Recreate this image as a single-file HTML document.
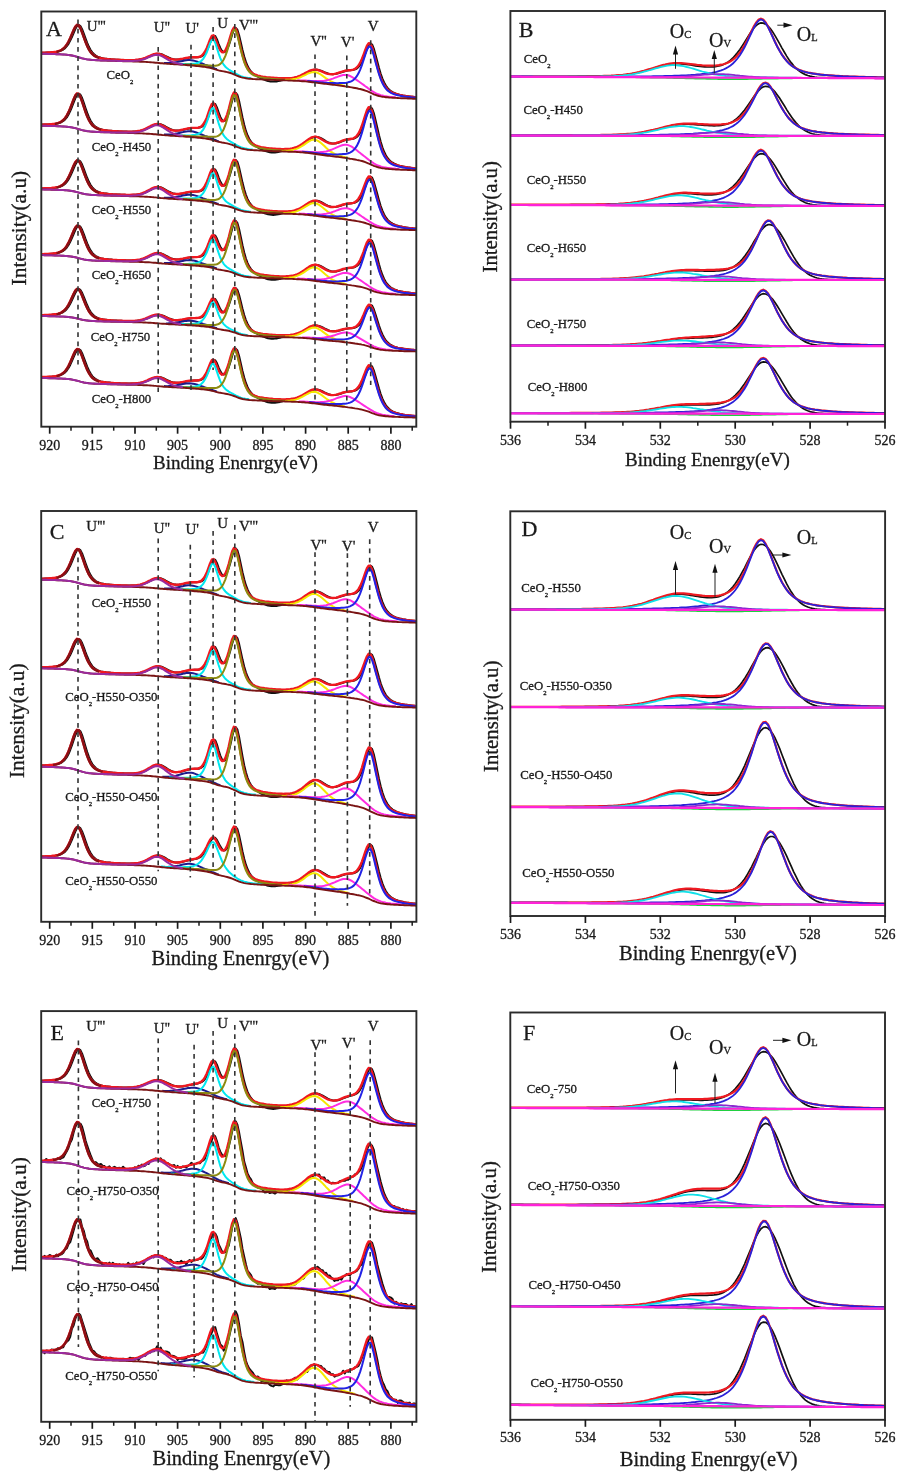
<!DOCTYPE html>
<html><head><meta charset="utf-8"><style>
html,body{margin:0;padding:0;background:#fff;width:900px;height:1483px;overflow:hidden}
svg{display:block;filter:blur(0.4px)}
text{font-family:"Liberation Serif", serif;fill:#1a1a1a;stroke:#1a1a1a;stroke-width:0.3px}
</style></head><body>
<svg width="900" height="1483" viewBox="0 0 900 1483">
<rect width="900" height="1483" fill="#fff"/>
<defs><clipPath id="clipA"><rect x="41.3" y="11.5" width="375.0" height="415.2"/></clipPath><clipPath id="clipB"><rect x="510.4" y="11.0" width="374.6" height="410.7"/></clipPath><clipPath id="clipC"><rect x="41.2" y="511.0" width="375.2" height="410.8"/></clipPath><clipPath id="clipD"><rect x="510.3" y="511.3" width="374.8" height="404.7"/></clipPath><clipPath id="clipE"><rect x="41.2" y="1011.1" width="375.2" height="410.7"/></clipPath><clipPath id="clipF"><rect x="510.3" y="1012.5" width="374.7" height="407.3"/></clipPath></defs>
<g clip-path="url(#clipA)">
<path d="M41.2,52.7 42.9,52.7 44.6,52.7 46.3,52.6 48,52.6 49.7,52.5 51.4,52.4 53.1,52.3 54.8,52.1 56.5,51.9 58.2,51.6 59.9,51.1 61.6,50.4 63.3,49.5 65.1,48.1 66.8,46.2 68.5,43.8 70.2,40.6 71.9,37 73.6,33 75.3,29.1 77,26.1 78.7,24.9 80.4,26 82.1,29.2 83.8,33.6 85.5,38.3 87.2,42.8 88.9,46.8 90.6,50 92.3,52.4 94.1,54.3 95.8,55.6 97.5,56.6 99.2,57.3 100.9,57.8 102.6,58.2 104.3,58.5 106,58.7 107.7,59 109.4,59.1 111.1,59.3 112.8,59.4 114.5,59.5 116.2,59.7 117.9,59.8 119.6,59.8 121.4,59.9 123.1,60 124.8,60 126.5,60.1 128.2,60.1 129.9,60.1 131.6,60.1 133.3,60.1 135,60.1 136.7,59.9 138.4,59.8 140.1,59.5 141.8,59.2 143.5,58.8 145.2,58.2 146.9,57.6 148.6,56.9 150.4,56.1 152.1,55.4 153.8,54.7 155.5,54.1 157.2,53.8 158.9,53.7 160.6,54 162.3,54.5 164,55.3 165.7,56.1 167.4,56.9 169.1,57.7 170.8,58.4 172.5,59 174.2,59.3 175.9,59.5 177.6,59.6 179.4,59.5 181.1,59.3 182.8,59 184.5,58.6 186.2,58.2 187.9,57.9 189.6,57.6 191.3,57.4 193,57.3 194.7,57.2 196.4,57.2 198.1,57.2 199.8,57 201.5,56.4 203.2,55.4 204.9,53.6 206.7,50.9 208.4,47.2 210.1,42.9 211.8,38.5 213.5,35.8 215.2,36 216.9,39.2 218.6,43.8 220.3,48 222,50.9 223.7,52.2 225.4,51.6 227.1,49.3 228.8,45.4 230.5,40.1 232.2,34.5 233.9,29.7 235.7,27.8 237.4,29.7 239.1,35.3 240.8,42.5 242.5,50 244.2,56.5 245.9,61.9 247.6,66.1 249.3,69.2 251,71.5 252.7,73.2 254.4,74.6 256.1,75.7 257.8,76.7 259.5,77.6 261.2,78.5 262.9,79.2 264.7,79.9 266.4,80.5 268.1,81 269.8,81.4 271.5,81.6 273.2,81.6 274.9,81.5 276.6,81.4 278.3,81.1 280,80.8 281.7,80.4 283.4,80 285.1,79.7 286.8,79.3 288.5,79 290.2,78.7 292,78.4 293.7,78.1 295.4,77.7 297.1,77.2 298.8,76.7 300.5,76.1 302.2,75.3 303.9,74.5 305.6,73.6 307.3,72.7 309,71.8 310.7,71 312.4,70.3 314.1,69.8 315.8,69.6 317.5,69.7 319.2,70.1 321,70.6 322.7,71.3 324.4,72.1 326.1,72.8 327.8,73.4 329.5,73.9 331.2,74.1 332.9,74.2 334.6,74.1 336.3,73.8 338,73.4 339.7,72.9 341.4,72.3 343.1,71.7 344.8,71.2 346.5,70.8 348.2,70.5 350,70.3 351.7,70.1 353.4,69.9 355.1,69.4 356.8,68.5 358.5,67 360.2,64.8 361.9,61.8 363.6,57.9 365.3,53.4 367,48.8 368.7,45 370.4,43.3 372.1,44.5 373.8,48.6 375.5,54.7 377.3,61.5 379,68 380.7,73.8 382.4,78.6 384.1,82.5 385.8,85.6 387.5,87.9 389.2,89.7 390.9,91 392.6,92.1 394.3,92.9 396,93.6 397.7,94.1 399.4,94.6 401.1,95 402.8,95.4 404.5,95.7 406.3,96 408,96.2 409.7,96.4 411.4,96.7 413.1,96.8 414.8,97 416.5,97.2" fill="none" stroke="#111" stroke-width="2.0" stroke-linejoin="round"/>
<path d="M41.2,52.7 42.9,52.7 44.6,52.7 46.3,52.6 48,52.5 49.7,52.4 51.4,52.3 53.1,52.2 54.8,51.9 56.5,51.7 58.2,51.2 59.9,50.7 61.6,49.8 63.3,48.6 65.1,46.8 66.8,44.5 68.5,41.5 70.2,38 71.9,34 73.6,29.9 75.3,26.6 77,24.8 78.7,25.3 80.4,28.1 82.1,32.4 83.8,37.2 85.5,41.8 87.2,45.9 88.9,49.3 90.6,51.9 92.3,53.9 94.1,55.4 95.8,56.4 97.5,57.2 99.2,57.7 100.9,58.1 102.6,58.4 104.3,58.7 106,58.9 107.7,59.1 109.4,59.3 111.1,59.4 112.8,59.5 114.5,59.6 116.2,59.7 117.9,59.8 119.6,59.9 121.4,60 123.1,60 124.8,60.1 126.5,60.1 128.2,60.1 129.9,60.1 131.6,60.1 133.3,60.1 135,60 136.7,59.8 138.4,59.6 140.1,59.3 141.8,58.9 143.5,58.4 145.2,57.8 146.9,57.1 148.6,56.3 150.4,55.6 152.1,54.8 153.8,54.2 155.5,53.8 157.2,53.7 158.9,53.9 160.6,54.4 162.3,55.1 164,55.9 165.7,56.7 167.4,57.6 169.1,58.3 170.8,58.9 172.5,59.3 174.2,59.5 175.9,59.6 177.6,59.5 179.4,59.3 181.1,59 182.8,58.7 184.5,58.3 186.2,58 187.9,57.7 189.6,57.4 191.3,57.3 193,57.2 194.7,57.2 196.4,57.2 198.1,57.1 199.8,56.6 201.5,55.8 203.2,54.2 204.9,51.8 206.7,48.3 208.4,44 210.1,39.4 211.8,35.9 213.5,35.3 215.2,38.1 216.9,42.6 218.6,47.2 220.3,50.5 222,52.2 223.7,52.1 225.4,50.2 227.1,46.6 228.8,41.6 230.5,35.8 232.2,30.5 233.9,27.5 235.7,28.5 237.4,33.4 239.1,40.6 240.8,48.2 242.5,55 244.2,60.7 245.9,65 247.6,68.3 249.3,70.6 251,72.3 252.7,73.5 254.4,74.4 256.1,75 257.8,75.6 259.5,76 261.2,76.4 262.9,76.7 264.7,76.9 266.4,77.2 268.1,77.4 269.8,77.5 271.5,77.7 273.2,77.8 274.9,77.9 276.6,78 278.3,78.1 280,78.2 281.7,78.3 283.4,78.3 285.1,78.3 286.8,78.3 288.5,78.2 290.2,78.1 292,77.9 293.7,77.6 295.4,77.2 297.1,76.8 298.8,76.2 300.5,75.5 302.2,74.7 303.9,73.9 305.6,72.9 307.3,72 309,71.2 310.7,70.4 312.4,69.9 314.1,69.6 315.8,69.6 317.5,69.9 319.2,70.5 321,71.2 322.7,71.9 324.4,72.6 326.1,73.3 327.8,73.8 329.5,74.1 331.2,74.2 332.9,74.2 334.6,73.9 336.3,73.5 338,73 339.7,72.4 341.4,71.8 343.1,71.3 344.8,70.8 346.5,70.5 348.2,70.3 350,70.2 351.7,70 353.4,69.6 355.1,68.8 356.8,67.5 358.5,65.5 360.2,62.7 361.9,59 363.6,54.6 365.3,49.9 367,45.6 368.7,43.2 370.4,43.6 372.1,47.2 373.8,53 375.5,59.8 377.3,66.5 379,72.5 380.7,77.6 382.4,81.7 384.1,84.9 385.8,87.4 387.5,89.3 389.2,90.8 390.9,91.9 392.6,92.8 394.3,93.5 396,94 397.7,94.5 399.4,94.9 401.1,95.3 402.8,95.6 404.5,95.9 406.3,96.2 408,96.4 409.7,96.6 411.4,96.8 413.1,97 414.8,97.1 416.5,97.3" fill="none" stroke="#f01820" stroke-width="2.4" stroke-linejoin="round"/>
<path d="M164,63 165.7,63 167.4,63 169.1,62.9 170.8,62.8 172.5,62.7 174.2,62.5 175.9,62.2 177.6,61.9 179.4,61.6 181.1,61.2 182.8,60.9 184.5,60.6 186.2,60.3 187.9,60.1 189.6,60.1 191.3,60.2 193,60.5 194.7,60.9 196.4,61.4 198.1,62 199.8,62.6 201.5,63.3 203.2,63.9 204.9,64.6 206.7,65.2 208.4,65.9 210.1,66.5 211.8,67.3 213.5,68 215.2,68.7 216.9,69.3" fill="none" stroke="#1c1c8c" stroke-width="2.0"/>
<path d="M175.9,63.8 177.6,63.8 179.4,63.8 181.1,63.9 182.8,63.9 184.5,63.9 186.2,63.9 187.9,63.9 189.6,63.9 191.3,63.8 193,63.7 194.7,63.5 196.4,63.2 198.1,62.7 199.8,61.9 201.5,60.7 203.2,58.8 204.9,56.1 206.7,52.5 208.4,48 210.1,43.4 211.8,40 213.5,39.6 215.2,42.8 216.9,47.9 218.6,53.4 220.3,58.1 222,61.9 223.7,64.7 225.4,66.7 227.1,68.3 228.8,69.5 230.5,70.6 232.2,71.6 233.9,72.6 235.7,73.6 237.4,74.5 239.1,75.3 240.8,76.1 242.5,76.6 244.2,77.1 245.9,77.5 247.6,77.8 249.3,78 251,78.3" fill="none" stroke="#00e8f0" stroke-width="2.0"/>
<path d="M184.5,64.3 186.2,64.4 187.9,64.5 189.6,64.6 191.3,64.7 193,64.8 194.7,64.9 196.4,64.9 198.1,65 199.8,65.1 201.5,65.1 203.2,65.2 204.9,65.3 206.7,65.3 208.4,65.4 210.1,65.5 211.8,65.7 213.5,65.8 215.2,65.8 216.9,65.6 218.6,65 220.3,63.9 222,62.2 223.7,59.5 225.4,55.9 227.1,51.1 228.8,45.2 230.5,38.9 232.2,33.1 233.9,29.8 235.7,30.6 237.4,35.3 239.1,42.4 240.8,49.8 242.5,56.5 244.2,62.1 245.9,66.4 247.6,69.5 249.3,71.8 251,73.4 252.7,74.6 254.4,75.5 256.1,76.1 257.8,76.6 259.5,77 261.2,77.4 262.9,77.7 264.7,78 266.4,78.2 268.1,78.4 269.8,78.6 271.5,78.8 273.2,78.9 274.9,79.1 276.6,79.2 278.3,79.3 280,79.4 281.7,79.6 283.4,79.7 285.1,79.8" fill="none" stroke="#8c8a10" stroke-width="2.0"/>
<path d="M285.1,79.8 286.8,79.8 288.5,79.7 290.2,79.6 292,79.4 293.7,79.1 295.4,78.8 297.1,78.4 298.8,77.8 300.5,77.2 302.2,76.4 303.9,75.6 305.6,74.8 307.3,73.9 309,73.2 310.7,72.6 312.4,72.2 314.1,72.1 315.8,72.3 317.5,72.8 319.2,73.7 321,74.7 322.7,75.9 324.4,77.1 326.1,78.3 327.8,79.4 329.5,80.5 331.2,81.4 332.9,82.2 334.6,82.9 336.3,83.6 338,84.1 339.7,84.6 341.4,85 343.1,85.4 344.8,85.7" fill="none" stroke="#f5e800" stroke-width="2.0"/>
<path d="M297.1,80.3 298.8,80.3 300.5,80.4 302.2,80.5 303.9,80.5 305.6,80.6 307.3,80.7 309,80.8 310.7,80.9 312.4,81 314.1,81.1 315.8,81.1 317.5,81.1 319.2,81.1 321,81 322.7,80.9 324.4,80.7 326.1,80.4 327.8,80.1 329.5,79.6 331.2,79.1 332.9,78.6 334.6,77.9 336.3,77.3 338,76.6 339.7,76 341.4,75.5 343.1,75.1 344.8,74.9 346.5,75 348.2,75.3 350,76 351.7,76.8 353.4,77.8 355.1,78.9 356.8,80.1 358.5,81.3 360.2,82.5 361.9,83.7 363.6,84.9 365.3,86.2 367,87.4 368.7,88.7 370.4,89.9 372.1,91.1 373.8,92.1 375.5,93.1 377.3,93.9 379,94.5 380.7,95.1 382.4,95.5 384.1,95.9 385.8,96.2 387.5,96.5 389.2,96.7 390.9,96.9 392.6,97.1 394.3,97.2 396,97.4" fill="none" stroke="#ff2ce0" stroke-width="2.0"/>
<path d="M307.3,81 309,81.2 310.7,81.3 312.4,81.5 314.1,81.7 315.8,81.8 317.5,82 319.2,82.2 321,82.4 322.7,82.5 324.4,82.7 326.1,82.8 327.8,82.9 329.5,83 331.2,83 332.9,83.1 334.6,83.1 336.3,83.2 338,83.2 339.7,83.1 341.4,83.1 343.1,83 344.8,82.9 346.5,82.7 348.2,82.3 350,81.8 351.7,81.1 353.4,80 355.1,78.4 356.8,76.2 358.5,73.3 360.2,69.6 361.9,65.1 363.6,60 365.3,54.6 367,49.7 368.7,46.8 370.4,46.7 372.1,49.9 373.8,55.4 375.5,61.9 377.3,68.4 379,74.2 380.7,79.1 382.4,83.1 384.1,86.2 385.8,88.6 387.5,90.4 389.2,91.7 390.9,92.8 392.6,93.6 394.3,94.3 396,94.8 397.7,95.2 399.4,95.6 401.1,95.9 402.8,96.2 404.5,96.5 406.3,96.7 408,96.9 409.7,97.1 411.4,97.3 413.1,97.4 414.8,97.6 416.5,97.7" fill="none" stroke="#2222e6" stroke-width="2.0"/>
<path d="M41.2,53.7 42.9,53.7 44.6,53.8 46.3,53.8 48,53.9 49.7,53.9 51.4,54 53.1,54.1 54.8,54.1 56.5,54.2 58.2,54.2 59.9,54.3 61.6,54.4 63.3,54.5 65.1,54.6 66.8,54.8 68.5,55 70.2,55.2 71.9,55.5 73.6,55.9 75.3,56.3 77,56.8 78.7,57.3 80.4,57.8 82.1,58.3 83.8,58.7 85.5,59.1 87.2,59.4 88.9,59.6 90.6,59.8 92.3,60 94.1,60.1 95.8,60.2 97.5,60.3 99.2,60.4 100.9,60.5 102.6,60.5 104.3,60.6 106,60.6 107.7,60.7 109.4,60.8 111.1,60.8 112.8,60.9 114.5,60.9 116.2,61 117.9,61 119.6,61.1 121.4,61.1 123.1,61.2 124.8,61.2 126.5,61.3 128.2,61.3 129.9,61.4 131.6,61.4 133.3,61.5 135,61.5 136.7,61.6 138.4,61.6 140.1,61.7 141.8,61.7 143.5,61.8 145.2,61.9 146.9,62 148.6,62.1 150.4,62.2 152.1,62.4 153.8,62.5 155.5,62.7 157.2,62.8 158.9,63 160.6,63.2 162.3,63.3 164,63.5 165.7,63.6 167.4,63.8 169.1,63.9 170.8,64 172.5,64.1 174.2,64.2 175.9,64.3 177.6,64.4 179.4,64.6 181.1,64.7 182.8,64.8 184.5,64.9 186.2,65 187.9,65.2 189.6,65.3 191.3,65.5 193,65.6 194.7,65.8 196.4,66 198.1,66.1 199.8,66.3 201.5,66.5 203.2,66.7 204.9,66.9 206.7,67.2 208.4,67.5 210.1,67.9 211.8,68.3 213.5,68.9 215.2,69.4 216.9,69.9 218.6,70.4 220.3,70.8 222,71.1 223.7,71.4 225.4,71.7 227.1,72.1 228.8,72.5 230.5,73 232.2,73.6 233.9,74.3 235.7,75.1 237.4,75.8 239.1,76.5 240.8,77.1 242.5,77.6 244.2,77.9 245.9,78.2 247.6,78.5 249.3,78.7 251,78.8 252.7,79 254.4,79.1 256.1,79.2 257.8,79.3 259.5,79.4 261.2,79.4 262.9,79.5 264.7,79.6 266.4,79.7 268.1,79.7 269.8,79.8 271.5,79.9 273.2,79.9 274.9,80 276.6,80.1 278.3,80.1 280,80.2 281.7,80.2 283.4,80.3 285.1,80.4 286.8,80.4 288.5,80.5 290.2,80.5 292,80.6 293.7,80.7 295.4,80.8 297.1,80.9 298.8,80.9 300.5,81.1 302.2,81.2 303.9,81.3 305.6,81.4 307.3,81.6 309,81.8 310.7,82 312.4,82.2 314.1,82.4 315.8,82.6 317.5,82.9 319.2,83.1 321,83.3 322.7,83.5 324.4,83.7 326.1,83.9 327.8,84.1 329.5,84.3 331.2,84.5 332.9,84.7 334.6,84.9 336.3,85.1 338,85.3 339.7,85.5 341.4,85.8 343.1,86 344.8,86.3 346.5,86.5 348.2,86.8 350,87.1 351.7,87.4 353.4,87.7 355.1,88 356.8,88.3 358.5,88.7 360.2,89 361.9,89.5 363.6,90 365.3,90.6 367,91.2 368.7,91.9 370.4,92.7 372.1,93.5 373.8,94.3 375.5,94.9 377.3,95.5 379,96 380.7,96.4 382.4,96.7 384.1,96.9 385.8,97.2 387.5,97.3 389.2,97.5 390.9,97.6 392.6,97.7 394.3,97.8 396,97.9 397.7,98 399.4,98.1 401.1,98.2 402.8,98.3 404.5,98.3 406.3,98.4 408,98.5 409.7,98.5 411.4,98.6 413.1,98.7 414.8,98.7 416.5,98.8" fill="none" stroke="#7a1414" stroke-width="1.9"/>
<path d="M41.2,53.7 42.9,53.7 44.6,53.8 46.3,53.8 48,53.9 49.7,53.9 51.4,54 53.1,54 54.8,54.1 56.5,54.2 58.2,54.2 59.9,54.3 61.6,54.4 63.3,54.5 65.1,54.6 66.8,54.8 68.5,54.9 70.2,55.2 71.9,55.5 73.6,55.8 75.3,56.3 77,56.7 78.7,57.3 80.4,57.8 82.1,58.3 83.8,58.7 85.5,59.1 87.2,59.4 88.9,59.6 90.6,59.8 92.3,59.9 94.1,60 95.8,60.1 97.5,60.2 99.2,60.3 100.9,60.4 102.6,60.4 104.3,60.5 106,60.5 107.7,60.6 109.4,60.6 111.1,60.7 112.8,60.7 114.5,60.8 116.2,60.8 117.9,60.9 119.6,60.9 121.4,60.9 123.1,60.9 124.8,61 126.5,61 128.2,61 129.9,61 131.6,61 133.3,60.9 135,60.8 136.7,60.7 138.4,60.5 140.1,60.2 141.8,59.8 143.5,59.3 145.2,58.7 146.9,58 148.6,57.2 150.4,56.5 152.1,55.8 153.8,55.2 155.5,54.9 157.2,54.8 158.9,55.1 160.6,55.6 162.3,56.4 164,57.3 165.7,58.3 167.4,59.3 169.1,60.3 170.8,61.1 172.5,61.9 174.2,62.5 175.9,63 177.6,63.4 179.4,63.8 181.1,64.1 182.8,64.3" fill="none" stroke="#9a2a9e" stroke-width="2.0"/>
<path d="M56.5,51.8 58.2,51.4 59.9,50.8 61.6,50 63.3,48.7 65.1,47 66.8,44.7 68.5,41.7 70.2,38.2 71.9,34.2 73.6,30.2 75.3,26.8 77,25 78.7,25.6 80.4,28.3 82.1,32.6 83.8,37.4 85.5,42.1 87.2,46.2 88.9,49.6 90.6,52.2 92.3,54.2 94.1,55.7 95.8,56.7 97.5,57.5 99.2,58" fill="none" stroke="#8b0f14" stroke-width="2.3"/>
<path d="M41.2,124.6 42.9,124.6 44.6,124.6 46.3,124.5 48,124.4 49.7,124.3 51.4,124.2 53.1,124.1 54.8,123.9 56.5,123.6 58.2,123.3 59.9,122.8 61.6,122 63.3,121 65.1,119.4 66.8,117.4 68.5,114.6 70.2,111.1 71.9,107 73.6,102.6 75.3,98.3 77,94.9 78.7,93.5 80.4,94.6 82.1,98 83.8,102.8 85.5,108 87.2,112.9 88.9,117.2 90.6,120.7 92.3,123.4 94.1,125.4 95.8,126.9 97.5,127.9 99.2,128.7 100.9,129.2 102.6,129.7 104.3,130 106,130.2 107.7,130.5 109.4,130.7 111.1,130.8 112.8,131 114.5,131.1 116.2,131.2 117.9,131.3 119.6,131.4 121.4,131.5 123.1,131.5 124.8,131.6 126.5,131.6 128.2,131.7 129.9,131.7 131.6,131.7 133.3,131.6 135,131.5 136.7,131.4 138.4,131.2 140.1,130.9 141.8,130.5 143.5,130 145.2,129.4 146.9,128.7 148.6,127.8 150.4,126.9 152.1,126 153.8,125.2 155.5,124.5 157.2,124.1 158.9,124 160.6,124.3 162.3,124.9 164,125.7 165.7,126.7 167.4,127.6 169.1,128.5 170.8,129.3 172.5,129.9 174.2,130.3 175.9,130.6 177.6,130.6 179.4,130.5 181.1,130.3 182.8,129.9 184.5,129.5 186.2,129.1 187.9,128.7 189.6,128.4 191.3,128.1 193,128 194.7,127.9 196.4,127.9 198.1,127.8 199.8,127.5 201.5,126.9 203.2,125.7 204.9,123.7 206.7,120.7 208.4,116.6 210.1,111.8 211.8,106.9 213.5,103.8 215.2,103.9 216.9,107.4 218.6,112.3 220.3,116.9 222,120 223.7,121.2 225.4,120.5 227.1,117.7 228.8,113.1 230.5,107.1 232.2,100.5 233.9,95 235.7,92.7 237.4,94.8 239.1,100.9 240.8,109.1 242.5,117.4 244.2,124.8 245.9,130.9 247.6,135.5 249.3,139 251,141.6 252.7,143.6 254.4,145.1 256.1,146.3 257.8,147.3 259.5,148.3 261.2,149.2 262.9,150 264.7,150.7 266.4,151.3 268.1,151.8 269.8,152.2 271.5,152.4 273.2,152.4 274.9,152.4 276.6,152.2 278.3,151.9 280,151.6 281.7,151.2 283.4,150.8 285.1,150.5 286.8,150.1 288.5,149.7 290.2,149.4 292,149 293.7,148.6 295.4,148 297.1,147.4 298.8,146.7 300.5,145.8 302.2,144.8 303.9,143.7 305.6,142.4 307.3,141.2 309,139.9 310.7,138.7 312.4,137.8 314.1,137.1 315.8,136.8 317.5,136.9 319.2,137.4 321,138.2 322.7,139.2 324.4,140.2 326.1,141.3 327.8,142.1 329.5,142.8 331.2,143.3 332.9,143.6 334.6,143.5 336.3,143.3 338,142.9 339.7,142.3 341.4,141.6 343.1,140.9 344.8,140.3 346.5,139.8 348.2,139.4 350,139.2 351.7,139 353.4,138.7 355.1,138.1 356.8,137 358.5,135.2 360.2,132.6 361.9,129 363.6,124.5 365.3,119.2 367,113.8 368.7,109.4 370.4,107.2 372.1,108.5 373.8,113.1 375.5,120.1 377.3,127.8 379,135.2 380.7,141.8 382.4,147.3 384.1,151.8 385.8,155.3 387.5,158 389.2,160 390.9,161.5 392.6,162.7 394.3,163.7 396,164.4 397.7,165.1 399.4,165.6 401.1,166 402.8,166.4 404.5,166.8 406.3,167.1 408,167.4 409.7,167.6 411.4,167.9 413.1,168.1 414.8,168.3 416.5,168.4" fill="none" stroke="#111" stroke-width="2.0" stroke-linejoin="round"/>
<path d="M41.2,124.6 42.9,124.6 44.6,124.5 46.3,124.5 48,124.4 49.7,124.3 51.4,124.1 53.1,123.9 54.8,123.7 56.5,123.4 58.2,122.9 59.9,122.3 61.6,121.3 63.3,119.9 65.1,118 66.8,115.4 68.5,112.1 70.2,108.1 71.9,103.7 73.6,99.2 75.3,95.4 77,93.4 78.7,93.9 80.4,96.9 82.1,101.5 83.8,106.7 85.5,111.8 87.2,116.3 88.9,120 90.6,122.8 92.3,125 94.1,126.6 95.8,127.7 97.5,128.5 99.2,129.1 100.9,129.6 102.6,129.9 104.3,130.2 106,130.4 107.7,130.6 109.4,130.8 111.1,130.9 112.8,131.1 114.5,131.2 116.2,131.3 117.9,131.4 119.6,131.4 121.4,131.5 123.1,131.6 124.8,131.6 126.5,131.6 128.2,131.7 129.9,131.7 131.6,131.6 133.3,131.6 135,131.5 136.7,131.3 138.4,131 140.1,130.7 141.8,130.2 143.5,129.6 145.2,128.9 146.9,128 148.6,127.1 150.4,126.2 152.1,125.4 153.8,124.6 155.5,124.2 157.2,124 158.9,124.2 160.6,124.7 162.3,125.5 164,126.4 165.7,127.4 167.4,128.3 169.1,129.1 170.8,129.8 172.5,130.3 174.2,130.6 175.9,130.7 177.6,130.6 179.4,130.4 181.1,130 182.8,129.6 184.5,129.2 186.2,128.8 187.9,128.4 189.6,128.2 191.3,128 193,127.9 194.7,127.9 196.4,127.9 198.1,127.7 199.8,127.2 201.5,126.2 203.2,124.4 204.9,121.7 206.7,117.9 208.4,113 210.1,107.9 211.8,104 213.5,103.2 215.2,106.1 216.9,111.1 218.6,116 220.3,119.6 222,121.3 223.7,121.1 225.4,118.8 227.1,114.6 228.8,108.8 230.5,102.1 232.2,95.9 233.9,92.4 235.7,93.4 237.4,98.9 239.1,106.9 240.8,115.5 242.5,123.2 244.2,129.5 245.9,134.4 247.6,138.1 249.3,140.7 251,142.6 252.7,143.9 254.4,144.9 256.1,145.6 257.8,146.2 259.5,146.7 261.2,147.1 262.9,147.4 264.7,147.7 266.4,148 268.1,148.2 269.8,148.4 271.5,148.5 273.2,148.7 274.9,148.8 276.6,148.9 278.3,149 280,149 281.7,149.1 283.4,149.1 285.1,149 286.8,149 288.5,148.9 290.2,148.7 292,148.4 293.7,148 295.4,147.5 297.1,146.8 298.8,146 300.5,145.1 302.2,144 303.9,142.7 305.6,141.5 307.3,140.2 309,139 310.7,137.9 312.4,137.2 314.1,136.8 315.8,136.8 317.5,137.2 319.2,138 321,138.9 322.7,140 324.4,141 326.1,142 327.8,142.7 329.5,143.3 331.2,143.5 332.9,143.6 334.6,143.4 336.3,143 338,142.4 339.7,141.8 341.4,141.1 343.1,140.4 344.8,139.9 346.5,139.5 348.2,139.2 350,139 351.7,138.8 353.4,138.3 355.1,137.4 356.8,135.8 358.5,133.5 360.2,130.1 361.9,125.8 363.6,120.6 365.3,115.1 367,110.1 368.7,107.1 370.4,107.5 372.1,111.5 373.8,118.1 375.5,125.9 377.3,133.5 379,140.4 380.7,146.2 382.4,150.9 384.1,154.6 385.8,157.4 387.5,159.6 389.2,161.2 390.9,162.5 392.6,163.5 394.3,164.3 396,164.9 397.7,165.5 399.4,165.9 401.1,166.3 402.8,166.7 404.5,167 406.3,167.3 408,167.6 409.7,167.8 411.4,168 413.1,168.2 414.8,168.4 416.5,168.6" fill="none" stroke="#f01820" stroke-width="2.4" stroke-linejoin="round"/>
<path d="M164,134.6 165.7,134.6 167.4,134.6 169.1,134.5 170.8,134.4 172.5,134.2 174.2,133.9 175.9,133.6 177.6,133.3 179.4,132.9 181.1,132.5 182.8,132.1 184.5,131.7 186.2,131.4 187.9,131.2 189.6,131.2 191.3,131.3 193,131.5 194.7,132 196.4,132.5 198.1,133.1 199.8,133.8 201.5,134.5 203.2,135.2 204.9,135.9 206.7,136.5 208.4,137.2 210.1,137.9 211.8,138.6 213.5,139.3 215.2,140 216.9,140.7 218.6,141.2" fill="none" stroke="#1c1c8c" stroke-width="2.0"/>
<path d="M174.2,135.3 175.9,135.3 177.6,135.4 179.4,135.4 181.1,135.4 182.8,135.4 184.5,135.4 186.2,135.4 187.9,135.4 189.6,135.4 191.3,135.3 193,135.1 194.7,134.9 196.4,134.5 198.1,134 199.8,133.1 201.5,131.7 203.2,129.6 204.9,126.5 206.7,122.5 208.4,117.6 210.1,112.4 211.8,108.6 213.5,108.1 215.2,111.5 216.9,117.1 218.6,123.1 220.3,128.2 222,132.3 223.7,135.4 225.4,137.6 227.1,139.2 228.8,140.5 230.5,141.6 232.2,142.6 233.9,143.7 235.7,144.7 237.4,145.6 239.1,146.5 240.8,147.2 242.5,147.8 244.2,148.2 245.9,148.6 247.6,148.9 249.3,149.2 251,149.4 252.7,149.6" fill="none" stroke="#00e8f0" stroke-width="2.0"/>
<path d="M181.1,135.7 182.8,135.8 184.5,135.8 186.2,135.9 187.9,136 189.6,136.1 191.3,136.2 193,136.3 194.7,136.3 196.4,136.4 198.1,136.4 199.8,136.5 201.5,136.5 203.2,136.5 204.9,136.6 206.7,136.6 208.4,136.7 210.1,136.7 211.8,136.8 213.5,136.8 215.2,136.7 216.9,136.4 218.6,135.6 220.3,134.3 222,132.3 223.7,129.2 225.4,125 227.1,119.5 228.8,112.8 230.5,105.5 232.2,98.9 233.9,95 235.7,95.7 237.4,101 239.1,108.9 240.8,117.3 242.5,124.8 244.2,131.1 245.9,135.9 247.6,139.5 249.3,142.1 251,143.9 252.7,145.2 254.4,146.1 256.1,146.9 257.8,147.4 259.5,147.9 261.2,148.3 262.9,148.6 264.7,148.9 266.4,149.2 268.1,149.4 269.8,149.6 271.5,149.8 273.2,149.9 274.9,150.1 276.6,150.2 278.3,150.4 280,150.5 281.7,150.6 283.4,150.7 285.1,150.8 286.8,151 288.5,151.1" fill="none" stroke="#8c8a10" stroke-width="2.0"/>
<path d="M281.7,150.9 283.4,150.9 285.1,150.8 286.8,150.7 288.5,150.6 290.2,150.4 292,150.1 293.7,149.8 295.4,149.3 297.1,148.6 298.8,147.9 300.5,147 302.2,145.9 303.9,144.8 305.6,143.6 307.3,142.4 309,141.3 310.7,140.4 312.4,139.8 314.1,139.6 315.8,139.9 317.5,140.6 319.2,141.7 321,143 322.7,144.5 324.4,146.1 326.1,147.7 327.8,149.2 329.5,150.6 331.2,151.8 332.9,152.9 334.6,153.8 336.3,154.6 338,155.2 339.7,155.8 341.4,156.3 343.1,156.7 344.8,157.1 346.5,157.5 348.2,157.8" fill="none" stroke="#f5e800" stroke-width="2.0"/>
<path d="M293.7,151.3 295.4,151.3 297.1,151.4 298.8,151.4 300.5,151.5 302.2,151.6 303.9,151.6 305.6,151.7 307.3,151.8 309,151.9 310.7,152 312.4,152.1 314.1,152.2 315.8,152.2 317.5,152.3 319.2,152.2 321,152.1 322.7,152 324.4,151.7 326.1,151.4 327.8,151 329.5,150.4 331.2,149.8 332.9,149.1 334.6,148.4 336.3,147.6 338,146.8 339.7,146.1 341.4,145.5 343.1,145 344.8,144.7 346.5,144.8 348.2,145.1 350,145.8 351.7,146.7 353.4,147.8 355.1,149 356.8,150.3 358.5,151.7 360.2,153 361.9,154.4 363.6,155.7 365.3,157 367,158.4 368.7,159.7 370.4,161 372.1,162.2 373.8,163.3 375.5,164.3 377.3,165.1 379,165.8 380.7,166.4 382.4,166.9 384.1,167.3 385.8,167.6 387.5,167.9 389.2,168.1 390.9,168.3 392.6,168.5 394.3,168.6 396,168.8 397.7,168.9 399.4,169" fill="none" stroke="#ff2ce0" stroke-width="2.0"/>
<path d="M302.2,151.8 303.9,151.9 305.6,152 307.3,152.2 309,152.3 310.7,152.5 312.4,152.7 314.1,152.9 315.8,153.1 317.5,153.3 319.2,153.5 321,153.7 322.7,153.8 324.4,154 326.1,154.1 327.8,154.2 329.5,154.3 331.2,154.3 332.9,154.4 334.6,154.4 336.3,154.4 338,154.4 339.7,154.3 341.4,154.3 343.1,154.1 344.8,153.9 346.5,153.7 348.2,153.2 350,152.6 351.7,151.7 353.4,150.3 355.1,148.5 356.8,145.9 358.5,142.5 360.2,138.2 361.9,132.9 363.6,126.9 365.3,120.5 367,114.9 368.7,111.3 370.4,111.1 372.1,114.7 373.8,120.9 375.5,128.3 377.3,135.7 379,142.3 380.7,147.9 382.4,152.5 384.1,156 385.8,158.7 387.5,160.8 389.2,162.4 390.9,163.6 392.6,164.5 394.3,165.2 396,165.8 397.7,166.3 399.4,166.7 401.1,167.1 402.8,167.4 404.5,167.7 406.3,168 408,168.2 409.7,168.4 411.4,168.6 413.1,168.8 414.8,168.9 416.5,169.1" fill="none" stroke="#2222e6" stroke-width="2.0"/>
<path d="M41.2,125.7 42.9,125.7 44.6,125.8 46.3,125.8 48,125.9 49.7,125.9 51.4,126 53.1,126 54.8,126.1 56.5,126.2 58.2,126.2 59.9,126.3 61.6,126.4 63.3,126.5 65.1,126.6 66.8,126.7 68.5,126.9 70.2,127.2 71.9,127.4 73.6,127.8 75.3,128.2 77,128.7 78.7,129.2 80.4,129.6 82.1,130.1 83.8,130.5 85.5,130.9 87.2,131.2 88.9,131.4 90.6,131.6 92.3,131.7 94.1,131.8 95.8,131.9 97.5,132 99.2,132.1 100.9,132.2 102.6,132.2 104.3,132.3 106,132.3 107.7,132.4 109.4,132.4 111.1,132.5 112.8,132.6 114.5,132.6 116.2,132.7 117.9,132.7 119.6,132.7 121.4,132.8 123.1,132.8 124.8,132.9 126.5,132.9 128.2,133 129.9,133 131.6,133.1 133.3,133.1 135,133.2 136.7,133.2 138.4,133.3 140.1,133.4 141.8,133.4 143.5,133.5 145.2,133.6 146.9,133.7 148.6,133.8 150.4,133.9 152.1,134 153.8,134.2 155.5,134.3 157.2,134.5 158.9,134.7 160.6,134.8 162.3,135 164,135.1 165.7,135.3 167.4,135.4 169.1,135.6 170.8,135.7 172.5,135.8 174.2,135.9 175.9,136 177.6,136.1 179.4,136.2 181.1,136.3 182.8,136.4 184.5,136.5 186.2,136.7 187.9,136.8 189.6,136.9 191.3,137.1 193,137.2 194.7,137.4 196.4,137.5 198.1,137.7 199.8,137.9 201.5,138 203.2,138.2 204.9,138.4 206.7,138.7 208.4,139 210.1,139.4 211.8,139.8 213.5,140.3 215.2,140.8 216.9,141.3 218.6,141.8 220.3,142.1 222,142.5 223.7,142.8 225.4,143.1 227.1,143.4 228.8,143.8 230.5,144.3 232.2,144.9 233.9,145.6 235.7,146.3 237.4,147.1 239.1,147.7 240.8,148.3 242.5,148.8 244.2,149.1 245.9,149.4 247.6,149.7 249.3,149.9 251,150 252.7,150.1 254.4,150.2 256.1,150.3 257.8,150.4 259.5,150.5 261.2,150.6 262.9,150.7 264.7,150.8 266.4,150.8 268.1,150.9 269.8,151 271.5,151 273.2,151.1 274.9,151.2 276.6,151.2 278.3,151.3 280,151.3 281.7,151.4 283.4,151.5 285.1,151.5 286.8,151.6 288.5,151.7 290.2,151.7 292,151.8 293.7,151.9 295.4,151.9 297.1,152 298.8,152.1 300.5,152.2 302.2,152.4 303.9,152.5 305.6,152.7 307.3,152.9 309,153.1 310.7,153.3 312.4,153.5 314.1,153.7 315.8,154 317.5,154.3 319.2,154.5 321,154.8 322.7,155 324.4,155.2 326.1,155.5 327.8,155.7 329.5,155.9 331.2,156.1 332.9,156.3 334.6,156.5 336.3,156.7 338,156.9 339.7,157.1 341.4,157.3 343.1,157.6 344.8,157.8 346.5,158.1 348.2,158.4 350,158.7 351.7,158.9 353.4,159.2 355.1,159.5 356.8,159.9 358.5,160.2 360.2,160.6 361.9,161 363.6,161.5 365.3,162.1 367,162.8 368.7,163.5 370.4,164.3 372.1,165 373.8,165.8 375.5,166.4 377.3,167 379,167.5 380.7,167.9 382.4,168.2 384.1,168.4 385.8,168.7 387.5,168.8 389.2,169 390.9,169.1 392.6,169.2 394.3,169.4 396,169.5 397.7,169.5 399.4,169.6 401.1,169.7 402.8,169.8 404.5,169.9 406.3,169.9 408,170 409.7,170 411.4,170.1 413.1,170.2 414.8,170.2 416.5,170.3" fill="none" stroke="#7a1414" stroke-width="1.9"/>
<path d="M41.2,125.7 42.9,125.7 44.6,125.8 46.3,125.8 48,125.9 49.7,125.9 51.4,126 53.1,126 54.8,126.1 56.5,126.1 58.2,126.2 59.9,126.3 61.6,126.4 63.3,126.5 65.1,126.6 66.8,126.7 68.5,126.9 70.2,127.1 71.9,127.4 73.6,127.7 75.3,128.1 77,128.6 78.7,129.1 80.4,129.6 82.1,130.1 83.8,130.5 85.5,130.8 87.2,131.1 88.9,131.3 90.6,131.5 92.3,131.6 94.1,131.7 95.8,131.8 97.5,131.9 99.2,132 100.9,132.1 102.6,132.1 104.3,132.2 106,132.2 107.7,132.3 109.4,132.3 111.1,132.4 112.8,132.4 114.5,132.4 116.2,132.5 117.9,132.5 119.6,132.5 121.4,132.6 123.1,132.6 124.8,132.6 126.5,132.6 128.2,132.6 129.9,132.6 131.6,132.6 133.3,132.5 135,132.4 136.7,132.2 138.4,132 140.1,131.6 141.8,131.1 143.5,130.5 145.2,129.8 146.9,129 148.6,128.2 150.4,127.3 152.1,126.5 153.8,125.8 155.5,125.3 157.2,125.2 158.9,125.5 160.6,126.1 162.3,127 164,128.1 165.7,129.2 167.4,130.3 169.1,131.4 170.8,132.3 172.5,133.2 174.2,133.9 175.9,134.4 177.6,134.9 179.4,135.3 181.1,135.6 182.8,135.8" fill="none" stroke="#9a2a9e" stroke-width="2.0"/>
<path d="M54.8,123.9 56.5,123.6 58.2,123.1 59.9,122.5 61.6,121.5 63.3,120.1 65.1,118.2 66.8,115.6 68.5,112.4 70.2,108.4 71.9,103.9 73.6,99.4 75.3,95.7 77,93.7 78.7,94.2 80.4,97.1 82.1,101.8 83.8,107 85.5,112.1 87.2,116.6 88.9,120.3 90.6,123.2 92.3,125.4 94.1,126.9 95.8,128.1 97.5,128.9 99.2,129.5 100.9,130" fill="none" stroke="#8b0f14" stroke-width="2.3"/>
<path d="M41.2,188.4 42.9,188.4 44.6,188.4 46.3,188.3 48,188.3 49.7,188.2 51.4,188.1 53.1,187.9 54.8,187.8 56.5,187.5 58.2,187.2 59.9,186.7 61.6,186.1 63.3,185.1 65.1,183.8 66.8,181.9 68.5,179.4 70.2,176.3 71.9,172.6 73.6,168.6 75.3,164.7 77,161.7 78.7,160.4 80.4,161.4 82.1,164.5 83.8,168.8 85.5,173.5 87.2,178 88.9,181.8 90.6,185 92.3,187.4 94.1,189.3 95.8,190.6 97.5,191.5 99.2,192.2 100.9,192.7 102.6,193.1 104.3,193.4 106,193.6 107.7,193.8 109.4,194 111.1,194.1 112.8,194.3 114.5,194.4 116.2,194.5 117.9,194.6 119.6,194.6 121.4,194.7 123.1,194.8 124.8,194.8 126.5,194.9 128.2,194.9 129.9,194.9 131.6,194.9 133.3,194.8 135,194.7 136.7,194.6 138.4,194.4 140.1,194.1 141.8,193.7 143.5,193.2 145.2,192.5 146.9,191.8 148.6,190.9 150.4,190 152.1,189.1 153.8,188.2 155.5,187.5 157.2,187.1 158.9,187.1 160.6,187.3 162.3,187.9 164,188.8 165.7,189.8 167.4,190.8 169.1,191.7 170.8,192.5 172.5,193.2 174.2,193.6 175.9,193.9 177.6,194 179.4,194 181.1,193.8 182.8,193.5 184.5,193.1 186.2,192.7 187.9,192.4 189.6,192 191.3,191.8 193,191.7 194.7,191.6 196.4,191.6 198.1,191.6 199.8,191.3 201.5,190.7 203.2,189.6 204.9,187.8 206.7,185 208.4,181.2 210.1,176.7 211.8,172.2 213.5,169.3 215.2,169.5 216.9,172.7 218.6,177.3 220.3,181.6 222,184.5 223.7,185.7 225.4,185.1 227.1,182.6 228.8,178.4 230.5,173 232.2,167 233.9,162.1 235.7,159.9 237.4,161.9 239.1,167.5 240.8,175 242.5,182.6 244.2,189.3 245.9,194.8 247.6,199.1 249.3,202.3 251,204.7 252.7,206.5 254.4,207.8 256.1,209 257.8,210 259.5,210.9 261.2,211.7 262.9,212.5 264.7,213.2 266.4,213.8 268.1,214.3 269.8,214.6 271.5,214.8 273.2,214.9 274.9,214.8 276.6,214.6 278.3,214.3 280,214 281.7,213.6 283.4,213.2 285.1,212.9 286.8,212.5 288.5,212.2 290.2,211.8 292,211.5 293.7,211.1 295.4,210.6 297.1,210.1 298.8,209.4 300.5,208.6 302.2,207.7 303.9,206.7 305.6,205.6 307.3,204.5 309,203.4 310.7,202.4 312.4,201.5 314.1,201 315.8,200.7 317.5,200.8 319.2,201.3 321,202 322.7,202.9 324.4,203.9 326.1,204.8 327.8,205.6 329.5,206.3 331.2,206.7 332.9,207 334.6,207 336.3,206.8 338,206.5 339.7,206 341.4,205.5 343.1,204.9 344.8,204.4 346.5,204 348.2,203.7 350,203.5 351.7,203.3 353.4,203.1 355.1,202.6 356.8,201.7 358.5,200.2 360.2,198 361.9,195 363.6,191.1 365.3,186.7 367,182.1 368.7,178.3 370.4,176.6 372.1,177.6 373.8,181.6 375.5,187.5 377.3,194 379,200.4 380.7,206 382.4,210.6 384.1,214.4 385.8,217.4 387.5,219.7 389.2,221.4 390.9,222.7 392.6,223.7 394.3,224.5 396,225.2 397.7,225.7 399.4,226.2 401.1,226.5 402.8,226.9 404.5,227.2 406.3,227.5 408,227.7 409.7,227.9 411.4,228.1 413.1,228.3 414.8,228.4 416.5,228.6" fill="none" stroke="#111" stroke-width="2.0" stroke-linejoin="round"/>
<path d="M41.2,188.4 42.9,188.4 44.6,188.3 46.3,188.3 48,188.2 49.7,188.1 51.4,188 53.1,187.8 54.8,187.6 56.5,187.3 58.2,186.9 59.9,186.3 61.6,185.4 63.3,184.2 65.1,182.5 66.8,180.1 68.5,177.2 70.2,173.6 71.9,169.6 73.6,165.5 75.3,162.1 77,160.3 78.7,160.8 80.4,163.5 82.1,167.6 83.8,172.4 85.5,176.9 87.2,181 88.9,184.3 90.6,186.9 92.3,188.9 94.1,190.3 95.8,191.3 97.5,192.1 99.2,192.6 100.9,193 102.6,193.3 104.3,193.6 106,193.8 107.7,194 109.4,194.1 111.1,194.2 112.8,194.4 114.5,194.5 116.2,194.5 117.9,194.6 119.6,194.7 121.4,194.8 123.1,194.8 124.8,194.8 126.5,194.9 128.2,194.9 129.9,194.9 131.6,194.8 133.3,194.8 135,194.7 136.7,194.5 138.4,194.2 140.1,193.8 141.8,193.3 143.5,192.7 145.2,192 146.9,191.1 148.6,190.2 150.4,189.3 152.1,188.4 153.8,187.7 155.5,187.2 157.2,187 158.9,187.2 160.6,187.7 162.3,188.5 164,189.5 165.7,190.5 167.4,191.5 169.1,192.3 170.8,193 172.5,193.6 174.2,193.9 175.9,194 177.6,194 179.4,193.8 181.1,193.5 182.8,193.2 184.5,192.8 186.2,192.4 187.9,192.1 189.6,191.9 191.3,191.7 193,191.6 194.7,191.6 196.4,191.6 198.1,191.4 199.8,191 201.5,190 203.2,188.4 204.9,185.9 206.7,182.3 208.4,177.9 210.1,173.1 211.8,169.5 213.5,168.8 215.2,171.5 216.9,176.2 218.6,180.7 220.3,184.1 222,185.8 223.7,185.6 225.4,183.6 227.1,179.8 228.8,174.5 230.5,168.4 232.2,162.8 233.9,159.7 235.7,160.6 237.4,165.6 239.1,173 240.8,180.8 242.5,187.8 244.2,193.6 245.9,198.1 247.6,201.4 249.3,203.8 251,205.5 252.7,206.7 254.4,207.6 256.1,208.3 257.8,208.8 259.5,209.3 261.2,209.6 262.9,209.9 264.7,210.2 266.4,210.4 268.1,210.6 269.8,210.8 271.5,210.9 273.2,211.1 274.9,211.2 276.6,211.3 278.3,211.4 280,211.4 281.7,211.5 283.4,211.5 285.1,211.5 286.8,211.4 288.5,211.3 290.2,211.1 292,210.9 293.7,210.6 295.4,210.1 297.1,209.5 298.8,208.8 300.5,208 302.2,207 303.9,205.9 305.6,204.8 307.3,203.7 309,202.6 310.7,201.7 312.4,201 314.1,200.7 315.8,200.7 317.5,201.1 319.2,201.8 321,202.7 322.7,203.6 324.4,204.6 326.1,205.4 327.8,206.1 329.5,206.7 331.2,207 332.9,207 334.6,206.9 336.3,206.6 338,206.2 339.7,205.6 341.4,205.1 343.1,204.5 344.8,204.1 346.5,203.7 348.2,203.5 350,203.4 351.7,203.2 353.4,202.8 355.1,202 356.8,200.7 358.5,198.7 360.2,195.9 361.9,192.2 363.6,187.8 365.3,183.2 367,179 368.7,176.5 370.4,176.8 372.1,180.2 373.8,185.8 375.5,192.4 377.3,198.9 379,204.7 380.7,209.6 382.4,213.6 384.1,216.8 385.8,219.2 387.5,221 389.2,222.4 390.9,223.5 392.6,224.4 394.3,225 396,225.6 397.7,226.1 399.4,226.5 401.1,226.8 402.8,227.1 404.5,227.4 406.3,227.6 408,227.9 409.7,228.1 411.4,228.2 413.1,228.4 414.8,228.6 416.5,228.7" fill="none" stroke="#f01820" stroke-width="2.4" stroke-linejoin="round"/>
<path d="M164,197.7 165.7,197.8 167.4,197.7 169.1,197.7 170.8,197.6 172.5,197.4 174.2,197.2 175.9,196.9 177.6,196.6 179.4,196.2 181.1,195.9 182.8,195.5 184.5,195.2 186.2,194.9 187.9,194.7 189.6,194.6 191.3,194.7 193,195 194.7,195.4 196.4,195.9 198.1,196.5 199.8,197.1 201.5,197.7 203.2,198.4 204.9,199 206.7,199.7 208.4,200.3 210.1,200.9 211.8,201.6 213.5,202.3 215.2,202.9 216.9,203.5 218.6,204" fill="none" stroke="#1c1c8c" stroke-width="2.0"/>
<path d="M174.2,198.4 175.9,198.5 177.6,198.5 179.4,198.6 181.1,198.6 182.8,198.6 184.5,198.6 186.2,198.6 187.9,198.6 189.6,198.5 191.3,198.5 193,198.3 194.7,198.1 196.4,197.8 198.1,197.2 199.8,196.4 201.5,195.1 203.2,193.2 204.9,190.4 206.7,186.6 208.4,182.1 210.1,177.3 211.8,173.7 213.5,173.3 215.2,176.4 216.9,181.7 218.6,187.2 220.3,192 222,195.8 223.7,198.6 225.4,200.7 227.1,202.2 228.8,203.4 230.5,204.4 232.2,205.4 233.9,206.4 235.7,207.3 237.4,208.2 239.1,208.9 240.8,209.6 242.5,210.2 244.2,210.6 245.9,211 247.6,211.2 249.3,211.5 251,211.7" fill="none" stroke="#00e8f0" stroke-width="2.0"/>
<path d="M182.8,198.9 184.5,199 186.2,199.1 187.9,199.2 189.6,199.2 191.3,199.3 193,199.4 194.7,199.5 196.4,199.5 198.1,199.6 199.8,199.6 201.5,199.7 203.2,199.7 204.9,199.7 206.7,199.8 208.4,199.8 210.1,199.9 211.8,200 213.5,200 215.2,199.9 216.9,199.6 218.6,199 220.3,197.8 222,196 223.7,193.2 225.4,189.3 227.1,184.3 228.8,178.2 230.5,171.6 232.2,165.6 233.9,162.1 235.7,162.8 237.4,167.6 239.1,174.8 240.8,182.4 242.5,189.3 244.2,195 245.9,199.4 247.6,202.7 249.3,205 251,206.7 252.7,207.9 254.4,208.7 256.1,209.4 257.8,209.9 259.5,210.3 261.2,210.7 262.9,211 264.7,211.3 266.4,211.5 268.1,211.7 269.8,211.9 271.5,212.1 273.2,212.2 274.9,212.4 276.6,212.5 278.3,212.6 280,212.7 281.7,212.8 283.4,212.9 285.1,213 286.8,213.1" fill="none" stroke="#8c8a10" stroke-width="2.0"/>
<path d="M283.4,213.1 285.1,213 286.8,212.9 288.5,212.8 290.2,212.7 292,212.4 293.7,212.1 295.4,211.7 297.1,211.1 298.8,210.4 300.5,209.6 302.2,208.7 303.9,207.7 305.6,206.6 307.3,205.6 309,204.6 310.7,203.8 312.4,203.3 314.1,203.1 315.8,203.4 317.5,204 319.2,204.9 321,206.2 322.7,207.5 324.4,208.9 326.1,210.3 327.8,211.7 329.5,212.9 331.2,214 332.9,214.9 334.6,215.7 336.3,216.4 338,217 339.7,217.5 341.4,217.9 343.1,218.3 344.8,218.7 346.5,219" fill="none" stroke="#f5e800" stroke-width="2.0"/>
<path d="M298.8,213.6 300.5,213.7 302.2,213.7 303.9,213.8 305.6,213.9 307.3,214 309,214.1 310.7,214.2 312.4,214.3 314.1,214.4 315.8,214.4 317.5,214.4 319.2,214.4 321,214.4 322.7,214.2 324.4,214 326.1,213.8 327.8,213.4 329.5,213 331.2,212.5 332.9,211.9 334.6,211.3 336.3,210.6 338,210 339.7,209.3 341.4,208.8 343.1,208.4 344.8,208.2 346.5,208.3 348.2,208.6 350,209.1 351.7,209.9 353.4,210.8 355.1,211.9 356.8,213 358.5,214.2 360.2,215.3 361.9,216.5 363.6,217.6 365.3,218.8 367,219.9 368.7,221 370.4,222.1 372.1,223.2 373.8,224.2 375.5,225 377.3,225.7 379,226.3 380.7,226.8 382.4,227.2 384.1,227.6 385.8,227.8 387.5,228.1 389.2,228.3 390.9,228.4 392.6,228.6 394.3,228.7 396,228.9" fill="none" stroke="#ff2ce0" stroke-width="2.0"/>
<path d="M307.3,214.3 309,214.4 310.7,214.6 312.4,214.8 314.1,214.9 315.8,215.1 317.5,215.3 319.2,215.5 321,215.7 322.7,215.8 324.4,215.9 326.1,216.1 327.8,216.2 329.5,216.2 331.2,216.3 332.9,216.3 334.6,216.4 336.3,216.4 338,216.4 339.7,216.3 341.4,216.3 343.1,216.2 344.8,216 346.5,215.8 348.2,215.4 350,214.9 351.7,214.1 353.4,213 355.1,211.4 356.8,209.2 358.5,206.4 360.2,202.7 361.9,198.3 363.6,193.2 365.3,187.8 367,183 368.7,180 370.4,179.9 372.1,182.9 373.8,188.2 375.5,194.5 377.3,200.8 379,206.4 380.7,211.1 382.4,215 384.1,218 385.8,220.3 387.5,222.1 389.2,223.4 390.9,224.4 392.6,225.2 394.3,225.8 396,226.4 397.7,226.8 399.4,227.1 401.1,227.5 402.8,227.7 404.5,228 406.3,228.2 408,228.4 409.7,228.6 411.4,228.7 413.1,228.9 414.8,229 416.5,229.2" fill="none" stroke="#2222e6" stroke-width="2.0"/>
<path d="M41.2,189.4 42.9,189.4 44.6,189.5 46.3,189.5 48,189.6 49.7,189.6 51.4,189.7 53.1,189.7 54.8,189.8 56.5,189.8 58.2,189.9 59.9,190 61.6,190 63.3,190.1 65.1,190.2 66.8,190.4 68.5,190.5 70.2,190.7 71.9,191 73.6,191.3 75.3,191.7 77,192.1 78.7,192.6 80.4,193 82.1,193.5 83.8,193.9 85.5,194.2 87.2,194.4 88.9,194.6 90.6,194.8 92.3,194.9 94.1,195.1 95.8,195.1 97.5,195.2 99.2,195.3 100.9,195.4 102.6,195.4 104.3,195.5 106,195.5 107.7,195.6 109.4,195.6 111.1,195.7 112.8,195.7 114.5,195.8 116.2,195.8 117.9,195.9 119.6,195.9 121.4,196 123.1,196 124.8,196 126.5,196.1 128.2,196.1 129.9,196.2 131.6,196.2 133.3,196.3 135,196.3 136.7,196.4 138.4,196.4 140.1,196.5 141.8,196.5 143.5,196.6 145.2,196.7 146.9,196.8 148.6,196.9 150.4,197 152.1,197.1 153.8,197.3 155.5,197.4 157.2,197.6 158.9,197.8 160.6,198 162.3,198.1 164,198.3 165.7,198.4 167.4,198.6 169.1,198.7 170.8,198.8 172.5,198.9 174.2,199 175.9,199.1 177.6,199.2 179.4,199.3 181.1,199.4 182.8,199.5 184.5,199.6 186.2,199.7 187.9,199.9 189.6,200 191.3,200.1 193,200.3 194.7,200.4 196.4,200.6 198.1,200.7 199.8,200.9 201.5,201 203.2,201.2 204.9,201.4 206.7,201.6 208.4,201.9 210.1,202.3 211.8,202.7 213.5,203.2 215.2,203.7 216.9,204.1 218.6,204.6 220.3,204.9 222,205.2 223.7,205.5 225.4,205.8 227.1,206.1 228.8,206.5 230.5,207 232.2,207.5 233.9,208.2 235.7,208.8 237.4,209.5 239.1,210.1 240.8,210.7 242.5,211.1 244.2,211.5 245.9,211.7 247.6,211.9 249.3,212.1 251,212.3 252.7,212.4 254.4,212.5 256.1,212.6 257.8,212.7 259.5,212.7 261.2,212.8 262.9,212.9 264.7,212.9 266.4,213 268.1,213.1 269.8,213.1 271.5,213.2 273.2,213.3 274.9,213.3 276.6,213.4 278.3,213.4 280,213.5 281.7,213.5 283.4,213.6 285.1,213.7 286.8,213.7 288.5,213.8 290.2,213.8 292,213.9 293.7,214 295.4,214 297.1,214.1 298.8,214.2 300.5,214.3 302.2,214.4 303.9,214.5 305.6,214.7 307.3,214.9 309,215 310.7,215.2 312.4,215.4 314.1,215.7 315.8,215.9 317.5,216.1 319.2,216.4 321,216.6 322.7,216.8 324.4,217 326.1,217.2 327.8,217.4 329.5,217.6 331.2,217.7 332.9,217.9 334.6,218.1 336.3,218.3 338,218.5 339.7,218.7 341.4,218.9 343.1,219.1 344.8,219.3 346.5,219.5 348.2,219.8 350,220 351.7,220.3 353.4,220.5 355.1,220.8 356.8,221.1 358.5,221.4 360.2,221.7 361.9,222.1 363.6,222.5 365.3,223 367,223.6 368.7,224.2 370.4,224.9 372.1,225.6 373.8,226.2 375.5,226.8 377.3,227.3 379,227.7 380.7,228.1 382.4,228.3 384.1,228.6 385.8,228.8 387.5,228.9 389.2,229 390.9,229.2 392.6,229.3 394.3,229.4 396,229.4 397.7,229.5 399.4,229.6 401.1,229.7 402.8,229.7 404.5,229.8 406.3,229.9 408,229.9 409.7,230 411.4,230 413.1,230.1 414.8,230.1 416.5,230.2" fill="none" stroke="#7a1414" stroke-width="1.9"/>
<path d="M41.2,189.4 42.9,189.4 44.6,189.5 46.3,189.5 48,189.5 49.7,189.6 51.4,189.6 53.1,189.7 54.8,189.7 56.5,189.8 58.2,189.9 59.9,189.9 61.6,190 63.3,190.1 65.1,190.2 66.8,190.3 68.5,190.5 70.2,190.7 71.9,191 73.6,191.3 75.3,191.7 77,192.1 78.7,192.5 80.4,193 82.1,193.4 83.8,193.8 85.5,194.1 87.2,194.4 88.9,194.6 90.6,194.7 92.3,194.9 94.1,195 95.8,195.1 97.5,195.1 99.2,195.2 100.9,195.3 102.6,195.3 104.3,195.4 106,195.4 107.7,195.5 109.4,195.5 111.1,195.5 112.8,195.6 114.5,195.6 116.2,195.6 117.9,195.7 119.6,195.7 121.4,195.7 123.1,195.7 124.8,195.8 126.5,195.8 128.2,195.8 129.9,195.7 131.6,195.7 133.3,195.6 135,195.5 136.7,195.3 138.4,195 140.1,194.7 141.8,194.2 143.5,193.6 145.2,192.9 146.9,192 148.6,191.1 150.4,190.2 152.1,189.4 153.8,188.7 155.5,188.2 157.2,188.1 158.9,188.4 160.6,189 162.3,189.9 164,191 165.7,192.2 167.4,193.3 169.1,194.4 170.8,195.4 172.5,196.2 174.2,196.9 175.9,197.5 177.6,198 179.4,198.4 181.1,198.7 182.8,198.9" fill="none" stroke="#9a2a9e" stroke-width="2.0"/>
<path d="M56.5,187.5 58.2,187.1 59.9,186.5 61.6,185.6 63.3,184.4 65.1,182.7 66.8,180.3 68.5,177.4 70.2,173.8 71.9,169.8 73.6,165.7 75.3,162.4 77,160.5 78.7,161 80.4,163.7 82.1,167.9 83.8,172.6 85.5,177.2 87.2,181.3 88.9,184.6 90.6,187.2 92.3,189.2 94.1,190.6 95.8,191.7 97.5,192.4 99.2,193" fill="none" stroke="#8b0f14" stroke-width="2.3"/>
<path d="M41.2,254.1 42.9,254.1 44.6,254.1 46.3,254 48,253.9 49.7,253.9 51.4,253.7 53.1,253.6 54.8,253.4 56.5,253.2 58.2,252.9 59.9,252.4 61.6,251.7 63.3,250.8 65.1,249.4 66.8,247.5 68.5,245 70.2,241.8 71.9,238.1 73.6,234 75.3,230 77,227 78.7,225.7 80.4,226.7 82.1,229.8 83.8,234.1 85.5,238.9 87.2,243.3 88.9,247.2 90.6,250.4 92.3,252.9 94.1,254.7 95.8,256.1 97.5,257 99.2,257.7 100.9,258.2 102.6,258.6 104.3,258.9 106,259.1 107.7,259.3 109.4,259.5 111.1,259.6 112.8,259.8 114.5,259.9 116.2,260 117.9,260.1 119.6,260.1 121.4,260.2 123.1,260.3 124.8,260.3 126.5,260.4 128.2,260.4 129.9,260.4 131.6,260.4 133.3,260.3 135,260.3 136.7,260.1 138.4,259.9 140.1,259.7 141.8,259.3 143.5,258.8 145.2,258.2 146.9,257.5 148.6,256.7 150.4,255.8 152.1,254.9 153.8,254.1 155.5,253.5 157.2,253.1 158.9,253 160.6,253.3 162.3,253.9 164,254.7 165.7,255.6 167.4,256.5 169.1,257.4 170.8,258.1 172.5,258.7 174.2,259.1 175.9,259.4 177.6,259.5 179.4,259.4 181.1,259.2 182.8,258.9 184.5,258.6 186.2,258.2 187.9,257.8 189.6,257.5 191.3,257.3 193,257.2 194.7,257.1 196.4,257.1 198.1,257 199.8,256.8 201.5,256.2 203.2,255.1 204.9,253.3 206.7,250.7 208.4,247 210.1,242.7 211.8,238.4 213.5,235.5 215.2,235.6 216.9,238.6 218.6,242.8 220.3,246.7 222,249.3 223.7,250.1 225.4,249.1 227.1,246.1 228.8,241.4 230.5,235.3 232.2,228.7 233.9,223.2 235.7,220.8 237.4,222.9 239.1,228.9 240.8,237 242.5,245.2 244.2,252.5 245.9,258.5 247.6,263.1 249.3,266.6 251,269.1 252.7,271 254.4,272.5 256.1,273.7 257.8,274.8 259.5,275.7 261.2,276.6 262.9,277.4 264.7,278.1 266.4,278.7 268.1,279.2 269.8,279.5 271.5,279.7 273.2,279.8 274.9,279.7 276.6,279.5 278.3,279.3 280,278.9 281.7,278.6 283.4,278.2 285.1,277.8 286.8,277.4 288.5,277.1 290.2,276.7 292,276.4 293.7,275.9 295.4,275.5 297.1,274.9 298.8,274.2 300.5,273.3 302.2,272.4 303.9,271.3 305.6,270.1 307.3,268.9 309,267.7 310.7,266.6 312.4,265.7 314.1,265.1 315.8,264.8 317.5,264.9 319.2,265.4 321,266.2 322.7,267.1 324.4,268.2 326.1,269.2 327.8,270 329.5,270.8 331.2,271.3 332.9,271.5 334.6,271.6 336.3,271.4 338,271.1 339.7,270.6 341.4,270 343.1,269.4 344.8,268.9 346.5,268.5 348.2,268.1 350,267.9 351.7,267.7 353.4,267.5 355.1,267 356.8,266 358.5,264.5 360.2,262.2 361.9,259 363.6,255 365.3,250.4 367,245.6 368.7,241.7 370.4,239.8 372.1,240.9 373.8,245 375.5,251 377.3,257.8 379,264.3 380.7,270.1 382.4,275 384.1,278.9 385.8,282 387.5,284.3 389.2,286.1 390.9,287.5 392.6,288.5 394.3,289.4 396,290 397.7,290.6 399.4,291 401.1,291.4 402.8,291.8 404.5,292.1 406.3,292.4 408,292.6 409.7,292.8 411.4,293 413.1,293.2 414.8,293.4 416.5,293.5" fill="none" stroke="#111" stroke-width="2.0" stroke-linejoin="round"/>
<path d="M41.2,254.1 42.9,254.1 44.6,254 46.3,254 48,253.9 49.7,253.8 51.4,253.7 53.1,253.5 54.8,253.3 56.5,253 58.2,252.6 59.9,251.9 61.6,251.1 63.3,249.8 65.1,248.1 66.8,245.7 68.5,242.7 70.2,239.1 71.9,235 73.6,230.9 75.3,227.5 77,225.6 78.7,226 80.4,228.7 82.1,233 83.8,237.7 85.5,242.3 87.2,246.4 88.9,249.8 90.6,252.4 92.3,254.4 94.1,255.8 95.8,256.8 97.5,257.6 99.2,258.1 100.9,258.5 102.6,258.8 104.3,259.1 106,259.3 107.7,259.5 109.4,259.6 111.1,259.7 112.8,259.9 114.5,260 116.2,260 117.9,260.1 119.6,260.2 121.4,260.3 123.1,260.3 124.8,260.3 126.5,260.4 128.2,260.4 129.9,260.4 131.6,260.4 133.3,260.3 135,260.2 136.7,260 138.4,259.8 140.1,259.4 141.8,258.9 143.5,258.4 145.2,257.7 146.9,256.9 148.6,256 150.4,255.1 152.1,254.3 153.8,253.6 155.5,253.2 157.2,253 158.9,253.2 160.6,253.7 162.3,254.4 164,255.3 165.7,256.3 167.4,257.2 169.1,258 170.8,258.6 172.5,259.1 174.2,259.4 175.9,259.5 177.6,259.4 179.4,259.3 181.1,259 182.8,258.7 184.5,258.3 186.2,257.9 187.9,257.6 189.6,257.4 191.3,257.2 193,257.1 194.7,257.1 196.4,257.1 198.1,256.9 199.8,256.4 201.5,255.5 203.2,253.9 204.9,251.5 206.7,248.1 208.4,243.8 210.1,239.2 211.8,235.7 213.5,235 215.2,237.5 216.9,241.8 218.6,246 220.3,249 222,250.3 223.7,249.7 225.4,247.2 227.1,242.9 228.8,237 230.5,230.3 232.2,224.1 233.9,220.6 235.7,221.5 237.4,226.9 239.1,234.9 240.8,243.3 242.5,250.9 244.2,257.2 245.9,262 247.6,265.6 249.3,268.2 251,270.1 252.7,271.4 254.4,272.3 256.1,273.1 257.8,273.6 259.5,274.1 261.2,274.5 262.9,274.8 264.7,275.1 266.4,275.3 268.1,275.5 269.8,275.7 271.5,275.9 273.2,276 274.9,276.1 276.6,276.2 278.3,276.3 280,276.4 281.7,276.4 283.4,276.4 285.1,276.4 286.8,276.3 288.5,276.2 290.2,276 292,275.8 293.7,275.4 295.4,274.9 297.1,274.3 298.8,273.5 300.5,272.6 302.2,271.6 303.9,270.4 305.6,269.2 307.3,268 309,266.9 310.7,265.9 312.4,265.2 314.1,264.8 315.8,264.8 317.5,265.2 319.2,266 321,266.9 322.7,267.9 324.4,268.9 326.1,269.9 327.8,270.6 329.5,271.2 331.2,271.5 332.9,271.6 334.6,271.5 336.3,271.2 338,270.7 339.7,270.2 341.4,269.6 343.1,269 344.8,268.6 346.5,268.2 348.2,268 350,267.8 351.7,267.6 353.4,267.2 355.1,266.4 356.8,265 358.5,262.9 360.2,260 361.9,256.1 363.6,251.6 365.3,246.7 367,242.3 368.7,239.7 370.4,240 372.1,243.5 373.8,249.3 375.5,256.1 377.3,262.8 379,268.9 380.7,274 382.4,278.1 384.1,281.3 385.8,283.8 387.5,285.8 389.2,287.2 390.9,288.3 392.6,289.2 394.3,289.9 396,290.4 397.7,290.9 399.4,291.3 401.1,291.7 402.8,292 404.5,292.3 406.3,292.6 408,292.8 409.7,293 411.4,293.2 413.1,293.3 414.8,293.5 416.5,293.7" fill="none" stroke="#f01820" stroke-width="2.4" stroke-linejoin="round"/>
<path d="M164,263.1 165.7,263.1 167.4,263.1 169.1,263 170.8,262.9 172.5,262.8 174.2,262.6 175.9,262.3 177.6,262 179.4,261.7 181.1,261.3 182.8,260.9 184.5,260.6 186.2,260.3 187.9,260.2 189.6,260.1 191.3,260.2 193,260.4 194.7,260.8 196.4,261.3 198.1,261.9 199.8,262.5 201.5,263.1 203.2,263.7 204.9,264.3 206.7,264.9 208.4,265.5 210.1,266.1 211.8,266.7 213.5,267.3 215.2,267.9 216.9,268.5" fill="none" stroke="#1c1c8c" stroke-width="2.0"/>
<path d="M175.9,263.8 177.6,263.8 179.4,263.9 181.1,263.9 182.8,263.9 184.5,263.9 186.2,263.9 187.9,263.9 189.6,263.8 191.3,263.7 193,263.6 194.7,263.4 196.4,263.1 198.1,262.6 199.8,261.8 201.5,260.6 203.2,258.7 204.9,256 206.7,252.5 208.4,248.1 210.1,243.5 211.8,240.2 213.5,239.7 215.2,242.7 216.9,247.7 218.6,252.9 220.3,257.5 222,261.1 223.7,263.8 225.4,265.8 227.1,267.3 228.8,268.4 230.5,269.5 232.2,270.4 233.9,271.4 235.7,272.3 237.4,273.2 239.1,274 240.8,274.7 242.5,275.2 244.2,275.7 245.9,276 247.6,276.3 249.3,276.6 251,276.8" fill="none" stroke="#00e8f0" stroke-width="2.0"/>
<path d="M181.1,264.1 182.8,264.1 184.5,264.2 186.2,264.3 187.9,264.3 189.6,264.4 191.3,264.4 193,264.5 194.7,264.6 196.4,264.6 198.1,264.6 199.8,264.7 201.5,264.7 203.2,264.7 204.9,264.7 206.7,264.7 208.4,264.7 210.1,264.7 211.8,264.8 213.5,264.7 215.2,264.6 216.9,264.2 218.6,263.4 220.3,262.1 222,260 223.7,257 225.4,252.7 227.1,247.2 228.8,240.6 230.5,233.3 232.2,226.7 233.9,222.9 235.7,223.6 237.4,228.8 239.1,236.6 240.8,244.9 242.5,252.4 244.2,258.6 245.9,263.4 247.6,266.9 249.3,269.4 251,271.2 252.7,272.5 254.4,273.4 256.1,274.2 257.8,274.7 259.5,275.2 261.2,275.6 262.9,275.9 264.7,276.2 266.4,276.4 268.1,276.6 269.8,276.8 271.5,277 273.2,277.2 274.9,277.3 276.6,277.5 278.3,277.6 280,277.7 281.7,277.8 283.4,277.9 285.1,278 286.8,278.1 288.5,278.2" fill="none" stroke="#8c8a10" stroke-width="2.0"/>
<path d="M283.4,278.1 285.1,278 286.8,277.9 288.5,277.8 290.2,277.6 292,277.4 293.7,277 295.4,276.5 297.1,275.9 298.8,275.2 300.5,274.3 302.2,273.3 303.9,272.3 305.6,271.1 307.3,270 309,268.9 310.7,268.1 312.4,267.5 314.1,267.3 315.8,267.6 317.5,268.2 319.2,269.2 321,270.5 322.7,272 324.4,273.5 326.1,274.9 327.8,276.3 329.5,277.6 331.2,278.8 332.9,279.8 334.6,280.6 336.3,281.4 338,282 339.7,282.5 341.4,283 343.1,283.3 344.8,283.7 346.5,284" fill="none" stroke="#f5e800" stroke-width="2.0"/>
<path d="M297.1,278.6 298.8,278.6 300.5,278.7 302.2,278.8 303.9,278.8 305.6,278.9 307.3,279 309,279.1 310.7,279.2 312.4,279.3 314.1,279.4 315.8,279.4 317.5,279.5 319.2,279.4 321,279.4 322.7,279.2 324.4,279 326.1,278.7 327.8,278.3 329.5,277.9 331.2,277.4 332.9,276.8 334.6,276.1 336.3,275.4 338,274.7 339.7,274.1 341.4,273.5 343.1,273.1 344.8,272.9 346.5,272.9 348.2,273.2 350,273.8 351.7,274.6 353.4,275.6 355.1,276.6 356.8,277.8 358.5,279 360.2,280.1 361.9,281.3 363.6,282.5 365.3,283.7 367,284.8 368.7,286 370.4,287.1 372.1,288.2 373.8,289.1 375.5,290 377.3,290.7 379,291.3 380.7,291.8 382.4,292.2 384.1,292.5 385.8,292.8 387.5,293.1 389.2,293.3 390.9,293.4 392.6,293.6 394.3,293.7 396,293.9" fill="none" stroke="#ff2ce0" stroke-width="2.0"/>
<path d="M307.3,279.3 309,279.5 310.7,279.6 312.4,279.8 314.1,280 315.8,280.2 317.5,280.4 319.2,280.5 321,280.7 322.7,280.9 324.4,281 326.1,281.1 327.8,281.2 329.5,281.3 331.2,281.3 332.9,281.4 334.6,281.4 336.3,281.4 338,281.4 339.7,281.3 341.4,281.3 343.1,281.1 344.8,281 346.5,280.7 348.2,280.3 350,279.8 351.7,279 353.4,277.8 355.1,276.1 356.8,273.9 358.5,270.9 360.2,267.1 361.9,262.4 363.6,257.1 365.3,251.5 367,246.5 368.7,243.4 370.4,243.2 372.1,246.3 373.8,251.8 375.5,258.3 377.3,264.8 379,270.6 380.7,275.5 382.4,279.5 384.1,282.6 385.8,285 387.5,286.9 389.2,288.2 390.9,289.3 392.6,290.1 394.3,290.7 396,291.2 397.7,291.7 399.4,292.1 401.1,292.4 402.8,292.7 404.5,292.9 406.3,293.1 408,293.3 409.7,293.5 411.4,293.7 413.1,293.8 414.8,294 416.5,294.1" fill="none" stroke="#2222e6" stroke-width="2.0"/>
<path d="M41.2,255.1 42.9,255.1 44.6,255.2 46.3,255.2 48,255.3 49.7,255.3 51.4,255.4 53.1,255.4 54.8,255.5 56.5,255.5 58.2,255.6 59.9,255.6 61.6,255.7 63.3,255.8 65.1,255.9 66.8,256 68.5,256.2 70.2,256.4 71.9,256.7 73.6,257 75.3,257.3 77,257.7 78.7,258.2 80.4,258.6 82.1,259 83.8,259.4 85.5,259.7 87.2,260 88.9,260.2 90.6,260.3 92.3,260.5 94.1,260.6 95.8,260.7 97.5,260.7 99.2,260.8 100.9,260.9 102.6,260.9 104.3,261 106,261 107.7,261.1 109.4,261.1 111.1,261.2 112.8,261.2 114.5,261.3 116.2,261.3 117.9,261.4 119.6,261.4 121.4,261.4 123.1,261.5 124.8,261.5 126.5,261.6 128.2,261.6 129.9,261.7 131.6,261.7 133.3,261.8 135,261.8 136.7,261.8 138.4,261.9 140.1,262 141.8,262 143.5,262.1 145.2,262.2 146.9,262.2 148.6,262.3 150.4,262.4 152.1,262.6 153.8,262.7 155.5,262.8 157.2,263 158.9,263.2 160.6,263.3 162.3,263.5 164,263.6 165.7,263.7 167.4,263.9 169.1,264 170.8,264.1 172.5,264.2 174.2,264.3 175.9,264.4 177.6,264.5 179.4,264.6 181.1,264.7 182.8,264.8 184.5,264.9 186.2,265 187.9,265.1 189.6,265.2 191.3,265.3 193,265.5 194.7,265.6 196.4,265.7 198.1,265.9 199.8,266 201.5,266.2 203.2,266.3 204.9,266.5 206.7,266.8 208.4,267 210.1,267.4 211.8,267.7 213.5,268.2 215.2,268.6 216.9,269.1 218.6,269.5 220.3,269.8 222,270.1 223.7,270.4 225.4,270.7 227.1,271 228.8,271.4 230.5,271.9 232.2,272.4 233.9,273.1 235.7,273.8 237.4,274.5 239.1,275.1 240.8,275.7 242.5,276.1 244.2,276.5 245.9,276.8 247.6,277 249.3,277.2 251,277.3 252.7,277.4 254.4,277.5 256.1,277.6 257.8,277.7 259.5,277.8 261.2,277.9 262.9,277.9 264.7,278 266.4,278.1 268.1,278.1 269.8,278.2 271.5,278.3 273.2,278.3 274.9,278.4 276.6,278.4 278.3,278.5 280,278.5 281.7,278.6 283.4,278.6 285.1,278.7 286.8,278.8 288.5,278.8 290.2,278.9 292,278.9 293.7,279 295.4,279.1 297.1,279.2 298.8,279.3 300.5,279.4 302.2,279.5 303.9,279.6 305.6,279.8 307.3,279.9 309,280.1 310.7,280.3 312.4,280.5 314.1,280.7 315.8,281 317.5,281.2 319.2,281.4 321,281.7 322.7,281.9 324.4,282.1 326.1,282.3 327.8,282.5 329.5,282.7 331.2,282.8 332.9,283 334.6,283.2 336.3,283.4 338,283.6 339.7,283.7 341.4,284 343.1,284.2 344.8,284.4 346.5,284.6 348.2,284.9 350,285.1 351.7,285.4 353.4,285.6 355.1,285.9 356.8,286.2 358.5,286.5 360.2,286.8 361.9,287.2 363.6,287.6 365.3,288.1 367,288.7 368.7,289.3 370.4,290 372.1,290.6 373.8,291.3 375.5,291.8 377.3,292.3 379,292.7 380.7,293.1 382.4,293.4 384.1,293.6 385.8,293.8 387.5,293.9 389.2,294.1 390.9,294.2 392.6,294.3 394.3,294.4 396,294.5 397.7,294.5 399.4,294.6 401.1,294.7 402.8,294.7 404.5,294.8 406.3,294.9 408,294.9 409.7,295 411.4,295 413.1,295.1 414.8,295.1 416.5,295.2" fill="none" stroke="#7a1414" stroke-width="1.9"/>
<path d="M41.2,255.1 42.9,255.1 44.6,255.2 46.3,255.2 48,255.2 49.7,255.3 51.4,255.3 53.1,255.4 54.8,255.4 56.5,255.5 58.2,255.5 59.9,255.6 61.6,255.7 63.3,255.8 65.1,255.9 66.8,256 68.5,256.2 70.2,256.4 71.9,256.6 73.6,256.9 75.3,257.3 77,257.7 78.7,258.1 80.4,258.6 82.1,259 83.8,259.4 85.5,259.7 87.2,259.9 88.9,260.1 90.6,260.3 92.3,260.4 94.1,260.5 95.8,260.6 97.5,260.7 99.2,260.7 100.9,260.8 102.6,260.8 104.3,260.9 106,260.9 107.7,261 109.4,261 111.1,261 112.8,261.1 114.5,261.1 116.2,261.2 117.9,261.2 119.6,261.2 121.4,261.2 123.1,261.3 124.8,261.3 126.5,261.3 128.2,261.3 129.9,261.3 131.6,261.2 133.3,261.2 135,261 136.7,260.9 138.4,260.6 140.1,260.3 141.8,259.8 143.5,259.3 145.2,258.6 146.9,257.8 148.6,257 150.4,256.1 152.1,255.3 153.8,254.7 155.5,254.2 157.2,254.1 158.9,254.4 160.6,255 162.3,255.8 164,256.8 165.7,257.9 167.4,259 169.1,260 170.8,260.9 172.5,261.7 174.2,262.4 175.9,262.9 177.6,263.3 179.4,263.7 181.1,264 182.8,264.2" fill="none" stroke="#9a2a9e" stroke-width="2.0"/>
<path d="M56.5,253.2 58.2,252.7 59.9,252.1 61.6,251.3 63.3,250 65.1,248.3 66.8,245.9 68.5,242.9 70.2,239.3 71.9,235.2 73.6,231.1 75.3,227.7 77,225.8 78.7,226.3 80.4,229 82.1,233.2 83.8,238 85.5,242.6 87.2,246.7 88.9,250.1 90.6,252.7 92.3,254.7 94.1,256.1 95.8,257.2 97.5,257.9 99.2,258.5" fill="none" stroke="#8b0f14" stroke-width="2.3"/>
<path d="M41.2,315.1 42.9,315.1 44.6,315.1 46.3,315 48,314.9 49.7,314.9 51.4,314.8 53.1,314.6 54.8,314.5 56.5,314.3 58.2,314 59.9,313.5 61.6,312.9 63.3,312 65.1,310.7 66.8,309 68.5,306.7 70.2,303.8 71.9,300.3 73.6,296.6 75.3,293 77,290.2 78.7,289 80.4,289.9 82.1,292.8 83.8,296.8 85.5,301.1 87.2,305.3 88.9,308.9 90.6,311.8 92.3,314.1 94.1,315.7 95.8,317 97.5,317.9 99.2,318.5 100.9,318.9 102.6,319.3 104.3,319.6 106,319.8 107.7,320 109.4,320.1 111.1,320.3 112.8,320.4 114.5,320.5 116.2,320.6 117.9,320.7 119.6,320.7 121.4,320.8 123.1,320.9 124.8,320.9 126.5,320.9 128.2,321 129.9,321 131.6,321 133.3,320.9 135,320.9 136.7,320.8 138.4,320.6 140.1,320.4 141.8,320 143.5,319.6 145.2,319.1 146.9,318.5 148.6,317.8 150.4,317 152.1,316.3 153.8,315.6 155.5,315 157.2,314.7 158.9,314.6 160.6,314.9 162.3,315.4 164,316 165.7,316.8 167.4,317.6 169.1,318.4 170.8,319 172.5,319.6 174.2,319.9 175.9,320.1 177.6,320.2 179.4,320.1 181.1,319.9 182.8,319.7 184.5,319.4 186.2,319 187.9,318.7 189.6,318.4 191.3,318.2 193,318.1 194.7,318.1 196.4,318.1 198.1,318 199.8,317.8 201.5,317.3 203.2,316.3 204.9,314.7 206.7,312.3 208.4,309.1 210.1,305.2 211.8,301.4 213.5,298.9 215.2,299 216.9,301.7 218.6,305.5 220.3,309.1 222,311.5 223.7,312.4 225.4,311.6 227.1,309.2 228.8,305.3 230.5,300.2 232.2,294.7 233.9,290.1 235.7,288.1 237.4,289.9 239.1,295 240.8,301.8 242.5,308.8 244.2,315 245.9,320.1 247.6,324 249.3,326.9 251,329.1 252.7,330.8 254.4,332.1 256.1,333.1 257.8,334.1 259.5,334.9 261.2,335.7 262.9,336.5 264.7,337.1 266.4,337.7 268.1,338.2 269.8,338.5 271.5,338.7 273.2,338.7 274.9,338.6 276.6,338.4 278.3,338.1 280,337.8 281.7,337.4 283.4,337 285.1,336.7 286.8,336.3 288.5,336 290.2,335.6 292,335.3 293.7,334.9 295.4,334.5 297.1,334 298.8,333.4 300.5,332.7 302.2,331.9 303.9,331 305.6,330 307.3,329 309,327.9 310.7,327 312.4,326.3 314.1,325.7 315.8,325.5 317.5,325.6 319.2,326 321,326.7 322.7,327.5 324.4,328.4 326.1,329.2 327.8,330 329.5,330.6 331.2,331 332.9,331.3 334.6,331.3 336.3,331.2 338,330.9 339.7,330.5 341.4,330.1 343.1,329.6 344.8,329.1 346.5,328.8 348.2,328.5 350,328.3 351.7,328.2 353.4,328 355.1,327.5 356.8,326.8 358.5,325.5 360.2,323.5 361.9,320.9 363.6,317.5 365.3,313.6 367,309.7 368.7,306.4 370.4,304.8 372.1,305.7 373.8,309.2 375.5,314.3 377.3,320 379,325.5 380.7,330.4 382.4,334.5 384.1,337.8 385.8,340.3 387.5,342.3 389.2,343.8 390.9,345 392.6,345.9 394.3,346.6 396,347.1 397.7,347.6 399.4,348 401.1,348.3 402.8,348.6 404.5,348.9 406.3,349.1 408,349.3 409.7,349.5 411.4,349.7 413.1,349.8 414.8,350 416.5,350.1" fill="none" stroke="#111" stroke-width="2.0" stroke-linejoin="round"/>
<path d="M41.2,315.1 42.9,315.1 44.6,315 46.3,315 48,314.9 49.7,314.8 51.4,314.7 53.1,314.5 54.8,314.3 56.5,314.1 58.2,313.7 59.9,313.1 61.6,312.3 63.3,311.1 65.1,309.5 66.8,307.4 68.5,304.6 70.2,301.3 71.9,297.5 73.6,293.8 75.3,290.6 77,288.9 78.7,289.3 80.4,291.8 82.1,295.7 83.8,300.1 85.5,304.3 87.2,308.1 88.9,311.2 90.6,313.6 92.3,315.4 94.1,316.7 95.8,317.7 97.5,318.4 99.2,318.9 100.9,319.2 102.6,319.5 104.3,319.7 106,319.9 107.7,320.1 109.4,320.2 111.1,320.4 112.8,320.5 114.5,320.6 116.2,320.6 117.9,320.7 119.6,320.8 121.4,320.8 123.1,320.9 124.8,320.9 126.5,321 128.2,321 129.9,321 131.6,320.9 133.3,320.9 135,320.8 136.7,320.6 138.4,320.4 140.1,320.1 141.8,319.7 143.5,319.2 145.2,318.6 146.9,317.9 148.6,317.2 150.4,316.4 152.1,315.7 153.8,315.1 155.5,314.7 157.2,314.6 158.9,314.8 160.6,315.2 162.3,315.8 164,316.6 165.7,317.4 167.4,318.2 169.1,318.9 170.8,319.5 172.5,319.9 174.2,320.1 175.9,320.2 177.6,320.2 179.4,320 181.1,319.8 182.8,319.4 184.5,319.1 186.2,318.8 187.9,318.5 189.6,318.3 191.3,318.1 193,318.1 194.7,318.1 196.4,318 198.1,317.9 199.8,317.5 201.5,316.7 203.2,315.3 204.9,313.1 206.7,310.1 208.4,306.2 210.1,302.2 211.8,299 213.5,298.4 215.2,300.7 216.9,304.6 218.6,308.4 220.3,311.2 222,312.5 223.7,312.1 225.4,310.1 227.1,306.5 228.8,301.6 230.5,296 232.2,290.8 233.9,287.9 235.7,288.7 237.4,293.3 239.1,300 240.8,307.2 242.5,313.6 244.2,318.9 245.9,323 247.6,326.1 249.3,328.3 251,329.8 252.7,330.9 254.4,331.8 256.1,332.4 257.8,332.9 259.5,333.3 261.2,333.6 262.9,333.9 264.7,334.1 266.4,334.3 268.1,334.5 269.8,334.7 271.5,334.8 273.2,334.9 274.9,335 276.6,335.1 278.3,335.2 280,335.2 281.7,335.3 283.4,335.3 285.1,335.3 286.8,335.2 288.5,335.1 290.2,335 292,334.7 293.7,334.4 295.4,334 297.1,333.5 298.8,332.8 300.5,332.1 302.2,331.2 303.9,330.2 305.6,329.2 307.3,328.2 309,327.2 310.7,326.4 312.4,325.8 314.1,325.5 315.8,325.5 317.5,325.9 319.2,326.5 321,327.3 322.7,328.2 324.4,329 326.1,329.8 327.8,330.5 329.5,331 331.2,331.3 332.9,331.4 334.6,331.3 336.3,331 338,330.6 339.7,330.2 341.4,329.7 343.1,329.2 344.8,328.9 346.5,328.6 348.2,328.4 350,328.2 351.7,328.1 353.4,327.7 355.1,327 356.8,325.9 358.5,324.1 360.2,321.7 361.9,318.5 363.6,314.7 365.3,310.6 367,306.9 368.7,304.7 370.4,305 372.1,308 373.8,312.9 375.5,318.6 377.3,324.2 379,329.3 380.7,333.6 382.4,337.1 384.1,339.8 385.8,341.9 387.5,343.5 389.2,344.7 390.9,345.7 392.6,346.4 394.3,347 396,347.5 397.7,347.9 399.4,348.2 401.1,348.5 402.8,348.8 404.5,349 406.3,349.3 408,349.5 409.7,349.6 411.4,349.8 413.1,349.9 414.8,350.1 416.5,350.2" fill="none" stroke="#f01820" stroke-width="2.4" stroke-linejoin="round"/>
<path d="M165.7,323.4 167.4,323.4 169.1,323.3 170.8,323.2 172.5,323.1 174.2,322.9 175.9,322.6 177.6,322.4 179.4,322.1 181.1,321.8 182.8,321.4 184.5,321.1 186.2,320.9 187.9,320.7 189.6,320.7 191.3,320.8 193,321 194.7,321.3 196.4,321.8 198.1,322.3 199.8,322.8 201.5,323.3 203.2,323.9 204.9,324.4 206.7,325 208.4,325.5 210.1,326.1 211.8,326.6 213.5,327.2 215.2,327.8 216.9,328.3" fill="none" stroke="#1c1c8c" stroke-width="2.0"/>
<path d="M177.6,324 179.4,324 181.1,324.1 182.8,324.1 184.5,324.1 186.2,324.1 187.9,324.1 189.6,324 191.3,324 193,323.8 194.7,323.7 196.4,323.4 198.1,322.9 199.8,322.2 201.5,321.1 203.2,319.4 204.9,317 206.7,313.8 208.4,309.9 210.1,305.9 211.8,302.8 213.5,302.4 215.2,305.1 216.9,309.6 218.6,314.3 220.3,318.4 222,321.7 223.7,324.1 225.4,325.8 227.1,327.2 228.8,328.2 230.5,329.1 232.2,329.9 233.9,330.8 235.7,331.6 237.4,332.4 239.1,333.1 240.8,333.7 242.5,334.2 244.2,334.6 245.9,334.9 247.6,335.1" fill="none" stroke="#00e8f0" stroke-width="2.0"/>
<path d="M184.5,324.4 186.2,324.4 187.9,324.5 189.6,324.6 191.3,324.6 193,324.7 194.7,324.7 196.4,324.8 198.1,324.8 199.8,324.9 201.5,324.9 203.2,324.9 204.9,324.9 206.7,324.9 208.4,325 210.1,325 211.8,325 213.5,325 215.2,324.9 216.9,324.6 218.6,324 220.3,322.9 222,321.2 223.7,318.6 225.4,315.1 227.1,310.4 228.8,304.8 230.5,298.7 232.2,293.2 233.9,289.9 235.7,290.5 237.4,295 239.1,301.6 240.8,308.6 242.5,314.9 244.2,320.1 245.9,324.2 247.6,327.2 249.3,329.3 251,330.9 252.7,331.9 254.4,332.7 256.1,333.3 257.8,333.8 259.5,334.2 261.2,334.5 262.9,334.8 264.7,335 266.4,335.3 268.1,335.5 269.8,335.6 271.5,335.8 273.2,335.9 274.9,336 276.6,336.2 278.3,336.3 280,336.4 281.7,336.5 283.4,336.6 285.1,336.6" fill="none" stroke="#8c8a10" stroke-width="2.0"/>
<path d="M285.1,336.6 286.8,336.6 288.5,336.5 290.2,336.3 292,336.1 293.7,335.8 295.4,335.4 297.1,334.9 298.8,334.3 300.5,333.5 302.2,332.7 303.9,331.8 305.6,330.8 307.3,329.9 309,329 310.7,328.3 312.4,327.8 314.1,327.6 315.8,327.8 317.5,328.4 319.2,329.3 321,330.3 322.7,331.6 324.4,332.9 326.1,334.1 327.8,335.3 329.5,336.4 331.2,337.4 332.9,338.2 334.6,339 336.3,339.6 338,340.1 339.7,340.6 341.4,340.9 343.1,341.3 344.8,341.6" fill="none" stroke="#f5e800" stroke-width="2.0"/>
<path d="M302.2,337.3 303.9,337.4 305.6,337.4 307.3,337.5 309,337.6 310.7,337.7 312.4,337.8 314.1,337.8 315.8,337.9 317.5,337.9 319.2,337.9 321,337.9 322.7,337.7 324.4,337.6 326.1,337.3 327.8,337 329.5,336.7 331.2,336.2 332.9,335.7 334.6,335.2 336.3,334.6 338,334 339.7,333.5 341.4,333 343.1,332.7 344.8,332.5 346.5,332.5 348.2,332.8 350,333.3 351.7,333.9 353.4,334.8 355.1,335.7 356.8,336.7 358.5,337.6 360.2,338.6 361.9,339.6 363.6,340.6 365.3,341.6 367,342.6 368.7,343.6 370.4,344.6 372.1,345.5 373.8,346.3 375.5,347 377.3,347.6 379,348.1 380.7,348.6 382.4,348.9 384.1,349.2 385.8,349.5 387.5,349.7 389.2,349.8 390.9,350 392.6,350.1" fill="none" stroke="#ff2ce0" stroke-width="2.0"/>
<path d="M312.4,338.2 314.1,338.4 315.8,338.5 317.5,338.7 319.2,338.8 321,339 322.7,339.1 324.4,339.2 326.1,339.3 327.8,339.4 329.5,339.5 331.2,339.5 332.9,339.6 334.6,339.6 336.3,339.6 338,339.6 339.7,339.6 341.4,339.5 343.1,339.4 344.8,339.3 346.5,339.1 348.2,338.8 350,338.3 351.7,337.6 353.4,336.6 355.1,335.3 356.8,333.4 358.5,330.9 360.2,327.7 361.9,323.8 363.6,319.3 365.3,314.6 367,310.5 368.7,307.8 370.4,307.7 372.1,310.3 373.8,314.9 375.5,320.4 377.3,325.9 379,330.8 380.7,334.9 382.4,338.3 384.1,340.9 385.8,342.9 387.5,344.5 389.2,345.6 390.9,346.5 392.6,347.2 394.3,347.7 396,348.2 397.7,348.5 399.4,348.8 401.1,349.1 402.8,349.4 404.5,349.6 406.3,349.8 408,349.9 409.7,350.1 411.4,350.2 413.1,350.4 414.8,350.5 416.5,350.6" fill="none" stroke="#2222e6" stroke-width="2.0"/>
<path d="M41.2,316 42.9,316 44.6,316.1 46.3,316.1 48,316.2 49.7,316.2 51.4,316.2 53.1,316.3 54.8,316.3 56.5,316.4 58.2,316.4 59.9,316.5 61.6,316.6 63.3,316.6 65.1,316.7 66.8,316.9 68.5,317 70.2,317.2 71.9,317.4 73.6,317.7 75.3,318.1 77,318.5 78.7,318.9 80.4,319.3 82.1,319.7 83.8,320 85.5,320.3 87.2,320.5 88.9,320.7 90.6,320.9 92.3,321 94.1,321.1 95.8,321.2 97.5,321.3 99.2,321.3 100.9,321.4 102.6,321.4 104.3,321.5 106,321.5 107.7,321.6 109.4,321.6 111.1,321.7 112.8,321.7 114.5,321.7 116.2,321.8 117.9,321.8 119.6,321.9 121.4,321.9 123.1,321.9 124.8,322 126.5,322 128.2,322.1 129.9,322.1 131.6,322.1 133.3,322.2 135,322.2 136.7,322.3 138.4,322.3 140.1,322.4 141.8,322.4 143.5,322.5 145.2,322.5 146.9,322.6 148.6,322.7 150.4,322.8 152.1,322.9 153.8,323 155.5,323.2 157.2,323.3 158.9,323.4 160.6,323.6 162.3,323.7 164,323.8 165.7,323.9 167.4,324.1 169.1,324.2 170.8,324.3 172.5,324.3 174.2,324.4 175.9,324.5 177.6,324.6 179.4,324.7 181.1,324.8 182.8,324.9 184.5,324.9 186.2,325 187.9,325.2 189.6,325.3 191.3,325.4 193,325.5 194.7,325.6 196.4,325.8 198.1,325.9 199.8,326 201.5,326.2 203.2,326.3 204.9,326.5 206.7,326.7 208.4,326.9 210.1,327.2 211.8,327.6 213.5,328 215.2,328.4 216.9,328.8 218.6,329.1 220.3,329.4 222,329.7 223.7,330 225.4,330.2 227.1,330.5 228.8,330.8 230.5,331.3 232.2,331.8 233.9,332.3 235.7,332.9 237.4,333.5 239.1,334.1 240.8,334.6 242.5,335 244.2,335.3 245.9,335.5 247.6,335.7 249.3,335.9 251,336 252.7,336.1 254.4,336.2 256.1,336.3 257.8,336.3 259.5,336.4 261.2,336.5 262.9,336.5 264.7,336.6 266.4,336.7 268.1,336.7 269.8,336.8 271.5,336.8 273.2,336.9 274.9,336.9 276.6,337 278.3,337 280,337.1 281.7,337.1 283.4,337.2 285.1,337.2 286.8,337.3 288.5,337.3 290.2,337.4 292,337.4 293.7,337.5 295.4,337.6 297.1,337.6 298.8,337.7 300.5,337.8 302.2,337.9 303.9,338 305.6,338.1 307.3,338.3 309,338.4 310.7,338.6 312.4,338.8 314.1,339 315.8,339.2 317.5,339.4 319.2,339.6 321,339.8 322.7,340 324.4,340.2 326.1,340.3 327.8,340.5 329.5,340.7 331.2,340.8 332.9,341 334.6,341.1 336.3,341.3 338,341.4 339.7,341.6 341.4,341.8 343.1,342 344.8,342.2 346.5,342.4 348.2,342.6 350,342.8 351.7,343 353.4,343.2 355.1,343.5 356.8,343.7 358.5,344 360.2,344.2 361.9,344.6 363.6,344.9 365.3,345.4 367,345.8 368.7,346.4 370.4,347 372.1,347.5 373.8,348.1 375.5,348.6 377.3,349 379,349.4 380.7,349.7 382.4,349.9 384.1,350.1 385.8,350.3 387.5,350.4 389.2,350.5 390.9,350.6 392.6,350.7 394.3,350.8 396,350.8 397.7,350.9 399.4,351 401.1,351 402.8,351.1 404.5,351.2 406.3,351.2 408,351.3 409.7,351.3 411.4,351.4 413.1,351.4 414.8,351.4 416.5,351.5" fill="none" stroke="#7a1414" stroke-width="1.9"/>
<path d="M41.2,316 42.9,316 44.6,316.1 46.3,316.1 48,316.1 49.7,316.2 51.4,316.2 53.1,316.3 54.8,316.3 56.5,316.4 58.2,316.4 59.9,316.5 61.6,316.5 63.3,316.6 65.1,316.7 66.8,316.8 68.5,317 70.2,317.2 71.9,317.4 73.6,317.7 75.3,318 77,318.4 78.7,318.8 80.4,319.2 82.1,319.6 83.8,320 85.5,320.3 87.2,320.5 88.9,320.7 90.6,320.8 92.3,321 94.1,321 95.8,321.1 97.5,321.2 99.2,321.3 100.9,321.3 102.6,321.4 104.3,321.4 106,321.4 107.7,321.5 109.4,321.5 111.1,321.5 112.8,321.6 114.5,321.6 116.2,321.6 117.9,321.7 119.6,321.7 121.4,321.7 123.1,321.7 124.8,321.8 126.5,321.8 128.2,321.8 129.9,321.7 131.6,321.7 133.3,321.7 135,321.6 136.7,321.4 138.4,321.2 140.1,320.9 141.8,320.5 143.5,320 145.2,319.4 146.9,318.8 148.6,318 150.4,317.3 152.1,316.6 153.8,316.1 155.5,315.7 157.2,315.6 158.9,315.8 160.6,316.3 162.3,317.1 164,317.9 165.7,318.9 167.4,319.8 169.1,320.7 170.8,321.5 172.5,322.2 174.2,322.8 175.9,323.2 177.6,323.6 179.4,323.9 181.1,324.2" fill="none" stroke="#9a2a9e" stroke-width="2.0"/>
<path d="M56.5,314.2 58.2,313.8 59.9,313.3 61.6,312.5 63.3,311.3 65.1,309.7 66.8,307.5 68.5,304.8 70.2,301.5 71.9,297.7 73.6,294 75.3,290.8 77,289.1 78.7,289.5 80.4,292 82.1,295.9 83.8,300.3 85.5,304.6 87.2,308.3 88.9,311.4 90.6,313.9 92.3,315.7 94.1,317 95.8,318 97.5,318.7 99.2,319.2" fill="none" stroke="#8b0f14" stroke-width="2.3"/>
<path d="M41.2,377 42.9,377 44.6,377 46.3,376.9 48,376.9 49.7,376.8 51.4,376.7 53.1,376.5 54.8,376.4 56.5,376.1 58.2,375.8 59.9,375.4 61.6,374.7 63.3,373.7 65.1,372.4 66.8,370.5 68.5,368 70.2,364.9 71.9,361.2 73.6,357.2 75.3,353.3 77,350.4 78.7,349.1 80.4,350.1 82.1,353.2 83.8,357.5 85.5,362.2 87.2,366.6 88.9,370.5 90.6,373.6 92.3,376.1 94.1,377.9 95.8,379.2 97.5,380.2 99.2,380.9 100.9,381.4 102.6,381.7 104.3,382 106,382.3 107.7,382.5 109.4,382.6 111.1,382.8 112.8,382.9 114.5,383 116.2,383.1 117.9,383.2 119.6,383.3 121.4,383.4 123.1,383.4 124.8,383.5 126.5,383.5 128.2,383.5 129.9,383.6 131.6,383.6 133.3,383.5 135,383.5 136.7,383.4 138.4,383.2 140.1,382.9 141.8,382.6 143.5,382.2 145.2,381.6 146.9,381 148.6,380.3 150.4,379.5 152.1,378.7 153.8,378 155.5,377.4 157.2,377.1 158.9,377 160.6,377.3 162.3,377.8 164,378.5 165.7,379.3 167.4,380.2 169.1,380.9 170.8,381.6 172.5,382.2 174.2,382.5 175.9,382.8 177.6,382.8 179.4,382.7 181.1,382.5 182.8,382.2 184.5,381.9 186.2,381.6 187.9,381.2 189.6,380.9 191.3,380.7 193,380.6 194.7,380.6 196.4,380.5 198.1,380.5 199.8,380.2 201.5,379.7 203.2,378.7 204.9,377 206.7,374.5 208.4,371 210.1,366.9 211.8,362.8 213.5,360.1 215.2,360.2 216.9,363.1 218.6,367.3 220.3,371.1 222,373.7 223.7,374.6 225.4,373.8 227.1,371.2 228.8,367 230.5,361.6 232.2,355.7 233.9,350.8 235.7,348.6 237.4,350.5 239.1,356.1 240.8,363.4 242.5,370.9 244.2,377.6 245.9,383 247.6,387.2 249.3,390.4 251,392.7 252.7,394.4 254.4,395.8 256.1,396.9 257.8,397.9 259.5,398.8 261.2,399.7 262.9,400.4 264.7,401.1 266.4,401.7 268.1,402.2 269.8,402.5 271.5,402.7 273.2,402.8 274.9,402.7 276.6,402.5 278.3,402.2 280,401.9 281.7,401.5 283.4,401.1 285.1,400.8 286.8,400.4 288.5,400.1 290.2,399.7 292,399.4 293.7,399 295.4,398.6 297.1,398.1 298.8,397.5 300.5,396.8 302.2,395.9 303.9,395 305.6,394 307.3,392.9 309,391.9 310.7,391 312.4,390.2 314.1,389.6 315.8,389.4 317.5,389.5 319.2,389.9 321,390.6 322.7,391.4 324.4,392.3 326.1,393.1 327.8,393.9 329.5,394.5 331.2,394.9 332.9,395.1 334.6,395 336.3,394.9 338,394.5 339.7,394 341.4,393.5 343.1,392.9 344.8,392.4 346.5,392 348.2,391.7 350,391.5 351.7,391.4 353.4,391.1 355.1,390.6 356.8,389.8 358.5,388.3 360.2,386.2 361.9,383.2 363.6,379.5 365.3,375.2 367,370.8 368.7,367.1 370.4,365.4 372.1,366.4 373.8,370.3 375.5,376 377.3,382.4 379,388.5 380.7,394 382.4,398.6 384.1,402.2 385.8,405.1 387.5,407.3 389.2,409 390.9,410.3 392.6,411.3 394.3,412.1 396,412.7 397.7,413.2 399.4,413.7 401.1,414 402.8,414.4 404.5,414.7 406.3,414.9 408,415.2 409.7,415.4 411.4,415.6 413.1,415.7 414.8,415.9 416.5,416" fill="none" stroke="#111" stroke-width="2.0" stroke-linejoin="round"/>
<path d="M41.2,377 42.9,377 44.6,377 46.3,376.9 48,376.8 49.7,376.7 51.4,376.6 53.1,376.4 54.8,376.2 56.5,375.9 58.2,375.5 59.9,374.9 61.6,374 63.3,372.8 65.1,371.1 66.8,368.8 68.5,365.8 70.2,362.2 71.9,358.2 73.6,354.2 75.3,350.8 77,349 78.7,349.5 80.4,352.2 82.1,356.3 83.8,361.1 85.5,365.6 87.2,369.7 88.9,373 90.6,375.6 92.3,377.6 94.1,379 95.8,380 97.5,380.7 99.2,381.3 100.9,381.7 102.6,382 104.3,382.2 106,382.4 107.7,382.6 109.4,382.8 111.1,382.9 112.8,383 114.5,383.1 116.2,383.2 117.9,383.3 119.6,383.4 121.4,383.4 123.1,383.5 124.8,383.5 126.5,383.5 128.2,383.6 129.9,383.6 131.6,383.5 133.3,383.5 135,383.4 136.7,383.2 138.4,383 140.1,382.7 141.8,382.3 143.5,381.8 145.2,381.2 146.9,380.5 148.6,379.7 150.4,378.9 152.1,378.2 153.8,377.6 155.5,377.1 157.2,377 158.9,377.2 160.6,377.6 162.3,378.3 164,379.1 165.7,380 167.4,380.8 169.1,381.5 170.8,382.1 172.5,382.5 174.2,382.7 175.9,382.8 177.6,382.8 179.4,382.6 181.1,382.3 182.8,382 184.5,381.6 186.2,381.3 187.9,381 189.6,380.8 191.3,380.6 193,380.6 194.7,380.5 196.4,380.5 198.1,380.3 199.8,379.9 201.5,379.1 203.2,377.6 204.9,375.3 206.7,372 208.4,367.9 210.1,363.6 211.8,360.2 213.5,359.6 215.2,362.1 216.9,366.2 218.6,370.3 220.3,373.3 222,374.7 223.7,374.3 225.4,372.2 227.1,368.3 228.8,363.1 230.5,357.1 232.2,351.5 233.9,348.4 235.7,349.3 237.4,354.2 239.1,361.5 240.8,369.1 242.5,376 244.2,381.8 245.9,386.2 247.6,389.5 249.3,391.8 251,393.5 252.7,394.7 254.4,395.6 256.1,396.2 257.8,396.8 259.5,397.2 261.2,397.5 262.9,397.8 264.7,398.1 266.4,398.3 268.1,398.5 269.8,398.7 271.5,398.8 273.2,399 274.9,399.1 276.6,399.2 278.3,399.3 280,399.3 281.7,399.4 283.4,399.4 285.1,399.4 286.8,399.3 288.5,399.2 290.2,399.1 292,398.8 293.7,398.5 295.4,398.1 297.1,397.6 298.8,396.9 300.5,396.1 302.2,395.2 303.9,394.2 305.6,393.2 307.3,392.2 309,391.2 310.7,390.3 312.4,389.7 314.1,389.4 315.8,389.4 317.5,389.8 319.2,390.4 321,391.2 322.7,392.1 324.4,392.9 326.1,393.7 327.8,394.3 329.5,394.8 331.2,395 332.9,395.1 334.6,394.9 336.3,394.6 338,394.2 339.7,393.6 341.4,393.1 343.1,392.5 344.8,392.1 346.5,391.8 348.2,391.6 350,391.4 351.7,391.2 353.4,390.8 355.1,390.1 356.8,388.8 358.5,386.9 360.2,384.1 361.9,380.6 363.6,376.3 365.3,371.8 367,367.7 368.7,365.3 370.4,365.6 372.1,368.9 373.8,374.4 375.5,380.8 377.3,387.1 379,392.8 380.7,397.6 382.4,401.5 384.1,404.5 385.8,406.9 387.5,408.7 389.2,410 390.9,411.1 392.6,411.9 394.3,412.6 396,413.1 397.7,413.6 399.4,414 401.1,414.3 402.8,414.6 404.5,414.9 406.3,415.1 408,415.3 409.7,415.5 411.4,415.7 413.1,415.9 414.8,416 416.5,416.2" fill="none" stroke="#f01820" stroke-width="2.4" stroke-linejoin="round"/>
<path d="M164,386.1 165.7,386.2 167.4,386.2 169.1,386.1 170.8,386 172.5,385.9 174.2,385.7 175.9,385.4 177.6,385.1 179.4,384.8 181.1,384.5 182.8,384.1 184.5,383.8 186.2,383.6 187.9,383.4 189.6,383.3 191.3,383.4 193,383.7 194.7,384 196.4,384.5 198.1,385 199.8,385.6 201.5,386.2 203.2,386.8 204.9,387.4 206.7,388 208.4,388.6 210.1,389.2 211.8,389.8 213.5,390.4 215.2,391 216.9,391.6" fill="none" stroke="#1c1c8c" stroke-width="2.0"/>
<path d="M175.9,386.8 177.6,386.9 179.4,386.9 181.1,386.9 182.8,387 184.5,387 186.2,387 187.9,386.9 189.6,386.9 191.3,386.8 193,386.7 194.7,386.5 196.4,386.2 198.1,385.7 199.8,385 201.5,383.8 203.2,382 204.9,379.5 206.7,376.1 208.4,371.9 210.1,367.6 211.8,364.3 213.5,363.9 215.2,366.8 216.9,371.6 218.6,376.7 220.3,381.1 222,384.5 223.7,387.1 225.4,389 227.1,390.4 228.8,391.6 230.5,392.5 232.2,393.5 233.9,394.4 235.7,395.3 237.4,396.1 239.1,396.9 240.8,397.6 242.5,398.1 244.2,398.5 245.9,398.9 247.6,399.1 249.3,399.4" fill="none" stroke="#00e8f0" stroke-width="2.0"/>
<path d="M182.8,387.2 184.5,387.3 186.2,387.3 187.9,387.4 189.6,387.5 191.3,387.6 193,387.6 194.7,387.7 196.4,387.7 198.1,387.8 199.8,387.8 201.5,387.9 203.2,387.9 204.9,387.9 206.7,387.9 208.4,388 210.1,388 211.8,388.1 213.5,388.1 215.2,388 216.9,387.7 218.6,387 220.3,385.9 222,384 223.7,381.3 225.4,377.5 227.1,372.5 228.8,366.5 230.5,360 232.2,354.1 233.9,350.6 235.7,351.3 237.4,356 239.1,363.1 240.8,370.7 242.5,377.5 244.2,383.1 245.9,387.4 247.6,390.7 249.3,393 251,394.6 252.7,395.8 254.4,396.6 256.1,397.3 257.8,397.8 259.5,398.2 261.2,398.5 262.9,398.8 264.7,399.1 266.4,399.3 268.1,399.5 269.8,399.7 271.5,399.9 273.2,400 274.9,400.2 276.6,400.3 278.3,400.4 280,400.5 281.7,400.7 283.4,400.8 285.1,400.9 286.8,400.9" fill="none" stroke="#8c8a10" stroke-width="2.0"/>
<path d="M285.1,400.9 286.8,400.8 288.5,400.7 290.2,400.6 292,400.3 293.7,400 295.4,399.6 297.1,399.1 298.8,398.5 300.5,397.7 302.2,396.9 303.9,395.9 305.6,395 307.3,394 309,393.1 310.7,392.4 312.4,391.9 314.1,391.8 315.8,392 317.5,392.6 319.2,393.5 321,394.6 322.7,395.9 324.4,397.2 326.1,398.5 327.8,399.7 329.5,400.8 331.2,401.9 332.9,402.7 334.6,403.5 336.3,404.2 338,404.7 339.7,405.2 341.4,405.6 343.1,406 344.8,406.3" fill="none" stroke="#f5e800" stroke-width="2.0"/>
<path d="M298.8,401.4 300.5,401.5 302.2,401.5 303.9,401.6 305.6,401.7 307.3,401.8 309,401.9 310.7,401.9 312.4,402 314.1,402.1 315.8,402.2 317.5,402.2 319.2,402.2 321,402.1 322.7,402 324.4,401.8 326.1,401.5 327.8,401.1 329.5,400.7 331.2,400.2 332.9,399.7 334.6,399.1 336.3,398.4 338,397.8 339.7,397.2 341.4,396.7 343.1,396.3 344.8,396.1 346.5,396.1 348.2,396.4 350,397 351.7,397.8 353.4,398.7 355.1,399.7 356.8,400.8 358.5,401.9 360.2,403 361.9,404.2 363.6,405.3 365.3,406.4 367,407.5 368.7,408.6 370.4,409.7 372.1,410.7 373.8,411.7 375.5,412.5 377.3,413.2 379,413.8 380.7,414.3 382.4,414.7 384.1,415 385.8,415.3 387.5,415.5 389.2,415.7 390.9,415.9 392.6,416 394.3,416.2" fill="none" stroke="#ff2ce0" stroke-width="2.0"/>
<path d="M309,402.2 310.7,402.3 312.4,402.5 314.1,402.7 315.8,402.9 317.5,403 319.2,403.2 321,403.4 322.7,403.5 324.4,403.6 326.1,403.7 327.8,403.8 329.5,403.9 331.2,404 332.9,404 334.6,404 336.3,404 338,404 339.7,404 341.4,403.9 343.1,403.8 344.8,403.7 346.5,403.5 348.2,403.1 350,402.6 351.7,401.8 353.4,400.8 355.1,399.2 356.8,397.1 358.5,394.3 360.2,390.8 361.9,386.4 363.6,381.5 365.3,376.3 367,371.6 368.7,368.7 370.4,368.6 372.1,371.5 373.8,376.7 375.5,382.8 377.3,388.9 379,394.4 380.7,399 382.4,402.8 384.1,405.7 385.8,408 387.5,409.7 389.2,411 390.9,412 392.6,412.8 394.3,413.4 396,413.9 397.7,414.3 399.4,414.6 401.1,414.9 402.8,415.2 404.5,415.4 406.3,415.7 408,415.8 409.7,416 411.4,416.2 413.1,416.3 414.8,416.5 416.5,416.6" fill="none" stroke="#2222e6" stroke-width="2.0"/>
<path d="M41.2,378 42.9,378 44.6,378.1 46.3,378.1 48,378.2 49.7,378.2 51.4,378.3 53.1,378.3 54.8,378.4 56.5,378.4 58.2,378.5 59.9,378.5 61.6,378.6 63.3,378.7 65.1,378.8 66.8,379 68.5,379.1 70.2,379.3 71.9,379.6 73.6,379.9 75.3,380.3 77,380.7 78.7,381.2 80.4,381.7 82.1,382.1 83.8,382.5 85.5,382.8 87.2,383 88.9,383.3 90.6,383.4 92.3,383.6 94.1,383.7 95.8,383.8 97.5,383.8 99.2,383.9 100.9,384 102.6,384 104.3,384.1 106,384.1 107.7,384.2 109.4,384.2 111.1,384.3 112.8,384.3 114.5,384.4 116.2,384.4 117.9,384.5 119.6,384.5 121.4,384.6 123.1,384.6 124.8,384.6 126.5,384.7 128.2,384.7 129.9,384.8 131.6,384.8 133.3,384.9 135,384.9 136.7,384.9 138.4,385 140.1,385 141.8,385.1 143.5,385.2 145.2,385.2 146.9,385.3 148.6,385.4 150.4,385.5 152.1,385.6 153.8,385.8 155.5,385.9 157.2,386.1 158.9,386.2 160.6,386.4 162.3,386.5 164,386.7 165.7,386.8 167.4,386.9 169.1,387 170.8,387.1 172.5,387.2 174.2,387.3 175.9,387.4 177.6,387.5 179.4,387.6 181.1,387.7 182.8,387.8 184.5,387.9 186.2,388 187.9,388.1 189.6,388.2 191.3,388.4 193,388.5 194.7,388.6 196.4,388.8 198.1,388.9 199.8,389.1 201.5,389.2 203.2,389.4 204.9,389.6 206.7,389.8 208.4,390.1 210.1,390.4 211.8,390.8 213.5,391.2 215.2,391.7 216.9,392.1 218.6,392.5 220.3,392.8 222,393.1 223.7,393.4 225.4,393.7 227.1,394 228.8,394.4 230.5,394.9 232.2,395.4 233.9,396 235.7,396.7 237.4,397.4 239.1,398 240.8,398.5 242.5,399 244.2,399.3 245.9,399.6 247.6,399.8 249.3,400 251,400.1 252.7,400.2 254.4,400.3 256.1,400.4 257.8,400.5 259.5,400.6 261.2,400.6 262.9,400.7 264.7,400.8 266.4,400.8 268.1,400.9 269.8,401 271.5,401 273.2,401.1 274.9,401.1 276.6,401.2 278.3,401.2 280,401.3 281.7,401.3 283.4,401.4 285.1,401.5 286.8,401.5 288.5,401.6 290.2,401.6 292,401.7 293.7,401.8 295.4,401.8 297.1,401.9 298.8,402 300.5,402.1 302.2,402.2 303.9,402.3 305.6,402.5 307.3,402.6 309,402.8 310.7,403 312.4,403.2 314.1,403.4 315.8,403.6 317.5,403.8 319.2,404 321,404.3 322.7,404.5 324.4,404.7 326.1,404.8 327.8,405 329.5,405.2 331.2,405.4 332.9,405.5 334.6,405.7 336.3,405.9 338,406.1 339.7,406.3 341.4,406.5 343.1,406.7 344.8,406.9 346.5,407.1 348.2,407.4 350,407.6 351.7,407.8 353.4,408.1 355.1,408.4 356.8,408.6 358.5,408.9 360.2,409.3 361.9,409.6 363.6,410.1 365.3,410.6 367,411.1 368.7,411.7 370.4,412.4 372.1,413.1 373.8,413.7 375.5,414.3 377.3,414.8 379,415.2 380.7,415.5 382.4,415.8 384.1,416 385.8,416.2 387.5,416.3 389.2,416.5 390.9,416.6 392.6,416.7 394.3,416.8 396,416.9 397.7,416.9 399.4,417 401.1,417.1 402.8,417.1 404.5,417.2 406.3,417.3 408,417.3 409.7,417.4 411.4,417.4 413.1,417.5 414.8,417.5 416.5,417.6" fill="none" stroke="#7a1414" stroke-width="1.9"/>
<path d="M41.2,378 42.9,378 44.6,378.1 46.3,378.1 48,378.1 49.7,378.2 51.4,378.2 53.1,378.3 54.8,378.3 56.5,378.4 58.2,378.5 59.9,378.5 61.6,378.6 63.3,378.7 65.1,378.8 66.8,378.9 68.5,379.1 70.2,379.3 71.9,379.6 73.6,379.9 75.3,380.3 77,380.7 78.7,381.1 80.4,381.6 82.1,382 83.8,382.4 85.5,382.7 87.2,383 88.9,383.2 90.6,383.4 92.3,383.5 94.1,383.6 95.8,383.7 97.5,383.8 99.2,383.8 100.9,383.9 102.6,383.9 104.3,384 106,384 107.7,384.1 109.4,384.1 111.1,384.2 112.8,384.2 114.5,384.2 116.2,384.3 117.9,384.3 119.6,384.3 121.4,384.4 123.1,384.4 124.8,384.4 126.5,384.4 128.2,384.4 129.9,384.4 131.6,384.4 133.3,384.3 135,384.2 136.7,384.1 138.4,383.8 140.1,383.5 141.8,383.1 143.5,382.6 145.2,382 146.9,381.3 148.6,380.6 150.4,379.8 152.1,379.1 153.8,378.5 155.5,378.2 157.2,378.1 158.9,378.3 160.6,378.8 162.3,379.6 164,380.5 165.7,381.5 167.4,382.5 169.1,383.4 170.8,384.2 172.5,385 174.2,385.6 175.9,386.1 177.6,386.5 179.4,386.8 181.1,387.1 182.8,387.3" fill="none" stroke="#9a2a9e" stroke-width="2.0"/>
<path d="M56.5,376.1 58.2,375.7 59.9,375.1 61.6,374.2 63.3,373 65.1,371.3 66.8,369 68.5,366 70.2,362.4 71.9,358.4 73.6,354.4 75.3,351 77,349.2 78.7,349.7 80.4,352.4 82.1,356.6 83.8,361.3 85.5,365.9 87.2,369.9 88.9,373.3 90.6,375.9 92.3,377.8 94.1,379.3 95.8,380.3 97.5,381 99.2,381.6" fill="none" stroke="#8b0f14" stroke-width="2.3"/>
</g>
<line x1="78.0" y1="19.5" x2="78.0" y2="369.0" stroke="#333" stroke-width="1.6" stroke-dasharray="4.7,4.5"/>
<line x1="158.2" y1="47.0" x2="158.2" y2="395.0" stroke="#333" stroke-width="1.6" stroke-dasharray="4.7,4.5"/>
<line x1="191.0" y1="44.8" x2="191.0" y2="393.4" stroke="#333" stroke-width="1.6" stroke-dasharray="4.7,4.5"/>
<line x1="213.1" y1="27.0" x2="213.1" y2="370.0" stroke="#333" stroke-width="1.6" stroke-dasharray="4.7,4.5"/>
<line x1="234.8" y1="24.0" x2="234.8" y2="372.0" stroke="#333" stroke-width="1.6" stroke-dasharray="4.7,4.5"/>
<line x1="315.0" y1="54.4" x2="315.0" y2="403.5" stroke="#333" stroke-width="1.6" stroke-dasharray="4.7,4.5"/>
<line x1="346.8" y1="55.5" x2="346.8" y2="404.0" stroke="#333" stroke-width="1.6" stroke-dasharray="4.7,4.5"/>
<line x1="370.7" y1="40.3" x2="370.7" y2="385.0" stroke="#333" stroke-width="1.6" stroke-dasharray="4.7,4.5"/>
<text x="45.9" y="35.8" font-size="22" text-anchor="start" >A</text>
<text x="86.8" y="30.7" font-size="15" text-anchor="start" >U&#39;&#39;&#39;</text>
<text x="153.8" y="32.2" font-size="15" text-anchor="start" >U&#39;&#39;</text>
<text x="185.5" y="33.2" font-size="15" text-anchor="start" >U&#39;</text>
<text x="217.2" y="28.0" font-size="15" text-anchor="start" >U</text>
<text x="239.0" y="29.5" font-size="15" text-anchor="start" >V&#39;&#39;&#39;</text>
<text x="310.5" y="45.8" font-size="15" text-anchor="start" >V&#39;&#39;</text>
<text x="340.8" y="46.8" font-size="15" text-anchor="start" >V&#39;</text>
<text x="367.8" y="30.6" font-size="15" text-anchor="start" >V</text>
<text x="106.5" y="78.6" font-size="12.8">CeO<tspan font-size="6.7" dy="5">2</tspan><tspan dy="-5"></tspan></text>
<text x="91.7" y="151.0" font-size="12.8">CeO<tspan font-size="6.7" dy="5">2</tspan><tspan dy="-5">-H450</tspan></text>
<text x="91.7" y="213.7" font-size="12.8">CeO<tspan font-size="6.7" dy="5">2</tspan><tspan dy="-5">-H550</tspan></text>
<text x="91.7" y="279.4" font-size="12.8">CeO<tspan font-size="6.7" dy="5">2</tspan><tspan dy="-5">-H650</tspan></text>
<text x="90.7" y="341.2" font-size="12.8">CeO<tspan font-size="6.7" dy="5">2</tspan><tspan dy="-5">-H750</tspan></text>
<text x="91.7" y="402.9" font-size="12.8">CeO<tspan font-size="6.7" dy="5">2</tspan><tspan dy="-5">-H800</tspan></text>
<rect x="41.3" y="11.5" width="375.0" height="415.2" fill="none" stroke="#2b2b2b" stroke-width="1.9"/>
<line x1="49.7" y1="426.7" x2="49.7" y2="433.7" stroke="#1a1a1a" stroke-width="1.7"/>
<text x="49.7" y="449.7" font-size="14" text-anchor="middle" >920</text>
<line x1="92.3" y1="426.7" x2="92.3" y2="433.7" stroke="#1a1a1a" stroke-width="1.7"/>
<text x="92.3" y="449.7" font-size="14" text-anchor="middle" >915</text>
<line x1="135.0" y1="426.7" x2="135.0" y2="433.7" stroke="#1a1a1a" stroke-width="1.7"/>
<text x="135.0" y="449.7" font-size="14" text-anchor="middle" >910</text>
<line x1="177.6" y1="426.7" x2="177.6" y2="433.7" stroke="#1a1a1a" stroke-width="1.7"/>
<text x="177.6" y="449.7" font-size="14" text-anchor="middle" >905</text>
<line x1="220.3" y1="426.7" x2="220.3" y2="433.7" stroke="#1a1a1a" stroke-width="1.7"/>
<text x="220.3" y="449.7" font-size="14" text-anchor="middle" >900</text>
<line x1="262.9" y1="426.7" x2="262.9" y2="433.7" stroke="#1a1a1a" stroke-width="1.7"/>
<text x="262.9" y="449.7" font-size="14" text-anchor="middle" >895</text>
<line x1="305.6" y1="426.7" x2="305.6" y2="433.7" stroke="#1a1a1a" stroke-width="1.7"/>
<text x="305.6" y="449.7" font-size="14" text-anchor="middle" >890</text>
<line x1="348.2" y1="426.7" x2="348.2" y2="433.7" stroke="#1a1a1a" stroke-width="1.7"/>
<text x="348.2" y="449.7" font-size="14" text-anchor="middle" >885</text>
<line x1="390.9" y1="426.7" x2="390.9" y2="433.7" stroke="#1a1a1a" stroke-width="1.7"/>
<text x="390.9" y="449.7" font-size="14" text-anchor="middle" >880</text>
<line x1="71.0" y1="426.7" x2="71.0" y2="430.7" stroke="#1a1a1a" stroke-width="1.5"/>
<line x1="113.7" y1="426.7" x2="113.7" y2="430.7" stroke="#1a1a1a" stroke-width="1.5"/>
<line x1="156.3" y1="426.7" x2="156.3" y2="430.7" stroke="#1a1a1a" stroke-width="1.5"/>
<line x1="199.0" y1="426.7" x2="199.0" y2="430.7" stroke="#1a1a1a" stroke-width="1.5"/>
<line x1="241.6" y1="426.7" x2="241.6" y2="430.7" stroke="#1a1a1a" stroke-width="1.5"/>
<line x1="284.3" y1="426.7" x2="284.3" y2="430.7" stroke="#1a1a1a" stroke-width="1.5"/>
<line x1="326.9" y1="426.7" x2="326.9" y2="430.7" stroke="#1a1a1a" stroke-width="1.5"/>
<line x1="369.6" y1="426.7" x2="369.6" y2="430.7" stroke="#1a1a1a" stroke-width="1.5"/>
<line x1="412.2" y1="426.7" x2="412.2" y2="430.7" stroke="#1a1a1a" stroke-width="1.5"/>
<text x="153.0" y="469.0" font-size="19" text-anchor="start" >Binding Enenrgy(eV)</text>
<text x="0" y="0" font-size="21.4" text-anchor="middle" transform="translate(26.1,228.1) rotate(-90)">Intensity(a.u)</text>
<g clip-path="url(#clipB)">
<path d="M510.5,76.5 512.8,76.5 515.2,76.5 517.5,76.5 519.9,76.5 522.2,76.5 524.5,76.5 526.9,76.5 529.2,76.5 531.6,76.5 533.9,76.5 536.2,76.5 538.6,76.5 540.9,76.5 543.3,76.5 545.6,76.5 548,76.5 550.3,76.5 552.6,76.5 555,76.5 557.3,76.5 559.7,76.5 562,76.5 564.3,76.5 566.7,76.5 569,76.5 571.4,76.5 573.7,76.5 576,76.5 578.4,76.4 580.7,76.4 583.1,76.4 585.4,76.4 587.7,76.4 590.1,76.4 592.4,76.3 594.8,76.3 597.1,76.3 599.4,76.2 601.8,76.2 604.1,76.1 606.5,76.1 608.8,76 611.1,75.9 613.5,75.8 615.8,75.6 618.2,75.5 620.5,75.3 622.9,75 625.2,74.8 627.5,74.5 629.9,74.1 632.2,73.7 634.6,73.3 636.9,72.8 639.2,72.3 641.6,71.7 643.9,71.1 646.3,70.5 648.6,69.8 650.9,69.1 653.3,68.4 655.6,67.6 658,66.9 660.3,66.3 662.6,65.6 665,65.1 667.3,64.6 669.7,64.2 672,63.9 674.3,63.7 676.7,63.7 679,63.7 681.4,63.9 683.7,64.1 686,64.4 688.4,64.7 690.7,65 693.1,65.4 695.4,65.8 697.8,66.1 700.1,66.4 702.4,66.6 704.8,66.8 707.1,67 709.5,67 711.8,66.9 714.1,66.8 716.5,66.5 718.8,66 721.2,65.4 723.5,64.5 725.8,63.3 728.2,61.9 730.5,60.1 732.9,58 735.2,55.4 737.5,52.6 739.9,49.4 742.2,45.9 744.6,42.2 746.9,38.5 749.2,34.7 751.6,31.1 753.9,28 756.3,25.4 758.6,23.7 760.9,22.9 763.3,23.1 765.6,24.1 768,26 770.3,28.6 772.7,31.9 775,35.6 777.3,39.6 779.7,43.8 782,48.1 784.4,52.2 786.7,56.1 789,59.7 791.4,62.9 793.7,65.8 796.1,68.3 798.4,70.4 800.7,72.1 803.1,73.5 805.4,74.6 807.8,75.5 810.1,76.1 812.4,76.6 814.8,77 817.1,77.3 819.5,77.5 821.8,77.6 824.1,77.7 826.5,77.8 828.8,77.9 831.2,77.9 833.5,77.9 835.8,78 838.2,78 840.5,78 842.9,78 845.2,78 847.5,78 849.9,78 852.2,78.1 854.6,78.1 856.9,78.1 859.3,78.1 861.6,78.1 863.9,78.1 866.3,78.1 868.6,78.1 871,78.2 873.3,78.2 875.6,78.2 878,78.2 880.3,78.2 882.7,78.2 885,78.2" fill="none" stroke="#111" stroke-width="1.7"/>
<path d="M510.5,76.4 512.8,76.4 515.2,76.4 517.5,76.4 519.9,76.4 522.2,76.4 524.5,76.4 526.9,76.4 529.2,76.4 531.6,76.4 533.9,76.4 536.2,76.4 538.6,76.4 540.9,76.4 543.3,76.4 545.6,76.4 548,76.4 550.3,76.4 552.6,76.4 555,76.4 557.3,76.4 559.7,76.4 562,76.4 564.3,76.4 566.7,76.4 569,76.3 571.4,76.3 573.7,76.3 576,76.3 578.4,76.3 580.7,76.3 583.1,76.3 585.4,76.3 587.7,76.2 590.1,76.2 592.4,76.2 594.8,76.1 597.1,76.1 599.4,76.1 601.8,76 604.1,75.9 606.5,75.9 608.8,75.8 611.1,75.7 613.5,75.5 615.8,75.4 618.2,75.2 620.5,75 622.9,74.8 625.2,74.5 627.5,74.2 629.9,73.9 632.2,73.5 634.6,73 636.9,72.5 639.2,72 641.6,71.4 643.9,70.8 646.3,70.1 648.6,69.4 650.9,68.7 653.3,68 655.6,67.2 658,66.5 660.3,65.8 662.6,65.1 665,64.6 667.3,64 669.7,63.6 672,63.3 674.3,63.1 676.7,63 679,63 681.4,63.1 683.7,63.3 686,63.5 688.4,63.8 690.7,64.1 693.1,64.4 695.4,64.7 697.8,65 700.1,65.2 702.4,65.4 704.8,65.5 707.1,65.6 709.5,65.7 711.8,65.7 714.1,65.6 716.5,65.4 718.8,65.1 721.2,64.7 723.5,64.2 725.8,63.5 728.2,62.5 730.5,61.3 732.9,59.7 735.2,57.8 737.5,55.3 739.9,52.4 742.2,49 744.6,45.1 746.9,40.7 749.2,35.9 751.6,31 753.9,26.3 756.3,22.4 758.6,19.7 760.9,18.7 763.3,19.7 765.6,22.4 768,26.5 770.3,31.4 772.7,36.6 775,41.7 777.3,46.5 779.7,50.8 782,54.6 784.4,58 786.7,60.8 789,63.2 791.4,65.3 793.7,66.9 796.1,68.3 798.4,69.5 800.7,70.4 803.1,71.2 805.4,71.9 807.8,72.5 810.1,72.9 812.4,73.4 814.8,73.7 817.1,74.1 819.5,74.4 821.8,74.6 824.1,74.9 826.5,75.1 828.8,75.3 831.2,75.4 833.5,75.6 835.8,75.8 838.2,75.9 840.5,76 842.9,76.2 845.2,76.3 847.5,76.4 849.9,76.5 852.2,76.6 854.6,76.6 856.9,76.7 859.3,76.8 861.6,76.9 863.9,76.9 866.3,77 868.6,77.1 871,77.1 873.3,77.2 875.6,77.2 878,77.3 880.3,77.3 882.7,77.4 885,77.4" fill="none" stroke="#ee1a22" stroke-width="2.2"/>
<path d="M510.5,76.7 512.8,76.7 515.2,76.7 517.5,76.7 519.9,76.7 522.2,76.8 524.5,76.8 526.9,76.8 529.2,76.8 531.6,76.8 533.9,76.8 536.2,76.8 538.6,76.8 540.9,76.8 543.3,76.8 545.6,76.9 548,76.9 550.3,76.9 552.6,76.9 555,76.9 557.3,76.9 559.7,76.9 562,76.9 564.3,76.9 566.7,76.9 569,77 571.4,77 573.7,77 576,77 578.4,77 580.7,77 583.1,77 585.4,77 587.7,77 590.1,77 592.4,77.1 594.8,77.1 597.1,77.1 599.4,77.1 601.8,77.1 604.1,77.1 606.5,77.1 608.8,77.1 611.1,77.2 613.5,77.2 615.8,77.2 618.2,77.2 620.5,77.2 622.9,77.2 625.2,77.3 627.5,77.3 629.9,77.3 632.2,77.3 634.6,77.3 636.9,77.4 639.2,77.4 641.6,77.4 643.9,77.5 646.3,77.5 648.6,77.5 650.9,77.6 653.3,77.6 655.6,77.6 658,77.7 660.3,77.7 662.6,77.8 665,77.8 667.3,77.9 669.7,77.9 672,78 674.3,78.1 676.7,78.1 679,78.2 681.4,78.2 683.7,78.3 686,78.4 688.4,78.4 690.7,78.5 693.1,78.5 695.4,78.6 697.8,78.7 700.1,78.7 702.4,78.8 704.8,78.8 707.1,78.9 709.5,78.9 711.8,79 714.1,79 716.5,79 718.8,79.1 721.2,79.1 723.5,79.1 725.8,79.1 728.2,79.1 730.5,79.1 732.9,79.1 735.2,79.1 737.5,79.1 739.9,79.1 742.2,79.1 744.6,79.1 746.9,79.1 749.2,79 751.6,79 753.9,79 756.3,78.9 758.6,78.9 760.9,78.9 763.3,78.8 765.6,78.8 768,78.7 770.3,78.7 772.7,78.7 775,78.6 777.3,78.6 779.7,78.5 782,78.5 784.4,78.5 786.7,78.4 789,78.4 791.4,78.4 793.7,78.3 796.1,78.3 798.4,78.3 800.7,78.3 803.1,78.2 805.4,78.2 807.8,78.2 810.1,78.2 812.4,78.2 814.8,78.2 817.1,78.2 819.5,78.1 821.8,78.1 824.1,78.1 826.5,78.1 828.8,78.1 831.2,78.1 833.5,78.1 835.8,78.1 838.2,78.1 840.5,78.1 842.9,78.2 845.2,78.2 847.5,78.2 849.9,78.2 852.2,78.2 854.6,78.2 856.9,78.2 859.3,78.2 861.6,78.2 863.9,78.2 866.3,78.2 868.6,78.2 871,78.2 873.3,78.3 875.6,78.3 878,78.3 880.3,78.3 882.7,78.3 885,78.3" fill="none" stroke="#20d040" stroke-width="1.6"/>
<path d="M510.5,76.5 512.8,76.5 515.2,76.5 517.5,76.5 519.9,76.5 522.2,76.5 524.5,76.5 526.9,76.5 529.2,76.5 531.6,76.5 533.9,76.6 536.2,76.6 538.6,76.6 540.9,76.6 543.3,76.6 545.6,76.6 548,76.6 550.3,76.6 552.6,76.6 555,76.6 557.3,76.6 559.7,76.6 562,76.6 564.3,76.6 566.7,76.6 569,76.6 571.4,76.6 573.7,76.6 576,76.6 578.4,76.6 580.7,76.6 583.1,76.6 585.4,76.6 587.7,76.6 590.1,76.6 592.4,76.6 594.8,76.6 597.1,76.6 599.4,76.6 601.8,76.6 604.1,76.6 606.5,76.6 608.8,76.6 611.1,76.6 613.5,76.6 615.8,76.5 618.2,76.5 620.5,76.5 622.9,76.5 625.2,76.5 627.5,76.5 629.9,76.5 632.2,76.5 634.6,76.4 636.9,76.4 639.2,76.4 641.6,76.4 643.9,76.3 646.3,76.3 648.6,76.3 650.9,76.3 653.3,76.2 655.6,76.2 658,76.1 660.3,76.1 662.6,76.1 665,76 667.3,75.9 669.7,75.9 672,75.8 674.3,75.7 676.7,75.7 679,75.6 681.4,75.5 683.7,75.4 686,75.3 688.4,75.1 690.7,75 693.1,74.8 695.4,74.7 697.8,74.5 700.1,74.3 702.4,74 704.8,73.8 707.1,73.5 709.5,73.1 711.8,72.8 714.1,72.3 716.5,71.8 718.8,71.1 721.2,70.4 723.5,69.5 725.8,68.4 728.2,67.1 730.5,65.5 732.9,63.5 735.2,61.2 737.5,58.5 739.9,55.2 742.2,51.5 744.6,47.3 746.9,42.6 749.2,37.6 751.6,32.5 753.9,27.6 756.3,23.5 758.6,20.6 760.9,19.5 763.3,20.4 765.6,23 768,27.1 770.3,31.9 772.7,37 775,42.1 777.3,46.8 779.7,51.1 782,55 784.4,58.3 786.7,61.1 789,63.5 791.4,65.5 793.7,67.2 796.1,68.5 798.4,69.7 800.7,70.6 803.1,71.4 805.4,72.1 807.8,72.6 810.1,73.1 812.4,73.5 814.8,73.9 817.1,74.2 819.5,74.5 821.8,74.8 824.1,75 826.5,75.2 828.8,75.4 831.2,75.6 833.5,75.7 835.8,75.9 838.2,76 840.5,76.1 842.9,76.3 845.2,76.4 847.5,76.5 849.9,76.6 852.2,76.7 854.6,76.7 856.9,76.8 859.3,76.9 861.6,77 863.9,77 866.3,77.1 868.6,77.1 871,77.2 873.3,77.2 875.6,77.3 878,77.3 880.3,77.4 882.7,77.4 885,77.5" fill="none" stroke="#2a20d8" stroke-width="1.8"/>
<path d="M510.5,76.6 512.8,76.6 515.2,76.6 517.5,76.6 519.9,76.6 522.2,76.6 524.5,76.6 526.9,76.6 529.2,76.6 531.6,76.7 533.9,76.7 536.2,76.7 538.6,76.7 540.9,76.7 543.3,76.7 545.6,76.7 548,76.7 550.3,76.7 552.6,76.7 555,76.7 557.3,76.7 559.7,76.7 562,76.7 564.3,76.7 566.7,76.7 569,76.7 571.4,76.7 573.7,76.7 576,76.7 578.4,76.7 580.7,76.7 583.1,76.7 585.4,76.7 587.7,76.7 590.1,76.7 592.4,76.6 594.8,76.6 597.1,76.6 599.4,76.6 601.8,76.5 604.1,76.5 606.5,76.4 608.8,76.3 611.1,76.3 613.5,76.2 615.8,76 618.2,75.9 620.5,75.7 622.9,75.5 625.2,75.2 627.5,75 629.9,74.6 632.2,74.3 634.6,73.8 636.9,73.4 639.2,72.9 641.6,72.3 643.9,71.7 646.3,71.1 648.6,70.5 650.9,69.8 653.3,69.1 655.6,68.4 658,67.8 660.3,67.2 662.6,66.6 665,66.1 667.3,65.7 669.7,65.4 672,65.2 674.3,65.2 676.7,65.3 679,65.5 681.4,65.8 683.7,66.2 686,66.8 688.4,67.4 690.7,68 693.1,68.7 695.4,69.4 697.8,70.1 700.1,70.8 702.4,71.5 704.8,72.1 707.1,72.7 709.5,73.3 711.8,73.8 714.1,74.3 716.5,74.7 718.8,75.1 721.2,75.4 723.5,75.7 725.8,76 728.2,76.2 730.5,76.4 732.9,76.6 735.2,76.7 737.5,76.8 739.9,76.9 742.2,77 744.6,77.1 746.9,77.2 749.2,77.2 751.6,77.3 753.9,77.3 756.3,77.3 758.6,77.4 760.9,77.4 763.3,77.4 765.6,77.5 768,77.5 770.3,77.5 772.7,77.5 775,77.6 777.3,77.6 779.7,77.6 782,77.6 784.4,77.6 786.7,77.7 789,77.7 791.4,77.7 793.7,77.7 796.1,77.7 798.4,77.8 800.7,77.8 803.1,77.8 805.4,77.8 807.8,77.8 810.1,77.8 812.4,77.8 814.8,77.9 817.1,77.9 819.5,77.9 821.8,77.9 824.1,77.9 826.5,77.9 828.8,77.9 831.2,78 833.5,78 835.8,78 838.2,78 840.5,78 842.9,78 845.2,78 847.5,78 849.9,78.1 852.2,78.1 854.6,78.1 856.9,78.1 859.3,78.1 861.6,78.1 863.9,78.1 866.3,78.1 868.6,78.2 871,78.2 873.3,78.2 875.6,78.2 878,78.2 880.3,78.2 882.7,78.2 885,78.2" fill="none" stroke="#10e0e8" stroke-width="1.8"/>
<path d="M510.5,76.7 512.8,76.7 515.2,76.7 517.5,76.7 519.9,76.7 522.2,76.7 524.5,76.8 526.9,76.8 529.2,76.8 531.6,76.8 533.9,76.8 536.2,76.8 538.6,76.8 540.9,76.8 543.3,76.8 545.6,76.8 548,76.9 550.3,76.9 552.6,76.9 555,76.9 557.3,76.9 559.7,76.9 562,76.9 564.3,76.9 566.7,76.9 569,76.9 571.4,77 573.7,77 576,77 578.4,77 580.7,77 583.1,77 585.4,77 587.7,77 590.1,77 592.4,77 594.8,77 597.1,77.1 599.4,77.1 601.8,77.1 604.1,77.1 606.5,77.1 608.8,77.1 611.1,77.1 613.5,77.1 615.8,77.1 618.2,77.1 620.5,77.1 622.9,77.2 625.2,77.2 627.5,77.2 629.9,77.2 632.2,77.2 634.6,77.2 636.9,77.2 639.2,77.2 641.6,77.2 643.9,77.2 646.3,77.2 648.6,77.2 650.9,77.2 653.3,77.2 655.6,77.2 658,77.2 660.3,77.2 662.6,77.2 665,77.2 667.3,77.2 669.7,77.1 672,77.1 674.3,77 676.7,76.9 679,76.8 681.4,76.7 683.7,76.6 686,76.4 688.4,76.2 690.7,76 693.1,75.8 695.4,75.6 697.8,75.4 700.1,75.2 702.4,74.9 704.8,74.7 707.1,74.5 709.5,74.4 711.8,74.2 714.1,74.1 716.5,74.1 718.8,74.1 721.2,74.1 723.5,74.2 725.8,74.4 728.2,74.5 730.5,74.7 732.9,74.9 735.2,75.2 737.5,75.4 739.9,75.7 742.2,75.9 744.6,76.1 746.9,76.3 749.2,76.6 751.6,76.7 753.9,76.9 756.3,77.1 758.6,77.2 760.9,77.3 763.3,77.4 765.6,77.5 768,77.6 770.3,77.6 772.7,77.7 775,77.7 777.3,77.7 779.7,77.8 782,77.8 784.4,77.8 786.7,77.8 789,77.8 791.4,77.9 793.7,77.9 796.1,77.9 798.4,77.9 800.7,77.9 803.1,77.9 805.4,77.9 807.8,77.9 810.1,78 812.4,78 814.8,78 817.1,78 819.5,78 821.8,78 824.1,78 826.5,78 828.8,78 831.2,78.1 833.5,78.1 835.8,78.1 838.2,78.1 840.5,78.1 842.9,78.1 845.2,78.1 847.5,78.1 849.9,78.1 852.2,78.1 854.6,78.2 856.9,78.2 859.3,78.2 861.6,78.2 863.9,78.2 866.3,78.2 868.6,78.2 871,78.2 873.3,78.2 875.6,78.3 878,78.3 880.3,78.3 882.7,78.3 885,78.3" fill="none" stroke="#8a2ad0" stroke-width="1.8"/>
<path d="M510.5,76.7 512.8,76.7 515.2,76.7 517.5,76.7 519.9,76.7 522.2,76.8 524.5,76.8 526.9,76.8 529.2,76.8 531.6,76.8 533.9,76.8 536.2,76.8 538.6,76.8 540.9,76.8 543.3,76.8 545.6,76.9 548,76.9 550.3,76.9 552.6,76.9 555,76.9 557.3,76.9 559.7,76.9 562,76.9 564.3,76.9 566.7,76.9 569,77 571.4,77 573.7,77 576,77 578.4,77 580.7,77 583.1,77 585.4,77 587.7,77 590.1,77 592.4,77 594.8,77.1 597.1,77.1 599.4,77.1 601.8,77.1 604.1,77.1 606.5,77.1 608.8,77.1 611.1,77.1 613.5,77.1 615.8,77.2 618.2,77.2 620.5,77.2 622.9,77.2 625.2,77.2 627.5,77.2 629.9,77.2 632.2,77.2 634.6,77.2 636.9,77.2 639.2,77.2 641.6,77.3 643.9,77.3 646.3,77.3 648.6,77.3 650.9,77.3 653.3,77.3 655.6,77.3 658,77.3 660.3,77.3 662.6,77.3 665,77.4 667.3,77.4 669.7,77.4 672,77.4 674.3,77.4 676.7,77.4 679,77.4 681.4,77.4 683.7,77.4 686,77.5 688.4,77.5 690.7,77.5 693.1,77.5 695.4,77.5 697.8,77.5 700.1,77.5 702.4,77.5 704.8,77.5 707.1,77.5 709.5,77.5 711.8,77.6 714.1,77.6 716.5,77.6 718.8,77.6 721.2,77.6 723.5,77.6 725.8,77.6 728.2,77.6 730.5,77.6 732.9,77.7 735.2,77.7 737.5,77.7 739.9,77.7 742.2,77.7 744.6,77.7 746.9,77.7 749.2,77.7 751.6,77.7 753.9,77.7 756.3,77.8 758.6,77.8 760.9,77.8 763.3,77.8 765.6,77.8 768,77.8 770.3,77.8 772.7,77.8 775,77.8 777.3,77.8 779.7,77.8 782,77.9 784.4,77.9 786.7,77.9 789,77.9 791.4,77.9 793.7,77.9 796.1,77.9 798.4,77.9 800.7,77.9 803.1,78 805.4,78 807.8,78 810.1,78 812.4,78 814.8,78 817.1,78 819.5,78 821.8,78 824.1,78 826.5,78 828.8,78.1 831.2,78.1 833.5,78.1 835.8,78.1 838.2,78.1 840.5,78.1 842.9,78.1 845.2,78.1 847.5,78.1 849.9,78.1 852.2,78.2 854.6,78.2 856.9,78.2 859.3,78.2 861.6,78.2 863.9,78.2 866.3,78.2 868.6,78.2 871,78.2 873.3,78.2 875.6,78.3 878,78.3 880.3,78.3 882.7,78.3 885,78.3" fill="none" stroke="#ff22d8" stroke-width="2.2"/>
<path d="M510.5,135.5 512.8,135.5 515.2,135.5 517.5,135.5 519.9,135.5 522.2,135.5 524.5,135.5 526.9,135.5 529.2,135.5 531.6,135.5 533.9,135.5 536.2,135.5 538.6,135.5 540.9,135.5 543.3,135.4 545.6,135.4 548,135.4 550.3,135.4 552.6,135.4 555,135.4 557.3,135.4 559.7,135.4 562,135.4 564.3,135.4 566.7,135.4 569,135.4 571.4,135.3 573.7,135.3 576,135.3 578.4,135.3 580.7,135.3 583.1,135.3 585.4,135.3 587.7,135.3 590.1,135.2 592.4,135.2 594.8,135.2 597.1,135.2 599.4,135.1 601.8,135.1 604.1,135.1 606.5,135 608.8,135 611.1,134.9 613.5,134.9 615.8,134.8 618.2,134.7 620.5,134.6 622.9,134.5 625.2,134.3 627.5,134.2 629.9,134 632.2,133.8 634.6,133.5 636.9,133.2 639.2,132.9 641.6,132.5 643.9,132.1 646.3,131.7 648.6,131.2 650.9,130.7 653.3,130.2 655.6,129.6 658,129.1 660.3,128.5 662.6,127.9 665,127.3 667.3,126.7 669.7,126.2 672,125.7 674.3,125.3 676.7,124.9 679,124.6 681.4,124.4 683.7,124.3 686,124.2 688.4,124.2 690.7,124.3 693.1,124.5 695.4,124.6 697.8,124.8 700.1,125 702.4,125.2 704.8,125.3 707.1,125.5 709.5,125.6 711.8,125.7 714.1,125.8 716.5,125.7 718.8,125.6 721.2,125.4 723.5,125 725.8,124.5 728.2,123.7 730.5,122.7 732.9,121.4 735.2,119.8 737.5,117.8 739.9,115.5 742.2,112.9 744.6,110 746.9,106.8 749.2,103.5 751.6,100 753.9,96.6 756.3,93.4 758.6,90.6 760.9,88.4 763.3,86.9 765.6,86.3 768,86.6 770.3,87.7 772.7,89.5 775,91.9 777.3,94.9 779.7,98.3 782,102 784.4,105.8 786.7,109.6 789,113.2 791.4,116.7 793.7,119.9 796.1,122.8 798.4,125.3 800.7,127.5 803.1,129.3 805.4,130.8 807.8,132 810.1,133 812.4,133.7 814.8,134.3 817.1,134.7 819.5,135 821.8,135.3 824.1,135.4 826.5,135.5 828.8,135.6 831.2,135.7 833.5,135.7 835.8,135.7 838.2,135.8 840.5,135.8 842.9,135.8 845.2,135.8 847.5,135.8 849.9,135.8 852.2,135.8 854.6,135.8 856.9,135.8 859.3,135.8 861.6,135.8 863.9,135.8 866.3,135.8 868.6,135.8 871,135.8 873.3,135.8 875.6,135.8 878,135.8 880.3,135.8 882.7,135.8 885,135.8" fill="none" stroke="#111" stroke-width="1.7"/>
<path d="M510.5,135.4 512.8,135.4 515.2,135.4 517.5,135.4 519.9,135.4 522.2,135.4 524.5,135.4 526.9,135.4 529.2,135.4 531.6,135.4 533.9,135.4 536.2,135.4 538.6,135.4 540.9,135.4 543.3,135.4 545.6,135.4 548,135.3 550.3,135.3 552.6,135.3 555,135.3 557.3,135.3 559.7,135.3 562,135.3 564.3,135.3 566.7,135.3 569,135.2 571.4,135.2 573.7,135.2 576,135.2 578.4,135.2 580.7,135.2 583.1,135.2 585.4,135.1 587.7,135.1 590.1,135.1 592.4,135.1 594.8,135 597.1,135 599.4,135 601.8,134.9 604.1,134.9 606.5,134.9 608.8,134.8 611.1,134.8 613.5,134.7 615.8,134.6 618.2,134.5 620.5,134.4 622.9,134.3 625.2,134.1 627.5,133.9 629.9,133.8 632.2,133.5 634.6,133.3 636.9,133 639.2,132.6 641.6,132.3 643.9,131.9 646.3,131.4 648.6,130.9 650.9,130.4 653.3,129.9 655.6,129.3 658,128.7 660.3,128.1 662.6,127.5 665,126.9 667.3,126.3 669.7,125.7 672,125.2 674.3,124.8 676.7,124.4 679,124 681.4,123.8 683.7,123.6 686,123.6 688.4,123.5 690.7,123.6 693.1,123.6 695.4,123.7 697.8,123.9 700.1,124 702.4,124.1 704.8,124.3 707.1,124.4 709.5,124.5 711.8,124.5 714.1,124.6 716.5,124.6 718.8,124.5 721.2,124.4 723.5,124.2 725.8,124 728.2,123.5 730.5,122.9 732.9,122.1 735.2,120.9 737.5,119.5 739.9,117.7 742.2,115.5 744.6,112.8 746.9,109.6 749.2,106 751.6,101.9 753.9,97.5 756.3,93.1 758.6,88.9 760.9,85.5 763.3,83.2 765.6,82.6 768,83.7 770.3,86.4 772.7,90.2 775,94.7 777.3,99.4 779.7,103.9 782,108.2 784.4,112 786.7,115.4 789,118.4 791.4,120.8 793.7,123 796.1,124.7 798.4,126.2 800.7,127.4 803.1,128.4 805.4,129.2 807.8,129.9 810.1,130.5 812.4,131 814.8,131.4 817.1,131.8 819.5,132.1 821.8,132.4 824.1,132.6 826.5,132.8 828.8,133 831.2,133.2 833.5,133.4 835.8,133.5 838.2,133.7 840.5,133.8 842.9,133.9 845.2,134 847.5,134.1 849.9,134.2 852.2,134.3 854.6,134.4 856.9,134.5 859.3,134.5 861.6,134.6 863.9,134.6 866.3,134.7 868.6,134.7 871,134.8 873.3,134.8 875.6,134.9 878,134.9 880.3,135 882.7,135 885,135" fill="none" stroke="#ee1a22" stroke-width="2.2"/>
<path d="M510.5,135.7 512.8,135.7 515.2,135.7 517.5,135.7 519.9,135.7 522.2,135.7 524.5,135.7 526.9,135.7 529.2,135.7 531.6,135.7 533.9,135.7 536.2,135.7 538.6,135.7 540.9,135.7 543.3,135.7 545.6,135.7 548,135.7 550.3,135.7 552.6,135.7 555,135.7 557.3,135.7 559.7,135.7 562,135.7 564.3,135.7 566.7,135.7 569,135.7 571.4,135.7 573.7,135.7 576,135.7 578.4,135.7 580.7,135.7 583.1,135.7 585.4,135.7 587.7,135.7 590.1,135.7 592.4,135.8 594.8,135.8 597.1,135.8 599.4,135.8 601.8,135.8 604.1,135.8 606.5,135.8 608.8,135.8 611.1,135.8 613.5,135.8 615.8,135.8 618.2,135.8 620.5,135.8 622.9,135.8 625.2,135.8 627.5,135.8 629.9,135.9 632.2,135.9 634.6,135.9 636.9,135.9 639.2,135.9 641.6,135.9 643.9,136 646.3,136 648.6,136 650.9,136 653.3,136.1 655.6,136.1 658,136.1 660.3,136.2 662.6,136.2 665,136.3 667.3,136.3 669.7,136.3 672,136.4 674.3,136.4 676.7,136.5 679,136.5 681.4,136.6 683.7,136.6 686,136.7 688.4,136.7 690.7,136.8 693.1,136.9 695.4,136.9 697.8,137 700.1,137 702.4,137 704.8,137.1 707.1,137.1 709.5,137.2 711.8,137.2 714.1,137.2 716.5,137.3 718.8,137.3 721.2,137.3 723.5,137.3 725.8,137.3 728.2,137.3 730.5,137.3 732.9,137.3 735.2,137.3 737.5,137.3 739.9,137.3 742.2,137.2 744.6,137.2 746.9,137.2 749.2,137.1 751.6,137.1 753.9,137.1 756.3,137 758.6,137 760.9,136.9 763.3,136.9 765.6,136.8 768,136.8 770.3,136.7 772.7,136.7 775,136.6 777.3,136.6 779.7,136.5 782,136.5 784.4,136.4 786.7,136.4 789,136.3 791.4,136.3 793.7,136.3 796.1,136.2 798.4,136.2 800.7,136.2 803.1,136.1 805.4,136.1 807.8,136.1 810.1,136.1 812.4,136 814.8,136 817.1,136 819.5,136 821.8,136 824.1,136 826.5,136 828.8,135.9 831.2,135.9 833.5,135.9 835.8,135.9 838.2,135.9 840.5,135.9 842.9,135.9 845.2,135.9 847.5,135.9 849.9,135.9 852.2,135.9 854.6,135.9 856.9,135.9 859.3,135.9 861.6,135.9 863.9,135.9 866.3,135.9 868.6,135.9 871,135.9 873.3,135.9 875.6,135.9 878,135.9 880.3,135.9 882.7,135.9 885,135.9" fill="none" stroke="#20d040" stroke-width="1.6"/>
<path d="M510.5,135.5 512.8,135.5 515.2,135.5 517.5,135.5 519.9,135.5 522.2,135.5 524.5,135.5 526.9,135.5 529.2,135.5 531.6,135.5 533.9,135.5 536.2,135.5 538.6,135.5 540.9,135.5 543.3,135.5 545.6,135.5 548,135.5 550.3,135.5 552.6,135.5 555,135.5 557.3,135.5 559.7,135.5 562,135.4 564.3,135.4 566.7,135.4 569,135.4 571.4,135.4 573.7,135.4 576,135.4 578.4,135.4 580.7,135.4 583.1,135.4 585.4,135.4 587.7,135.4 590.1,135.4 592.4,135.4 594.8,135.3 597.1,135.3 599.4,135.3 601.8,135.3 604.1,135.3 606.5,135.3 608.8,135.3 611.1,135.3 613.5,135.3 615.8,135.2 618.2,135.2 620.5,135.2 622.9,135.2 625.2,135.2 627.5,135.2 629.9,135.1 632.2,135.1 634.6,135.1 636.9,135.1 639.2,135 641.6,135 643.9,135 646.3,135 648.6,134.9 650.9,134.9 653.3,134.9 655.6,134.8 658,134.8 660.3,134.7 662.6,134.7 665,134.7 667.3,134.6 669.7,134.5 672,134.5 674.3,134.4 676.7,134.4 679,134.3 681.4,134.2 683.7,134.1 686,134 688.4,133.9 690.7,133.8 693.1,133.7 695.4,133.5 697.8,133.4 700.1,133.2 702.4,133.1 704.8,132.9 707.1,132.6 709.5,132.4 711.8,132.1 714.1,131.8 716.5,131.4 718.8,131 721.2,130.5 723.5,129.9 725.8,129.2 728.2,128.3 730.5,127.3 732.9,126.1 735.2,124.6 737.5,122.8 739.9,120.6 742.2,118 744.6,115 746.9,111.6 749.2,107.7 751.6,103.4 753.9,98.8 756.3,94.2 758.6,89.8 760.9,86.3 763.3,83.9 765.6,83.2 768,84.3 770.3,86.9 772.7,90.7 775,95.1 777.3,99.7 779.7,104.3 782,108.5 784.4,112.3 786.7,115.7 789,118.6 791.4,121.1 793.7,123.2 796.1,124.9 798.4,126.4 800.7,127.6 803.1,128.6 805.4,129.4 807.8,130.1 810.1,130.6 812.4,131.1 814.8,131.5 817.1,131.9 819.5,132.2 821.8,132.5 824.1,132.7 826.5,133 828.8,133.2 831.2,133.3 833.5,133.5 835.8,133.6 838.2,133.8 840.5,133.9 842.9,134 845.2,134.1 847.5,134.2 849.9,134.3 852.2,134.4 854.6,134.5 856.9,134.5 859.3,134.6 861.6,134.7 863.9,134.7 866.3,134.8 868.6,134.8 871,134.9 873.3,134.9 875.6,135 878,135 880.3,135 882.7,135.1 885,135.1" fill="none" stroke="#2a20d8" stroke-width="1.8"/>
<path d="M510.5,135.6 512.8,135.6 515.2,135.6 517.5,135.6 519.9,135.6 522.2,135.6 524.5,135.6 526.9,135.6 529.2,135.6 531.6,135.6 533.9,135.6 536.2,135.6 538.6,135.6 540.9,135.6 543.3,135.6 545.6,135.6 548,135.6 550.3,135.6 552.6,135.6 555,135.6 557.3,135.6 559.7,135.6 562,135.6 564.3,135.6 566.7,135.6 569,135.6 571.4,135.6 573.7,135.5 576,135.5 578.4,135.5 580.7,135.5 583.1,135.5 585.4,135.5 587.7,135.5 590.1,135.5 592.4,135.5 594.8,135.5 597.1,135.4 599.4,135.4 601.8,135.4 604.1,135.4 606.5,135.3 608.8,135.3 611.1,135.3 613.5,135.2 615.8,135.1 618.2,135.1 620.5,135 622.9,134.9 625.2,134.7 627.5,134.6 629.9,134.4 632.2,134.2 634.6,134 636.9,133.7 639.2,133.4 641.6,133.1 643.9,132.7 646.3,132.3 648.6,131.8 650.9,131.3 653.3,130.8 655.6,130.3 658,129.8 660.3,129.2 662.6,128.7 665,128.2 667.3,127.7 669.7,127.2 672,126.8 674.3,126.5 676.7,126.3 679,126.2 681.4,126.1 683.7,126.2 686,126.4 688.4,126.7 690.7,127 693.1,127.4 695.4,127.9 697.8,128.4 700.1,128.9 702.4,129.5 704.8,130 707.1,130.6 709.5,131.1 711.8,131.6 714.1,132 716.5,132.5 718.8,132.9 721.2,133.2 723.5,133.6 725.8,133.9 728.2,134.1 730.5,134.3 732.9,134.5 735.2,134.7 737.5,134.8 739.9,135 742.2,135.1 744.6,135.2 746.9,135.2 749.2,135.3 751.6,135.3 753.9,135.4 756.3,135.4 758.6,135.5 760.9,135.5 763.3,135.5 765.6,135.5 768,135.6 770.3,135.6 772.7,135.6 775,135.6 777.3,135.6 779.7,135.6 782,135.6 784.4,135.6 786.7,135.7 789,135.7 791.4,135.7 793.7,135.7 796.1,135.7 798.4,135.7 800.7,135.7 803.1,135.7 805.4,135.7 807.8,135.7 810.1,135.7 812.4,135.7 814.8,135.7 817.1,135.7 819.5,135.8 821.8,135.8 824.1,135.8 826.5,135.8 828.8,135.8 831.2,135.8 833.5,135.8 835.8,135.8 838.2,135.8 840.5,135.8 842.9,135.8 845.2,135.8 847.5,135.8 849.9,135.8 852.2,135.8 854.6,135.8 856.9,135.8 859.3,135.8 861.6,135.8 863.9,135.8 866.3,135.8 868.6,135.8 871,135.8 873.3,135.8 875.6,135.8 878,135.8 880.3,135.8 882.7,135.8 885,135.8" fill="none" stroke="#10e0e8" stroke-width="1.8"/>
<path d="M510.5,135.7 512.8,135.7 515.2,135.7 517.5,135.7 519.9,135.7 522.2,135.7 524.5,135.7 526.9,135.7 529.2,135.7 531.6,135.7 533.9,135.7 536.2,135.7 538.6,135.7 540.9,135.7 543.3,135.7 545.6,135.7 548,135.7 550.3,135.7 552.6,135.7 555,135.7 557.3,135.7 559.7,135.7 562,135.7 564.3,135.7 566.7,135.7 569,135.7 571.4,135.7 573.7,135.7 576,135.7 578.4,135.7 580.7,135.7 583.1,135.7 585.4,135.7 587.7,135.7 590.1,135.7 592.4,135.7 594.8,135.7 597.1,135.7 599.4,135.7 601.8,135.7 604.1,135.7 606.5,135.7 608.8,135.7 611.1,135.7 613.5,135.7 615.8,135.7 618.2,135.7 620.5,135.7 622.9,135.7 625.2,135.7 627.5,135.7 629.9,135.7 632.2,135.7 634.6,135.7 636.9,135.7 639.2,135.7 641.6,135.7 643.9,135.7 646.3,135.7 648.6,135.7 650.9,135.7 653.3,135.7 655.6,135.7 658,135.7 660.3,135.7 662.6,135.6 665,135.6 667.3,135.6 669.7,135.5 672,135.5 674.3,135.4 676.7,135.3 679,135.2 681.4,135 683.7,134.9 686,134.7 688.4,134.6 690.7,134.4 693.1,134.1 695.4,133.9 697.8,133.7 700.1,133.4 702.4,133.2 704.8,133 707.1,132.8 709.5,132.6 711.8,132.5 714.1,132.4 716.5,132.3 718.8,132.3 721.2,132.3 723.5,132.4 725.8,132.5 728.2,132.7 730.5,132.9 732.9,133.1 735.2,133.3 737.5,133.6 739.9,133.8 742.2,134 744.6,134.3 746.9,134.5 749.2,134.7 751.6,134.8 753.9,135 756.3,135.1 758.6,135.3 760.9,135.4 763.3,135.5 765.6,135.5 768,135.6 770.3,135.6 772.7,135.7 775,135.7 777.3,135.7 779.7,135.8 782,135.8 784.4,135.8 786.7,135.8 789,135.8 791.4,135.8 793.7,135.8 796.1,135.8 798.4,135.8 800.7,135.8 803.1,135.8 805.4,135.8 807.8,135.8 810.1,135.8 812.4,135.8 814.8,135.8 817.1,135.8 819.5,135.8 821.8,135.8 824.1,135.8 826.5,135.9 828.8,135.9 831.2,135.9 833.5,135.9 835.8,135.9 838.2,135.9 840.5,135.9 842.9,135.9 845.2,135.9 847.5,135.9 849.9,135.9 852.2,135.9 854.6,135.9 856.9,135.9 859.3,135.9 861.6,135.9 863.9,135.9 866.3,135.9 868.6,135.9 871,135.9 873.3,135.9 875.6,135.9 878,135.9 880.3,135.9 882.7,135.9 885,135.9" fill="none" stroke="#8a2ad0" stroke-width="1.8"/>
<path d="M510.5,135.7 512.8,135.7 515.2,135.7 517.5,135.7 519.9,135.7 522.2,135.7 524.5,135.7 526.9,135.7 529.2,135.7 531.6,135.7 533.9,135.7 536.2,135.7 538.6,135.7 540.9,135.7 543.3,135.7 545.6,135.7 548,135.7 550.3,135.7 552.6,135.7 555,135.7 557.3,135.7 559.7,135.7 562,135.7 564.3,135.7 566.7,135.7 569,135.7 571.4,135.7 573.7,135.7 576,135.7 578.4,135.7 580.7,135.7 583.1,135.7 585.4,135.7 587.7,135.7 590.1,135.7 592.4,135.7 594.8,135.7 597.1,135.7 599.4,135.7 601.8,135.7 604.1,135.8 606.5,135.8 608.8,135.8 611.1,135.8 613.5,135.8 615.8,135.8 618.2,135.8 620.5,135.8 622.9,135.8 625.2,135.8 627.5,135.8 629.9,135.8 632.2,135.8 634.6,135.8 636.9,135.8 639.2,135.8 641.6,135.8 643.9,135.8 646.3,135.8 648.6,135.8 650.9,135.8 653.3,135.8 655.6,135.8 658,135.8 660.3,135.8 662.6,135.8 665,135.8 667.3,135.8 669.7,135.8 672,135.8 674.3,135.8 676.7,135.8 679,135.8 681.4,135.8 683.7,135.8 686,135.8 688.4,135.8 690.7,135.8 693.1,135.8 695.4,135.8 697.8,135.8 700.1,135.8 702.4,135.8 704.8,135.8 707.1,135.8 709.5,135.8 711.8,135.8 714.1,135.8 716.5,135.8 718.8,135.8 721.2,135.8 723.5,135.8 725.8,135.8 728.2,135.8 730.5,135.8 732.9,135.8 735.2,135.8 737.5,135.8 739.9,135.8 742.2,135.8 744.6,135.8 746.9,135.8 749.2,135.8 751.6,135.8 753.9,135.8 756.3,135.8 758.6,135.8 760.9,135.8 763.3,135.8 765.6,135.8 768,135.8 770.3,135.8 772.7,135.8 775,135.8 777.3,135.8 779.7,135.8 782,135.8 784.4,135.8 786.7,135.8 789,135.8 791.4,135.8 793.7,135.9 796.1,135.9 798.4,135.9 800.7,135.9 803.1,135.9 805.4,135.9 807.8,135.9 810.1,135.9 812.4,135.9 814.8,135.9 817.1,135.9 819.5,135.9 821.8,135.9 824.1,135.9 826.5,135.9 828.8,135.9 831.2,135.9 833.5,135.9 835.8,135.9 838.2,135.9 840.5,135.9 842.9,135.9 845.2,135.9 847.5,135.9 849.9,135.9 852.2,135.9 854.6,135.9 856.9,135.9 859.3,135.9 861.6,135.9 863.9,135.9 866.3,135.9 868.6,135.9 871,135.9 873.3,135.9 875.6,135.9 878,135.9 880.3,135.9 882.7,135.9 885,135.9" fill="none" stroke="#ff22d8" stroke-width="2.2"/>
<path d="M510.5,204.8 512.8,204.8 515.2,204.8 517.5,204.8 519.9,204.8 522.2,204.8 524.5,204.8 526.9,204.8 529.2,204.8 531.6,204.8 533.9,204.8 536.2,204.8 538.6,204.8 540.9,204.8 543.3,204.8 545.6,204.8 548,204.8 550.3,204.8 552.6,204.8 555,204.8 557.3,204.8 559.7,204.8 562,204.8 564.3,204.8 566.7,204.8 569,204.8 571.4,204.7 573.7,204.7 576,204.7 578.4,204.7 580.7,204.7 583.1,204.7 585.4,204.7 587.7,204.7 590.1,204.7 592.4,204.6 594.8,204.6 597.1,204.6 599.4,204.6 601.8,204.5 604.1,204.5 606.5,204.5 608.8,204.4 611.1,204.3 613.5,204.3 615.8,204.2 618.2,204.1 620.5,204 622.9,203.8 625.2,203.7 627.5,203.5 629.9,203.3 632.2,203 634.6,202.7 636.9,202.4 639.2,202 641.6,201.6 643.9,201.2 646.3,200.7 648.6,200.2 650.9,199.7 653.3,199.1 655.6,198.5 658,197.9 660.3,197.3 662.6,196.7 665,196.1 667.3,195.5 669.7,195 672,194.6 674.3,194.2 676.7,193.9 679,193.7 681.4,193.5 683.7,193.5 686,193.5 688.4,193.6 690.7,193.7 693.1,193.9 695.4,194.1 697.8,194.3 700.1,194.5 702.4,194.7 704.8,194.8 707.1,194.9 709.5,194.9 711.8,194.8 714.1,194.7 716.5,194.4 718.8,194 721.2,193.4 723.5,192.6 725.8,191.6 728.2,190.2 730.5,188.5 732.9,186.6 735.2,184.2 737.5,181.5 739.9,178.5 742.2,175.3 744.6,171.8 746.9,168.2 749.2,164.7 751.6,161.4 753.9,158.4 756.3,156.1 758.6,154.4 760.9,153.7 763.3,153.9 765.6,155 768,156.8 770.3,159.3 772.7,162.4 775,165.9 777.3,169.8 779.7,173.7 782,177.7 784.4,181.6 786.7,185.3 789,188.7 791.4,191.7 793.7,194.4 796.1,196.7 798.4,198.7 800.7,200.3 803.1,201.6 805.4,202.7 807.8,203.5 810.1,204.1 812.4,204.6 814.8,204.9 817.1,205.2 819.5,205.3 821.8,205.5 824.1,205.6 826.5,205.6 828.8,205.7 831.2,205.7 833.5,205.7 835.8,205.7 838.2,205.8 840.5,205.8 842.9,205.8 845.2,205.8 847.5,205.8 849.9,205.8 852.2,205.8 854.6,205.8 856.9,205.8 859.3,205.8 861.6,205.9 863.9,205.9 866.3,205.9 868.6,205.9 871,205.9 873.3,205.9 875.6,205.9 878,205.9 880.3,205.9 882.7,205.9 885,205.9" fill="none" stroke="#111" stroke-width="1.7"/>
<path d="M510.5,204.7 512.8,204.7 515.2,204.7 517.5,204.7 519.9,204.7 522.2,204.7 524.5,204.7 526.9,204.7 529.2,204.7 531.6,204.7 533.9,204.7 536.2,204.7 538.6,204.7 540.9,204.7 543.3,204.7 545.6,204.7 548,204.7 550.3,204.7 552.6,204.7 555,204.7 557.3,204.7 559.7,204.7 562,204.7 564.3,204.6 566.7,204.6 569,204.6 571.4,204.6 573.7,204.6 576,204.6 578.4,204.6 580.7,204.6 583.1,204.6 585.4,204.5 587.7,204.5 590.1,204.5 592.4,204.5 594.8,204.5 597.1,204.4 599.4,204.4 601.8,204.4 604.1,204.3 606.5,204.3 608.8,204.2 611.1,204.1 613.5,204.1 615.8,204 618.2,203.9 620.5,203.7 622.9,203.6 625.2,203.4 627.5,203.2 629.9,203 632.2,202.7 634.6,202.4 636.9,202.1 639.2,201.7 641.6,201.3 643.9,200.9 646.3,200.4 648.6,199.8 650.9,199.3 653.3,198.7 655.6,198.1 658,197.5 660.3,196.8 662.6,196.2 665,195.6 667.3,195 669.7,194.5 672,194 674.3,193.6 676.7,193.3 679,193 681.4,192.8 683.7,192.7 686,192.7 688.4,192.8 690.7,192.9 693.1,193 695.4,193.1 697.8,193.2 700.1,193.4 702.4,193.5 704.8,193.6 707.1,193.6 709.5,193.6 711.8,193.6 714.1,193.5 716.5,193.4 718.8,193.2 721.2,192.8 723.5,192.4 725.8,191.7 728.2,190.8 730.5,189.7 732.9,188.2 735.2,186.4 737.5,184.2 739.9,181.4 742.2,178.2 744.6,174.5 746.9,170.3 749.2,165.8 751.6,161.2 753.9,156.8 756.3,153.1 758.6,150.6 760.9,149.8 763.3,150.8 765.6,153.5 768,157.4 770.3,162 772.7,166.9 775,171.7 777.3,176.2 779.7,180.3 782,183.9 784.4,187.1 786.7,189.7 789,192 791.4,193.9 793.7,195.5 796.1,196.7 798.4,197.8 800.7,198.7 803.1,199.5 805.4,200.1 807.8,200.6 810.1,201.1 812.4,201.5 814.8,201.8 817.1,202.1 819.5,202.4 821.8,202.6 824.1,202.8 826.5,203 828.8,203.2 831.2,203.4 833.5,203.5 835.8,203.7 838.2,203.8 840.5,203.9 842.9,204 845.2,204.1 847.5,204.2 849.9,204.3 852.2,204.4 854.6,204.5 856.9,204.6 859.3,204.6 861.6,204.7 863.9,204.7 866.3,204.8 868.6,204.9 871,204.9 873.3,204.9 875.6,205 878,205 880.3,205.1 882.7,205.1 885,205.2" fill="none" stroke="#ee1a22" stroke-width="2.2"/>
<path d="M510.5,205 512.8,205 515.2,205 517.5,205 519.9,205 522.2,205 524.5,205 526.9,205 529.2,205.1 531.6,205.1 533.9,205.1 536.2,205.1 538.6,205.1 540.9,205.1 543.3,205.1 545.6,205.1 548,205.1 550.3,205.1 552.6,205.1 555,205.1 557.3,205.1 559.7,205.1 562,205.1 564.3,205.1 566.7,205.2 569,205.2 571.4,205.2 573.7,205.2 576,205.2 578.4,205.2 580.7,205.2 583.1,205.2 585.4,205.2 587.7,205.2 590.1,205.2 592.4,205.2 594.8,205.2 597.1,205.2 599.4,205.2 601.8,205.3 604.1,205.3 606.5,205.3 608.8,205.3 611.1,205.3 613.5,205.3 615.8,205.3 618.2,205.3 620.5,205.3 622.9,205.4 625.2,205.4 627.5,205.4 629.9,205.4 632.2,205.4 634.6,205.4 636.9,205.5 639.2,205.5 641.6,205.5 643.9,205.5 646.3,205.6 648.6,205.6 650.9,205.6 653.3,205.7 655.6,205.7 658,205.8 660.3,205.8 662.6,205.8 665,205.9 667.3,205.9 669.7,206 672,206 674.3,206.1 676.7,206.1 679,206.2 681.4,206.3 683.7,206.3 686,206.4 688.4,206.4 690.7,206.5 693.1,206.5 695.4,206.6 697.8,206.7 700.1,206.7 702.4,206.8 704.8,206.8 707.1,206.8 709.5,206.9 711.8,206.9 714.1,207 716.5,207 718.8,207 721.2,207 723.5,207.1 725.8,207.1 728.2,207.1 730.5,207.1 732.9,207.1 735.2,207.1 737.5,207.1 739.9,207 742.2,207 744.6,207 746.9,207 749.2,206.9 751.6,206.9 753.9,206.9 756.3,206.8 758.6,206.8 760.9,206.8 763.3,206.7 765.6,206.7 768,206.6 770.3,206.6 772.7,206.5 775,206.5 777.3,206.4 779.7,206.4 782,206.4 784.4,206.3 786.7,206.3 789,206.2 791.4,206.2 793.7,206.2 796.1,206.1 798.4,206.1 800.7,206.1 803.1,206.1 805.4,206 807.8,206 810.1,206 812.4,206 814.8,206 817.1,206 819.5,206 821.8,205.9 824.1,205.9 826.5,205.9 828.8,205.9 831.2,205.9 833.5,205.9 835.8,205.9 838.2,205.9 840.5,205.9 842.9,205.9 845.2,205.9 847.5,205.9 849.9,205.9 852.2,205.9 854.6,205.9 856.9,205.9 859.3,205.9 861.6,205.9 863.9,206 866.3,206 868.6,206 871,206 873.3,206 875.6,206 878,206 880.3,206 882.7,206 885,206" fill="none" stroke="#20d040" stroke-width="1.6"/>
<path d="M510.5,204.8 512.8,204.8 515.2,204.8 517.5,204.8 519.9,204.8 522.2,204.8 524.5,204.8 526.9,204.8 529.2,204.8 531.6,204.8 533.9,204.8 536.2,204.8 538.6,204.8 540.9,204.8 543.3,204.8 545.6,204.8 548,204.8 550.3,204.8 552.6,204.8 555,204.8 557.3,204.8 559.7,204.8 562,204.8 564.3,204.8 566.7,204.8 569,204.8 571.4,204.8 573.7,204.8 576,204.8 578.4,204.8 580.7,204.8 583.1,204.8 585.4,204.8 587.7,204.8 590.1,204.8 592.4,204.8 594.8,204.8 597.1,204.8 599.4,204.8 601.8,204.8 604.1,204.8 606.5,204.7 608.8,204.7 611.1,204.7 613.5,204.7 615.8,204.7 618.2,204.7 620.5,204.7 622.9,204.7 625.2,204.7 627.5,204.6 629.9,204.6 632.2,204.6 634.6,204.6 636.9,204.6 639.2,204.5 641.6,204.5 643.9,204.5 646.3,204.5 648.6,204.4 650.9,204.4 653.3,204.4 655.6,204.3 658,204.3 660.3,204.2 662.6,204.2 665,204.1 667.3,204.1 669.7,204 672,203.9 674.3,203.9 676.7,203.8 679,203.7 681.4,203.6 683.7,203.5 686,203.4 688.4,203.3 690.7,203.1 693.1,203 695.4,202.8 697.8,202.6 700.1,202.4 702.4,202.2 704.8,202 707.1,201.7 709.5,201.4 711.8,201 714.1,200.5 716.5,200 718.8,199.4 721.2,198.7 723.5,197.9 725.8,196.8 728.2,195.5 730.5,194 732.9,192.2 735.2,190 737.5,187.3 739.9,184.3 742.2,180.7 744.6,176.7 746.9,172.2 749.2,167.5 751.6,162.7 753.9,158.1 756.3,154.2 758.6,151.6 760.9,150.6 763.3,151.5 765.6,154.1 768,157.9 770.3,162.5 772.7,167.3 775,172.1 777.3,176.6 779.7,180.6 782,184.2 784.4,187.3 786.7,190 789,192.2 791.4,194.1 793.7,195.7 796.1,196.9 798.4,198 800.7,198.9 803.1,199.6 805.4,200.3 807.8,200.8 810.1,201.2 812.4,201.6 814.8,202 817.1,202.3 819.5,202.5 821.8,202.8 824.1,203 826.5,203.2 828.8,203.3 831.2,203.5 833.5,203.7 835.8,203.8 838.2,203.9 840.5,204 842.9,204.1 845.2,204.2 847.5,204.3 849.9,204.4 852.2,204.5 854.6,204.6 856.9,204.6 859.3,204.7 861.6,204.8 863.9,204.8 866.3,204.9 868.6,204.9 871,205 873.3,205 875.6,205.1 878,205.1 880.3,205.1 882.7,205.2 885,205.2" fill="none" stroke="#2a20d8" stroke-width="1.8"/>
<path d="M510.5,204.9 512.8,204.9 515.2,204.9 517.5,204.9 519.9,204.9 522.2,204.9 524.5,204.9 526.9,204.9 529.2,204.9 531.6,205 533.9,205 536.2,205 538.6,205 540.9,205 543.3,205 545.6,205 548,205 550.3,205 552.6,205 555,205 557.3,205 559.7,205 562,205 564.3,205 566.7,205 569,205 571.4,205 573.7,205 576,205 578.4,205 580.7,205 583.1,205 585.4,204.9 587.7,204.9 590.1,204.9 592.4,204.9 594.8,204.9 597.1,204.9 599.4,204.9 601.8,204.9 604.1,204.8 606.5,204.8 608.8,204.8 611.1,204.7 613.5,204.6 615.8,204.6 618.2,204.5 620.5,204.4 622.9,204.3 625.2,204.1 627.5,203.9 629.9,203.7 632.2,203.5 634.6,203.2 636.9,202.9 639.2,202.6 641.6,202.2 643.9,201.8 646.3,201.3 648.6,200.8 650.9,200.3 653.3,199.8 655.6,199.2 658,198.7 660.3,198.1 662.6,197.6 665,197.1 667.3,196.6 669.7,196.2 672,195.8 674.3,195.6 676.7,195.4 679,195.4 681.4,195.4 683.7,195.6 686,195.9 688.4,196.2 690.7,196.6 693.1,197.1 695.4,197.7 697.8,198.2 700.1,198.8 702.4,199.4 704.8,199.9 707.1,200.5 709.5,201 711.8,201.5 714.1,202 716.5,202.4 718.8,202.8 721.2,203.1 723.5,203.5 725.8,203.7 728.2,204 730.5,204.2 732.9,204.4 735.2,204.6 737.5,204.7 739.9,204.8 742.2,204.9 744.6,205 746.9,205.1 749.2,205.1 751.6,205.2 753.9,205.2 756.3,205.3 758.6,205.3 760.9,205.3 763.3,205.4 765.6,205.4 768,205.4 770.3,205.4 772.7,205.4 775,205.5 777.3,205.5 779.7,205.5 782,205.5 784.4,205.5 786.7,205.5 789,205.6 791.4,205.6 793.7,205.6 796.1,205.6 798.4,205.6 800.7,205.6 803.1,205.6 805.4,205.6 807.8,205.7 810.1,205.7 812.4,205.7 814.8,205.7 817.1,205.7 819.5,205.7 821.8,205.7 824.1,205.7 826.5,205.7 828.8,205.7 831.2,205.8 833.5,205.8 835.8,205.8 838.2,205.8 840.5,205.8 842.9,205.8 845.2,205.8 847.5,205.8 849.9,205.8 852.2,205.8 854.6,205.8 856.9,205.9 859.3,205.9 861.6,205.9 863.9,205.9 866.3,205.9 868.6,205.9 871,205.9 873.3,205.9 875.6,205.9 878,205.9 880.3,205.9 882.7,205.9 885,205.9" fill="none" stroke="#10e0e8" stroke-width="1.8"/>
<path d="M510.5,205 512.8,205 515.2,205 517.5,205 519.9,205 522.2,205 524.5,205 526.9,205 529.2,205 531.6,205.1 533.9,205.1 536.2,205.1 538.6,205.1 540.9,205.1 543.3,205.1 545.6,205.1 548,205.1 550.3,205.1 552.6,205.1 555,205.1 557.3,205.1 559.7,205.1 562,205.1 564.3,205.1 566.7,205.1 569,205.1 571.4,205.2 573.7,205.2 576,205.2 578.4,205.2 580.7,205.2 583.1,205.2 585.4,205.2 587.7,205.2 590.1,205.2 592.4,205.2 594.8,205.2 597.1,205.2 599.4,205.2 601.8,205.2 604.1,205.2 606.5,205.2 608.8,205.2 611.1,205.3 613.5,205.3 615.8,205.3 618.2,205.3 620.5,205.3 622.9,205.3 625.2,205.3 627.5,205.3 629.9,205.3 632.2,205.3 634.6,205.3 636.9,205.3 639.2,205.3 641.6,205.3 643.9,205.3 646.3,205.3 648.6,205.3 650.9,205.3 653.3,205.3 655.6,205.3 658,205.3 660.3,205.3 662.6,205.3 665,205.2 667.3,205.2 669.7,205.2 672,205.1 674.3,205 676.7,204.9 679,204.8 681.4,204.7 683.7,204.6 686,204.4 688.4,204.2 690.7,204 693.1,203.8 695.4,203.6 697.8,203.4 700.1,203.1 702.4,202.9 704.8,202.7 707.1,202.5 709.5,202.4 711.8,202.2 714.1,202.1 716.5,202.1 718.8,202.1 721.2,202.1 723.5,202.2 725.8,202.3 728.2,202.5 730.5,202.7 732.9,202.9 735.2,203.1 737.5,203.3 739.9,203.6 742.2,203.8 744.6,204.1 746.9,204.3 749.2,204.5 751.6,204.7 753.9,204.8 756.3,205 758.6,205.1 760.9,205.2 763.3,205.3 765.6,205.4 768,205.4 770.3,205.5 772.7,205.5 775,205.6 777.3,205.6 779.7,205.6 782,205.7 784.4,205.7 786.7,205.7 789,205.7 791.4,205.7 793.7,205.7 796.1,205.7 798.4,205.7 800.7,205.7 803.1,205.8 805.4,205.8 807.8,205.8 810.1,205.8 812.4,205.8 814.8,205.8 817.1,205.8 819.5,205.8 821.8,205.8 824.1,205.8 826.5,205.8 828.8,205.8 831.2,205.8 833.5,205.8 835.8,205.9 838.2,205.9 840.5,205.9 842.9,205.9 845.2,205.9 847.5,205.9 849.9,205.9 852.2,205.9 854.6,205.9 856.9,205.9 859.3,205.9 861.6,205.9 863.9,205.9 866.3,205.9 868.6,205.9 871,206 873.3,206 875.6,206 878,206 880.3,206 882.7,206 885,206" fill="none" stroke="#8a2ad0" stroke-width="1.8"/>
<path d="M510.5,205 512.8,205 515.2,205 517.5,205 519.9,205 522.2,205 524.5,205 526.9,205 529.2,205.1 531.6,205.1 533.9,205.1 536.2,205.1 538.6,205.1 540.9,205.1 543.3,205.1 545.6,205.1 548,205.1 550.3,205.1 552.6,205.1 555,205.1 557.3,205.1 559.7,205.1 562,205.1 564.3,205.1 566.7,205.2 569,205.2 571.4,205.2 573.7,205.2 576,205.2 578.4,205.2 580.7,205.2 583.1,205.2 585.4,205.2 587.7,205.2 590.1,205.2 592.4,205.2 594.8,205.2 597.1,205.2 599.4,205.2 601.8,205.2 604.1,205.2 606.5,205.3 608.8,205.3 611.1,205.3 613.5,205.3 615.8,205.3 618.2,205.3 620.5,205.3 622.9,205.3 625.2,205.3 627.5,205.3 629.9,205.3 632.2,205.3 634.6,205.3 636.9,205.3 639.2,205.3 641.6,205.3 643.9,205.4 646.3,205.4 648.6,205.4 650.9,205.4 653.3,205.4 655.6,205.4 658,205.4 660.3,205.4 662.6,205.4 665,205.4 667.3,205.4 669.7,205.4 672,205.4 674.3,205.4 676.7,205.4 679,205.4 681.4,205.5 683.7,205.5 686,205.5 688.4,205.5 690.7,205.5 693.1,205.5 695.4,205.5 697.8,205.5 700.1,205.5 702.4,205.5 704.8,205.5 707.1,205.5 709.5,205.5 711.8,205.5 714.1,205.5 716.5,205.6 718.8,205.6 721.2,205.6 723.5,205.6 725.8,205.6 728.2,205.6 730.5,205.6 732.9,205.6 735.2,205.6 737.5,205.6 739.9,205.6 742.2,205.6 744.6,205.6 746.9,205.6 749.2,205.6 751.6,205.6 753.9,205.7 756.3,205.7 758.6,205.7 760.9,205.7 763.3,205.7 765.6,205.7 768,205.7 770.3,205.7 772.7,205.7 775,205.7 777.3,205.7 779.7,205.7 782,205.7 784.4,205.7 786.7,205.7 789,205.7 791.4,205.8 793.7,205.8 796.1,205.8 798.4,205.8 800.7,205.8 803.1,205.8 805.4,205.8 807.8,205.8 810.1,205.8 812.4,205.8 814.8,205.8 817.1,205.8 819.5,205.8 821.8,205.8 824.1,205.8 826.5,205.8 828.8,205.8 831.2,205.9 833.5,205.9 835.8,205.9 838.2,205.9 840.5,205.9 842.9,205.9 845.2,205.9 847.5,205.9 849.9,205.9 852.2,205.9 854.6,205.9 856.9,205.9 859.3,205.9 861.6,205.9 863.9,205.9 866.3,205.9 868.6,206 871,206 873.3,206 875.6,206 878,206 880.3,206 882.7,206 885,206" fill="none" stroke="#ff22d8" stroke-width="2.2"/>
<path d="M510.5,279.4 512.8,279.4 515.2,279.4 517.5,279.4 519.9,279.4 522.2,279.4 524.5,279.4 526.9,279.4 529.2,279.4 531.6,279.4 533.9,279.4 536.2,279.4 538.6,279.4 540.9,279.4 543.3,279.4 545.6,279.4 548,279.4 550.3,279.4 552.6,279.4 555,279.4 557.3,279.3 559.7,279.3 562,279.3 564.3,279.3 566.7,279.3 569,279.3 571.4,279.3 573.7,279.3 576,279.3 578.4,279.3 580.7,279.3 583.1,279.3 585.4,279.2 587.7,279.2 590.1,279.2 592.4,279.2 594.8,279.2 597.1,279.2 599.4,279.1 601.8,279.1 604.1,279.1 606.5,279 608.8,279 611.1,278.9 613.5,278.9 615.8,278.8 618.2,278.8 620.5,278.7 622.9,278.6 625.2,278.4 627.5,278.3 629.9,278.1 632.2,277.9 634.6,277.7 636.9,277.5 639.2,277.2 641.6,276.9 643.9,276.6 646.3,276.2 648.6,275.9 650.9,275.5 653.3,275 655.6,274.6 658,274.2 660.3,273.7 662.6,273.2 665,272.8 667.3,272.4 669.7,272 672,271.6 674.3,271.3 676.7,271.1 679,270.9 681.4,270.8 683.7,270.7 686,270.6 688.4,270.6 690.7,270.7 693.1,270.7 695.4,270.8 697.8,270.9 700.1,271 702.4,271 704.8,271.1 707.1,271.1 709.5,271.1 711.8,271.1 714.1,271.1 716.5,271 718.8,270.9 721.2,270.7 723.5,270.3 725.8,269.8 728.2,269.2 730.5,268.3 732.9,267.2 735.2,265.7 737.5,263.9 739.9,261.8 742.2,259.3 744.6,256.4 746.9,253.1 749.2,249.6 751.6,245.8 753.9,241.8 756.3,237.9 758.6,234.2 760.9,230.7 763.3,227.9 765.6,225.8 768,224.7 770.3,224.6 772.7,225.4 775,227.1 777.3,229.5 779.7,232.6 782,236.2 784.4,240.2 786.7,244.4 789,248.7 791.4,252.9 793.7,256.9 796.1,260.7 798.4,264 800.7,267 803.1,269.6 805.4,271.8 807.8,273.7 810.1,275.2 812.4,276.3 814.8,277.3 817.1,278 819.5,278.5 821.8,278.9 824.1,279.2 826.5,279.4 828.8,279.6 831.2,279.7 833.5,279.7 835.8,279.8 838.2,279.8 840.5,279.8 842.9,279.9 845.2,279.9 847.5,279.9 849.9,279.9 852.2,279.9 854.6,279.9 856.9,279.9 859.3,279.9 861.6,279.9 863.9,279.9 866.3,279.9 868.6,279.9 871,279.9 873.3,279.9 875.6,279.9 878,279.9 880.3,279.9 882.7,279.9 885,280" fill="none" stroke="#111" stroke-width="1.7"/>
<path d="M510.5,279.3 512.8,279.3 515.2,279.3 517.5,279.3 519.9,279.3 522.2,279.3 524.5,279.3 526.9,279.3 529.2,279.3 531.6,279.3 533.9,279.3 536.2,279.3 538.6,279.3 540.9,279.3 543.3,279.3 545.6,279.3 548,279.3 550.3,279.3 552.6,279.3 555,279.2 557.3,279.2 559.7,279.2 562,279.2 564.3,279.2 566.7,279.2 569,279.2 571.4,279.2 573.7,279.2 576,279.2 578.4,279.1 580.7,279.1 583.1,279.1 585.4,279.1 587.7,279.1 590.1,279.1 592.4,279 594.8,279 597.1,279 599.4,279 601.8,278.9 604.1,278.9 606.5,278.9 608.8,278.8 611.1,278.8 613.5,278.7 615.8,278.6 618.2,278.5 620.5,278.4 622.9,278.3 625.2,278.2 627.5,278.1 629.9,277.9 632.2,277.7 634.6,277.5 636.9,277.2 639.2,276.9 641.6,276.6 643.9,276.3 646.3,275.9 648.6,275.5 650.9,275.1 653.3,274.7 655.6,274.2 658,273.8 660.3,273.3 662.6,272.8 665,272.4 667.3,271.9 669.7,271.5 672,271.1 674.3,270.8 676.7,270.5 679,270.3 681.4,270.1 683.7,270 686,269.9 688.4,269.9 690.7,269.9 693.1,269.9 695.4,269.9 697.8,269.9 700.1,270 702.4,270 704.8,270 707.1,269.9 709.5,269.9 711.8,269.9 714.1,269.8 716.5,269.7 718.8,269.6 721.2,269.4 723.5,269.2 725.8,268.9 728.2,268.5 730.5,267.9 732.9,267.2 735.2,266.2 737.5,265 739.9,263.4 742.2,261.5 744.6,259.1 746.9,256.2 749.2,252.7 751.6,248.8 753.9,244.3 756.3,239.4 758.6,234.4 760.9,229.4 763.3,225.1 765.6,221.9 768,220.4 770.3,220.8 772.7,223.2 775,227 777.3,231.7 779.7,236.9 782,242.1 784.4,247.1 786.7,251.6 789,255.6 791.4,259.1 793.7,262 796.1,264.6 798.4,266.7 800.7,268.5 803.1,269.9 805.4,271.2 807.8,272.2 810.1,273 812.4,273.7 814.8,274.3 817.1,274.8 819.5,275.2 821.8,275.6 824.1,275.9 826.5,276.2 828.8,276.5 831.2,276.7 833.5,276.9 835.8,277.1 838.2,277.3 840.5,277.5 842.9,277.6 845.2,277.7 847.5,277.9 849.9,278 852.2,278.1 854.6,278.2 856.9,278.3 859.3,278.4 861.6,278.4 863.9,278.5 866.3,278.6 868.6,278.6 871,278.7 873.3,278.8 875.6,278.8 878,278.9 880.3,278.9 882.7,279 885,279" fill="none" stroke="#ee1a22" stroke-width="2.2"/>
<path d="M510.5,279.6 512.8,279.6 515.2,279.6 517.5,279.6 519.9,279.6 522.2,279.6 524.5,279.6 526.9,279.6 529.2,279.6 531.6,279.6 533.9,279.6 536.2,279.6 538.6,279.6 540.9,279.6 543.3,279.6 545.6,279.6 548,279.6 550.3,279.6 552.6,279.6 555,279.6 557.3,279.7 559.7,279.7 562,279.7 564.3,279.7 566.7,279.7 569,279.7 571.4,279.7 573.7,279.7 576,279.7 578.4,279.7 580.7,279.7 583.1,279.7 585.4,279.7 587.7,279.7 590.1,279.7 592.4,279.7 594.8,279.7 597.1,279.7 599.4,279.7 601.8,279.7 604.1,279.7 606.5,279.7 608.8,279.7 611.1,279.7 613.5,279.7 615.8,279.8 618.2,279.8 620.5,279.8 622.9,279.8 625.2,279.8 627.5,279.8 629.9,279.8 632.2,279.8 634.6,279.9 636.9,279.9 639.2,279.9 641.6,279.9 643.9,279.9 646.3,280 648.6,280 650.9,280 653.3,280 655.6,280.1 658,280.1 660.3,280.2 662.6,280.2 665,280.2 667.3,280.3 669.7,280.3 672,280.4 674.3,280.4 676.7,280.5 679,280.5 681.4,280.6 683.7,280.6 686,280.7 688.4,280.7 690.7,280.8 693.1,280.9 695.4,280.9 697.8,281 700.1,281 702.4,281 704.8,281.1 707.1,281.1 709.5,281.2 711.8,281.2 714.1,281.2 716.5,281.3 718.8,281.3 721.2,281.3 723.5,281.3 725.8,281.3 728.2,281.3 730.5,281.3 732.9,281.3 735.2,281.3 737.5,281.3 739.9,281.3 742.2,281.3 744.6,281.2 746.9,281.2 749.2,281.2 751.6,281.1 753.9,281.1 756.3,281 758.6,281 760.9,281 763.3,280.9 765.6,280.9 768,280.8 770.3,280.8 772.7,280.7 775,280.7 777.3,280.6 779.7,280.6 782,280.5 784.4,280.5 786.7,280.4 789,280.4 791.4,280.4 793.7,280.3 796.1,280.3 798.4,280.3 800.7,280.2 803.1,280.2 805.4,280.2 807.8,280.1 810.1,280.1 812.4,280.1 814.8,280.1 817.1,280.1 819.5,280.1 821.8,280 824.1,280 826.5,280 828.8,280 831.2,280 833.5,280 835.8,280 838.2,280 840.5,280 842.9,280 845.2,280 847.5,280 849.9,280 852.2,280 854.6,280 856.9,280 859.3,280 861.6,280 863.9,280 866.3,280 868.6,280 871,280 873.3,280 875.6,280 878,280 880.3,280 882.7,280 885,280" fill="none" stroke="#20d040" stroke-width="1.6"/>
<path d="M510.5,279.4 512.8,279.4 515.2,279.4 517.5,279.4 519.9,279.4 522.2,279.4 524.5,279.4 526.9,279.4 529.2,279.4 531.6,279.4 533.9,279.4 536.2,279.4 538.6,279.4 540.9,279.4 543.3,279.4 545.6,279.4 548,279.4 550.3,279.4 552.6,279.4 555,279.4 557.3,279.4 559.7,279.4 562,279.3 564.3,279.3 566.7,279.3 569,279.3 571.4,279.3 573.7,279.3 576,279.3 578.4,279.3 580.7,279.3 583.1,279.3 585.4,279.3 587.7,279.3 590.1,279.3 592.4,279.3 594.8,279.3 597.1,279.3 599.4,279.2 601.8,279.2 604.1,279.2 606.5,279.2 608.8,279.2 611.1,279.2 613.5,279.2 615.8,279.2 618.2,279.1 620.5,279.1 622.9,279.1 625.2,279.1 627.5,279.1 629.9,279.1 632.2,279 634.6,279 636.9,279 639.2,279 641.6,278.9 643.9,278.9 646.3,278.9 648.6,278.9 650.9,278.8 653.3,278.8 655.6,278.7 658,278.7 660.3,278.7 662.6,278.6 665,278.6 667.3,278.5 669.7,278.5 672,278.4 674.3,278.3 676.7,278.3 679,278.2 681.4,278.1 683.7,278 686,277.9 688.4,277.8 690.7,277.7 693.1,277.6 695.4,277.5 697.8,277.3 700.1,277.2 702.4,277 704.8,276.8 707.1,276.6 709.5,276.4 711.8,276.1 714.1,275.8 716.5,275.4 718.8,275.1 721.2,274.6 723.5,274.1 725.8,273.5 728.2,272.7 730.5,271.8 732.9,270.8 735.2,269.5 737.5,267.9 739.9,266 742.2,263.8 744.6,261.1 746.9,257.9 749.2,254.3 751.6,250.1 753.9,245.4 756.3,240.4 758.6,235.2 760.9,230.1 763.3,225.7 765.6,222.4 768,220.8 770.3,221.2 772.7,223.5 775,227.3 777.3,232 779.7,237.2 782,242.4 784.4,247.3 786.7,251.7 789,255.7 791.4,259.2 793.7,262.2 796.1,264.7 798.4,266.9 800.7,268.6 803.1,270.1 805.4,271.3 807.8,272.3 810.1,273.1 812.4,273.8 814.8,274.4 817.1,274.9 819.5,275.3 821.8,275.7 824.1,276 826.5,276.3 828.8,276.6 831.2,276.8 833.5,277 835.8,277.2 838.2,277.4 840.5,277.5 842.9,277.7 845.2,277.8 847.5,277.9 849.9,278.1 852.2,278.2 854.6,278.3 856.9,278.3 859.3,278.4 861.6,278.5 863.9,278.6 866.3,278.6 868.6,278.7 871,278.8 873.3,278.8 875.6,278.9 878,278.9 880.3,279 882.7,279 885,279" fill="none" stroke="#2a20d8" stroke-width="1.8"/>
<path d="M510.5,279.5 512.8,279.5 515.2,279.5 517.5,279.5 519.9,279.5 522.2,279.5 524.5,279.5 526.9,279.5 529.2,279.5 531.6,279.5 533.9,279.5 536.2,279.5 538.6,279.5 540.9,279.5 543.3,279.5 545.6,279.5 548,279.5 550.3,279.5 552.6,279.5 555,279.5 557.3,279.5 559.7,279.5 562,279.5 564.3,279.5 566.7,279.5 569,279.5 571.4,279.5 573.7,279.5 576,279.5 578.4,279.5 580.7,279.5 583.1,279.5 585.4,279.5 587.7,279.5 590.1,279.5 592.4,279.5 594.8,279.5 597.1,279.4 599.4,279.4 601.8,279.4 604.1,279.4 606.5,279.4 608.8,279.3 611.1,279.3 613.5,279.3 615.8,279.2 618.2,279.1 620.5,279.1 622.9,279 625.2,278.9 627.5,278.7 629.9,278.6 632.2,278.4 634.6,278.2 636.9,278 639.2,277.7 641.6,277.5 643.9,277.2 646.3,276.8 648.6,276.5 650.9,276.1 653.3,275.7 655.6,275.3 658,274.9 660.3,274.5 662.6,274.1 665,273.7 667.3,273.4 669.7,273.1 672,272.8 674.3,272.6 676.7,272.5 679,272.5 681.4,272.5 683.7,272.7 686,272.8 688.4,273.1 690.7,273.4 693.1,273.8 695.4,274.1 697.8,274.5 700.1,274.9 702.4,275.4 704.8,275.8 707.1,276.2 709.5,276.5 711.8,276.9 714.1,277.2 716.5,277.5 718.8,277.8 721.2,278.1 723.5,278.3 725.8,278.5 728.2,278.7 730.5,278.8 732.9,279 735.2,279.1 737.5,279.2 739.9,279.3 742.2,279.3 744.6,279.4 746.9,279.4 749.2,279.5 751.6,279.5 753.9,279.6 756.3,279.6 758.6,279.6 760.9,279.6 763.3,279.6 765.6,279.7 768,279.7 770.3,279.7 772.7,279.7 775,279.7 777.3,279.7 779.7,279.7 782,279.7 784.4,279.7 786.7,279.8 789,279.8 791.4,279.8 793.7,279.8 796.1,279.8 798.4,279.8 800.7,279.8 803.1,279.8 805.4,279.8 807.8,279.8 810.1,279.8 812.4,279.8 814.8,279.8 817.1,279.8 819.5,279.8 821.8,279.9 824.1,279.9 826.5,279.9 828.8,279.9 831.2,279.9 833.5,279.9 835.8,279.9 838.2,279.9 840.5,279.9 842.9,279.9 845.2,279.9 847.5,279.9 849.9,279.9 852.2,279.9 854.6,279.9 856.9,279.9 859.3,279.9 861.6,279.9 863.9,279.9 866.3,279.9 868.6,279.9 871,279.9 873.3,279.9 875.6,279.9 878,279.9 880.3,280 882.7,280 885,280" fill="none" stroke="#10e0e8" stroke-width="1.8"/>
<path d="M510.5,279.6 512.8,279.6 515.2,279.6 517.5,279.6 519.9,279.6 522.2,279.6 524.5,279.6 526.9,279.6 529.2,279.6 531.6,279.6 533.9,279.6 536.2,279.6 538.6,279.6 540.9,279.6 543.3,279.6 545.6,279.6 548,279.6 550.3,279.6 552.6,279.6 555,279.6 557.3,279.6 559.7,279.6 562,279.6 564.3,279.6 566.7,279.7 569,279.7 571.4,279.7 573.7,279.7 576,279.7 578.4,279.7 580.7,279.7 583.1,279.7 585.4,279.7 587.7,279.7 590.1,279.7 592.4,279.7 594.8,279.7 597.1,279.7 599.4,279.7 601.8,279.7 604.1,279.7 606.5,279.7 608.8,279.7 611.1,279.7 613.5,279.7 615.8,279.7 618.2,279.7 620.5,279.7 622.9,279.7 625.2,279.7 627.5,279.7 629.9,279.7 632.2,279.7 634.6,279.7 636.9,279.7 639.2,279.7 641.6,279.7 643.9,279.7 646.3,279.7 648.6,279.7 650.9,279.7 653.3,279.7 655.6,279.7 658,279.7 660.3,279.6 662.6,279.6 665,279.6 667.3,279.6 669.7,279.5 672,279.4 674.3,279.4 676.7,279.3 679,279.2 681.4,279 683.7,278.9 686,278.7 688.4,278.5 690.7,278.3 693.1,278.1 695.4,277.9 697.8,277.7 700.1,277.4 702.4,277.2 704.8,277 707.1,276.8 709.5,276.6 711.8,276.5 714.1,276.4 716.5,276.3 718.8,276.3 721.2,276.4 723.5,276.4 725.8,276.6 728.2,276.7 730.5,276.9 732.9,277.1 735.2,277.3 737.5,277.6 739.9,277.8 742.2,278.1 744.6,278.3 746.9,278.5 749.2,278.7 751.6,278.9 753.9,279 756.3,279.2 758.6,279.3 760.9,279.4 763.3,279.5 765.6,279.6 768,279.6 770.3,279.7 772.7,279.7 775,279.8 777.3,279.8 779.7,279.8 782,279.8 784.4,279.8 786.7,279.8 789,279.9 791.4,279.9 793.7,279.9 796.1,279.9 798.4,279.9 800.7,279.9 803.1,279.9 805.4,279.9 807.8,279.9 810.1,279.9 812.4,279.9 814.8,279.9 817.1,279.9 819.5,279.9 821.8,279.9 824.1,279.9 826.5,279.9 828.8,279.9 831.2,279.9 833.5,279.9 835.8,279.9 838.2,279.9 840.5,279.9 842.9,279.9 845.2,279.9 847.5,279.9 849.9,280 852.2,280 854.6,280 856.9,280 859.3,280 861.6,280 863.9,280 866.3,280 868.6,280 871,280 873.3,280 875.6,280 878,280 880.3,280 882.7,280 885,280" fill="none" stroke="#8a2ad0" stroke-width="1.8"/>
<path d="M510.5,279.6 512.8,279.6 515.2,279.6 517.5,279.6 519.9,279.6 522.2,279.6 524.5,279.6 526.9,279.6 529.2,279.6 531.6,279.6 533.9,279.6 536.2,279.6 538.6,279.6 540.9,279.6 543.3,279.6 545.6,279.6 548,279.6 550.3,279.6 552.6,279.6 555,279.6 557.3,279.7 559.7,279.7 562,279.7 564.3,279.7 566.7,279.7 569,279.7 571.4,279.7 573.7,279.7 576,279.7 578.4,279.7 580.7,279.7 583.1,279.7 585.4,279.7 587.7,279.7 590.1,279.7 592.4,279.7 594.8,279.7 597.1,279.7 599.4,279.7 601.8,279.7 604.1,279.7 606.5,279.7 608.8,279.7 611.1,279.7 613.5,279.7 615.8,279.7 618.2,279.7 620.5,279.7 622.9,279.7 625.2,279.7 627.5,279.7 629.9,279.7 632.2,279.7 634.6,279.7 636.9,279.7 639.2,279.7 641.6,279.7 643.9,279.7 646.3,279.7 648.6,279.7 650.9,279.8 653.3,279.8 655.6,279.8 658,279.8 660.3,279.8 662.6,279.8 665,279.8 667.3,279.8 669.7,279.8 672,279.8 674.3,279.8 676.7,279.8 679,279.8 681.4,279.8 683.7,279.8 686,279.8 688.4,279.8 690.7,279.8 693.1,279.8 695.4,279.8 697.8,279.8 700.1,279.8 702.4,279.8 704.8,279.8 707.1,279.8 709.5,279.8 711.8,279.8 714.1,279.8 716.5,279.8 718.8,279.8 721.2,279.8 723.5,279.8 725.8,279.8 728.2,279.8 730.5,279.8 732.9,279.8 735.2,279.8 737.5,279.8 739.9,279.8 742.2,279.8 744.6,279.9 746.9,279.9 749.2,279.9 751.6,279.9 753.9,279.9 756.3,279.9 758.6,279.9 760.9,279.9 763.3,279.9 765.6,279.9 768,279.9 770.3,279.9 772.7,279.9 775,279.9 777.3,279.9 779.7,279.9 782,279.9 784.4,279.9 786.7,279.9 789,279.9 791.4,279.9 793.7,279.9 796.1,279.9 798.4,279.9 800.7,279.9 803.1,279.9 805.4,279.9 807.8,279.9 810.1,279.9 812.4,279.9 814.8,279.9 817.1,279.9 819.5,279.9 821.8,279.9 824.1,279.9 826.5,279.9 828.8,279.9 831.2,279.9 833.5,279.9 835.8,279.9 838.2,279.9 840.5,280 842.9,280 845.2,280 847.5,280 849.9,280 852.2,280 854.6,280 856.9,280 859.3,280 861.6,280 863.9,280 866.3,280 868.6,280 871,280 873.3,280 875.6,280 878,280 880.3,280 882.7,280 885,280" fill="none" stroke="#ff22d8" stroke-width="2.2"/>
<path d="M510.5,345.5 512.8,345.5 515.2,345.5 517.5,345.5 519.9,345.5 522.2,345.5 524.5,345.5 526.9,345.5 529.2,345.5 531.6,345.5 533.9,345.5 536.2,345.5 538.6,345.5 540.9,345.5 543.3,345.5 545.6,345.5 548,345.5 550.3,345.5 552.6,345.5 555,345.5 557.3,345.5 559.7,345.5 562,345.5 564.3,345.5 566.7,345.5 569,345.5 571.4,345.4 573.7,345.4 576,345.4 578.4,345.4 580.7,345.4 583.1,345.4 585.4,345.4 587.7,345.4 590.1,345.4 592.4,345.4 594.8,345.3 597.1,345.3 599.4,345.3 601.8,345.3 604.1,345.3 606.5,345.2 608.8,345.2 611.1,345.2 613.5,345.1 615.8,345.1 618.2,345 620.5,345 622.9,344.9 625.2,344.8 627.5,344.7 629.9,344.6 632.2,344.5 634.6,344.3 636.9,344.2 639.2,344 641.6,343.8 643.9,343.5 646.3,343.3 648.6,343 650.9,342.7 653.3,342.4 655.6,342.1 658,341.7 660.3,341.4 662.6,341 665,340.7 667.3,340.3 669.7,340 672,339.7 674.3,339.4 676.7,339.1 679,338.9 681.4,338.7 683.7,338.5 686,338.4 688.4,338.3 690.7,338.2 693.1,338.1 695.4,338 697.8,338 700.1,337.9 702.4,337.8 704.8,337.7 707.1,337.6 709.5,337.5 711.8,337.3 714.1,337 716.5,336.7 718.8,336.2 721.2,335.7 723.5,334.9 725.8,334 728.2,332.8 730.5,331.4 732.9,329.6 735.2,327.5 737.5,325.1 739.9,322.3 742.2,319.2 744.6,315.8 746.9,312.3 749.2,308.6 751.6,305 753.9,301.6 756.3,298.6 758.6,296.1 760.9,294.5 763.3,293.7 765.6,294 768,295 770.3,296.9 772.7,299.4 775,302.5 777.3,306 779.7,309.9 782,313.9 784.4,317.9 786.7,321.8 789,325.5 791.4,328.9 793.7,332 796.1,334.7 798.4,337 800.7,339 803.1,340.6 805.4,341.9 807.8,342.9 810.1,343.8 812.4,344.4 814.8,344.8 817.1,345.2 819.5,345.4 821.8,345.6 824.1,345.7 826.5,345.8 828.8,345.9 831.2,345.9 833.5,345.9 835.8,346 838.2,346 840.5,346 842.9,346 845.2,346 847.5,346 849.9,346 852.2,346 854.6,346 856.9,346 859.3,346 861.6,346 863.9,346 866.3,346 868.6,346 871,346 873.3,346 875.6,346 878,346.1 880.3,346.1 882.7,346.1 885,346.1" fill="none" stroke="#111" stroke-width="1.7"/>
<path d="M510.5,345.5 512.8,345.5 515.2,345.5 517.5,345.5 519.9,345.4 522.2,345.4 524.5,345.4 526.9,345.4 529.2,345.4 531.6,345.4 533.9,345.4 536.2,345.4 538.6,345.4 540.9,345.4 543.3,345.4 545.6,345.4 548,345.4 550.3,345.4 552.6,345.4 555,345.4 557.3,345.4 559.7,345.4 562,345.4 564.3,345.4 566.7,345.3 569,345.3 571.4,345.3 573.7,345.3 576,345.3 578.4,345.3 580.7,345.3 583.1,345.3 585.4,345.3 587.7,345.2 590.1,345.2 592.4,345.2 594.8,345.2 597.1,345.2 599.4,345.1 601.8,345.1 604.1,345.1 606.5,345.1 608.8,345 611.1,345 613.5,344.9 615.8,344.9 618.2,344.8 620.5,344.8 622.9,344.7 625.2,344.6 627.5,344.5 629.9,344.4 632.2,344.2 634.6,344.1 636.9,343.9 639.2,343.7 641.6,343.5 643.9,343.2 646.3,343 648.6,342.7 650.9,342.4 653.3,342 655.6,341.7 658,341.3 660.3,341 662.6,340.6 665,340.2 667.3,339.8 669.7,339.5 672,339.1 674.3,338.8 676.7,338.5 679,338.2 681.4,338 683.7,337.8 686,337.6 688.4,337.5 690.7,337.3 693.1,337.2 695.4,337.1 697.8,337 700.1,336.8 702.4,336.7 704.8,336.6 707.1,336.4 709.5,336.2 711.8,336 714.1,335.8 716.5,335.5 718.8,335.2 721.2,334.8 723.5,334.4 725.8,333.8 728.2,333 730.5,332 732.9,330.8 735.2,329.2 737.5,327.3 739.9,324.9 742.2,322.1 744.6,318.8 746.9,315 749.2,310.7 751.6,306.1 753.9,301.4 756.3,296.9 758.6,293.2 760.9,290.6 763.3,289.8 765.6,290.8 768,293.5 770.3,297.4 772.7,302.1 775,307.1 777.3,311.9 779.7,316.4 782,320.5 784.4,324.2 786.7,327.3 789,330 791.4,332.2 793.7,334.1 796.1,335.7 798.4,337 800.7,338.1 803.1,339 805.4,339.7 807.8,340.3 810.1,340.9 812.4,341.3 814.8,341.7 817.1,342 819.5,342.4 821.8,342.6 824.1,342.9 826.5,343.1 828.8,343.3 831.2,343.4 833.5,343.6 835.8,343.8 838.2,343.9 840.5,344 842.9,344.1 845.2,344.2 847.5,344.3 849.9,344.4 852.2,344.5 854.6,344.6 856.9,344.7 859.3,344.7 861.6,344.8 863.9,344.8 866.3,344.9 868.6,345 871,345 873.3,345 875.6,345.1 878,345.1 880.3,345.2 882.7,345.2 885,345.2" fill="none" stroke="#ee1a22" stroke-width="2.2"/>
<path d="M510.5,345.7 512.8,345.7 515.2,345.7 517.5,345.7 519.9,345.7 522.2,345.7 524.5,345.7 526.9,345.7 529.2,345.7 531.6,345.7 533.9,345.7 536.2,345.7 538.6,345.7 540.9,345.7 543.3,345.7 545.6,345.7 548,345.7 550.3,345.7 552.6,345.7 555,345.7 557.3,345.8 559.7,345.8 562,345.8 564.3,345.8 566.7,345.8 569,345.8 571.4,345.8 573.7,345.8 576,345.8 578.4,345.8 580.7,345.8 583.1,345.8 585.4,345.8 587.7,345.8 590.1,345.8 592.4,345.8 594.8,345.8 597.1,345.8 599.4,345.8 601.8,345.8 604.1,345.8 606.5,345.8 608.8,345.8 611.1,345.8 613.5,345.8 615.8,345.9 618.2,345.9 620.5,345.9 622.9,345.9 625.2,345.9 627.5,345.9 629.9,345.9 632.2,345.9 634.6,346 636.9,346 639.2,346 641.6,346 643.9,346 646.3,346.1 648.6,346.1 650.9,346.1 653.3,346.1 655.6,346.2 658,346.2 660.3,346.3 662.6,346.3 665,346.3 667.3,346.4 669.7,346.4 672,346.5 674.3,346.5 676.7,346.6 679,346.6 681.4,346.7 683.7,346.7 686,346.8 688.4,346.8 690.7,346.9 693.1,347 695.4,347 697.8,347.1 700.1,347.1 702.4,347.1 704.8,347.2 707.1,347.2 709.5,347.3 711.8,347.3 714.1,347.3 716.5,347.4 718.8,347.4 721.2,347.4 723.5,347.4 725.8,347.4 728.2,347.4 730.5,347.4 732.9,347.4 735.2,347.4 737.5,347.4 739.9,347.4 742.2,347.4 744.6,347.3 746.9,347.3 749.2,347.3 751.6,347.2 753.9,347.2 756.3,347.1 758.6,347.1 760.9,347.1 763.3,347 765.6,347 768,346.9 770.3,346.9 772.7,346.8 775,346.8 777.3,346.7 779.7,346.7 782,346.6 784.4,346.6 786.7,346.5 789,346.5 791.4,346.5 793.7,346.4 796.1,346.4 798.4,346.4 800.7,346.3 803.1,346.3 805.4,346.3 807.8,346.2 810.1,346.2 812.4,346.2 814.8,346.2 817.1,346.2 819.5,346.2 821.8,346.1 824.1,346.1 826.5,346.1 828.8,346.1 831.2,346.1 833.5,346.1 835.8,346.1 838.2,346.1 840.5,346.1 842.9,346.1 845.2,346.1 847.5,346.1 849.9,346.1 852.2,346.1 854.6,346.1 856.9,346.1 859.3,346.1 861.6,346.1 863.9,346.1 866.3,346.1 868.6,346.1 871,346.1 873.3,346.1 875.6,346.1 878,346.1 880.3,346.1 882.7,346.1 885,346.1" fill="none" stroke="#20d040" stroke-width="1.6"/>
<path d="M510.5,345.5 512.8,345.5 515.2,345.5 517.5,345.5 519.9,345.5 522.2,345.5 524.5,345.5 526.9,345.5 529.2,345.5 531.6,345.5 533.9,345.5 536.2,345.5 538.6,345.5 540.9,345.5 543.3,345.5 545.6,345.5 548,345.5 550.3,345.5 552.6,345.5 555,345.5 557.3,345.5 559.7,345.5 562,345.5 564.3,345.4 566.7,345.4 569,345.4 571.4,345.4 573.7,345.4 576,345.4 578.4,345.4 580.7,345.4 583.1,345.4 585.4,345.4 587.7,345.4 590.1,345.4 592.4,345.4 594.8,345.4 597.1,345.3 599.4,345.3 601.8,345.3 604.1,345.3 606.5,345.3 608.8,345.3 611.1,345.3 613.5,345.3 615.8,345.3 618.2,345.2 620.5,345.2 622.9,345.2 625.2,345.2 627.5,345.2 629.9,345.1 632.2,345.1 634.6,345.1 636.9,345.1 639.2,345 641.6,345 643.9,345 646.3,345 648.6,344.9 650.9,344.9 653.3,344.9 655.6,344.8 658,344.8 660.3,344.7 662.6,344.7 665,344.6 667.3,344.6 669.7,344.5 672,344.4 674.3,344.4 676.7,344.3 679,344.2 681.4,344.1 683.7,344 686,343.9 688.4,343.8 690.7,343.7 693.1,343.5 695.4,343.4 697.8,343.2 700.1,343 702.4,342.8 704.8,342.6 707.1,342.3 709.5,342 711.8,341.7 714.1,341.3 716.5,340.9 718.8,340.3 721.2,339.7 723.5,339 725.8,338.1 728.2,337.1 730.5,335.8 732.9,334.2 735.2,332.3 737.5,330.1 739.9,327.4 742.2,324.3 744.6,320.7 746.9,316.6 749.2,312.1 751.6,307.3 753.9,302.5 756.3,297.8 758.6,293.9 760.9,291.3 763.3,290.4 765.6,291.3 768,293.9 770.3,297.8 772.7,302.4 775,307.3 777.3,312.1 779.7,316.6 782,320.7 784.4,324.3 786.7,327.5 789,330.1 791.4,332.4 793.7,334.3 796.1,335.8 798.4,337.1 800.7,338.2 803.1,339.1 805.4,339.8 807.8,340.4 810.1,341 812.4,341.4 814.8,341.8 817.1,342.1 819.5,342.4 821.8,342.7 824.1,342.9 826.5,343.2 828.8,343.3 831.2,343.5 833.5,343.7 835.8,343.8 838.2,344 840.5,344.1 842.9,344.2 845.2,344.3 847.5,344.4 849.9,344.5 852.2,344.6 854.6,344.6 856.9,344.7 859.3,344.8 861.6,344.8 863.9,344.9 866.3,344.9 868.6,345 871,345 873.3,345.1 875.6,345.1 878,345.2 880.3,345.2 882.7,345.2 885,345.3" fill="none" stroke="#2a20d8" stroke-width="1.8"/>
<path d="M510.5,345.7 512.8,345.7 515.2,345.7 517.5,345.7 519.9,345.7 522.2,345.7 524.5,345.7 526.9,345.7 529.2,345.7 531.6,345.7 533.9,345.7 536.2,345.7 538.6,345.7 540.9,345.7 543.3,345.7 545.6,345.7 548,345.7 550.3,345.7 552.6,345.7 555,345.7 557.3,345.7 559.7,345.7 562,345.7 564.3,345.7 566.7,345.7 569,345.7 571.4,345.7 573.7,345.7 576,345.7 578.4,345.7 580.7,345.7 583.1,345.7 585.4,345.7 587.7,345.6 590.1,345.6 592.4,345.6 594.8,345.6 597.1,345.6 599.4,345.6 601.8,345.6 604.1,345.6 606.5,345.6 608.8,345.6 611.1,345.5 613.5,345.5 615.8,345.5 618.2,345.4 620.5,345.4 622.9,345.3 625.2,345.2 627.5,345.2 629.9,345.1 632.2,345 634.6,344.8 636.9,344.7 639.2,344.5 641.6,344.3 643.9,344.1 646.3,343.9 648.6,343.6 650.9,343.4 653.3,343.1 655.6,342.8 658,342.5 660.3,342.2 662.6,341.9 665,341.6 667.3,341.4 669.7,341.1 672,340.9 674.3,340.7 676.7,340.6 679,340.5 681.4,340.5 683.7,340.6 686,340.7 688.4,340.8 690.7,341 693.1,341.2 695.4,341.5 697.8,341.8 700.1,342.1 702.4,342.4 704.8,342.7 707.1,343 709.5,343.3 711.8,343.6 714.1,343.8 716.5,344.1 718.8,344.3 721.2,344.5 723.5,344.7 725.8,344.8 728.2,345 730.5,345.1 732.9,345.2 735.2,345.3 737.5,345.4 739.9,345.5 742.2,345.5 744.6,345.6 746.9,345.6 749.2,345.7 751.6,345.7 753.9,345.7 756.3,345.7 758.6,345.8 760.9,345.8 763.3,345.8 765.6,345.8 768,345.8 770.3,345.8 772.7,345.8 775,345.8 777.3,345.9 779.7,345.9 782,345.9 784.4,345.9 786.7,345.9 789,345.9 791.4,345.9 793.7,345.9 796.1,345.9 798.4,345.9 800.7,345.9 803.1,345.9 805.4,345.9 807.8,345.9 810.1,345.9 812.4,346 814.8,346 817.1,346 819.5,346 821.8,346 824.1,346 826.5,346 828.8,346 831.2,346 833.5,346 835.8,346 838.2,346 840.5,346 842.9,346 845.2,346 847.5,346 849.9,346 852.2,346 854.6,346 856.9,346 859.3,346 861.6,346 863.9,346 866.3,346 868.6,346 871,346.1 873.3,346.1 875.6,346.1 878,346.1 880.3,346.1 882.7,346.1 885,346.1" fill="none" stroke="#10e0e8" stroke-width="1.8"/>
<path d="M510.5,345.7 512.8,345.7 515.2,345.7 517.5,345.7 519.9,345.7 522.2,345.7 524.5,345.7 526.9,345.7 529.2,345.7 531.6,345.7 533.9,345.7 536.2,345.7 538.6,345.7 540.9,345.7 543.3,345.7 545.6,345.7 548,345.7 550.3,345.7 552.6,345.7 555,345.7 557.3,345.7 559.7,345.7 562,345.7 564.3,345.7 566.7,345.8 569,345.8 571.4,345.8 573.7,345.8 576,345.8 578.4,345.8 580.7,345.8 583.1,345.8 585.4,345.8 587.7,345.8 590.1,345.8 592.4,345.8 594.8,345.8 597.1,345.8 599.4,345.8 601.8,345.8 604.1,345.8 606.5,345.8 608.8,345.8 611.1,345.8 613.5,345.8 615.8,345.8 618.2,345.8 620.5,345.8 622.9,345.8 625.2,345.8 627.5,345.8 629.9,345.8 632.2,345.8 634.6,345.8 636.9,345.8 639.2,345.8 641.6,345.8 643.9,345.8 646.3,345.8 648.6,345.8 650.9,345.8 653.3,345.8 655.6,345.8 658,345.8 660.3,345.7 662.6,345.7 665,345.7 667.3,345.7 669.7,345.6 672,345.5 674.3,345.5 676.7,345.4 679,345.3 681.4,345.1 683.7,345 686,344.8 688.4,344.6 690.7,344.4 693.1,344.2 695.4,344 697.8,343.8 700.1,343.5 702.4,343.3 704.8,343.1 707.1,342.9 709.5,342.7 711.8,342.6 714.1,342.5 716.5,342.4 718.8,342.4 721.2,342.5 723.5,342.5 725.8,342.7 728.2,342.8 730.5,343 732.9,343.2 735.2,343.4 737.5,343.7 739.9,343.9 742.2,344.2 744.6,344.4 746.9,344.6 749.2,344.8 751.6,345 753.9,345.1 756.3,345.3 758.6,345.4 760.9,345.5 763.3,345.6 765.6,345.7 768,345.7 770.3,345.8 772.7,345.8 775,345.9 777.3,345.9 779.7,345.9 782,345.9 784.4,345.9 786.7,345.9 789,346 791.4,346 793.7,346 796.1,346 798.4,346 800.7,346 803.1,346 805.4,346 807.8,346 810.1,346 812.4,346 814.8,346 817.1,346 819.5,346 821.8,346 824.1,346 826.5,346 828.8,346 831.2,346 833.5,346 835.8,346 838.2,346 840.5,346 842.9,346 845.2,346 847.5,346 849.9,346.1 852.2,346.1 854.6,346.1 856.9,346.1 859.3,346.1 861.6,346.1 863.9,346.1 866.3,346.1 868.6,346.1 871,346.1 873.3,346.1 875.6,346.1 878,346.1 880.3,346.1 882.7,346.1 885,346.1" fill="none" stroke="#8a2ad0" stroke-width="1.8"/>
<path d="M510.5,345.7 512.8,345.7 515.2,345.7 517.5,345.7 519.9,345.7 522.2,345.7 524.5,345.7 526.9,345.7 529.2,345.7 531.6,345.7 533.9,345.7 536.2,345.7 538.6,345.7 540.9,345.7 543.3,345.7 545.6,345.7 548,345.7 550.3,345.7 552.6,345.7 555,345.7 557.3,345.8 559.7,345.8 562,345.8 564.3,345.8 566.7,345.8 569,345.8 571.4,345.8 573.7,345.8 576,345.8 578.4,345.8 580.7,345.8 583.1,345.8 585.4,345.8 587.7,345.8 590.1,345.8 592.4,345.8 594.8,345.8 597.1,345.8 599.4,345.8 601.8,345.8 604.1,345.8 606.5,345.8 608.8,345.8 611.1,345.8 613.5,345.8 615.8,345.8 618.2,345.8 620.5,345.8 622.9,345.8 625.2,345.8 627.5,345.8 629.9,345.8 632.2,345.8 634.6,345.8 636.9,345.8 639.2,345.8 641.6,345.8 643.9,345.8 646.3,345.8 648.6,345.8 650.9,345.9 653.3,345.9 655.6,345.9 658,345.9 660.3,345.9 662.6,345.9 665,345.9 667.3,345.9 669.7,345.9 672,345.9 674.3,345.9 676.7,345.9 679,345.9 681.4,345.9 683.7,345.9 686,345.9 688.4,345.9 690.7,345.9 693.1,345.9 695.4,345.9 697.8,345.9 700.1,345.9 702.4,345.9 704.8,345.9 707.1,345.9 709.5,345.9 711.8,345.9 714.1,345.9 716.5,345.9 718.8,345.9 721.2,345.9 723.5,345.9 725.8,345.9 728.2,345.9 730.5,345.9 732.9,345.9 735.2,345.9 737.5,345.9 739.9,345.9 742.2,345.9 744.6,345.9 746.9,346 749.2,346 751.6,346 753.9,346 756.3,346 758.6,346 760.9,346 763.3,346 765.6,346 768,346 770.3,346 772.7,346 775,346 777.3,346 779.7,346 782,346 784.4,346 786.7,346 789,346 791.4,346 793.7,346 796.1,346 798.4,346 800.7,346 803.1,346 805.4,346 807.8,346 810.1,346 812.4,346 814.8,346 817.1,346 819.5,346 821.8,346 824.1,346 826.5,346 828.8,346 831.2,346 833.5,346 835.8,346 838.2,346.1 840.5,346.1 842.9,346.1 845.2,346.1 847.5,346.1 849.9,346.1 852.2,346.1 854.6,346.1 856.9,346.1 859.3,346.1 861.6,346.1 863.9,346.1 866.3,346.1 868.6,346.1 871,346.1 873.3,346.1 875.6,346.1 878,346.1 880.3,346.1 882.7,346.1 885,346.1" fill="none" stroke="#ff22d8" stroke-width="2.2"/>
<path d="M510.5,413.1 512.8,413.1 515.2,413.1 517.5,413.1 519.9,413.1 522.2,413.1 524.5,413.1 526.9,413.1 529.2,413.1 531.6,413.1 533.9,413.1 536.2,413.1 538.6,413.1 540.9,413.1 543.3,413.1 545.6,413.1 548,413.1 550.3,413.1 552.6,413.1 555,413.1 557.3,413.1 559.7,413.1 562,413.1 564.3,413.1 566.7,413.1 569,413.1 571.4,413.1 573.7,413.1 576,413.1 578.4,413 580.7,413 583.1,413 585.4,413 587.7,413 590.1,413 592.4,413 594.8,413 597.1,412.9 599.4,412.9 601.8,412.9 604.1,412.9 606.5,412.8 608.8,412.8 611.1,412.8 613.5,412.7 615.8,412.7 618.2,412.6 620.5,412.5 622.9,412.4 625.2,412.3 627.5,412.2 629.9,412 632.2,411.8 634.6,411.6 636.9,411.4 639.2,411.2 641.6,410.9 643.9,410.6 646.3,410.3 648.6,409.9 650.9,409.5 653.3,409.1 655.6,408.7 658,408.3 660.3,407.9 662.6,407.5 665,407.1 667.3,406.7 669.7,406.3 672,406 674.3,405.7 676.7,405.4 679,405.2 681.4,405.1 683.7,405 686,404.9 688.4,404.9 690.7,404.9 693.1,404.9 695.4,405 697.8,405 700.1,405 702.4,405 704.8,405 707.1,404.9 709.5,404.9 711.8,404.7 714.1,404.5 716.5,404.2 718.8,403.8 721.2,403.3 723.5,402.6 725.8,401.7 728.2,400.6 730.5,399.1 732.9,397.4 735.2,395.3 737.5,392.9 739.9,390.2 742.2,387.1 744.6,383.8 746.9,380.2 749.2,376.6 751.6,373.1 753.9,369.7 756.3,366.7 758.6,364.3 760.9,362.6 763.3,361.9 765.6,362.1 768,363.2 770.3,365 772.7,367.5 775,370.6 777.3,374.1 779.7,377.9 782,381.9 784.4,385.9 786.7,389.8 789,393.5 791.4,396.9 793.7,399.9 796.1,402.6 798.4,404.9 800.7,406.8 803.1,408.5 805.4,409.8 807.8,410.8 810.1,411.6 812.4,412.2 814.8,412.7 817.1,413 819.5,413.3 821.8,413.4 824.1,413.6 826.5,413.7 828.8,413.7 831.2,413.8 833.5,413.8 835.8,413.8 838.2,413.8 840.5,413.8 842.9,413.8 845.2,413.9 847.5,413.9 849.9,413.9 852.2,413.9 854.6,413.9 856.9,413.9 859.3,413.9 861.6,413.9 863.9,413.9 866.3,413.9 868.6,413.9 871,413.9 873.3,413.9 875.6,413.9 878,413.9 880.3,413.9 882.7,414 885,414" fill="none" stroke="#111" stroke-width="1.7"/>
<path d="M510.5,413 512.8,413 515.2,413 517.5,413 519.9,413 522.2,413 524.5,413 526.9,413 529.2,413 531.6,413 533.9,413 536.2,413 538.6,413 540.9,413 543.3,413 545.6,413 548,413 550.3,413 552.6,413 555,413 557.3,413 559.7,413 562,413 564.3,413 566.7,413 569,413 571.4,412.9 573.7,412.9 576,412.9 578.4,412.9 580.7,412.9 583.1,412.9 585.4,412.9 587.7,412.9 590.1,412.8 592.4,412.8 594.8,412.8 597.1,412.8 599.4,412.8 601.8,412.7 604.1,412.7 606.5,412.7 608.8,412.6 611.1,412.6 613.5,412.5 615.8,412.4 618.2,412.4 620.5,412.3 622.9,412.2 625.2,412.1 627.5,411.9 629.9,411.8 632.2,411.6 634.6,411.4 636.9,411.1 639.2,410.9 641.6,410.6 643.9,410.3 646.3,409.9 648.6,409.6 650.9,409.2 653.3,408.8 655.6,408.4 658,407.9 660.3,407.5 662.6,407 665,406.6 667.3,406.2 669.7,405.8 672,405.4 674.3,405.1 676.7,404.8 679,404.6 681.4,404.4 683.7,404.3 686,404.2 688.4,404.1 690.7,404.1 693.1,404 695.4,404 697.8,404 700.1,403.9 702.4,403.9 704.8,403.8 707.1,403.7 709.5,403.6 711.8,403.5 714.1,403.3 716.5,403.1 718.8,402.8 721.2,402.5 723.5,402 725.8,401.5 728.2,400.7 730.5,399.8 732.9,398.6 735.2,397 737.5,395.1 739.9,392.8 742.2,390 744.6,386.7 746.9,382.9 749.2,378.7 751.6,374.1 753.9,369.5 756.3,365 758.6,361.3 760.9,358.8 763.3,358 765.6,359 768,361.7 770.3,365.6 772.7,370.2 775,375.1 777.3,379.9 779.7,384.4 782,388.5 784.4,392.1 786.7,395.2 789,397.9 791.4,400.2 793.7,402 796.1,403.6 798.4,404.9 800.7,406 803.1,406.8 805.4,407.6 807.8,408.2 810.1,408.7 812.4,409.2 814.8,409.6 817.1,409.9 819.5,410.2 821.8,410.5 824.1,410.7 826.5,410.9 828.8,411.1 831.2,411.3 833.5,411.5 835.8,411.6 838.2,411.8 840.5,411.9 842.9,412 845.2,412.1 847.5,412.2 849.9,412.3 852.2,412.4 854.6,412.5 856.9,412.5 859.3,412.6 861.6,412.7 863.9,412.7 866.3,412.8 868.6,412.8 871,412.9 873.3,412.9 875.6,413 878,413 880.3,413.1 882.7,413.1 885,413.1" fill="none" stroke="#ee1a22" stroke-width="2.2"/>
<path d="M510.5,413.3 512.8,413.3 515.2,413.3 517.5,413.3 519.9,413.3 522.2,413.3 524.5,413.3 526.9,413.3 529.2,413.3 531.6,413.3 533.9,413.3 536.2,413.3 538.6,413.4 540.9,413.4 543.3,413.4 545.6,413.4 548,413.4 550.3,413.4 552.6,413.4 555,413.4 557.3,413.4 559.7,413.4 562,413.4 564.3,413.4 566.7,413.4 569,413.4 571.4,413.4 573.7,413.4 576,413.4 578.4,413.4 580.7,413.4 583.1,413.4 585.4,413.4 587.7,413.4 590.1,413.5 592.4,413.5 594.8,413.5 597.1,413.5 599.4,413.5 601.8,413.5 604.1,413.5 606.5,413.5 608.8,413.5 611.1,413.5 613.5,413.5 615.8,413.5 618.2,413.5 620.5,413.6 622.9,413.6 625.2,413.6 627.5,413.6 629.9,413.6 632.2,413.6 634.6,413.7 636.9,413.7 639.2,413.7 641.6,413.7 643.9,413.7 646.3,413.8 648.6,413.8 650.9,413.8 653.3,413.9 655.6,413.9 658,413.9 660.3,414 662.6,414 665,414.1 667.3,414.1 669.7,414.2 672,414.2 674.3,414.3 676.7,414.3 679,414.4 681.4,414.4 683.7,414.5 686,414.5 688.4,414.6 690.7,414.6 693.1,414.7 695.4,414.8 697.8,414.8 700.1,414.9 702.4,414.9 704.8,414.9 707.1,415 709.5,415 711.8,415.1 714.1,415.1 716.5,415.1 718.8,415.2 721.2,415.2 723.5,415.2 725.8,415.2 728.2,415.2 730.5,415.2 732.9,415.2 735.2,415.2 737.5,415.2 739.9,415.2 742.2,415.1 744.6,415.1 746.9,415.1 749.2,415.1 751.6,415 753.9,415 756.3,414.9 758.6,414.9 760.9,414.9 763.3,414.8 765.6,414.8 768,414.7 770.3,414.7 772.7,414.6 775,414.6 777.3,414.5 779.7,414.5 782,414.4 784.4,414.4 786.7,414.4 789,414.3 791.4,414.3 793.7,414.2 796.1,414.2 798.4,414.2 800.7,414.2 803.1,414.1 805.4,414.1 807.8,414.1 810.1,414.1 812.4,414 814.8,414 817.1,414 819.5,414 821.8,414 824.1,414 826.5,414 828.8,414 831.2,414 833.5,414 835.8,414 838.2,414 840.5,414 842.9,414 845.2,414 847.5,414 849.9,414 852.2,414 854.6,414 856.9,414 859.3,414 861.6,414 863.9,414 866.3,414 868.6,414 871,414 873.3,414 875.6,414 878,414 880.3,414 882.7,414 885,414" fill="none" stroke="#20d040" stroke-width="1.6"/>
<path d="M510.5,413.1 512.8,413.1 515.2,413.1 517.5,413.1 519.9,413.1 522.2,413.1 524.5,413.1 526.9,413.1 529.2,413.1 531.6,413.1 533.9,413.1 536.2,413.1 538.6,413.1 540.9,413.1 543.3,413.1 545.6,413.1 548,413.1 550.3,413.1 552.6,413.1 555,413.1 557.3,413.1 559.7,413.1 562,413.1 564.3,413.1 566.7,413.1 569,413.1 571.4,413.1 573.7,413.1 576,413.1 578.4,413.1 580.7,413.1 583.1,413.1 585.4,413.1 587.7,413 590.1,413 592.4,413 594.8,413 597.1,413 599.4,413 601.8,413 604.1,413 606.5,413 608.8,413 611.1,413 613.5,413 615.8,412.9 618.2,412.9 620.5,412.9 622.9,412.9 625.2,412.9 627.5,412.9 629.9,412.8 632.2,412.8 634.6,412.8 636.9,412.8 639.2,412.8 641.6,412.7 643.9,412.7 646.3,412.7 648.6,412.6 650.9,412.6 653.3,412.6 655.6,412.5 658,412.5 660.3,412.5 662.6,412.4 665,412.4 667.3,412.3 669.7,412.2 672,412.2 674.3,412.1 676.7,412 679,412 681.4,411.9 683.7,411.8 686,411.7 688.4,411.6 690.7,411.4 693.1,411.3 695.4,411.1 697.8,411 700.1,410.8 702.4,410.6 704.8,410.4 707.1,410.1 709.5,409.8 711.8,409.5 714.1,409.1 716.5,408.7 718.8,408.2 721.2,407.6 723.5,406.8 725.8,406 728.2,404.9 730.5,403.6 732.9,402.1 735.2,400.2 737.5,398 739.9,395.4 742.2,392.3 744.6,388.7 746.9,384.7 749.2,380.2 751.6,375.4 753.9,370.6 756.3,366 758.6,362.1 760.9,359.5 763.3,358.6 765.6,359.5 768,362.1 770.3,366 772.7,370.6 775,375.4 777.3,380.2 779.7,384.7 782,388.7 784.4,392.3 786.7,395.4 789,398.1 791.4,400.3 793.7,402.2 796.1,403.7 798.4,405 800.7,406.1 803.1,407 805.4,407.7 807.8,408.3 810.1,408.8 812.4,409.3 814.8,409.7 817.1,410 819.5,410.3 821.8,410.6 824.1,410.8 826.5,411 828.8,411.2 831.2,411.4 833.5,411.6 835.8,411.7 838.2,411.8 840.5,412 842.9,412.1 845.2,412.2 847.5,412.3 849.9,412.4 852.2,412.4 854.6,412.5 856.9,412.6 859.3,412.7 861.6,412.7 863.9,412.8 866.3,412.8 868.6,412.9 871,412.9 873.3,413 875.6,413 878,413.1 880.3,413.1 882.7,413.2 885,413.2" fill="none" stroke="#2a20d8" stroke-width="1.8"/>
<path d="M510.5,413.2 512.8,413.2 515.2,413.3 517.5,413.3 519.9,413.3 522.2,413.3 524.5,413.3 526.9,413.3 529.2,413.3 531.6,413.3 533.9,413.3 536.2,413.3 538.6,413.3 540.9,413.3 543.3,413.3 545.6,413.3 548,413.3 550.3,413.3 552.6,413.3 555,413.3 557.3,413.3 559.7,413.3 562,413.3 564.3,413.3 566.7,413.3 569,413.3 571.4,413.3 573.7,413.3 576,413.3 578.4,413.3 580.7,413.3 583.1,413.3 585.4,413.3 587.7,413.3 590.1,413.3 592.4,413.3 594.8,413.2 597.1,413.2 599.4,413.2 601.8,413.2 604.1,413.2 606.5,413.2 608.8,413.1 611.1,413.1 613.5,413.1 615.8,413 618.2,413 620.5,412.9 622.9,412.8 625.2,412.7 627.5,412.6 629.9,412.5 632.2,412.3 634.6,412.1 636.9,411.9 639.2,411.7 641.6,411.4 643.9,411.2 646.3,410.9 648.6,410.5 650.9,410.2 653.3,409.8 655.6,409.5 658,409.1 660.3,408.7 662.6,408.3 665,408 667.3,407.7 669.7,407.4 672,407.2 674.3,407 676.7,406.9 679,406.9 681.4,406.9 683.7,407 686,407.2 688.4,407.4 690.7,407.7 693.1,408.1 695.4,408.4 697.8,408.8 700.1,409.2 702.4,409.5 704.8,409.9 707.1,410.3 709.5,410.6 711.8,411 714.1,411.3 716.5,411.6 718.8,411.8 721.2,412.1 723.5,412.3 725.8,412.5 728.2,412.6 730.5,412.8 732.9,412.9 735.2,413 737.5,413.1 739.9,413.2 742.2,413.3 744.6,413.3 746.9,413.4 749.2,413.4 751.6,413.4 753.9,413.5 756.3,413.5 758.6,413.5 760.9,413.5 763.3,413.6 765.6,413.6 768,413.6 770.3,413.6 772.7,413.6 775,413.6 777.3,413.6 779.7,413.7 782,413.7 784.4,413.7 786.7,413.7 789,413.7 791.4,413.7 793.7,413.7 796.1,413.7 798.4,413.7 800.7,413.7 803.1,413.7 805.4,413.8 807.8,413.8 810.1,413.8 812.4,413.8 814.8,413.8 817.1,413.8 819.5,413.8 821.8,413.8 824.1,413.8 826.5,413.8 828.8,413.8 831.2,413.8 833.5,413.8 835.8,413.8 838.2,413.9 840.5,413.9 842.9,413.9 845.2,413.9 847.5,413.9 849.9,413.9 852.2,413.9 854.6,413.9 856.9,413.9 859.3,413.9 861.6,413.9 863.9,413.9 866.3,413.9 868.6,413.9 871,413.9 873.3,413.9 875.6,413.9 878,413.9 880.3,414 882.7,414 885,414" fill="none" stroke="#10e0e8" stroke-width="1.8"/>
<path d="M510.5,413.3 512.8,413.3 515.2,413.3 517.5,413.3 519.9,413.3 522.2,413.3 524.5,413.3 526.9,413.3 529.2,413.3 531.6,413.3 533.9,413.3 536.2,413.3 538.6,413.3 540.9,413.4 543.3,413.4 545.6,413.4 548,413.4 550.3,413.4 552.6,413.4 555,413.4 557.3,413.4 559.7,413.4 562,413.4 564.3,413.4 566.7,413.4 569,413.4 571.4,413.4 573.7,413.4 576,413.4 578.4,413.4 580.7,413.4 583.1,413.4 585.4,413.4 587.7,413.4 590.1,413.4 592.4,413.4 594.8,413.4 597.1,413.4 599.4,413.5 601.8,413.5 604.1,413.5 606.5,413.5 608.8,413.5 611.1,413.5 613.5,413.5 615.8,413.5 618.2,413.5 620.5,413.5 622.9,413.5 625.2,413.5 627.5,413.5 629.9,413.5 632.2,413.5 634.6,413.5 636.9,413.5 639.2,413.5 641.6,413.5 643.9,413.5 646.3,413.5 648.6,413.5 650.9,413.5 653.3,413.5 655.6,413.5 658,413.5 660.3,413.5 662.6,413.4 665,413.4 667.3,413.4 669.7,413.3 672,413.3 674.3,413.2 676.7,413.1 679,413 681.4,412.9 683.7,412.7 686,412.6 688.4,412.4 690.7,412.2 693.1,412 695.4,411.8 697.8,411.5 700.1,411.3 702.4,411.1 704.8,410.9 707.1,410.7 709.5,410.5 711.8,410.4 714.1,410.3 716.5,410.2 718.8,410.2 721.2,410.2 723.5,410.3 725.8,410.4 728.2,410.6 730.5,410.8 732.9,411 735.2,411.2 737.5,411.5 739.9,411.7 742.2,411.9 744.6,412.2 746.9,412.4 749.2,412.6 751.6,412.8 753.9,412.9 756.3,413.1 758.6,413.2 760.9,413.3 763.3,413.4 765.6,413.5 768,413.5 770.3,413.6 772.7,413.6 775,413.7 777.3,413.7 779.7,413.7 782,413.7 784.4,413.8 786.7,413.8 789,413.8 791.4,413.8 793.7,413.8 796.1,413.8 798.4,413.8 800.7,413.8 803.1,413.8 805.4,413.8 807.8,413.8 810.1,413.8 812.4,413.8 814.8,413.8 817.1,413.9 819.5,413.9 821.8,413.9 824.1,413.9 826.5,413.9 828.8,413.9 831.2,413.9 833.5,413.9 835.8,413.9 838.2,413.9 840.5,413.9 842.9,413.9 845.2,413.9 847.5,413.9 849.9,413.9 852.2,413.9 854.6,413.9 856.9,413.9 859.3,413.9 861.6,413.9 863.9,414 866.3,414 868.6,414 871,414 873.3,414 875.6,414 878,414 880.3,414 882.7,414 885,414" fill="none" stroke="#8a2ad0" stroke-width="1.8"/>
<path d="M510.5,413.3 512.8,413.3 515.2,413.3 517.5,413.3 519.9,413.3 522.2,413.3 524.5,413.3 526.9,413.3 529.2,413.3 531.6,413.3 533.9,413.3 536.2,413.3 538.6,413.4 540.9,413.4 543.3,413.4 545.6,413.4 548,413.4 550.3,413.4 552.6,413.4 555,413.4 557.3,413.4 559.7,413.4 562,413.4 564.3,413.4 566.7,413.4 569,413.4 571.4,413.4 573.7,413.4 576,413.4 578.4,413.4 580.7,413.4 583.1,413.4 585.4,413.4 587.7,413.4 590.1,413.4 592.4,413.5 594.8,413.5 597.1,413.5 599.4,413.5 601.8,413.5 604.1,413.5 606.5,413.5 608.8,413.5 611.1,413.5 613.5,413.5 615.8,413.5 618.2,413.5 620.5,413.5 622.9,413.5 625.2,413.5 627.5,413.5 629.9,413.5 632.2,413.5 634.6,413.5 636.9,413.5 639.2,413.5 641.6,413.5 643.9,413.5 646.3,413.6 648.6,413.6 650.9,413.6 653.3,413.6 655.6,413.6 658,413.6 660.3,413.6 662.6,413.6 665,413.6 667.3,413.6 669.7,413.6 672,413.6 674.3,413.6 676.7,413.6 679,413.6 681.4,413.6 683.7,413.6 686,413.6 688.4,413.6 690.7,413.6 693.1,413.6 695.4,413.6 697.8,413.6 700.1,413.7 702.4,413.7 704.8,413.7 707.1,413.7 709.5,413.7 711.8,413.7 714.1,413.7 716.5,413.7 718.8,413.7 721.2,413.7 723.5,413.7 725.8,413.7 728.2,413.7 730.5,413.7 732.9,413.7 735.2,413.7 737.5,413.7 739.9,413.7 742.2,413.7 744.6,413.7 746.9,413.7 749.2,413.7 751.6,413.8 753.9,413.8 756.3,413.8 758.6,413.8 760.9,413.8 763.3,413.8 765.6,413.8 768,413.8 770.3,413.8 772.7,413.8 775,413.8 777.3,413.8 779.7,413.8 782,413.8 784.4,413.8 786.7,413.8 789,413.8 791.4,413.8 793.7,413.8 796.1,413.8 798.4,413.8 800.7,413.8 803.1,413.8 805.4,413.9 807.8,413.9 810.1,413.9 812.4,413.9 814.8,413.9 817.1,413.9 819.5,413.9 821.8,413.9 824.1,413.9 826.5,413.9 828.8,413.9 831.2,413.9 833.5,413.9 835.8,413.9 838.2,413.9 840.5,413.9 842.9,413.9 845.2,413.9 847.5,413.9 849.9,413.9 852.2,413.9 854.6,413.9 856.9,413.9 859.3,414 861.6,414 863.9,414 866.3,414 868.6,414 871,414 873.3,414 875.6,414 878,414 880.3,414 882.7,414 885,414" fill="none" stroke="#ff22d8" stroke-width="2.2"/>
</g>
<text x="523.7" y="62.7" font-size="12.8">CeO<tspan font-size="6.7" dy="5">2</tspan><tspan dy="-5"></tspan></text>
<text x="523.4" y="114.0" font-size="12.8">CeO<tspan font-size="6.7" dy="5">2</tspan><tspan dy="-5">-H450</tspan></text>
<text x="526.7" y="184.4" font-size="12.8">CeO<tspan font-size="6.7" dy="5">2</tspan><tspan dy="-5">-H550</tspan></text>
<text x="526.7" y="251.8" font-size="12.8">CeO<tspan font-size="6.7" dy="5">2</tspan><tspan dy="-5">-H650</tspan></text>
<text x="526.7" y="327.7" font-size="12.8">CeO<tspan font-size="6.7" dy="5">2</tspan><tspan dy="-5">-H750</tspan></text>
<text x="527.8" y="390.5" font-size="12.8">CeO<tspan font-size="6.7" dy="5">2</tspan><tspan dy="-5">-H800</tspan></text>
<text x="518.7" y="37.0" font-size="22" text-anchor="start" >B</text>
<line x1="675.5" y1="68.8" x2="675.5" y2="53.4" stroke="#222" stroke-width="1.0"/>
<path d="M675.5,45.4 L672.9,54.4 L678.1,54.4 Z" fill="#111"/>
<line x1="714.3" y1="73.4" x2="714.3" y2="58.1" stroke="#222" stroke-width="1.0"/>
<path d="M714.3,50.1 L711.7,59.1 L716.9,59.1 Z" fill="#111"/>
<line x1="777.3" y1="25.2" x2="784.5" y2="25.2" stroke="#222" stroke-width="1.0"/>
<path d="M792.5,25.2 L783.5,22.6 L783.5,27.8 Z" fill="#111"/>
<rect x="510.4" y="11.0" width="374.6" height="410.7" fill="none" stroke="#2b2b2b" stroke-width="1.9"/>
<line x1="510.5" y1="421.7" x2="510.5" y2="428.7" stroke="#1a1a1a" stroke-width="1.7"/>
<text x="510.5" y="445.0" font-size="14" text-anchor="middle" >536</text>
<line x1="585.4" y1="421.7" x2="585.4" y2="428.7" stroke="#1a1a1a" stroke-width="1.7"/>
<text x="585.4" y="445.0" font-size="14" text-anchor="middle" >534</text>
<line x1="660.3" y1="421.7" x2="660.3" y2="428.7" stroke="#1a1a1a" stroke-width="1.7"/>
<text x="660.3" y="445.0" font-size="14" text-anchor="middle" >532</text>
<line x1="735.2" y1="421.7" x2="735.2" y2="428.7" stroke="#1a1a1a" stroke-width="1.7"/>
<text x="735.2" y="445.0" font-size="14" text-anchor="middle" >530</text>
<line x1="810.1" y1="421.7" x2="810.1" y2="428.7" stroke="#1a1a1a" stroke-width="1.7"/>
<text x="810.1" y="445.0" font-size="14" text-anchor="middle" >528</text>
<line x1="885.0" y1="421.7" x2="885.0" y2="428.7" stroke="#1a1a1a" stroke-width="1.7"/>
<text x="885.0" y="445.0" font-size="14" text-anchor="middle" >526</text>
<line x1="548.0" y1="421.7" x2="548.0" y2="425.7" stroke="#1a1a1a" stroke-width="1.5"/>
<line x1="622.9" y1="421.7" x2="622.9" y2="425.7" stroke="#1a1a1a" stroke-width="1.5"/>
<line x1="697.8" y1="421.7" x2="697.8" y2="425.7" stroke="#1a1a1a" stroke-width="1.5"/>
<line x1="772.7" y1="421.7" x2="772.7" y2="425.7" stroke="#1a1a1a" stroke-width="1.5"/>
<line x1="847.5" y1="421.7" x2="847.5" y2="425.7" stroke="#1a1a1a" stroke-width="1.5"/>
<text x="625.0" y="466.0" font-size="19" text-anchor="start" >Binding Enenrgy(eV)</text>
<text x="0" y="0" font-size="20.8" text-anchor="middle" transform="translate(496.7,216.8) rotate(-90)">Intensity(a.u)</text>
<text x="669.7" y="37.7" font-size="20">O<tspan font-size="10.5">C</tspan></text>
<text x="709.1" y="47.3" font-size="20">O<tspan font-size="10.5">V</tspan></text>
<text x="796.8" y="41.4" font-size="20">O<tspan font-size="10.5">L</tspan></text>
<g clip-path="url(#clipC)">
<path d="M41.2,578.7 42.9,578.7 44.6,578.6 46.3,578.6 48,578.5 49.7,578.4 51.4,578.3 53.1,578.2 54.8,578 56.5,577.7 58.2,577.4 59.9,576.9 61.6,576.2 63.3,575.2 65.1,573.8 66.8,571.8 68.5,569.1 70.2,565.8 71.9,561.9 73.6,557.7 75.3,553.6 77,550.4 78.7,549.1 80.4,550.2 82.1,553.4 83.8,558 85.5,563 87.2,567.7 88.9,571.7 90.6,575.1 92.3,577.7 94.1,579.6 95.8,581 97.5,582 99.2,582.7 100.9,583.2 102.6,583.6 104.3,583.9 106,584.2 107.7,584.4 109.4,584.6 111.1,584.7 112.8,584.9 114.5,585 116.2,585.1 117.9,585.2 119.6,585.3 121.4,585.4 123.1,585.4 124.8,585.5 126.5,585.5 128.2,585.5 129.9,585.6 131.6,585.6 133.3,585.5 135,585.4 136.7,585.3 138.4,585.1 140.1,584.8 141.8,584.4 143.5,583.9 145.2,583.3 146.9,582.6 148.6,581.7 150.4,580.9 152.1,580 153.8,579.2 155.5,578.5 157.2,578.1 158.9,578 160.6,578.3 162.3,578.9 164,579.7 165.7,580.7 167.4,581.6 169.1,582.5 170.8,583.3 172.5,583.9 174.2,584.4 175.9,584.6 177.6,584.7 179.4,584.6 181.1,584.4 182.8,584.1 184.5,583.7 186.2,583.3 187.9,583 189.6,582.6 191.3,582.4 193,582.3 194.7,582.2 196.4,582.2 198.1,582.1 199.8,581.9 201.5,581.3 203.2,580.2 204.9,578.3 206.7,575.5 208.4,571.6 210.1,567 211.8,562.5 213.5,559.5 215.2,559.7 216.9,562.9 218.6,567.6 220.3,571.8 222,574.8 223.7,575.9 225.4,575.1 227.1,572.4 228.8,568 230.5,562.2 232.2,555.9 233.9,550.6 235.7,548.3 237.4,550.3 239.1,556.3 240.8,564.2 242.5,572.2 244.2,579.3 245.9,585.2 247.6,589.7 249.3,593.1 251,595.6 252.7,597.4 254.4,598.9 256.1,600.1 257.8,601.1 259.5,602 261.2,602.9 262.9,603.7 264.7,604.4 266.4,605 268.1,605.5 269.8,605.8 271.5,606.1 273.2,606.1 274.9,606 276.6,605.9 278.3,605.6 280,605.2 281.7,604.9 283.4,604.5 285.1,604.1 286.8,603.8 288.5,603.4 290.2,603.1 292,602.7 293.7,602.3 295.4,601.8 297.1,601.2 298.8,600.5 300.5,599.7 302.2,598.8 303.9,597.7 305.6,596.5 307.3,595.3 309,594.2 310.7,593.1 312.4,592.2 314.1,591.6 315.8,591.3 317.5,591.4 319.2,591.9 321,592.7 322.7,593.6 324.4,594.7 326.1,595.6 327.8,596.5 329.5,597.2 331.2,597.7 332.9,598 334.6,598 336.3,597.8 338,597.4 339.7,596.9 341.4,596.4 343.1,595.8 344.8,595.2 346.5,594.8 348.2,594.5 350,594.3 351.7,594.1 353.4,593.8 355.1,593.3 356.8,592.3 358.5,590.8 360.2,588.4 361.9,585.2 363.6,581.1 365.3,576.4 367,571.5 368.7,567.5 370.4,565.6 372.1,566.8 373.8,571 375.5,577.3 377.3,584.2 379,591 380.7,596.9 382.4,601.9 384.1,605.9 385.8,609.1 387.5,611.5 389.2,613.3 390.9,614.7 392.6,615.8 394.3,616.7 396,617.4 397.7,617.9 399.4,618.4 401.1,618.8 402.8,619.2 404.5,619.5 406.3,619.8 408,620 409.7,620.3 411.4,620.5 413.1,620.7 414.8,620.8 416.5,621" fill="none" stroke="#111" stroke-width="2.0" stroke-linejoin="round"/>
<path d="M41.2,578.7 42.9,578.6 44.6,578.6 46.3,578.5 48,578.4 49.7,578.3 51.4,578.2 53.1,578 54.8,577.8 56.5,577.5 58.2,577.1 59.9,576.4 61.6,575.5 63.3,574.2 65.1,572.4 66.8,569.9 68.5,566.8 70.2,563 71.9,558.8 73.6,554.5 75.3,550.9 77,549 78.7,549.5 80.4,552.3 82.1,556.8 83.8,561.7 85.5,566.6 87.2,570.9 88.9,574.4 90.6,577.1 92.3,579.2 94.1,580.7 95.8,581.8 97.5,582.6 99.2,583.1 100.9,583.6 102.6,583.9 104.3,584.1 106,584.4 107.7,584.6 109.4,584.7 111.1,584.9 112.8,585 114.5,585.1 116.2,585.2 117.9,585.3 119.6,585.3 121.4,585.4 123.1,585.5 124.8,585.5 126.5,585.5 128.2,585.6 129.9,585.6 131.6,585.5 133.3,585.5 135,585.4 136.7,585.2 138.4,584.9 140.1,584.6 141.8,584.1 143.5,583.5 145.2,582.8 146.9,582 148.6,581.1 150.4,580.2 152.1,579.3 153.8,578.6 155.5,578.2 157.2,578 158.9,578.2 160.6,578.7 162.3,579.5 164,580.4 165.7,581.4 167.4,582.3 169.1,583.1 170.8,583.8 172.5,584.3 174.2,584.6 175.9,584.7 177.6,584.7 179.4,584.5 181.1,584.2 182.8,583.8 184.5,583.4 186.2,583 187.9,582.7 189.6,582.5 191.3,582.3 193,582.2 194.7,582.2 196.4,582.2 198.1,582 199.8,581.5 201.5,580.6 203.2,578.9 204.9,576.4 206.7,572.8 208.4,568.2 210.1,563.4 211.8,559.7 213.5,559 215.2,561.8 216.9,566.4 218.6,571 220.3,574.4 222,576 223.7,575.7 225.4,573.4 227.1,569.4 228.8,563.8 230.5,557.3 232.2,551.4 233.9,548 235.7,549 237.4,554.3 239.1,562.1 240.8,570.3 242.5,577.7 244.2,583.8 245.9,588.6 247.6,592.1 249.3,594.6 251,596.4 252.7,597.7 254.4,598.7 256.1,599.4 257.8,599.9 259.5,600.4 261.2,600.8 262.9,601.1 264.7,601.4 266.4,601.6 268.1,601.8 269.8,602 271.5,602.2 273.2,602.3 274.9,602.4 276.6,602.5 278.3,602.6 280,602.7 281.7,602.7 283.4,602.7 285.1,602.7 286.8,602.7 288.5,602.6 290.2,602.4 292,602.1 293.7,601.8 295.4,601.3 297.1,600.7 298.8,599.9 300.5,599 302.2,598 303.9,596.8 305.6,595.6 307.3,594.4 309,593.3 310.7,592.4 312.4,591.7 314.1,591.3 315.8,591.3 317.5,591.7 319.2,592.5 321,593.4 322.7,594.4 324.4,595.4 326.1,596.3 327.8,597.1 329.5,597.6 331.2,597.9 332.9,598 334.6,597.9 336.3,597.6 338,597.1 339.7,596.5 341.4,595.9 343.1,595.3 344.8,594.9 346.5,594.5 348.2,594.3 350,594.1 351.7,593.9 353.4,593.5 355.1,592.7 356.8,591.3 358.5,589.2 360.2,586.2 361.9,582.3 363.6,577.6 365.3,572.7 367,568.2 368.7,565.6 370.4,565.9 372.1,569.5 373.8,575.5 375.5,582.5 377.3,589.4 379,595.6 380.7,600.8 382.4,605.1 384.1,608.4 385.8,611 387.5,613 389.2,614.5 390.9,615.6 392.6,616.5 394.3,617.2 396,617.8 397.7,618.3 399.4,618.7 401.1,619.1 402.8,619.4 404.5,619.7 406.3,620 408,620.2 409.7,620.4 411.4,620.6 413.1,620.8 414.8,621 416.5,621.1" fill="none" stroke="#f01820" stroke-width="2.4" stroke-linejoin="round"/>
<path d="M164,588.4 165.7,588.5 167.4,588.4 169.1,588.4 170.8,588.3 172.5,588.1 174.2,587.9 175.9,587.6 177.6,587.3 179.4,586.9 181.1,586.5 182.8,586.2 184.5,585.8 186.2,585.5 187.9,585.3 189.6,585.3 191.3,585.4 193,585.7 194.7,586.1 196.4,586.6 198.1,587.2 199.8,587.8 201.5,588.5 203.2,589.1 204.9,589.8 206.7,590.4 208.4,591.1 210.1,591.7 211.8,592.4 213.5,593.1 215.2,593.8 216.9,594.4 218.6,594.9" fill="none" stroke="#1c1c8c" stroke-width="2.0"/>
<path d="M174.2,589.1 175.9,589.2 177.6,589.2 179.4,589.3 181.1,589.3 182.8,589.3 184.5,589.3 186.2,589.3 187.9,589.3 189.6,589.3 191.3,589.2 193,589 194.7,588.8 196.4,588.5 198.1,588 199.8,587.1 201.5,585.8 203.2,583.8 204.9,581 206.7,577.2 208.4,572.6 210.1,567.7 211.8,564.1 213.5,563.7 215.2,566.9 216.9,572.2 218.6,577.8 220.3,582.7 222,586.6 223.7,589.4 225.4,591.5 227.1,593.1 228.8,594.3 230.5,595.4 232.2,596.4 233.9,597.4 235.7,598.4 237.4,599.3 239.1,600.1 240.8,600.8 242.5,601.4 244.2,601.9 245.9,602.2 247.6,602.5 249.3,602.8 251,603" fill="none" stroke="#00e8f0" stroke-width="2.0"/>
<path d="M181.1,589.5 182.8,589.6 184.5,589.7 186.2,589.8 187.9,589.8 189.6,589.9 191.3,590 193,590.1 194.7,590.2 196.4,590.2 198.1,590.3 199.8,590.3 201.5,590.3 203.2,590.4 204.9,590.4 206.7,590.4 208.4,590.5 210.1,590.5 211.8,590.6 213.5,590.6 215.2,590.6 216.9,590.2 218.6,589.5 220.3,588.3 222,586.3 223.7,583.4 225.4,579.3 227.1,574 228.8,567.6 230.5,560.5 232.2,554.2 233.9,550.5 235.7,551.2 237.4,556.3 239.1,563.9 240.8,572 242.5,579.3 244.2,585.3 245.9,590 247.6,593.4 249.3,595.9 251,597.7 252.7,598.9 254.4,599.8 256.1,600.5 257.8,601.1 259.5,601.5 261.2,601.9 262.9,602.2 264.7,602.5 266.4,602.8 268.1,603 269.8,603.2 271.5,603.4 273.2,603.5 274.9,603.7 276.6,603.8 278.3,603.9 280,604.1 281.7,604.2 283.4,604.3 285.1,604.4 286.8,604.5 288.5,604.6" fill="none" stroke="#8c8a10" stroke-width="2.0"/>
<path d="M283.4,604.4 285.1,604.4 286.8,604.3 288.5,604.2 290.2,604 292,603.7 293.7,603.4 295.4,602.9 297.1,602.3 298.8,601.6 300.5,600.7 302.2,599.8 303.9,598.7 305.6,597.6 307.3,596.5 309,595.4 310.7,594.6 312.4,594.1 314.1,593.9 315.8,594.1 317.5,594.8 319.2,595.8 321,597.1 322.7,598.5 324.4,600 326.1,601.5 327.8,602.9 329.5,604.2 331.2,605.4 332.9,606.4 334.6,607.3 336.3,608 338,608.6 339.7,609.1 341.4,609.6 343.1,610 344.8,610.4 346.5,610.7" fill="none" stroke="#f5e800" stroke-width="2.0"/>
<path d="M297.1,604.9 298.8,605 300.5,605.1 302.2,605.1 303.9,605.2 305.6,605.3 307.3,605.4 309,605.5 310.7,605.6 312.4,605.7 314.1,605.8 315.8,605.8 317.5,605.9 319.2,605.9 321,605.8 322.7,605.7 324.4,605.4 326.1,605.2 327.8,604.8 329.5,604.3 331.2,603.8 332.9,603.2 334.6,602.5 336.3,601.8 338,601.1 339.7,600.5 341.4,599.9 343.1,599.5 344.8,599.3 346.5,599.3 348.2,599.6 350,600.2 351.7,601.1 353.4,602.1 355.1,603.2 356.8,604.4 358.5,605.6 360.2,606.8 361.9,608.1 363.6,609.3 365.3,610.5 367,611.7 368.7,612.9 370.4,614.1 372.1,615.2 373.8,616.3 375.5,617.2 377.3,617.9 379,618.6 380.7,619.1 382.4,619.5 384.1,619.9 385.8,620.2 387.5,620.4 389.2,620.7 390.9,620.8 392.6,621 394.3,621.2 396,621.3 397.7,621.4" fill="none" stroke="#ff2ce0" stroke-width="2.0"/>
<path d="M305.6,605.6 307.3,605.7 309,605.9 310.7,606 312.4,606.2 314.1,606.4 315.8,606.6 317.5,606.8 319.2,607 321,607.2 322.7,607.3 324.4,607.5 326.1,607.6 327.8,607.7 329.5,607.8 331.2,607.9 332.9,607.9 334.6,607.9 336.3,607.9 338,607.9 339.7,607.9 341.4,607.8 343.1,607.7 344.8,607.6 346.5,607.3 348.2,606.9 350,606.4 351.7,605.5 353.4,604.4 355.1,602.7 356.8,600.4 358.5,597.3 360.2,593.4 361.9,588.7 363.6,583.3 365.3,577.6 367,572.5 368.7,569.3 370.4,569.2 372.1,572.4 373.8,578 375.5,584.7 377.3,591.4 379,597.4 380.7,602.4 382.4,606.5 384.1,609.8 385.8,612.2 387.5,614.1 389.2,615.5 390.9,616.6 392.6,617.4 394.3,618.1 396,618.6 397.7,619.1 399.4,619.5 401.1,619.8 402.8,620.1 404.5,620.3 406.3,620.6 408,620.8 409.7,621 411.4,621.1 413.1,621.3 414.8,621.5 416.5,621.6" fill="none" stroke="#2222e6" stroke-width="2.0"/>
<path d="M41.2,579.7 42.9,579.7 44.6,579.8 46.3,579.8 48,579.9 49.7,579.9 51.4,580 53.1,580 54.8,580.1 56.5,580.2 58.2,580.2 59.9,580.3 61.6,580.4 63.3,580.5 65.1,580.6 66.8,580.7 68.5,580.9 70.2,581.1 71.9,581.4 73.6,581.7 75.3,582.1 77,582.6 78.7,583.1 80.4,583.6 82.1,584 83.8,584.4 85.5,584.8 87.2,585 88.9,585.3 90.6,585.4 92.3,585.6 94.1,585.7 95.8,585.8 97.5,585.9 99.2,586 100.9,586 102.6,586.1 104.3,586.1 106,586.2 107.7,586.3 109.4,586.3 111.1,586.4 112.8,586.4 114.5,586.5 116.2,586.5 117.9,586.5 119.6,586.6 121.4,586.6 123.1,586.7 124.8,586.7 126.5,586.8 128.2,586.8 129.9,586.9 131.6,586.9 133.3,587 135,587 136.7,587.1 138.4,587.1 140.1,587.2 141.8,587.3 143.5,587.3 145.2,587.4 146.9,587.5 148.6,587.6 150.4,587.7 152.1,587.9 153.8,588 155.5,588.2 157.2,588.3 158.9,588.5 160.6,588.7 162.3,588.8 164,589 165.7,589.1 167.4,589.3 169.1,589.4 170.8,589.5 172.5,589.6 174.2,589.7 175.9,589.8 177.6,589.9 179.4,590 181.1,590.1 182.8,590.2 184.5,590.3 186.2,590.5 187.9,590.6 189.6,590.7 191.3,590.9 193,591 194.7,591.2 196.4,591.3 198.1,591.5 199.8,591.6 201.5,591.8 203.2,592 204.9,592.2 206.7,592.4 208.4,592.7 210.1,593.1 211.8,593.5 213.5,594 215.2,594.5 216.9,595 218.6,595.4 220.3,595.8 222,596.1 223.7,596.4 225.4,596.7 227.1,597.1 228.8,597.5 230.5,598 232.2,598.5 233.9,599.2 235.7,599.9 237.4,600.7 239.1,601.3 240.8,601.9 242.5,602.4 244.2,602.7 245.9,603 247.6,603.2 249.3,603.4 251,603.6 252.7,603.7 254.4,603.8 256.1,603.9 257.8,604 259.5,604.1 261.2,604.2 262.9,604.2 264.7,604.3 266.4,604.4 268.1,604.4 269.8,604.5 271.5,604.6 273.2,604.6 274.9,604.7 276.6,604.7 278.3,604.8 280,604.9 281.7,604.9 283.4,605 285.1,605 286.8,605.1 288.5,605.2 290.2,605.2 292,605.3 293.7,605.4 295.4,605.4 297.1,605.5 298.8,605.6 300.5,605.7 302.2,605.9 303.9,606 305.6,606.1 307.3,606.3 309,606.5 310.7,606.7 312.4,606.9 314.1,607.2 315.8,607.4 317.5,607.7 319.2,607.9 321,608.2 322.7,608.4 324.4,608.6 326.1,608.8 327.8,609 329.5,609.2 331.2,609.4 332.9,609.6 334.6,609.8 336.3,610 338,610.2 339.7,610.4 341.4,610.6 343.1,610.8 344.8,611.1 346.5,611.3 348.2,611.6 350,611.8 351.7,612.1 353.4,612.4 355.1,612.7 356.8,613 358.5,613.3 360.2,613.7 361.9,614.1 363.6,614.5 365.3,615.1 367,615.7 368.7,616.3 370.4,617.1 372.1,617.8 373.8,618.5 375.5,619.1 377.3,619.6 379,620.1 380.7,620.4 382.4,620.7 384.1,621 385.8,621.2 387.5,621.3 389.2,621.5 390.9,621.6 392.6,621.7 394.3,621.8 396,621.9 397.7,622 399.4,622.1 401.1,622.1 402.8,622.2 404.5,622.3 406.3,622.3 408,622.4 409.7,622.5 411.4,622.5 413.1,622.6 414.8,622.6 416.5,622.7" fill="none" stroke="#7a1414" stroke-width="1.9"/>
<path d="M41.2,579.7 42.9,579.7 44.6,579.8 46.3,579.8 48,579.9 49.7,579.9 51.4,580 53.1,580 54.8,580.1 56.5,580.1 58.2,580.2 59.9,580.3 61.6,580.3 63.3,580.4 65.1,580.5 66.8,580.7 68.5,580.9 70.2,581.1 71.9,581.4 73.6,581.7 75.3,582.1 77,582.5 78.7,583 80.4,583.5 82.1,584 83.8,584.4 85.5,584.7 87.2,585 88.9,585.2 90.6,585.4 92.3,585.5 94.1,585.6 95.8,585.7 97.5,585.8 99.2,585.9 100.9,585.9 102.6,586 104.3,586 106,586.1 107.7,586.1 109.4,586.2 111.1,586.2 112.8,586.3 114.5,586.3 116.2,586.3 117.9,586.4 119.6,586.4 121.4,586.4 123.1,586.4 124.8,586.5 126.5,586.5 128.2,586.5 129.9,586.5 131.6,586.4 133.3,586.4 135,586.2 136.7,586.1 138.4,585.8 140.1,585.4 141.8,585 143.5,584.4 145.2,583.7 146.9,582.9 148.6,582.1 150.4,581.2 152.1,580.4 153.8,579.7 155.5,579.3 157.2,579.2 158.9,579.4 160.6,580 162.3,580.9 164,582 165.7,583.1 167.4,584.2 169.1,585.3 170.8,586.2 172.5,587 174.2,587.7 175.9,588.3 177.6,588.7 179.4,589.1 181.1,589.4 182.8,589.7" fill="none" stroke="#9a2a9e" stroke-width="2.0"/>
<path d="M56.5,577.7 58.2,577.3 59.9,576.6 61.6,575.7 63.3,574.4 65.1,572.6 66.8,570.1 68.5,567 70.2,563.2 71.9,559 73.6,554.7 75.3,551.2 77,549.2 78.7,549.7 80.4,552.6 82.1,557 83.8,562 85.5,566.9 87.2,571.1 88.9,574.7 90.6,577.4 92.3,579.5 94.1,581 95.8,582.1 97.5,582.9 99.2,583.5" fill="none" stroke="#8b0f14" stroke-width="2.3"/>
<path d="M41.2,667.3 42.9,667.3 44.6,667.3 46.3,667.2 48,667.1 49.7,667.1 51.4,666.9 53.1,666.8 54.8,666.6 56.5,666.4 58.2,666.1 59.9,665.6 61.6,664.9 63.3,664 65.1,662.6 66.8,660.7 68.5,658.1 70.2,655 71.9,651.3 73.6,647.2 75.3,643.2 77,640.2 78.7,638.9 80.4,639.9 82.1,643 83.8,647.3 85.5,652.1 87.2,656.5 88.9,660.4 90.6,663.6 92.3,666.1 94.1,667.9 95.8,669.2 97.5,670.2 99.2,670.9 100.9,671.4 102.6,671.7 104.3,672 106,672.3 107.7,672.5 109.4,672.6 111.1,672.8 112.8,672.9 114.5,673 116.2,673.1 117.9,673.2 119.6,673.3 121.4,673.4 123.1,673.4 124.8,673.5 126.5,673.5 128.2,673.5 129.9,673.5 131.6,673.5 133.3,673.5 135,673.4 136.7,673.3 138.4,673.1 140.1,672.8 141.8,672.4 143.5,672 145.2,671.4 146.9,670.6 148.6,669.8 150.4,669 152.1,668.1 153.8,667.3 155.5,666.7 157.2,666.3 158.9,666.2 160.6,666.5 162.3,667 164,667.8 165.7,668.7 167.4,669.6 169.1,670.5 170.8,671.2 172.5,671.8 174.2,672.2 175.9,672.4 177.6,672.4 179.4,672.3 181.1,672.1 182.8,671.8 184.5,671.4 186.2,671 187.9,670.6 189.6,670.2 191.3,670 193,669.9 194.7,669.8 196.4,669.8 198.1,669.7 199.8,669.4 201.5,668.8 203.2,667.7 204.9,665.8 206.7,662.9 208.4,659 210.1,654.4 211.8,649.8 213.5,646.8 215.2,646.9 216.9,650.2 218.6,654.8 220.3,659.2 222,662.1 223.7,663.3 225.4,662.6 227.1,660 228.8,655.6 230.5,649.9 232.2,643.6 233.9,638.4 235.7,636.1 237.4,638.1 239.1,643.9 240.8,651.7 242.5,659.6 244.2,666.6 245.9,672.3 247.6,676.8 249.3,680.1 251,682.5 252.7,684.4 254.4,685.8 256.1,687 257.8,688 259.5,688.9 261.2,689.8 262.9,690.6 264.7,691.3 266.4,691.9 268.1,692.4 269.8,692.7 271.5,692.9 273.2,693 274.9,692.9 276.6,692.7 278.3,692.4 280,692.1 281.7,691.7 283.4,691.3 285.1,691 286.8,690.6 288.5,690.3 290.2,689.9 292,689.6 293.7,689.2 295.4,688.7 297.1,688.2 298.8,687.6 300.5,686.8 302.2,685.9 303.9,684.9 305.6,683.9 307.3,682.8 309,681.7 310.7,680.7 312.4,679.8 314.1,679.3 315.8,679 317.5,679.1 319.2,679.5 321,680.2 322.7,681.1 324.4,682 326.1,682.9 327.8,683.6 329.5,684.3 331.2,684.7 332.9,684.9 334.6,684.9 336.3,684.7 338,684.3 339.7,683.8 341.4,683.2 343.1,682.7 344.8,682.1 346.5,681.7 348.2,681.4 350,681.2 351.7,681 353.4,680.7 355.1,680.2 356.8,679.3 358.5,677.8 360.2,675.5 361.9,672.5 363.6,668.6 365.3,664.1 367,659.4 368.7,655.6 370.4,653.8 372.1,654.8 373.8,658.8 375.5,664.7 377.3,671.3 379,677.6 380.7,683.3 382.4,688 384.1,691.8 385.8,694.8 387.5,697 389.2,698.8 390.9,700.1 392.6,701.1 394.3,701.9 396,702.6 397.7,703.1 399.4,703.6 401.1,703.9 402.8,704.3 404.5,704.6 406.3,704.8 408,705.1 409.7,705.3 411.4,705.5 413.1,705.7 414.8,705.8 416.5,706" fill="none" stroke="#111" stroke-width="2.0" stroke-linejoin="round"/>
<path d="M41.2,667.3 42.9,667.3 44.6,667.2 46.3,667.2 48,667.1 49.7,667 51.4,666.9 53.1,666.7 54.8,666.5 56.5,666.2 58.2,665.8 59.9,665.1 61.6,664.3 63.3,663 65.1,661.3 66.8,658.9 68.5,655.9 70.2,652.3 71.9,648.2 73.6,644.1 75.3,640.7 77,638.8 78.7,639.2 80.4,641.9 82.1,646.1 83.8,650.9 85.5,655.5 87.2,659.6 88.9,662.9 90.6,665.6 92.3,667.5 94.1,669 95.8,670 97.5,670.7 99.2,671.3 100.9,671.7 102.6,672 104.3,672.2 106,672.4 107.7,672.6 109.4,672.8 111.1,672.9 112.8,673 114.5,673.1 116.2,673.2 117.9,673.3 119.6,673.3 121.4,673.4 123.1,673.5 124.8,673.5 126.5,673.5 128.2,673.5 129.9,673.5 131.6,673.5 133.3,673.4 135,673.3 136.7,673.2 138.4,672.9 140.1,672.6 141.8,672.1 143.5,671.5 145.2,670.8 146.9,670.1 148.6,669.2 150.4,668.3 152.1,667.5 153.8,666.8 155.5,666.4 157.2,666.2 158.9,666.4 160.6,666.9 162.3,667.6 164,668.5 165.7,669.4 167.4,670.3 169.1,671 170.8,671.7 172.5,672.1 174.2,672.4 175.9,672.5 177.6,672.4 179.4,672.2 181.1,671.9 182.8,671.5 184.5,671.1 186.2,670.7 187.9,670.3 189.6,670 191.3,669.9 193,669.8 194.7,669.8 196.4,669.7 198.1,669.5 199.8,669.1 201.5,668.1 203.2,666.4 204.9,663.8 206.7,660.2 208.4,655.6 210.1,650.7 211.8,646.9 213.5,646.2 215.2,649 216.9,653.7 218.6,658.3 220.3,661.7 222,663.4 223.7,663.1 225.4,661 227.1,657 228.8,651.4 230.5,645.1 232.2,639.2 233.9,635.9 235.7,636.8 237.4,642 239.1,649.6 240.8,657.7 242.5,665 244.2,671 245.9,675.7 247.6,679.1 249.3,681.6 251,683.4 252.7,684.7 254.4,685.6 256.1,686.3 257.8,686.8 259.5,687.3 261.2,687.7 262.9,688 264.7,688.3 266.4,688.5 268.1,688.7 269.8,688.9 271.5,689 273.2,689.2 274.9,689.3 276.6,689.4 278.3,689.5 280,689.5 281.7,689.6 283.4,689.6 285.1,689.6 286.8,689.5 288.5,689.4 290.2,689.3 292,689 293.7,688.7 295.4,688.2 297.1,687.7 298.8,687 300.5,686.1 302.2,685.2 303.9,684.1 305.6,683 307.3,681.9 309,680.9 310.7,680 312.4,679.3 314.1,679 315.8,679 317.5,679.4 319.2,680 321,680.8 322.7,681.8 324.4,682.7 326.1,683.5 327.8,684.1 329.5,684.6 331.2,684.9 332.9,684.9 334.6,684.8 336.3,684.4 338,684 339.7,683.4 341.4,682.8 343.1,682.3 344.8,681.8 346.5,681.4 348.2,681.2 350,681 351.7,680.8 353.4,680.4 355.1,679.6 356.8,678.3 358.5,676.3 360.2,673.4 361.9,669.7 363.6,665.3 365.3,660.5 367,656.3 368.7,653.7 370.4,654 372.1,657.4 373.8,663 375.5,669.7 377.3,676.2 379,682 380.7,687 382.4,691 384.1,694.1 385.8,696.6 387.5,698.4 389.2,699.8 390.9,700.9 392.6,701.8 394.3,702.4 396,703 397.7,703.5 399.4,703.9 401.1,704.2 402.8,704.5 404.5,704.8 406.3,705 408,705.3 409.7,705.5 411.4,705.6 413.1,705.8 414.8,706 416.5,706.1" fill="none" stroke="#f01820" stroke-width="2.4" stroke-linejoin="round"/>
<path d="M164,676.2 165.7,676.2 167.4,676.2 169.1,676.1 170.8,676 172.5,675.8 174.2,675.5 175.9,675.3 177.6,674.9 179.4,674.6 181.1,674.2 182.8,673.8 184.5,673.4 186.2,673.1 187.9,672.9 189.6,672.9 191.3,673 193,673.2 194.7,673.6 196.4,674.1 198.1,674.7 199.8,675.4 201.5,676 203.2,676.7 204.9,677.3 206.7,677.9 208.4,678.6 210.1,679.2 211.8,679.9 213.5,680.6 215.2,681.2 216.9,681.8 218.6,682.3" fill="none" stroke="#1c1c8c" stroke-width="2.0"/>
<path d="M174.2,676.8 175.9,676.9 177.6,676.9 179.4,676.9 181.1,676.9 182.8,677 184.5,677 186.2,677 187.9,676.9 189.6,676.9 191.3,676.8 193,676.6 194.7,676.4 196.4,676.1 198.1,675.5 199.8,674.6 201.5,673.3 203.2,671.3 204.9,668.4 206.7,664.6 208.4,659.9 210.1,655 211.8,651.3 213.5,650.8 215.2,654 216.9,659.4 218.6,665 220.3,669.9 222,673.8 223.7,676.7 225.4,678.8 227.1,680.3 228.8,681.6 230.5,682.6 232.2,683.6 233.9,684.5 235.7,685.4 237.4,686.3 239.1,687.1 240.8,687.8 242.5,688.3 244.2,688.8 245.9,689.1 247.6,689.4 249.3,689.6 251,689.8" fill="none" stroke="#00e8f0" stroke-width="2.0"/>
<path d="M181.1,677.2 182.8,677.3 184.5,677.3 186.2,677.4 187.9,677.5 189.6,677.6 191.3,677.6 193,677.7 194.7,677.8 196.4,677.8 198.1,677.9 199.8,677.9 201.5,677.9 203.2,678 204.9,678 206.7,678 208.4,678 210.1,678.1 211.8,678.1 213.5,678.2 215.2,678.1 216.9,677.7 218.6,677 220.3,675.8 222,673.8 223.7,670.9 225.4,666.9 227.1,661.6 228.8,655.3 230.5,648.3 232.2,642 233.9,638.3 235.7,639 237.4,644 239.1,651.4 240.8,659.4 242.5,666.6 244.2,672.5 245.9,677.1 247.6,680.5 249.3,682.9 251,684.6 252.7,685.8 254.4,686.7 256.1,687.4 257.8,687.9 259.5,688.4 261.2,688.7 262.9,689.1 264.7,689.3 266.4,689.6 268.1,689.8 269.8,690 271.5,690.1 273.2,690.3 274.9,690.4 276.6,690.6 278.3,690.7 280,690.8 281.7,690.9 283.4,691 285.1,691.1 286.8,691.2 288.5,691.3" fill="none" stroke="#8c8a10" stroke-width="2.0"/>
<path d="M283.4,691.2 285.1,691.2 286.8,691.1 288.5,691 290.2,690.8 292,690.6 293.7,690.3 295.4,689.8 297.1,689.3 298.8,688.6 300.5,687.8 302.2,686.9 303.9,685.9 305.6,684.9 307.3,683.9 309,682.9 310.7,682.1 312.4,681.6 314.1,681.5 315.8,681.7 317.5,682.3 319.2,683.2 321,684.4 322.7,685.7 324.4,687.1 326.1,688.4 327.8,689.7 329.5,690.9 331.2,692 332.9,692.9 334.6,693.7 336.3,694.3 338,694.9 339.7,695.4 341.4,695.8 343.1,696.2 344.8,696.5 346.5,696.8" fill="none" stroke="#f5e800" stroke-width="2.0"/>
<path d="M297.1,691.7 298.8,691.7 300.5,691.8 302.2,691.8 303.9,691.9 305.6,692 307.3,692 309,692.1 310.7,692.2 312.4,692.3 314.1,692.4 315.8,692.4 317.5,692.4 319.2,692.4 321,692.3 322.7,692.2 324.4,691.9 326.1,691.7 327.8,691.3 329.5,690.8 331.2,690.3 332.9,689.7 334.6,689.1 336.3,688.4 338,687.8 339.7,687.1 341.4,686.6 343.1,686.2 344.8,686 346.5,686 348.2,686.3 350,686.8 351.7,687.6 353.4,688.5 355.1,689.6 356.8,690.7 358.5,691.8 360.2,693 361.9,694.1 363.6,695.3 365.3,696.4 367,697.5 368.7,698.6 370.4,699.7 372.1,700.8 373.8,701.7 375.5,702.5 377.3,703.2 379,703.8 380.7,704.3 382.4,704.7 384.1,705 385.8,705.3 387.5,705.5 389.2,705.7 390.9,705.9 392.6,706 394.3,706.2 396,706.3" fill="none" stroke="#ff2ce0" stroke-width="2.0"/>
<path d="M307.3,692.3 309,692.5 310.7,692.6 312.4,692.8 314.1,693 315.8,693.1 317.5,693.3 319.2,693.5 321,693.6 322.7,693.7 324.4,693.9 326.1,694 327.8,694.1 329.5,694.1 331.2,694.2 332.9,694.2 334.6,694.2 336.3,694.2 338,694.2 339.7,694.2 341.4,694.1 343.1,694 344.8,693.8 346.5,693.6 348.2,693.2 350,692.6 351.7,691.8 353.4,690.7 355.1,689.1 356.8,686.9 358.5,684 360.2,680.3 361.9,675.8 363.6,670.6 365.3,665.2 367,660.3 368.7,657.3 370.4,657.1 372.1,660.1 373.8,665.4 375.5,671.8 377.3,678 379,683.7 380.7,688.5 382.4,692.4 384.1,695.4 385.8,697.7 387.5,699.5 389.2,700.8 390.9,701.8 392.6,702.6 394.3,703.2 396,703.8 397.7,704.2 399.4,704.6 401.1,704.9 402.8,705.1 404.5,705.4 406.3,705.6 408,705.8 409.7,706 411.4,706.1 413.1,706.3 414.8,706.4 416.5,706.5" fill="none" stroke="#2222e6" stroke-width="2.0"/>
<path d="M41.2,668.3 42.9,668.3 44.6,668.4 46.3,668.4 48,668.5 49.7,668.5 51.4,668.6 53.1,668.6 54.8,668.7 56.5,668.7 58.2,668.8 59.9,668.8 61.6,668.9 63.3,669 65.1,669.1 66.8,669.2 68.5,669.4 70.2,669.6 71.9,669.8 73.6,670.1 75.3,670.5 77,670.9 78.7,671.4 80.4,671.8 82.1,672.2 83.8,672.6 85.5,672.9 87.2,673.1 88.9,673.3 90.6,673.5 92.3,673.6 94.1,673.7 95.8,673.8 97.5,673.9 99.2,674 100.9,674 102.6,674.1 104.3,674.1 106,674.2 107.7,674.2 109.4,674.3 111.1,674.3 112.8,674.4 114.5,674.4 116.2,674.5 117.9,674.5 119.6,674.6 121.4,674.6 123.1,674.6 124.8,674.7 126.5,674.7 128.2,674.8 129.9,674.8 131.6,674.9 133.3,674.9 135,674.9 136.7,675 138.4,675 140.1,675.1 141.8,675.2 143.5,675.2 145.2,675.3 146.9,675.4 148.6,675.5 150.4,675.6 152.1,675.7 153.8,675.8 155.5,676 157.2,676.1 158.9,676.3 160.6,676.4 162.3,676.6 164,676.7 165.7,676.9 167.4,677 169.1,677.1 170.8,677.2 172.5,677.3 174.2,677.4 175.9,677.5 177.6,677.6 179.4,677.7 181.1,677.8 182.8,677.9 184.5,678 186.2,678.1 187.9,678.2 189.6,678.4 191.3,678.5 193,678.6 194.7,678.8 196.4,678.9 198.1,679.1 199.8,679.2 201.5,679.4 203.2,679.5 204.9,679.7 206.7,680 208.4,680.2 210.1,680.6 211.8,681 213.5,681.5 215.2,682 216.9,682.4 218.6,682.8 220.3,683.1 222,683.5 223.7,683.7 225.4,684 227.1,684.4 228.8,684.7 230.5,685.2 232.2,685.7 233.9,686.4 235.7,687 237.4,687.7 239.1,688.3 240.8,688.9 242.5,689.3 244.2,689.6 245.9,689.9 247.6,690.1 249.3,690.3 251,690.4 252.7,690.5 254.4,690.6 256.1,690.7 257.8,690.8 259.5,690.9 261.2,691 262.9,691 264.7,691.1 266.4,691.2 268.1,691.2 269.8,691.3 271.5,691.3 273.2,691.4 274.9,691.5 276.6,691.5 278.3,691.6 280,691.6 281.7,691.7 283.4,691.7 285.1,691.8 286.8,691.8 288.5,691.9 290.2,691.9 292,692 293.7,692.1 295.4,692.1 297.1,692.2 298.8,692.3 300.5,692.4 302.2,692.5 303.9,692.6 305.6,692.8 307.3,692.9 309,693.1 310.7,693.3 312.4,693.5 314.1,693.7 315.8,693.9 317.5,694.1 319.2,694.3 321,694.5 322.7,694.7 324.4,694.9 326.1,695.1 327.8,695.3 329.5,695.5 331.2,695.6 332.9,695.8 334.6,696 336.3,696.1 338,696.3 339.7,696.5 341.4,696.7 343.1,696.9 344.8,697.1 346.5,697.4 348.2,697.6 350,697.8 351.7,698.1 353.4,698.3 355.1,698.6 356.8,698.8 358.5,699.1 360.2,699.5 361.9,699.8 363.6,700.2 365.3,700.7 367,701.3 368.7,701.9 370.4,702.5 372.1,703.2 373.8,703.8 375.5,704.3 377.3,704.8 379,705.2 380.7,705.5 382.4,705.8 384.1,706 385.8,706.2 387.5,706.4 389.2,706.5 390.9,706.6 392.6,706.7 394.3,706.8 396,706.9 397.7,707 399.4,707 401.1,707.1 402.8,707.2 404.5,707.2 406.3,707.3 408,707.3 409.7,707.4 411.4,707.4 413.1,707.5 414.8,707.5 416.5,707.6" fill="none" stroke="#7a1414" stroke-width="1.9"/>
<path d="M41.2,668.3 42.9,668.3 44.6,668.4 46.3,668.4 48,668.4 49.7,668.5 51.4,668.5 53.1,668.6 54.8,668.6 56.5,668.7 58.2,668.7 59.9,668.8 61.6,668.9 63.3,669 65.1,669.1 66.8,669.2 68.5,669.4 70.2,669.6 71.9,669.8 73.6,670.1 75.3,670.5 77,670.9 78.7,671.3 80.4,671.8 82.1,672.2 83.8,672.5 85.5,672.8 87.2,673.1 88.9,673.3 90.6,673.4 92.3,673.6 94.1,673.7 95.8,673.7 97.5,673.8 99.2,673.9 100.9,673.9 102.6,674 104.3,674 106,674.1 107.7,674.1 109.4,674.2 111.1,674.2 112.8,674.2 114.5,674.3 116.2,674.3 117.9,674.3 119.6,674.4 121.4,674.4 123.1,674.4 124.8,674.4 126.5,674.4 128.2,674.4 129.9,674.4 131.6,674.4 133.3,674.3 135,674.2 136.7,674 138.4,673.8 140.1,673.4 141.8,673 143.5,672.4 145.2,671.8 146.9,671 148.6,670.2 150.4,669.3 152.1,668.5 153.8,667.9 155.5,667.5 157.2,667.4 158.9,667.6 160.6,668.2 162.3,669 164,670 165.7,671.1 167.4,672.1 169.1,673.1 170.8,674.1 172.5,674.8 174.2,675.5 175.9,676 177.6,676.5 179.4,676.8 181.1,677.1 182.8,677.4" fill="none" stroke="#9a2a9e" stroke-width="2.0"/>
<path d="M56.5,666.4 58.2,665.9 59.9,665.3 61.6,664.5 63.3,663.2 65.1,661.5 66.8,659.1 68.5,656.1 70.2,652.5 71.9,648.4 73.6,644.3 75.3,640.9 77,639 78.7,639.5 80.4,642.2 82.1,646.4 83.8,651.2 85.5,655.8 87.2,659.9 88.9,663.2 90.6,665.9 92.3,667.8 94.1,669.3 95.8,670.3 97.5,671.1 99.2,671.6" fill="none" stroke="#8b0f14" stroke-width="2.3"/>
<path d="M41.2,765.5 42.9,765.5 44.6,765.4 46.3,765.3 48,765.2 49.7,765.1 51.4,765 53.1,764.8 54.8,764.6 56.5,764.3 58.2,763.9 59.9,763.3 61.6,762.5 63.3,761.3 65.1,759.5 66.8,757.2 68.5,754 70.2,750 71.9,745.4 73.6,740.3 75.3,735.3 77,731.5 78.7,729.9 80.4,731.2 82.1,735.1 83.8,740.5 85.5,746.5 87.2,752.1 88.9,756.9 90.6,760.9 92.3,764 94.1,766.3 95.8,768 97.5,769.2 99.2,770.1 100.9,770.7 102.6,771.2 104.3,771.5 106,771.8 107.7,772.1 109.4,772.3 111.1,772.5 112.8,772.7 114.5,772.8 116.2,772.9 117.9,773 119.6,773.1 121.4,773.2 123.1,773.3 124.8,773.4 126.5,773.4 128.2,773.5 129.9,773.5 131.6,773.5 133.3,773.4 135,773.3 136.7,773.2 138.4,772.9 140.1,772.6 141.8,772.2 143.5,771.6 145.2,770.8 146.9,770 148.6,769 150.4,768 152.1,766.9 153.8,766 155.5,765.2 157.2,764.7 158.9,764.7 160.6,765 162.3,765.6 164,766.6 165.7,767.6 167.4,768.8 169.1,769.8 170.8,770.7 172.5,771.4 174.2,771.8 175.9,772.1 177.6,772.1 179.4,772 181.1,771.7 182.8,771.3 184.5,770.8 186.2,770.3 187.9,769.8 189.6,769.4 191.3,769.1 193,768.9 194.7,768.8 196.4,768.8 198.1,768.7 199.8,768.4 201.5,767.6 203.2,766.2 204.9,763.8 206.7,760.2 208.4,755.4 210.1,749.5 211.8,743.7 213.5,740 215.2,740.2 216.9,744.3 218.6,750.2 220.3,755.6 222,759.4 223.7,760.9 225.4,760 227.1,756.8 228.8,751.3 230.5,744.2 232.2,736.5 233.9,729.9 235.7,727.1 237.4,729.6 239.1,736.9 240.8,746.6 242.5,756.4 244.2,765.2 245.9,772.3 247.6,777.8 249.3,781.9 251,785 252.7,787.2 254.4,788.9 256.1,790.3 257.8,791.5 259.5,792.6 261.2,793.5 262.9,794.4 264.7,795.2 266.4,795.9 268.1,796.4 269.8,796.8 271.5,797 273.2,797.1 274.9,797.1 276.6,796.9 278.3,796.7 280,796.3 281.7,796 283.4,795.6 285.1,795.2 286.8,794.9 288.5,794.5 290.2,794.1 292,793.7 293.7,793.3 295.4,792.7 297.1,792 298.8,791.2 300.5,790.2 302.2,789.1 303.9,787.8 305.6,786.4 307.3,785 309,783.5 310.7,782.2 312.4,781.1 314.1,780.3 315.8,780 317.5,780.1 319.2,780.6 321,781.5 322.7,782.5 324.4,783.7 326.1,784.8 327.8,785.7 329.5,786.5 331.2,787 332.9,787.2 334.6,787.1 336.3,786.8 338,786.3 339.7,785.6 341.4,784.9 343.1,784.1 344.8,783.4 346.5,782.9 348.2,782.5 350,782.2 351.7,782 353.4,781.7 355.1,781.1 356.8,780 358.5,778.1 360.2,775.3 361.9,771.4 363.6,766.4 365.3,760.7 367,754.8 368.7,749.9 370.4,747.7 372.1,749.1 373.8,754.3 375.5,762 377.3,770.6 379,778.9 380.7,786.2 382.4,792.3 384.1,797.3 385.8,801.1 387.5,804.1 389.2,806.4 390.9,808.1 392.6,809.5 394.3,810.5 396,811.4 397.7,812.1 399.4,812.7 401.1,813.2 402.8,813.6 404.5,814 406.3,814.4 408,814.7 409.7,815 411.4,815.2 413.1,815.4 414.8,815.7 416.5,815.9" fill="none" stroke="#111" stroke-width="2.0" stroke-linejoin="round"/>
<path d="M41.2,765.5 42.9,765.4 44.6,765.4 46.3,765.3 48,765.2 49.7,765 51.4,764.9 53.1,764.7 54.8,764.4 56.5,764 58.2,763.5 59.9,762.8 61.6,761.7 63.3,760.1 65.1,757.9 66.8,754.9 68.5,751.2 70.2,746.6 71.9,741.6 73.6,736.4 75.3,732.1 77,729.8 78.7,730.4 80.4,733.8 82.1,739 83.8,745 85.5,750.8 87.2,755.9 88.9,760.1 90.6,763.4 92.3,765.9 94.1,767.7 95.8,769 97.5,769.9 99.2,770.6 100.9,771.1 102.6,771.5 104.3,771.8 106,772 107.7,772.3 109.4,772.5 111.1,772.6 112.8,772.8 114.5,772.9 116.2,773 117.9,773.1 119.6,773.2 121.4,773.3 123.1,773.4 124.8,773.4 126.5,773.4 128.2,773.5 129.9,773.5 131.6,773.4 133.3,773.4 135,773.2 136.7,773 138.4,772.7 140.1,772.3 141.8,771.7 143.5,771.1 145.2,770.2 146.9,769.3 148.6,768.2 150.4,767.2 152.1,766.2 153.8,765.4 155.5,764.8 157.2,764.6 158.9,764.8 160.6,765.4 162.3,766.3 164,767.4 165.7,768.5 167.4,769.5 169.1,770.5 170.8,771.2 172.5,771.8 174.2,772.1 175.9,772.2 177.6,772.1 179.4,771.8 181.1,771.4 182.8,770.9 184.5,770.4 186.2,769.9 187.9,769.5 189.6,769.1 191.3,768.9 193,768.8 194.7,768.8 196.4,768.8 198.1,768.5 199.8,767.9 201.5,766.7 203.2,764.6 204.9,761.4 206.7,756.8 208.4,751 210.1,744.9 211.8,740.2 213.5,739.3 215.2,742.8 216.9,748.7 218.6,754.6 220.3,758.8 222,761 223.7,760.7 225.4,758 227.1,753 228.8,746.2 230.5,738.3 232.2,731 233.9,726.8 235.7,728 237.4,734.5 239.1,744 240.8,754.1 242.5,763.2 244.2,770.7 245.9,776.5 247.6,780.8 249.3,784 251,786.2 252.7,787.7 254.4,788.9 256.1,789.8 257.8,790.5 259.5,791 261.2,791.5 262.9,791.9 264.7,792.2 266.4,792.5 268.1,792.8 269.8,793 271.5,793.2 273.2,793.4 274.9,793.5 276.6,793.6 278.3,793.7 280,793.8 281.7,793.8 283.4,793.9 285.1,793.8 286.8,793.8 288.5,793.6 290.2,793.4 292,793.1 293.7,792.7 295.4,792.1 297.1,791.4 298.8,790.4 300.5,789.4 302.2,788.1 303.9,786.8 305.6,785.3 307.3,783.9 309,782.5 310.7,781.3 312.4,780.5 314.1,780 315.8,780 317.5,780.4 319.2,781.2 321,782.3 322.7,783.4 324.4,784.5 326.1,785.5 327.8,786.3 329.5,786.9 331.2,787.2 332.9,787.2 334.6,786.9 336.3,786.4 338,785.8 339.7,785.1 341.4,784.3 343.1,783.6 344.8,783 346.5,782.5 348.2,782.3 350,782.1 351.7,781.8 353.4,781.3 355.1,780.4 356.8,778.7 358.5,776.2 360.2,772.6 361.9,767.8 363.6,762.2 365.3,756.1 367,750.7 368.7,747.5 370.4,748 372.1,752.5 373.8,759.8 375.5,768.5 377.3,777 379,784.6 380.7,791 382.4,796.2 384.1,800.4 385.8,803.5 387.5,805.9 389.2,807.8 390.9,809.2 392.6,810.3 394.3,811.2 396,811.9 397.7,812.5 399.4,813 401.1,813.5 402.8,813.9 404.5,814.3 406.3,814.6 408,814.9 409.7,815.2 411.4,815.4 413.1,815.6 414.8,815.8 416.5,816" fill="none" stroke="#f01820" stroke-width="2.4" stroke-linejoin="round"/>
<path d="M162.3,776.7 164,776.8 165.7,776.8 167.4,776.8 169.1,776.7 170.8,776.5 172.5,776.3 174.2,776 175.9,775.7 177.6,775.2 179.4,774.8 181.1,774.3 182.8,773.8 184.5,773.4 186.2,773 187.9,772.7 189.6,772.7 191.3,772.8 193,773.1 194.7,773.6 196.4,774.3 198.1,775 199.8,775.8 201.5,776.6 203.2,777.5 204.9,778.3 206.7,779.1 208.4,779.9 210.1,780.7 211.8,781.5 213.5,782.4 215.2,783.2 216.9,784 218.6,784.6 220.3,785.2" fill="none" stroke="#1c1c8c" stroke-width="2.0"/>
<path d="M169.1,777.4 170.8,777.5 172.5,777.6 174.2,777.6 175.9,777.7 177.6,777.7 179.4,777.7 181.1,777.8 182.8,777.8 184.5,777.8 186.2,777.8 187.9,777.8 189.6,777.7 191.3,777.6 193,777.4 194.7,777.1 196.4,776.7 198.1,776 199.8,774.9 201.5,773.3 203.2,770.7 204.9,767.1 206.7,762.3 208.4,756.4 210.1,750.3 211.8,745.7 213.5,745.1 215.2,749.1 216.9,755.8 218.6,762.9 220.3,769.1 222,774 223.7,777.6 225.4,780.3 227.1,782.2 228.8,783.7 230.5,785.1 232.2,786.3 233.9,787.5 235.7,788.7 237.4,789.8 239.1,790.8 240.8,791.6 242.5,792.3 244.2,792.9 245.9,793.3 247.6,793.7 249.3,794 251,794.2 252.7,794.4 254.4,794.6 256.1,794.8" fill="none" stroke="#00e8f0" stroke-width="2.0"/>
<path d="M175.9,777.9 177.6,777.9 179.4,778 181.1,778.1 182.8,778.2 184.5,778.3 186.2,778.4 187.9,778.5 189.6,778.6 191.3,778.7 193,778.8 194.7,778.8 196.4,778.9 198.1,779 199.8,779 201.5,779.1 203.2,779.1 204.9,779.1 206.7,779.2 208.4,779.2 210.1,779.3 211.8,779.4 213.5,779.4 215.2,779.3 216.9,778.9 218.6,778 220.3,776.5 222,774.1 223.7,770.5 225.4,765.5 227.1,758.9 228.8,751 230.5,742.3 232.2,734.5 233.9,729.9 235.7,730.8 237.4,737 239.1,746.3 240.8,756.2 242.5,765.2 244.2,772.6 245.9,778.3 247.6,782.5 249.3,785.6 251,787.7 252.7,789.3 254.4,790.4 256.1,791.2 257.8,791.9 259.5,792.4 261.2,792.9 262.9,793.3 264.7,793.6 266.4,793.9 268.1,794.2 269.8,794.5 271.5,794.7 273.2,794.9 274.9,795.1 276.6,795.2 278.3,795.4 280,795.5 281.7,795.7 283.4,795.8 285.1,795.9 286.8,796.1 288.5,796.2 290.2,796.3 292,796.4 293.7,796.5" fill="none" stroke="#8c8a10" stroke-width="2.0"/>
<path d="M281.7,796 283.4,796 285.1,795.9 286.8,795.8 288.5,795.7 290.2,795.5 292,795.2 293.7,794.8 295.4,794.2 297.1,793.5 298.8,792.6 300.5,791.6 302.2,790.5 303.9,789.2 305.6,787.8 307.3,786.5 309,785.3 310.7,784.3 312.4,783.6 314.1,783.4 315.8,783.7 317.5,784.5 319.2,785.7 321,787.2 322.7,789 324.4,790.7 326.1,792.5 327.8,794.2 329.5,795.7 331.2,797.1 332.9,798.3 334.6,799.4 336.3,800.2 338,801 339.7,801.6 341.4,802.2 343.1,802.7 344.8,803.2 346.5,803.6 348.2,804" fill="none" stroke="#f5e800" stroke-width="2.0"/>
<path d="M286.8,796.2 288.5,796.3 290.2,796.3 292,796.3 293.7,796.4 295.4,796.4 297.1,796.5 298.8,796.5 300.5,796.6 302.2,796.7 303.9,796.8 305.6,796.8 307.3,796.9 309,797 310.7,797.1 312.4,797.2 314.1,797.3 315.8,797.3 317.5,797.3 319.2,797.2 321,797.1 322.7,796.8 324.4,796.5 326.1,796.1 327.8,795.6 329.5,794.9 331.2,794.2 332.9,793.4 334.6,792.5 336.3,791.6 338,790.7 339.7,789.9 341.4,789.1 343.1,788.6 344.8,788.3 346.5,788.4 348.2,788.8 350,789.5 351.7,790.6 353.4,791.8 355.1,793.3 356.8,794.8 358.5,796.3 360.2,797.9 361.9,799.5 363.6,801 365.3,802.6 367,804.1 368.7,805.6 370.4,807.1 372.1,808.5 373.8,809.8 375.5,811 377.3,811.9 379,812.7 380.7,813.4 382.4,813.9 384.1,814.4 385.8,814.8 387.5,815.1 389.2,815.4 390.9,815.6 392.6,815.8 394.3,816 396,816.2 397.7,816.3 399.4,816.5 401.1,816.6 402.8,816.7 404.5,816.9 406.3,817" fill="none" stroke="#ff2ce0" stroke-width="2.0"/>
<path d="M298.8,796.8 300.5,796.9 302.2,797.1 303.9,797.2 305.6,797.3 307.3,797.5 309,797.7 310.7,797.9 312.4,798.1 314.1,798.3 315.8,798.5 317.5,798.8 319.2,799 321,799.2 322.7,799.4 324.4,799.6 326.1,799.7 327.8,799.8 329.5,799.9 331.2,800 332.9,800.1 334.6,800.1 336.3,800.1 338,800.1 339.7,800.1 341.4,800 343.1,799.9 344.8,799.7 346.5,799.4 348.2,798.9 350,798.2 351.7,797.2 353.4,795.8 355.1,793.7 356.8,790.9 358.5,787.1 360.2,782.4 361.9,776.6 363.6,769.9 365.3,762.9 367,756.7 368.7,752.7 370.4,752.5 372.1,756.4 373.8,763.3 375.5,771.5 377.3,779.7 379,787 380.7,793.2 382.4,798.2 384.1,802.2 385.8,805.2 387.5,807.5 389.2,809.2 390.9,810.5 392.6,811.5 394.3,812.3 396,813 397.7,813.6 399.4,814 401.1,814.4 402.8,814.8 404.5,815.1 406.3,815.4 408,815.7 409.7,815.9 411.4,816.1 413.1,816.3 414.8,816.5 416.5,816.6" fill="none" stroke="#2222e6" stroke-width="2.0"/>
<path d="M41.2,766.7 42.9,766.8 44.6,766.8 46.3,766.9 48,766.9 49.7,767 51.4,767 53.1,767.1 54.8,767.2 56.5,767.2 58.2,767.3 59.9,767.4 61.6,767.5 63.3,767.6 65.1,767.7 66.8,767.9 68.5,768.1 70.2,768.4 71.9,768.7 73.6,769.1 75.3,769.5 77,770.1 78.7,770.6 80.4,771.2 82.1,771.7 83.8,772.2 85.5,772.6 87.2,772.9 88.9,773.2 90.6,773.4 92.3,773.5 94.1,773.7 95.8,773.8 97.5,773.9 99.2,774 100.9,774 102.6,774.1 104.3,774.2 106,774.3 107.7,774.3 109.4,774.4 111.1,774.4 112.8,774.5 114.5,774.6 116.2,774.6 117.9,774.7 119.6,774.7 121.4,774.8 123.1,774.8 124.8,774.9 126.5,774.9 128.2,775 129.9,775.1 131.6,775.1 133.3,775.2 135,775.2 136.7,775.3 138.4,775.4 140.1,775.4 141.8,775.5 143.5,775.6 145.2,775.7 146.9,775.8 148.6,775.9 150.4,776 152.1,776.2 153.8,776.4 155.5,776.5 157.2,776.7 158.9,776.9 160.6,777.1 162.3,777.3 164,777.5 165.7,777.7 167.4,777.8 169.1,778 170.8,778.1 172.5,778.2 174.2,778.3 175.9,778.5 177.6,778.6 179.4,778.7 181.1,778.8 182.8,778.9 184.5,779.1 186.2,779.2 187.9,779.4 189.6,779.6 191.3,779.7 193,779.9 194.7,780.1 196.4,780.3 198.1,780.5 199.8,780.7 201.5,780.9 203.2,781.1 204.9,781.3 206.7,781.6 208.4,782 210.1,782.4 211.8,783 213.5,783.6 215.2,784.2 216.9,784.8 218.6,785.3 220.3,785.7 222,786.1 223.7,786.5 225.4,786.8 227.1,787.2 228.8,787.7 230.5,788.3 232.2,789 233.9,789.8 235.7,790.7 237.4,791.5 239.1,792.3 240.8,793 242.5,793.5 244.2,794 245.9,794.3 247.6,794.6 249.3,794.8 251,795 252.7,795.1 254.4,795.2 256.1,795.4 257.8,795.5 259.5,795.6 261.2,795.7 262.9,795.8 264.7,795.8 266.4,795.9 268.1,796 269.8,796.1 271.5,796.2 273.2,796.2 274.9,796.3 276.6,796.4 278.3,796.4 280,796.5 281.7,796.6 283.4,796.7 285.1,796.7 286.8,796.8 288.5,796.9 290.2,797 292,797 293.7,797.1 295.4,797.2 297.1,797.3 298.8,797.4 300.5,797.6 302.2,797.7 303.9,797.9 305.6,798 307.3,798.2 309,798.5 310.7,798.7 312.4,799 314.1,799.3 315.8,799.5 317.5,799.8 319.2,800.1 321,800.4 322.7,800.7 324.4,800.9 326.1,801.2 327.8,801.4 329.5,801.7 331.2,801.9 332.9,802.1 334.6,802.4 336.3,802.6 338,802.8 339.7,803.1 341.4,803.4 343.1,803.7 344.8,804 346.5,804.3 348.2,804.6 350,804.9 351.7,805.3 353.4,805.6 355.1,806 356.8,806.3 358.5,806.7 360.2,807.2 361.9,807.7 363.6,808.2 365.3,808.9 367,809.6 368.7,810.4 370.4,811.3 372.1,812.1 373.8,812.9 375.5,813.7 377.3,814.3 379,814.8 380.7,815.3 382.4,815.6 384.1,815.9 385.8,816.1 387.5,816.3 389.2,816.5 390.9,816.7 392.6,816.8 394.3,816.9 396,817 397.7,817.1 399.4,817.2 401.1,817.3 402.8,817.4 404.5,817.5 406.3,817.6 408,817.6 409.7,817.7 411.4,817.8 413.1,817.8 414.8,817.9 416.5,818" fill="none" stroke="#7a1414" stroke-width="1.9"/>
<path d="M41.2,766.7 42.9,766.7 44.6,766.8 46.3,766.8 48,766.9 49.7,766.9 51.4,767 53.1,767.1 54.8,767.1 56.5,767.2 58.2,767.3 59.9,767.4 61.6,767.5 63.3,767.6 65.1,767.7 66.8,767.9 68.5,768.1 70.2,768.3 71.9,768.6 73.6,769 75.3,769.5 77,770 78.7,770.6 80.4,771.1 82.1,771.7 83.8,772.1 85.5,772.5 87.2,772.8 88.9,773.1 90.6,773.3 92.3,773.5 94.1,773.6 95.8,773.7 97.5,773.8 99.2,773.9 100.9,773.9 102.6,774 104.3,774.1 106,774.1 107.7,774.2 109.4,774.2 111.1,774.3 112.8,774.3 114.5,774.4 116.2,774.4 117.9,774.5 119.6,774.5 121.4,774.5 123.1,774.6 124.8,774.6 126.5,774.6 128.2,774.6 129.9,774.6 131.6,774.5 133.3,774.5 135,774.3 136.7,774.1 138.4,773.8 140.1,773.4 141.8,772.9 143.5,772.2 145.2,771.4 146.9,770.4 148.6,769.4 150.4,768.4 152.1,767.5 153.8,766.7 155.5,766.2 157.2,766.1 158.9,766.4 160.6,767.1 162.3,768.1 164,769.3 165.7,770.6 167.4,771.9 169.1,773.1 170.8,774.3 172.5,775.2 174.2,776 175.9,776.7 177.6,777.2 179.4,777.7 181.1,778 182.8,778.3 184.5,778.6" fill="none" stroke="#9a2a9e" stroke-width="2.0"/>
<path d="M53.1,764.9 54.8,764.7 56.5,764.3 58.2,763.8 59.9,763 61.6,761.9 63.3,760.3 65.1,758.2 66.8,755.2 68.5,751.5 70.2,746.9 71.9,741.8 73.6,736.7 75.3,732.4 77,730.1 78.7,730.7 80.4,734.1 82.1,739.4 83.8,745.3 85.5,751.1 87.2,756.3 88.9,760.5 90.6,763.8 92.3,766.3 94.1,768.1 95.8,769.4 97.5,770.3 99.2,771 100.9,771.5 102.6,771.9" fill="none" stroke="#8b0f14" stroke-width="2.3"/>
<path d="M41.2,856.4 42.9,856.4 44.6,856.4 46.3,856.3 48,856.3 49.7,856.2 51.4,856.1 53.1,855.9 54.8,855.8 56.5,855.5 58.2,855.2 59.9,854.7 61.6,854 63.3,853 65.1,851.6 66.8,849.6 68.5,847 70.2,843.7 71.9,839.8 73.6,835.6 75.3,831.5 77,828.3 78.7,827 80.4,828.1 82.1,831.4 83.8,835.9 85.5,840.9 87.2,845.6 88.9,849.7 90.6,853 92.3,855.6 94.1,857.6 95.8,859 97.5,860 99.2,860.7 100.9,861.2 102.6,861.6 104.3,861.9 106,862.2 107.7,862.4 109.4,862.6 111.1,862.8 112.8,862.9 114.5,863 116.2,863.1 117.9,863.2 119.6,863.3 121.4,863.4 123.1,863.4 124.8,863.5 126.5,863.5 128.2,863.6 129.9,863.6 131.6,863.6 133.3,863.5 135,863.4 136.7,863.3 138.4,863.1 140.1,862.8 141.8,862.3 143.5,861.8 145.2,861.1 146.9,860.3 148.6,859.4 150.4,858.5 152.1,857.5 153.8,856.7 155.5,856 157.2,855.5 158.9,855.5 160.6,855.7 162.3,856.4 164,857.2 165.7,858.2 167.4,859.3 169.1,860.2 170.8,861.1 172.5,861.7 174.2,862.2 175.9,862.5 177.6,862.5 179.4,862.4 181.1,862.2 182.8,861.8 184.5,861.4 186.2,860.9 187.9,860.5 189.6,860.1 191.3,859.7 193,859.4 194.7,859.1 196.4,858.7 198.1,858.2 199.8,857.4 201.5,856.1 203.2,854.4 204.9,852.1 206.7,849.1 208.4,845.8 210.1,842.3 211.8,839.3 213.5,837.6 215.2,837.8 216.9,839.9 218.6,843.1 220.3,846.4 222,849 223.7,850.4 225.4,850.2 227.1,848.3 228.8,844.6 230.5,839.4 232.2,833.6 233.9,828.7 235.7,826.8 237.4,829.1 239.1,835.2 240.8,843.3 242.5,851.5 244.2,858.8 245.9,864.7 247.6,869.3 249.3,872.8 251,875.4 252.7,877.3 254.4,878.8 256.1,880 257.8,881.1 259.5,882.1 261.2,883 262.9,883.8 264.7,884.5 266.4,885.2 268.1,885.7 269.8,886 271.5,886.3 273.2,886.3 274.9,886.3 276.6,886.1 278.3,885.8 280,885.5 281.7,885.2 283.4,884.8 285.1,884.4 286.8,884 288.5,883.7 290.2,883.3 292,882.9 293.7,882.5 295.4,881.9 297.1,881.3 298.8,880.5 300.5,879.6 302.2,878.5 303.9,877.3 305.6,876 307.3,874.6 309,873.3 310.7,872.1 312.4,871 314.1,870.3 315.8,870 317.5,870.1 319.2,870.6 321,871.5 322.7,872.5 324.4,873.6 326.1,874.7 327.8,875.7 329.5,876.4 331.2,877 332.9,877.3 334.6,877.3 336.3,877.1 338,876.7 339.7,876.2 341.4,875.6 343.1,875.1 344.8,874.5 346.5,874.1 348.2,873.8 350,873.6 351.7,873.4 353.4,873.2 355.1,872.7 356.8,871.8 358.5,870.2 360.2,867.8 361.9,864.6 363.6,860.4 365.3,855.6 367,850.6 368.7,846.5 370.4,844.6 372.1,846 373.8,850.5 375.5,857.2 377.3,864.6 379,871.7 380.7,878 382.4,883.3 384.1,887.6 385.8,891 387.5,893.6 389.2,895.5 390.9,897 392.6,898.2 394.3,899.1 396,899.8 397.7,900.5 399.4,901 401.1,901.4 402.8,901.8 404.5,902.2 406.3,902.5 408,902.7 409.7,903 411.4,903.2 413.1,903.4 414.8,903.6 416.5,903.8" fill="none" stroke="#111" stroke-width="2.0" stroke-linejoin="round"/>
<path d="M41.2,856.4 42.9,856.4 44.6,856.4 46.3,856.3 48,856.2 49.7,856.1 51.4,856 53.1,855.8 54.8,855.6 56.5,855.3 58.2,854.9 59.9,854.2 61.6,853.3 63.3,852 65.1,850.2 66.8,847.8 68.5,844.6 70.2,840.9 71.9,836.6 73.6,832.4 75.3,828.8 77,826.9 78.7,827.4 80.4,830.3 82.1,834.7 83.8,839.7 85.5,844.5 87.2,848.8 88.9,852.3 90.6,855.1 92.3,857.2 94.1,858.7 95.8,859.8 97.5,860.6 99.2,861.1 100.9,861.5 102.6,861.9 104.3,862.1 106,862.4 107.7,862.6 109.4,862.7 111.1,862.9 112.8,863 114.5,863.1 116.2,863.2 117.9,863.3 119.6,863.4 121.4,863.4 123.1,863.5 124.8,863.5 126.5,863.6 128.2,863.6 129.9,863.6 131.6,863.5 133.3,863.5 135,863.3 136.7,863.1 138.4,862.9 140.1,862.5 141.8,862 143.5,861.3 145.2,860.6 146.9,859.7 148.6,858.7 150.4,857.8 152.1,856.8 153.8,856.1 155.5,855.6 157.2,855.4 158.9,855.6 160.6,856.2 162.3,857 164,858 165.7,859 167.4,860 169.1,860.9 170.8,861.6 172.5,862.1 174.2,862.4 175.9,862.5 177.6,862.5 179.4,862.3 181.1,861.9 182.8,861.5 184.5,861.1 186.2,860.6 187.9,860.2 189.6,859.8 191.3,859.5 193,859.2 194.7,858.8 196.4,858.4 198.1,857.6 199.8,856.5 201.5,854.9 203.2,852.8 204.9,850 206.7,846.7 208.4,843.1 210.1,839.8 211.8,837.7 213.5,837.4 215.2,839.1 216.9,842.2 218.6,845.6 220.3,848.6 222,850.3 223.7,850.6 225.4,849.1 227.1,845.8 228.8,840.9 230.5,835 232.2,829.5 233.9,826.5 235.7,827.7 237.4,833.2 239.1,841.2 240.8,849.6 242.5,857.1 244.2,863.4 245.9,868.2 247.6,871.8 249.3,874.4 251,876.3 252.7,877.6 254.4,878.6 256.1,879.4 257.8,880 259.5,880.5 261.2,880.9 262.9,881.3 264.7,881.6 266.4,881.8 268.1,882 269.8,882.2 271.5,882.4 273.2,882.6 274.9,882.7 276.6,882.8 278.3,882.9 280,883 281.7,883 283.4,883 285.1,883 286.8,882.9 288.5,882.8 290.2,882.6 292,882.3 293.7,881.9 295.4,881.4 297.1,880.7 298.8,879.8 300.5,878.8 302.2,877.6 303.9,876.3 305.6,875 307.3,873.6 309,872.3 310.7,871.2 312.4,870.4 314.1,870 315.8,870 317.5,870.4 319.2,871.2 321,872.2 322.7,873.4 324.4,874.5 326.1,875.5 327.8,876.3 329.5,876.9 331.2,877.2 332.9,877.3 334.6,877.2 336.3,876.9 338,876.4 339.7,875.8 341.4,875.2 343.1,874.6 344.8,874.2 346.5,873.8 348.2,873.6 350,873.5 351.7,873.3 353.4,872.9 355.1,872.1 356.8,870.8 358.5,868.6 360.2,865.6 361.9,861.6 363.6,856.8 365.3,851.7 367,847.2 368.7,844.5 370.4,845 372.1,848.9 373.8,855.3 375.5,862.7 377.3,870.1 379,876.7 380.7,882.2 382.4,886.7 384.1,890.3 385.8,893 387.5,895.1 389.2,896.7 390.9,897.9 392.6,898.9 394.3,899.7 396,900.3 397.7,900.9 399.4,901.3 401.1,901.7 402.8,902.1 404.5,902.4 406.3,902.7 408,902.9 409.7,903.2 411.4,903.4 413.1,903.6 414.8,903.8 416.5,903.9" fill="none" stroke="#f01820" stroke-width="2.4" stroke-linejoin="round"/>
<path d="M164,866.8 165.7,866.9 167.4,866.9 169.1,866.8 170.8,866.7 172.5,866.5 174.2,866.3 175.9,866.1 177.6,865.7 179.4,865.4 181.1,865 182.8,864.6 184.5,864.3 186.2,864 187.9,863.8 189.6,863.8 191.3,863.9 193,864.2 194.7,864.7 196.4,865.2 198.1,865.9 199.8,866.6 201.5,867.3 203.2,868.1 204.9,868.8 206.7,869.5 208.4,870.3 210.1,871 211.8,871.8 213.5,872.5 215.2,873.2 216.9,873.9 218.6,874.4" fill="none" stroke="#1c1c8c" stroke-width="2.0"/>
<path d="M160.6,866.5 162.3,866.6 164,866.8 165.7,866.9 167.4,867 169.1,867.1 170.8,867.1 172.5,867.2 174.2,867.2 175.9,867.2 177.6,867.2 179.4,867.2 181.1,867.2 182.8,867.2 184.5,867.1 186.2,867.1 187.9,867 189.6,866.8 191.3,866.5 193,866.2 194.7,865.6 196.4,864.9 198.1,863.8 199.8,862.3 201.5,860.3 203.2,857.8 204.9,854.7 206.7,851.2 208.4,847.5 210.1,844.2 211.8,842.2 213.5,842.2 215.2,844.3 216.9,848.1 218.6,852.5 220.3,857 222,861 223.7,864.5 225.4,867.3 227.1,869.7 228.8,871.7 230.5,873.3 232.2,874.8 233.9,876.1 235.7,877.3 237.4,878.5 239.1,879.5 240.8,880.3 242.5,881 244.2,881.6 245.9,882 247.6,882.4 249.3,882.7 251,882.9 252.7,883.2 254.4,883.4 256.1,883.6 257.8,883.7 259.5,883.9 261.2,884 262.9,884.1 264.7,884.3" fill="none" stroke="#00e8f0" stroke-width="2.0"/>
<path d="M181.1,868.1 182.8,868.2 184.5,868.3 186.2,868.4 187.9,868.5 189.6,868.6 191.3,868.7 193,868.8 194.7,868.9 196.4,869 198.1,869.1 199.8,869.2 201.5,869.3 203.2,869.4 204.9,869.5 206.7,869.6 208.4,869.7 210.1,869.9 211.8,870 213.5,870.1 215.2,870 216.9,869.7 218.6,869.1 220.3,867.9 222,866 223.7,863.1 225.4,859.1 227.1,853.9 228.8,847.4 230.5,840.4 232.2,834.1 233.9,830.4 235.7,831.2 237.4,836.4 239.1,844 240.8,852.2 242.5,859.5 244.2,865.6 245.9,870.3 247.6,873.8 249.3,876.3 251,878.1 252.7,879.4 254.4,880.3 256.1,881 257.8,881.6 259.5,882 261.2,882.4 262.9,882.7 264.7,883 266.4,883.3 268.1,883.5 269.8,883.7 271.5,883.9 273.2,884.1 274.9,884.3 276.6,884.4 278.3,884.5 280,884.7 281.7,884.8 283.4,884.9 285.1,885 286.8,885.1 288.5,885.3" fill="none" stroke="#8c8a10" stroke-width="2.0"/>
<path d="M281.7,885 283.4,885 285.1,884.9 286.8,884.8 288.5,884.7 290.2,884.5 292,884.2 293.7,883.8 295.4,883.3 297.1,882.6 298.8,881.8 300.5,880.9 302.2,879.8 303.9,878.6 305.6,877.3 307.3,876 309,874.9 310.7,874 312.4,873.3 314.1,873.2 315.8,873.4 317.5,874.2 319.2,875.4 321,876.8 322.7,878.5 324.4,880.2 326.1,881.9 327.8,883.5 329.5,884.9 331.2,886.2 332.9,887.4 334.6,888.4 336.3,889.2 338,889.9 339.7,890.5 341.4,891.1 343.1,891.6 344.8,892 346.5,892.4 348.2,892.8" fill="none" stroke="#f5e800" stroke-width="2.0"/>
<path d="M288.5,885.3 290.2,885.3 292,885.3 293.7,885.4 295.4,885.4 297.1,885.5 298.8,885.5 300.5,885.6 302.2,885.7 303.9,885.8 305.6,885.8 307.3,885.9 309,886 310.7,886.1 312.4,886.2 314.1,886.3 315.8,886.3 317.5,886.4 319.2,886.3 321,886.2 322.7,886 324.4,885.7 326.1,885.3 327.8,884.9 329.5,884.4 331.2,883.7 332.9,883 334.6,882.3 336.3,881.5 338,880.8 339.7,880.1 341.4,879.5 343.1,879.1 344.8,878.9 346.5,879 348.2,879.3 350,880 351.7,880.9 353.4,882 355.1,883.2 356.8,884.5 358.5,885.9 360.2,887.3 361.9,888.7 363.6,890.1 365.3,891.5 367,892.9 368.7,894.3 370.4,895.6 372.1,896.9 373.8,898.1 375.5,899.2 377.3,900 379,900.8 380.7,901.4 382.4,901.9 384.1,902.3 385.8,902.7 387.5,903 389.2,903.2 390.9,903.5 392.6,903.7 394.3,903.8 396,904 397.7,904.1 399.4,904.3 401.1,904.4 402.8,904.5 404.5,904.6" fill="none" stroke="#ff2ce0" stroke-width="2.0"/>
<path d="M303.9,886.2 305.6,886.4 307.3,886.5 309,886.7 310.7,886.9 312.4,887.1 314.1,887.4 315.8,887.6 317.5,887.8 319.2,888.1 321,888.3 322.7,888.5 324.4,888.7 326.1,888.8 327.8,888.9 329.5,889.1 331.2,889.2 332.9,889.2 334.6,889.3 336.3,889.3 338,889.4 339.7,889.3 341.4,889.3 343.1,889.2 344.8,889.1 346.5,888.8 348.2,888.5 350,887.9 351.7,887.1 353.4,885.9 355.1,884.1 356.8,881.7 358.5,878.6 360.2,874.5 361.9,869.6 363.6,863.9 365.3,858 367,852.7 368.7,849.4 370.4,849.2 372.1,852.6 373.8,858.6 375.5,865.7 377.3,872.7 379,879 380.7,884.3 382.4,888.6 384.1,892 385.8,894.6 387.5,896.6 389.2,898.1 390.9,899.2 392.6,900.1 394.3,900.8 396,901.4 397.7,901.8 399.4,902.2 401.1,902.6 402.8,902.9 404.5,903.2 406.3,903.4 408,903.7 409.7,903.9 411.4,904.1 413.1,904.2 414.8,904.4 416.5,904.5" fill="none" stroke="#2222e6" stroke-width="2.0"/>
<path d="M41.2,857.5 42.9,857.5 44.6,857.6 46.3,857.6 48,857.7 49.7,857.8 51.4,857.8 53.1,857.9 54.8,857.9 56.5,858 58.2,858.1 59.9,858.1 61.6,858.2 63.3,858.3 65.1,858.4 66.8,858.6 68.5,858.8 70.2,859 71.9,859.3 73.6,859.6 75.3,860.1 77,860.5 78.7,861 80.4,861.5 82.1,862 83.8,862.4 85.5,862.8 87.2,863.1 88.9,863.3 90.6,863.5 92.3,863.6 94.1,863.7 95.8,863.8 97.5,863.9 99.2,864 100.9,864.1 102.6,864.2 104.3,864.2 106,864.3 107.7,864.3 109.4,864.4 111.1,864.5 112.8,864.5 114.5,864.6 116.2,864.6 117.9,864.7 119.6,864.7 121.4,864.8 123.1,864.8 124.8,864.9 126.5,864.9 128.2,865 129.9,865 131.6,865.1 133.3,865.1 135,865.2 136.7,865.3 138.4,865.3 140.1,865.4 141.8,865.5 143.5,865.5 145.2,865.6 146.9,865.7 148.6,865.9 150.4,866 152.1,866.1 153.8,866.3 155.5,866.5 157.2,866.7 158.9,866.8 160.6,867 162.3,867.2 164,867.4 165.7,867.6 167.4,867.7 169.1,867.9 170.8,868 172.5,868.1 174.2,868.2 175.9,868.3 177.6,868.4 179.4,868.6 181.1,868.7 182.8,868.8 184.5,868.9 186.2,869.1 187.9,869.2 189.6,869.4 191.3,869.6 193,869.7 194.7,869.9 196.4,870.1 198.1,870.3 199.8,870.5 201.5,870.7 203.2,871 204.9,871.3 206.7,871.6 208.4,872 210.1,872.4 211.8,872.9 213.5,873.4 215.2,874 216.9,874.5 218.6,875 220.3,875.4 222,875.8 223.7,876.2 225.4,876.6 227.1,877 228.8,877.5 230.5,878 232.2,878.7 233.9,879.4 235.7,880.2 237.4,880.9 239.1,881.6 240.8,882.2 242.5,882.7 244.2,883.1 245.9,883.4 247.6,883.6 249.3,883.8 251,884 252.7,884.1 254.4,884.3 256.1,884.4 257.8,884.5 259.5,884.6 261.2,884.7 262.9,884.8 264.7,884.8 266.4,884.9 268.1,885 269.8,885.1 271.5,885.1 273.2,885.2 274.9,885.3 276.6,885.3 278.3,885.4 280,885.5 281.7,885.5 283.4,885.6 285.1,885.7 286.8,885.8 288.5,885.8 290.2,885.9 292,886 293.7,886.1 295.4,886.2 297.1,886.3 298.8,886.4 300.5,886.5 302.2,886.6 303.9,886.8 305.6,887 307.3,887.2 309,887.4 310.7,887.6 312.4,887.9 314.1,888.2 315.8,888.5 317.5,888.7 319.2,889 321,889.3 322.7,889.6 324.4,889.8 326.1,890.1 327.8,890.3 329.5,890.6 331.2,890.8 332.9,891 334.6,891.2 336.3,891.5 338,891.7 339.7,891.9 341.4,892.2 343.1,892.5 344.8,892.8 346.5,893 348.2,893.3 350,893.7 351.7,894 353.4,894.3 355.1,894.6 356.8,895 358.5,895.3 360.2,895.7 361.9,896.2 363.6,896.7 365.3,897.3 367,898 368.7,898.7 370.4,899.5 372.1,900.3 373.8,901 375.5,901.7 377.3,902.3 379,902.8 380.7,903.2 382.4,903.5 384.1,903.8 385.8,904 387.5,904.2 389.2,904.3 390.9,904.5 392.6,904.6 394.3,904.7 396,904.8 397.7,904.9 399.4,905 401.1,905.1 402.8,905.1 404.5,905.2 406.3,905.3 408,905.4 409.7,905.4 411.4,905.5 413.1,905.6 414.8,905.6 416.5,905.7" fill="none" stroke="#7a1414" stroke-width="1.9"/>
<path d="M41.2,857.5 42.9,857.5 44.6,857.6 46.3,857.6 48,857.7 49.7,857.7 51.4,857.8 53.1,857.8 54.8,857.9 56.5,858 58.2,858 59.9,858.1 61.6,858.2 63.3,858.3 65.1,858.4 66.8,858.6 68.5,858.7 70.2,859 71.9,859.3 73.6,859.6 75.3,860 77,860.5 78.7,861 80.4,861.5 82.1,861.9 83.8,862.4 85.5,862.7 87.2,863 88.9,863.2 90.6,863.4 92.3,863.5 94.1,863.7 95.8,863.8 97.5,863.8 99.2,863.9 100.9,864 102.6,864 104.3,864.1 106,864.2 107.7,864.2 109.4,864.3 111.1,864.3 112.8,864.4 114.5,864.4 116.2,864.4 117.9,864.5 119.6,864.5 121.4,864.5 123.1,864.6 124.8,864.6 126.5,864.6 128.2,864.6 129.9,864.6 131.6,864.6 133.3,864.5 135,864.4 136.7,864.2 138.4,863.9 140.1,863.5 141.8,863 143.5,862.4 145.2,861.7 146.9,860.8 148.6,859.9 150.4,859 152.1,858.1 153.8,857.4 155.5,856.9 157.2,856.8 158.9,857.1 160.6,857.8 162.3,858.7 164,859.9 165.7,861.1 167.4,862.3 169.1,863.4 170.8,864.4 172.5,865.3 174.2,866.1 175.9,866.7 177.6,867.2 179.4,867.6 181.1,867.9 182.8,868.2" fill="none" stroke="#9a2a9e" stroke-width="2.0"/>
<path d="M56.5,855.5 58.2,855.1 59.9,854.5 61.6,853.6 63.3,852.3 65.1,850.5 66.8,848 68.5,844.9 70.2,841.1 71.9,836.9 73.6,832.7 75.3,829.1 77,827.2 78.7,827.7 80.4,830.6 82.1,835 83.8,840 85.5,844.9 87.2,849.2 88.9,852.7 90.6,855.5 92.3,857.6 94.1,859.1 95.8,860.2 97.5,861 99.2,861.6" fill="none" stroke="#8b0f14" stroke-width="2.3"/>
</g>
<line x1="78.0" y1="557.5" x2="78.0" y2="854.3" stroke="#333" stroke-width="1.6" stroke-dasharray="4.7,4.5"/>
<line x1="158.2" y1="538.5" x2="158.2" y2="871.2" stroke="#333" stroke-width="1.6" stroke-dasharray="4.7,4.5"/>
<line x1="190.3" y1="544.8" x2="190.3" y2="877.5" stroke="#333" stroke-width="1.6" stroke-dasharray="4.7,4.5"/>
<line x1="213.1" y1="531.1" x2="213.1" y2="871.2" stroke="#333" stroke-width="1.6" stroke-dasharray="4.7,4.5"/>
<line x1="234.8" y1="525.0" x2="234.8" y2="876.4" stroke="#333" stroke-width="1.6" stroke-dasharray="4.7,4.5"/>
<line x1="315.0" y1="552.3" x2="315.0" y2="920.0" stroke="#333" stroke-width="1.6" stroke-dasharray="4.7,4.5"/>
<line x1="347.4" y1="553.3" x2="347.4" y2="905.7" stroke="#333" stroke-width="1.6" stroke-dasharray="4.7,4.5"/>
<line x1="369.7" y1="539.3" x2="369.7" y2="894.8" stroke="#333" stroke-width="1.6" stroke-dasharray="4.7,4.5"/>
<text x="49.7" y="538.7" font-size="22" text-anchor="start" >C</text>
<text x="86.3" y="531.1" font-size="15" text-anchor="start" >U&#39;&#39;&#39;</text>
<text x="153.8" y="532.8" font-size="15" text-anchor="start" >U&#39;&#39;</text>
<text x="185.5" y="533.6" font-size="15" text-anchor="start" >U&#39;</text>
<text x="217.2" y="528.0" font-size="15" text-anchor="start" >U</text>
<text x="239.0" y="530.6" font-size="15" text-anchor="start" >V&#39;&#39;&#39;</text>
<text x="310.5" y="550.0" font-size="15" text-anchor="start" >V&#39;&#39;</text>
<text x="341.8" y="551.2" font-size="15" text-anchor="start" >V&#39;</text>
<text x="367.8" y="531.7" font-size="15" text-anchor="start" >V</text>
<text x="91.7" y="606.5" font-size="12.8">CeO<tspan font-size="6.7" dy="5">2</tspan><tspan dy="-5">-H550</tspan></text>
<text x="65.3" y="700.5" font-size="12.8">CeO<tspan font-size="6.7" dy="5">2</tspan><tspan dy="-5">-H550-O350</tspan></text>
<text x="65.3" y="800.5" font-size="12.8">CeO<tspan font-size="6.7" dy="5">2</tspan><tspan dy="-5">-H550-O450</tspan></text>
<text x="65.3" y="884.8" font-size="12.8">CeO<tspan font-size="6.7" dy="5">2</tspan><tspan dy="-5">-H550-O550</tspan></text>
<rect x="41.2" y="511.0" width="375.2" height="410.8" fill="none" stroke="#2b2b2b" stroke-width="1.9"/>
<line x1="49.7" y1="921.8" x2="49.7" y2="928.8" stroke="#1a1a1a" stroke-width="1.7"/>
<text x="49.7" y="944.8" font-size="14" text-anchor="middle" >920</text>
<line x1="92.3" y1="921.8" x2="92.3" y2="928.8" stroke="#1a1a1a" stroke-width="1.7"/>
<text x="92.3" y="944.8" font-size="14" text-anchor="middle" >915</text>
<line x1="135.0" y1="921.8" x2="135.0" y2="928.8" stroke="#1a1a1a" stroke-width="1.7"/>
<text x="135.0" y="944.8" font-size="14" text-anchor="middle" >910</text>
<line x1="177.6" y1="921.8" x2="177.6" y2="928.8" stroke="#1a1a1a" stroke-width="1.7"/>
<text x="177.6" y="944.8" font-size="14" text-anchor="middle" >905</text>
<line x1="220.3" y1="921.8" x2="220.3" y2="928.8" stroke="#1a1a1a" stroke-width="1.7"/>
<text x="220.3" y="944.8" font-size="14" text-anchor="middle" >900</text>
<line x1="262.9" y1="921.8" x2="262.9" y2="928.8" stroke="#1a1a1a" stroke-width="1.7"/>
<text x="262.9" y="944.8" font-size="14" text-anchor="middle" >895</text>
<line x1="305.6" y1="921.8" x2="305.6" y2="928.8" stroke="#1a1a1a" stroke-width="1.7"/>
<text x="305.6" y="944.8" font-size="14" text-anchor="middle" >890</text>
<line x1="348.2" y1="921.8" x2="348.2" y2="928.8" stroke="#1a1a1a" stroke-width="1.7"/>
<text x="348.2" y="944.8" font-size="14" text-anchor="middle" >885</text>
<line x1="390.9" y1="921.8" x2="390.9" y2="928.8" stroke="#1a1a1a" stroke-width="1.7"/>
<text x="390.9" y="944.8" font-size="14" text-anchor="middle" >880</text>
<line x1="71.0" y1="921.8" x2="71.0" y2="925.8" stroke="#1a1a1a" stroke-width="1.5"/>
<line x1="113.7" y1="921.8" x2="113.7" y2="925.8" stroke="#1a1a1a" stroke-width="1.5"/>
<line x1="156.3" y1="921.8" x2="156.3" y2="925.8" stroke="#1a1a1a" stroke-width="1.5"/>
<line x1="199.0" y1="921.8" x2="199.0" y2="925.8" stroke="#1a1a1a" stroke-width="1.5"/>
<line x1="241.6" y1="921.8" x2="241.6" y2="925.8" stroke="#1a1a1a" stroke-width="1.5"/>
<line x1="284.3" y1="921.8" x2="284.3" y2="925.8" stroke="#1a1a1a" stroke-width="1.5"/>
<line x1="326.9" y1="921.8" x2="326.9" y2="925.8" stroke="#1a1a1a" stroke-width="1.5"/>
<line x1="369.6" y1="921.8" x2="369.6" y2="925.8" stroke="#1a1a1a" stroke-width="1.5"/>
<line x1="412.2" y1="921.8" x2="412.2" y2="925.8" stroke="#1a1a1a" stroke-width="1.5"/>
<text x="151.5" y="964.7" font-size="20.5" text-anchor="start" >Binding Enenrgy(eV)</text>
<text x="0" y="0" font-size="21.4" text-anchor="middle" transform="translate(24.3,720.8) rotate(-90)">Intensity(a.u)</text>
<g clip-path="url(#clipD)">
<path d="M510.5,609.4 512.8,609.4 515.2,609.4 517.5,609.4 519.9,609.4 522.2,609.4 524.5,609.4 526.9,609.4 529.2,609.4 531.6,609.4 533.9,609.4 536.2,609.4 538.6,609.4 540.9,609.4 543.3,609.3 545.6,609.3 548,609.3 550.3,609.3 552.6,609.3 555,609.3 557.3,609.3 559.7,609.3 562,609.3 564.3,609.2 566.7,609.2 569,609.2 571.4,609.2 573.7,609.2 576,609.2 578.4,609.1 580.7,609.1 583.1,609.1 585.4,609.1 587.7,609.1 590.1,609 592.4,609 594.8,609 597.1,608.9 599.4,608.9 601.8,608.8 604.1,608.7 606.5,608.7 608.8,608.6 611.1,608.5 613.5,608.3 615.8,608.2 618.2,608 620.5,607.8 622.9,607.6 625.2,607.3 627.5,607 629.9,606.6 632.2,606.2 634.6,605.7 636.9,605.2 639.2,604.7 641.6,604 643.9,603.4 646.3,602.7 648.6,601.9 650.9,601.1 653.3,600.3 655.6,599.5 658,598.6 660.3,597.8 662.6,597.1 665,596.3 667.3,595.7 669.7,595.1 672,594.7 674.3,594.4 676.7,594.2 679,594.1 681.4,594.2 683.7,594.4 686,594.6 688.4,594.9 690.7,595.3 693.1,595.7 695.4,596.1 697.8,596.5 700.1,596.8 702.4,597.2 704.8,597.4 707.1,597.6 709.5,597.7 711.8,597.6 714.1,597.5 716.5,597.1 718.8,596.6 721.2,595.8 723.5,594.7 725.8,593.3 728.2,591.6 730.5,589.4 732.9,586.8 735.2,583.8 737.5,580.3 739.9,576.4 742.2,572.2 744.6,567.8 746.9,563.2 749.2,558.6 751.6,554.3 753.9,550.5 756.3,547.4 758.6,545.3 760.9,544.3 763.3,544.5 765.6,545.8 768,548 770.3,551.1 772.7,555 775,559.4 777.3,564.2 779.7,569.3 782,574.3 784.4,579.2 786.7,583.9 789,588.2 791.4,592.1 793.7,595.5 796.1,598.5 798.4,601 800.7,603 803.1,604.7 805.4,606 807.8,607 810.1,607.8 812.4,608.4 814.8,608.9 817.1,609.2 819.5,609.4 821.8,609.6 824.1,609.7 826.5,609.8 828.8,609.8 831.2,609.8 833.5,609.9 835.8,609.9 838.2,609.9 840.5,609.9 842.9,609.9 845.2,609.9 847.5,609.9 849.9,609.9 852.2,610 854.6,610 856.9,610 859.3,610 861.6,610 863.9,610 866.3,610 868.6,610 871,610 873.3,610 875.6,610 878,610 880.3,610 882.7,610 885,610" fill="none" stroke="#111" stroke-width="1.7"/>
<path d="M510.5,609.3 512.8,609.3 515.2,609.3 517.5,609.3 519.9,609.3 522.2,609.3 524.5,609.3 526.9,609.3 529.2,609.3 531.6,609.3 533.9,609.3 536.2,609.3 538.6,609.2 540.9,609.2 543.3,609.2 545.6,609.2 548,609.2 550.3,609.2 552.6,609.2 555,609.2 557.3,609.1 559.7,609.1 562,609.1 564.3,609.1 566.7,609.1 569,609.1 571.4,609 573.7,609 576,609 578.4,609 580.7,609 583.1,608.9 585.4,608.9 587.7,608.9 590.1,608.8 592.4,608.8 594.8,608.7 597.1,608.7 599.4,608.6 601.8,608.6 604.1,608.5 606.5,608.4 608.8,608.3 611.1,608.2 613.5,608.1 615.8,607.9 618.2,607.7 620.5,607.5 622.9,607.3 625.2,607 627.5,606.7 629.9,606.3 632.2,605.9 634.6,605.4 636.9,604.9 639.2,604.3 641.6,603.7 643.9,603 646.3,602.2 648.6,601.4 650.9,600.6 653.3,599.8 655.6,598.9 658,598.1 660.3,597.3 662.6,596.5 665,595.7 667.3,595 669.7,594.5 672,594 674.3,593.6 676.7,593.4 679,593.3 681.4,593.3 683.7,593.4 686,593.6 688.4,593.9 690.7,594.2 693.1,594.5 695.4,594.8 697.8,595.1 700.1,595.4 702.4,595.7 704.8,595.9 707.1,596 709.5,596.1 711.8,596.1 714.1,596 716.5,595.8 718.8,595.5 721.2,595 723.5,594.4 725.8,593.5 728.2,592.4 730.5,590.8 732.9,588.9 735.2,586.5 737.5,583.6 739.9,580.1 742.2,575.9 744.6,571.2 746.9,565.8 749.2,560.1 751.6,554.2 753.9,548.5 756.3,543.8 758.6,540.5 760.9,539.3 763.3,540.4 765.6,543.7 768,548.6 770.3,554.4 772.7,560.6 775,566.7 777.3,572.4 779.7,577.6 782,582.2 784.4,586.2 786.7,589.6 789,592.5 791.4,594.9 793.7,596.9 796.1,598.5 798.4,599.9 800.7,601 803.1,602 805.4,602.8 807.8,603.4 810.1,604 812.4,604.5 814.8,604.9 817.1,605.3 819.5,605.7 821.8,606 824.1,606.2 826.5,606.5 828.8,606.7 831.2,606.9 833.5,607.1 835.8,607.3 838.2,607.4 840.5,607.6 842.9,607.7 845.2,607.8 847.5,607.9 849.9,608 852.2,608.1 854.6,608.2 856.9,608.3 859.3,608.4 861.6,608.5 863.9,608.5 866.3,608.6 868.6,608.7 871,608.7 873.3,608.8 875.6,608.8 878,608.9 880.3,608.9 882.7,609 885,609" fill="none" stroke="#ee1a22" stroke-width="2.2"/>
<path d="M510.5,609.7 512.8,609.7 515.2,609.7 517.5,609.7 519.9,609.7 522.2,609.7 524.5,609.7 526.9,609.7 529.2,609.7 531.6,609.7 533.9,609.7 536.2,609.7 538.6,609.7 540.9,609.7 543.3,609.7 545.6,609.7 548,609.7 550.3,609.7 552.6,609.7 555,609.7 557.3,609.8 559.7,609.8 562,609.8 564.3,609.8 566.7,609.8 569,609.8 571.4,609.8 573.7,609.8 576,609.8 578.4,609.8 580.7,609.8 583.1,609.8 585.4,609.8 587.7,609.8 590.1,609.8 592.4,609.8 594.8,609.8 597.1,609.8 599.4,609.8 601.8,609.8 604.1,609.8 606.5,609.8 608.8,609.8 611.1,609.8 613.5,609.8 615.8,609.9 618.2,609.9 620.5,609.9 622.9,609.9 625.2,609.9 627.5,609.9 629.9,609.9 632.2,609.9 634.6,610 636.9,610 639.2,610 641.6,610 643.9,610 646.3,610.1 648.6,610.1 650.9,610.1 653.3,610.1 655.6,610.2 658,610.2 660.3,610.3 662.6,610.3 665,610.3 667.3,610.4 669.7,610.4 672,610.5 674.3,610.5 676.7,610.6 679,610.6 681.4,610.7 683.7,610.7 686,610.8 688.4,610.8 690.7,610.9 693.1,611 695.4,611 697.8,611.1 700.1,611.1 702.4,611.1 704.8,611.2 707.1,611.2 709.5,611.3 711.8,611.3 714.1,611.3 716.5,611.4 718.8,611.4 721.2,611.4 723.5,611.4 725.8,611.4 728.2,611.4 730.5,611.4 732.9,611.4 735.2,611.4 737.5,611.4 739.9,611.4 742.2,611.4 744.6,611.3 746.9,611.3 749.2,611.3 751.6,611.2 753.9,611.2 756.3,611.1 758.6,611.1 760.9,611.1 763.3,611 765.6,611 768,610.9 770.3,610.9 772.7,610.8 775,610.8 777.3,610.7 779.7,610.7 782,610.6 784.4,610.6 786.7,610.5 789,610.5 791.4,610.5 793.7,610.4 796.1,610.4 798.4,610.4 800.7,610.3 803.1,610.3 805.4,610.3 807.8,610.2 810.1,610.2 812.4,610.2 814.8,610.2 817.1,610.2 819.5,610.2 821.8,610.1 824.1,610.1 826.5,610.1 828.8,610.1 831.2,610.1 833.5,610.1 835.8,610.1 838.2,610.1 840.5,610.1 842.9,610.1 845.2,610.1 847.5,610.1 849.9,610.1 852.2,610.1 854.6,610.1 856.9,610.1 859.3,610.1 861.6,610.1 863.9,610.1 866.3,610.1 868.6,610.1 871,610.1 873.3,610.1 875.6,610.1 878,610.1 880.3,610.1 882.7,610.1 885,610.1" fill="none" stroke="#20d040" stroke-width="1.6"/>
<path d="M510.5,609.5 512.8,609.5 515.2,609.4 517.5,609.4 519.9,609.4 522.2,609.4 524.5,609.4 526.9,609.4 529.2,609.4 531.6,609.4 533.9,609.4 536.2,609.4 538.6,609.4 540.9,609.4 543.3,609.4 545.6,609.4 548,609.4 550.3,609.4 552.6,609.4 555,609.4 557.3,609.4 559.7,609.4 562,609.4 564.3,609.4 566.7,609.4 569,609.3 571.4,609.3 573.7,609.3 576,609.3 578.4,609.3 580.7,609.3 583.1,609.3 585.4,609.3 587.7,609.3 590.1,609.3 592.4,609.2 594.8,609.2 597.1,609.2 599.4,609.2 601.8,609.2 604.1,609.2 606.5,609.2 608.8,609.1 611.1,609.1 613.5,609.1 615.8,609.1 618.2,609.1 620.5,609 622.9,609 625.2,609 627.5,609 629.9,608.9 632.2,608.9 634.6,608.9 636.9,608.8 639.2,608.8 641.6,608.8 643.9,608.7 646.3,608.7 648.6,608.6 650.9,608.6 653.3,608.5 655.6,608.5 658,608.4 660.3,608.4 662.6,608.3 665,608.2 667.3,608.2 669.7,608.1 672,608 674.3,607.9 676.7,607.8 679,607.7 681.4,607.5 683.7,607.4 686,607.3 688.4,607.1 690.7,606.9 693.1,606.7 695.4,606.5 697.8,606.3 700.1,606 702.4,605.7 704.8,605.4 707.1,605.1 709.5,604.6 711.8,604.2 714.1,603.6 716.5,603 718.8,602.2 721.2,601.3 723.5,600.2 725.8,598.9 728.2,597.3 730.5,595.4 732.9,593 735.2,590.2 737.5,586.9 739.9,583.1 742.2,578.6 744.6,573.5 746.9,567.9 749.2,561.9 751.6,555.7 753.9,549.9 756.3,544.9 758.6,541.5 760.9,540.2 763.3,541.2 765.6,544.4 768,549.2 770.3,555 772.7,561.1 775,567.2 777.3,572.8 779.7,578 782,582.6 784.4,586.5 786.7,589.9 789,592.8 791.4,595.1 793.7,597.1 796.1,598.8 798.4,600.1 800.7,601.3 803.1,602.2 805.4,603 807.8,603.6 810.1,604.2 812.4,604.7 814.8,605.1 817.1,605.5 819.5,605.8 821.8,606.1 824.1,606.4 826.5,606.6 828.8,606.9 831.2,607.1 833.5,607.2 835.8,607.4 838.2,607.6 840.5,607.7 842.9,607.8 845.2,608 847.5,608.1 849.9,608.2 852.2,608.3 854.6,608.3 856.9,608.4 859.3,608.5 861.6,608.6 863.9,608.6 866.3,608.7 868.6,608.8 871,608.8 873.3,608.9 875.6,608.9 878,609 880.3,609 882.7,609.1 885,609.1" fill="none" stroke="#2a20d8" stroke-width="1.8"/>
<path d="M510.5,609.6 512.8,609.6 515.2,609.6 517.5,609.6 519.9,609.6 522.2,609.6 524.5,609.6 526.9,609.6 529.2,609.6 531.6,609.6 533.9,609.6 536.2,609.6 538.6,609.6 540.9,609.6 543.3,609.6 545.6,609.6 548,609.5 550.3,609.5 552.6,609.5 555,609.5 557.3,609.5 559.7,609.5 562,609.5 564.3,609.5 566.7,609.5 569,609.5 571.4,609.5 573.7,609.5 576,609.5 578.4,609.5 580.7,609.4 583.1,609.4 585.4,609.4 587.7,609.4 590.1,609.4 592.4,609.3 594.8,609.3 597.1,609.3 599.4,609.2 601.8,609.2 604.1,609.1 606.5,609.1 608.8,609 611.1,608.9 613.5,608.8 615.8,608.7 618.2,608.5 620.5,608.3 622.9,608.1 625.2,607.8 627.5,607.5 629.9,607.2 632.2,606.8 634.6,606.4 636.9,605.9 639.2,605.3 641.6,604.8 643.9,604.1 646.3,603.4 648.6,602.7 650.9,601.9 653.3,601.2 655.6,600.4 658,599.6 660.3,598.9 662.6,598.2 665,597.5 667.3,597 669.7,596.5 672,596.2 674.3,596 676.7,596 679,596.1 681.4,596.4 683.7,596.8 686,597.3 688.4,597.9 690.7,598.6 693.1,599.3 695.4,600.1 697.8,600.9 700.1,601.7 702.4,602.4 704.8,603.2 707.1,603.9 709.5,604.5 711.8,605.2 714.1,605.7 716.5,606.3 718.8,606.7 721.2,607.1 723.5,607.5 725.8,607.8 728.2,608.1 730.5,608.3 732.9,608.6 735.2,608.7 737.5,608.9 739.9,609 742.2,609.1 744.6,609.2 746.9,609.3 749.2,609.3 751.6,609.4 753.9,609.4 756.3,609.5 758.6,609.5 760.9,609.5 763.3,609.6 765.6,609.6 768,609.6 770.3,609.6 772.7,609.7 775,609.7 777.3,609.7 779.7,609.7 782,609.7 784.4,609.7 786.7,609.7 789,609.8 791.4,609.8 793.7,609.8 796.1,609.8 798.4,609.8 800.7,609.8 803.1,609.8 805.4,609.8 807.8,609.8 810.1,609.8 812.4,609.9 814.8,609.9 817.1,609.9 819.5,609.9 821.8,609.9 824.1,609.9 826.5,609.9 828.8,609.9 831.2,609.9 833.5,609.9 835.8,609.9 838.2,609.9 840.5,609.9 842.9,609.9 845.2,609.9 847.5,610 849.9,610 852.2,610 854.6,610 856.9,610 859.3,610 861.6,610 863.9,610 866.3,610 868.6,610 871,610 873.3,610 875.6,610 878,610 880.3,610 882.7,610 885,610" fill="none" stroke="#10e0e8" stroke-width="1.8"/>
<path d="M510.5,609.7 512.8,609.7 515.2,609.7 517.5,609.7 519.9,609.7 522.2,609.7 524.5,609.7 526.9,609.7 529.2,609.7 531.6,609.7 533.9,609.7 536.2,609.7 538.6,609.7 540.9,609.7 543.3,609.7 545.6,609.7 548,609.7 550.3,609.7 552.6,609.7 555,609.7 557.3,609.7 559.7,609.7 562,609.7 564.3,609.7 566.7,609.8 569,609.8 571.4,609.8 573.7,609.8 576,609.8 578.4,609.8 580.7,609.8 583.1,609.8 585.4,609.8 587.7,609.8 590.1,609.8 592.4,609.8 594.8,609.8 597.1,609.8 599.4,609.8 601.8,609.8 604.1,609.8 606.5,609.8 608.8,609.8 611.1,609.8 613.5,609.8 615.8,609.8 618.2,609.8 620.5,609.8 622.9,609.8 625.2,609.8 627.5,609.8 629.9,609.8 632.2,609.8 634.6,609.8 636.9,609.8 639.2,609.8 641.6,609.8 643.9,609.8 646.3,609.8 648.6,609.8 650.9,609.8 653.3,609.8 655.6,609.8 658,609.8 660.3,609.7 662.6,609.7 665,609.7 667.3,609.7 669.7,609.6 672,609.5 674.3,609.5 676.7,609.4 679,609.3 681.4,609.1 683.7,609 686,608.8 688.4,608.6 690.7,608.4 693.1,608.2 695.4,608 697.8,607.8 700.1,607.5 702.4,607.3 704.8,607.1 707.1,606.9 709.5,606.7 711.8,606.6 714.1,606.5 716.5,606.4 718.8,606.4 721.2,606.5 723.5,606.5 725.8,606.7 728.2,606.8 730.5,607 732.9,607.2 735.2,607.4 737.5,607.7 739.9,607.9 742.2,608.2 744.6,608.4 746.9,608.6 749.2,608.8 751.6,609 753.9,609.1 756.3,609.3 758.6,609.4 760.9,609.5 763.3,609.6 765.6,609.7 768,609.7 770.3,609.8 772.7,609.8 775,609.9 777.3,609.9 779.7,609.9 782,609.9 784.4,609.9 786.7,609.9 789,610 791.4,610 793.7,610 796.1,610 798.4,610 800.7,610 803.1,610 805.4,610 807.8,610 810.1,610 812.4,610 814.8,610 817.1,610 819.5,610 821.8,610 824.1,610 826.5,610 828.8,610 831.2,610 833.5,610 835.8,610 838.2,610 840.5,610 842.9,610 845.2,610 847.5,610 849.9,610.1 852.2,610.1 854.6,610.1 856.9,610.1 859.3,610.1 861.6,610.1 863.9,610.1 866.3,610.1 868.6,610.1 871,610.1 873.3,610.1 875.6,610.1 878,610.1 880.3,610.1 882.7,610.1 885,610.1" fill="none" stroke="#8a2ad0" stroke-width="1.8"/>
<path d="M510.5,609.7 512.8,609.7 515.2,609.7 517.5,609.7 519.9,609.7 522.2,609.7 524.5,609.7 526.9,609.7 529.2,609.7 531.6,609.7 533.9,609.7 536.2,609.7 538.6,609.7 540.9,609.7 543.3,609.7 545.6,609.7 548,609.7 550.3,609.7 552.6,609.7 555,609.7 557.3,609.8 559.7,609.8 562,609.8 564.3,609.8 566.7,609.8 569,609.8 571.4,609.8 573.7,609.8 576,609.8 578.4,609.8 580.7,609.8 583.1,609.8 585.4,609.8 587.7,609.8 590.1,609.8 592.4,609.8 594.8,609.8 597.1,609.8 599.4,609.8 601.8,609.8 604.1,609.8 606.5,609.8 608.8,609.8 611.1,609.8 613.5,609.8 615.8,609.8 618.2,609.8 620.5,609.8 622.9,609.8 625.2,609.8 627.5,609.8 629.9,609.8 632.2,609.8 634.6,609.8 636.9,609.8 639.2,609.8 641.6,609.8 643.9,609.8 646.3,609.8 648.6,609.8 650.9,609.9 653.3,609.9 655.6,609.9 658,609.9 660.3,609.9 662.6,609.9 665,609.9 667.3,609.9 669.7,609.9 672,609.9 674.3,609.9 676.7,609.9 679,609.9 681.4,609.9 683.7,609.9 686,609.9 688.4,609.9 690.7,609.9 693.1,609.9 695.4,609.9 697.8,609.9 700.1,609.9 702.4,609.9 704.8,609.9 707.1,609.9 709.5,609.9 711.8,609.9 714.1,609.9 716.5,609.9 718.8,609.9 721.2,609.9 723.5,609.9 725.8,609.9 728.2,609.9 730.5,609.9 732.9,609.9 735.2,609.9 737.5,609.9 739.9,609.9 742.2,609.9 744.6,610 746.9,610 749.2,610 751.6,610 753.9,610 756.3,610 758.6,610 760.9,610 763.3,610 765.6,610 768,610 770.3,610 772.7,610 775,610 777.3,610 779.7,610 782,610 784.4,610 786.7,610 789,610 791.4,610 793.7,610 796.1,610 798.4,610 800.7,610 803.1,610 805.4,610 807.8,610 810.1,610 812.4,610 814.8,610 817.1,610 819.5,610 821.8,610 824.1,610 826.5,610 828.8,610 831.2,610 833.5,610 835.8,610 838.2,610.1 840.5,610.1 842.9,610.1 845.2,610.1 847.5,610.1 849.9,610.1 852.2,610.1 854.6,610.1 856.9,610.1 859.3,610.1 861.6,610.1 863.9,610.1 866.3,610.1 868.6,610.1 871,610.1 873.3,610.1 875.6,610.1 878,610.1 880.3,610.1 882.7,610.1 885,610.1" fill="none" stroke="#ff22d8" stroke-width="2.2"/>
<path d="M510.5,707 512.8,707 515.2,707 517.5,707 519.9,707 522.2,707 524.5,707 526.9,707 529.2,707 531.6,707 533.9,706.9 536.2,706.9 538.6,706.9 540.9,706.9 543.3,706.9 545.6,706.9 548,706.9 550.3,706.9 552.6,706.9 555,706.9 557.3,706.9 559.7,706.9 562,706.9 564.3,706.9 566.7,706.9 569,706.8 571.4,706.8 573.7,706.8 576,706.8 578.4,706.8 580.7,706.8 583.1,706.8 585.4,706.7 587.7,706.7 590.1,706.7 592.4,706.7 594.8,706.7 597.1,706.6 599.4,706.6 601.8,706.6 604.1,706.5 606.5,706.5 608.8,706.4 611.1,706.4 613.5,706.3 615.8,706.2 618.2,706.1 620.5,706 622.9,705.8 625.2,705.7 627.5,705.5 629.9,705.2 632.2,705 634.6,704.7 636.9,704.4 639.2,704 641.6,703.6 643.9,703.2 646.3,702.7 648.6,702.2 650.9,701.6 653.3,701.1 655.6,700.5 658,699.9 660.3,699.3 662.6,698.7 665,698.2 667.3,697.7 669.7,697.2 672,696.8 674.3,696.4 676.7,696.2 679,696 681.4,695.9 683.7,695.9 686,695.9 688.4,696 690.7,696.1 693.1,696.3 695.4,696.5 697.8,696.7 700.1,696.9 702.4,697.1 704.8,697.2 707.1,697.3 709.5,697.4 711.8,697.5 714.1,697.4 716.5,697.3 718.8,697.1 721.2,696.8 723.5,696.3 725.8,695.7 728.2,694.7 730.5,693.5 732.9,692 735.2,690.1 737.5,687.8 739.9,685.2 742.2,682.1 744.6,678.6 746.9,674.8 749.2,670.8 751.6,666.5 753.9,662.3 756.3,658.3 758.6,654.6 760.9,651.5 763.3,649.2 765.6,647.9 768,647.7 770.3,648.6 772.7,650.3 775,652.9 777.3,656.2 779.7,660.1 782,664.4 784.4,669 786.7,673.6 789,678.1 791.4,682.5 793.7,686.5 796.1,690.2 798.4,693.4 800.7,696.2 803.1,698.6 805.4,700.6 807.8,702.3 810.1,703.6 812.4,704.6 814.8,705.4 817.1,706 819.5,706.4 821.8,706.7 824.1,706.9 826.5,707.1 828.8,707.2 831.2,707.3 833.5,707.4 835.8,707.4 838.2,707.4 840.5,707.4 842.9,707.4 845.2,707.5 847.5,707.5 849.9,707.5 852.2,707.5 854.6,707.5 856.9,707.5 859.3,707.5 861.6,707.5 863.9,707.5 866.3,707.5 868.6,707.5 871,707.5 873.3,707.5 875.6,707.5 878,707.5 880.3,707.5 882.7,707.5 885,707.5" fill="none" stroke="#111" stroke-width="1.7"/>
<path d="M510.5,706.9 512.8,706.9 515.2,706.9 517.5,706.9 519.9,706.9 522.2,706.9 524.5,706.9 526.9,706.9 529.2,706.9 531.6,706.9 533.9,706.9 536.2,706.8 538.6,706.8 540.9,706.8 543.3,706.8 545.6,706.8 548,706.8 550.3,706.8 552.6,706.8 555,706.8 557.3,706.8 559.7,706.8 562,706.7 564.3,706.7 566.7,706.7 569,706.7 571.4,706.7 573.7,706.7 576,706.7 578.4,706.7 580.7,706.6 583.1,706.6 585.4,706.6 587.7,706.6 590.1,706.5 592.4,706.5 594.8,706.5 597.1,706.5 599.4,706.4 601.8,706.4 604.1,706.3 606.5,706.3 608.8,706.2 611.1,706.1 613.5,706.1 615.8,706 618.2,705.9 620.5,705.7 622.9,705.6 625.2,705.4 627.5,705.2 629.9,705 632.2,704.7 634.6,704.4 636.9,704.1 639.2,703.7 641.6,703.3 643.9,702.8 646.3,702.3 648.6,701.8 650.9,701.2 653.3,700.7 655.6,700.1 658,699.5 660.3,698.9 662.6,698.3 665,697.7 667.3,697.1 669.7,696.6 672,696.2 674.3,695.8 676.7,695.5 679,695.3 681.4,695.2 683.7,695.1 686,695.1 688.4,695.2 690.7,695.3 693.1,695.4 695.4,695.5 697.8,695.6 700.1,695.8 702.4,695.9 704.8,695.9 707.1,696 709.5,696 711.8,696 714.1,696 716.5,695.9 718.8,695.8 721.2,695.6 723.5,695.3 725.8,694.9 728.2,694.3 730.5,693.5 732.9,692.5 735.2,691.3 737.5,689.6 739.9,687.5 742.2,685 744.6,681.9 746.9,678.2 749.2,674 751.6,669.2 753.9,664 756.3,658.6 758.6,653.3 760.9,648.6 763.3,645 765.6,643.3 768,643.7 770.3,646.1 772.7,650.1 775,655.2 777.3,660.8 779.7,666.4 782,671.7 784.4,676.6 786.7,681 789,684.8 791.4,688 793.7,690.8 796.1,693.1 798.4,695.1 800.7,696.6 803.1,698 805.4,699.1 807.8,700 810.1,700.7 812.4,701.4 814.8,701.9 817.1,702.4 819.5,702.8 821.8,703.2 824.1,703.5 826.5,703.8 828.8,704 831.2,704.3 833.5,704.5 835.8,704.7 838.2,704.8 840.5,705 842.9,705.1 845.2,705.3 847.5,705.4 849.9,705.5 852.2,705.6 854.6,705.7 856.9,705.8 859.3,705.9 861.6,706 863.9,706.1 866.3,706.1 868.6,706.2 871,706.3 873.3,706.3 875.6,706.4 878,706.4 880.3,706.5 882.7,706.5 885,706.6" fill="none" stroke="#ee1a22" stroke-width="2.2"/>
<path d="M510.5,707.2 512.8,707.2 515.2,707.2 517.5,707.2 519.9,707.2 522.2,707.2 524.5,707.2 526.9,707.2 529.2,707.2 531.6,707.2 533.9,707.2 536.2,707.2 538.6,707.2 540.9,707.2 543.3,707.2 545.6,707.2 548,707.2 550.3,707.2 552.6,707.2 555,707.2 557.3,707.3 559.7,707.3 562,707.3 564.3,707.3 566.7,707.3 569,707.3 571.4,707.3 573.7,707.3 576,707.3 578.4,707.3 580.7,707.3 583.1,707.3 585.4,707.3 587.7,707.3 590.1,707.3 592.4,707.3 594.8,707.3 597.1,707.3 599.4,707.3 601.8,707.3 604.1,707.3 606.5,707.3 608.8,707.3 611.1,707.3 613.5,707.3 615.8,707.4 618.2,707.4 620.5,707.4 622.9,707.4 625.2,707.4 627.5,707.4 629.9,707.4 632.2,707.4 634.6,707.5 636.9,707.5 639.2,707.5 641.6,707.5 643.9,707.5 646.3,707.6 648.6,707.6 650.9,707.6 653.3,707.6 655.6,707.7 658,707.7 660.3,707.8 662.6,707.8 665,707.8 667.3,707.9 669.7,707.9 672,708 674.3,708 676.7,708.1 679,708.1 681.4,708.2 683.7,708.2 686,708.3 688.4,708.3 690.7,708.4 693.1,708.5 695.4,708.5 697.8,708.6 700.1,708.6 702.4,708.6 704.8,708.7 707.1,708.7 709.5,708.8 711.8,708.8 714.1,708.8 716.5,708.9 718.8,708.9 721.2,708.9 723.5,708.9 725.8,708.9 728.2,708.9 730.5,708.9 732.9,708.9 735.2,708.9 737.5,708.9 739.9,708.9 742.2,708.9 744.6,708.8 746.9,708.8 749.2,708.8 751.6,708.7 753.9,708.7 756.3,708.6 758.6,708.6 760.9,708.6 763.3,708.5 765.6,708.5 768,708.4 770.3,708.4 772.7,708.3 775,708.3 777.3,708.2 779.7,708.2 782,708.1 784.4,708.1 786.7,708 789,708 791.4,708 793.7,707.9 796.1,707.9 798.4,707.9 800.7,707.8 803.1,707.8 805.4,707.8 807.8,707.7 810.1,707.7 812.4,707.7 814.8,707.7 817.1,707.7 819.5,707.7 821.8,707.6 824.1,707.6 826.5,707.6 828.8,707.6 831.2,707.6 833.5,707.6 835.8,707.6 838.2,707.6 840.5,707.6 842.9,707.6 845.2,707.6 847.5,707.6 849.9,707.6 852.2,707.6 854.6,707.6 856.9,707.6 859.3,707.6 861.6,707.6 863.9,707.6 866.3,707.6 868.6,707.6 871,707.6 873.3,707.6 875.6,707.6 878,707.6 880.3,707.6 882.7,707.6 885,707.6" fill="none" stroke="#20d040" stroke-width="1.6"/>
<path d="M510.5,707 512.8,707 515.2,707 517.5,707 519.9,707 522.2,707 524.5,707 526.9,707 529.2,707 531.6,707 533.9,707 536.2,707 538.6,707 540.9,707 543.3,707 545.6,706.9 548,706.9 550.3,706.9 552.6,706.9 555,706.9 557.3,706.9 559.7,706.9 562,706.9 564.3,706.9 566.7,706.9 569,706.9 571.4,706.9 573.7,706.9 576,706.9 578.4,706.9 580.7,706.9 583.1,706.9 585.4,706.9 587.7,706.8 590.1,706.8 592.4,706.8 594.8,706.8 597.1,706.8 599.4,706.8 601.8,706.8 604.1,706.8 606.5,706.8 608.8,706.7 611.1,706.7 613.5,706.7 615.8,706.7 618.2,706.7 620.5,706.7 622.9,706.6 625.2,706.6 627.5,706.6 629.9,706.6 632.2,706.6 634.6,706.5 636.9,706.5 639.2,706.5 641.6,706.4 643.9,706.4 646.3,706.4 648.6,706.3 650.9,706.3 653.3,706.3 655.6,706.2 658,706.2 660.3,706.1 662.6,706.1 665,706 667.3,706 669.7,705.9 672,705.8 674.3,705.8 676.7,705.7 679,705.6 681.4,705.5 683.7,705.4 686,705.3 688.4,705.2 690.7,705 693.1,704.9 695.4,704.7 697.8,704.6 700.1,704.4 702.4,704.2 704.8,704 707.1,703.7 709.5,703.4 711.8,703.1 714.1,702.7 716.5,702.3 718.8,701.8 721.2,701.3 723.5,700.6 725.8,699.8 728.2,698.9 730.5,697.7 732.9,696.4 735.2,694.7 737.5,692.7 739.9,690.3 742.2,687.4 744.6,684 746.9,680.1 749.2,675.6 751.6,670.7 753.9,665.3 756.3,659.7 758.6,654.2 760.9,649.3 763.3,645.7 765.6,643.9 768,644.2 770.3,646.5 772.7,650.5 775,655.6 777.3,661.1 779.7,666.7 782,672 784.4,676.9 786.7,681.2 789,685 791.4,688.2 793.7,691 796.1,693.3 798.4,695.2 800.7,696.8 803.1,698.1 805.4,699.2 807.8,700.1 810.1,700.9 812.4,701.5 814.8,702.1 817.1,702.5 819.5,702.9 821.8,703.3 824.1,703.6 826.5,703.9 828.8,704.1 831.2,704.4 833.5,704.6 835.8,704.8 838.2,704.9 840.5,705.1 842.9,705.2 845.2,705.4 847.5,705.5 849.9,705.6 852.2,705.7 854.6,705.8 856.9,705.9 859.3,706 861.6,706.1 863.9,706.1 866.3,706.2 868.6,706.3 871,706.3 873.3,706.4 875.6,706.4 878,706.5 880.3,706.5 882.7,706.6 885,706.6" fill="none" stroke="#2a20d8" stroke-width="1.8"/>
<path d="M510.5,707.1 512.8,707.1 515.2,707.1 517.5,707.1 519.9,707.1 522.2,707.1 524.5,707.1 526.9,707.1 529.2,707.1 531.6,707.1 533.9,707.1 536.2,707.1 538.6,707.1 540.9,707.1 543.3,707.1 545.6,707.1 548,707.1 550.3,707.1 552.6,707.1 555,707.1 557.3,707.1 559.7,707.1 562,707.1 564.3,707.1 566.7,707.1 569,707.1 571.4,707.1 573.7,707.1 576,707.1 578.4,707.1 580.7,707.1 583.1,707 585.4,707 587.7,707 590.1,707 592.4,707 594.8,707 597.1,707 599.4,706.9 601.8,706.9 604.1,706.9 606.5,706.8 608.8,706.8 611.1,706.7 613.5,706.7 615.8,706.6 618.2,706.5 620.5,706.4 622.9,706.3 625.2,706.1 627.5,705.9 629.9,705.7 632.2,705.5 634.6,705.2 636.9,704.9 639.2,704.6 641.6,704.2 643.9,703.8 646.3,703.3 648.6,702.8 650.9,702.3 653.3,701.8 655.6,701.3 658,700.7 660.3,700.2 662.6,699.7 665,699.2 667.3,698.7 669.7,698.4 672,698.1 674.3,697.8 676.7,697.7 679,697.7 681.4,697.8 683.7,698 686,698.3 688.4,698.6 690.7,699 693.1,699.5 695.4,700 697.8,700.6 700.1,701.1 702.4,701.7 704.8,702.2 707.1,702.7 709.5,703.2 711.8,703.7 714.1,704.1 716.5,704.5 718.8,704.9 721.2,705.2 723.5,705.5 725.8,705.7 728.2,706 730.5,706.2 732.9,706.3 735.2,706.5 737.5,706.6 739.9,706.7 742.2,706.8 744.6,706.9 746.9,706.9 749.2,707 751.6,707 753.9,707.1 756.3,707.1 758.6,707.1 760.9,707.2 763.3,707.2 765.6,707.2 768,707.2 770.3,707.2 772.7,707.2 775,707.3 777.3,707.3 779.7,707.3 782,707.3 784.4,707.3 786.7,707.3 789,707.3 791.4,707.3 793.7,707.3 796.1,707.3 798.4,707.4 800.7,707.4 803.1,707.4 805.4,707.4 807.8,707.4 810.1,707.4 812.4,707.4 814.8,707.4 817.1,707.4 819.5,707.4 821.8,707.4 824.1,707.4 826.5,707.4 828.8,707.4 831.2,707.4 833.5,707.5 835.8,707.5 838.2,707.5 840.5,707.5 842.9,707.5 845.2,707.5 847.5,707.5 849.9,707.5 852.2,707.5 854.6,707.5 856.9,707.5 859.3,707.5 861.6,707.5 863.9,707.5 866.3,707.5 868.6,707.5 871,707.5 873.3,707.5 875.6,707.5 878,707.5 880.3,707.5 882.7,707.5 885,707.5" fill="none" stroke="#10e0e8" stroke-width="1.8"/>
<path d="M510.5,707.2 512.8,707.2 515.2,707.2 517.5,707.2 519.9,707.2 522.2,707.2 524.5,707.2 526.9,707.2 529.2,707.2 531.6,707.2 533.9,707.2 536.2,707.2 538.6,707.2 540.9,707.2 543.3,707.2 545.6,707.2 548,707.2 550.3,707.2 552.6,707.2 555,707.2 557.3,707.2 559.7,707.2 562,707.2 564.3,707.2 566.7,707.3 569,707.3 571.4,707.3 573.7,707.3 576,707.3 578.4,707.3 580.7,707.3 583.1,707.3 585.4,707.3 587.7,707.3 590.1,707.3 592.4,707.3 594.8,707.3 597.1,707.3 599.4,707.3 601.8,707.3 604.1,707.3 606.5,707.3 608.8,707.3 611.1,707.3 613.5,707.3 615.8,707.3 618.2,707.3 620.5,707.3 622.9,707.3 625.2,707.3 627.5,707.3 629.9,707.3 632.2,707.3 634.6,707.3 636.9,707.3 639.2,707.3 641.6,707.3 643.9,707.3 646.3,707.3 648.6,707.3 650.9,707.3 653.3,707.3 655.6,707.3 658,707.3 660.3,707.2 662.6,707.2 665,707.2 667.3,707.2 669.7,707.1 672,707 674.3,707 676.7,706.9 679,706.8 681.4,706.6 683.7,706.5 686,706.3 688.4,706.1 690.7,705.9 693.1,705.7 695.4,705.5 697.8,705.3 700.1,705 702.4,704.8 704.8,704.6 707.1,704.4 709.5,704.2 711.8,704.1 714.1,704 716.5,703.9 718.8,703.9 721.2,704 723.5,704 725.8,704.2 728.2,704.3 730.5,704.5 732.9,704.7 735.2,704.9 737.5,705.2 739.9,705.4 742.2,705.7 744.6,705.9 746.9,706.1 749.2,706.3 751.6,706.5 753.9,706.6 756.3,706.8 758.6,706.9 760.9,707 763.3,707.1 765.6,707.2 768,707.2 770.3,707.3 772.7,707.3 775,707.4 777.3,707.4 779.7,707.4 782,707.4 784.4,707.4 786.7,707.4 789,707.5 791.4,707.5 793.7,707.5 796.1,707.5 798.4,707.5 800.7,707.5 803.1,707.5 805.4,707.5 807.8,707.5 810.1,707.5 812.4,707.5 814.8,707.5 817.1,707.5 819.5,707.5 821.8,707.5 824.1,707.5 826.5,707.5 828.8,707.5 831.2,707.5 833.5,707.5 835.8,707.5 838.2,707.5 840.5,707.5 842.9,707.5 845.2,707.5 847.5,707.5 849.9,707.6 852.2,707.6 854.6,707.6 856.9,707.6 859.3,707.6 861.6,707.6 863.9,707.6 866.3,707.6 868.6,707.6 871,707.6 873.3,707.6 875.6,707.6 878,707.6 880.3,707.6 882.7,707.6 885,707.6" fill="none" stroke="#8a2ad0" stroke-width="1.8"/>
<path d="M510.5,707.2 512.8,707.2 515.2,707.2 517.5,707.2 519.9,707.2 522.2,707.2 524.5,707.2 526.9,707.2 529.2,707.2 531.6,707.2 533.9,707.2 536.2,707.2 538.6,707.2 540.9,707.2 543.3,707.2 545.6,707.2 548,707.2 550.3,707.2 552.6,707.2 555,707.2 557.3,707.2 559.7,707.3 562,707.3 564.3,707.3 566.7,707.3 569,707.3 571.4,707.3 573.7,707.3 576,707.3 578.4,707.3 580.7,707.3 583.1,707.3 585.4,707.3 587.7,707.3 590.1,707.3 592.4,707.3 594.8,707.3 597.1,707.3 599.4,707.3 601.8,707.3 604.1,707.3 606.5,707.3 608.8,707.3 611.1,707.3 613.5,707.3 615.8,707.3 618.2,707.3 620.5,707.3 622.9,707.3 625.2,707.3 627.5,707.3 629.9,707.3 632.2,707.3 634.6,707.3 636.9,707.3 639.2,707.3 641.6,707.3 643.9,707.3 646.3,707.3 648.6,707.3 650.9,707.4 653.3,707.4 655.6,707.4 658,707.4 660.3,707.4 662.6,707.4 665,707.4 667.3,707.4 669.7,707.4 672,707.4 674.3,707.4 676.7,707.4 679,707.4 681.4,707.4 683.7,707.4 686,707.4 688.4,707.4 690.7,707.4 693.1,707.4 695.4,707.4 697.8,707.4 700.1,707.4 702.4,707.4 704.8,707.4 707.1,707.4 709.5,707.4 711.8,707.4 714.1,707.4 716.5,707.4 718.8,707.4 721.2,707.4 723.5,707.4 725.8,707.4 728.2,707.4 730.5,707.4 732.9,707.4 735.2,707.4 737.5,707.4 739.9,707.4 742.2,707.4 744.6,707.5 746.9,707.5 749.2,707.5 751.6,707.5 753.9,707.5 756.3,707.5 758.6,707.5 760.9,707.5 763.3,707.5 765.6,707.5 768,707.5 770.3,707.5 772.7,707.5 775,707.5 777.3,707.5 779.7,707.5 782,707.5 784.4,707.5 786.7,707.5 789,707.5 791.4,707.5 793.7,707.5 796.1,707.5 798.4,707.5 800.7,707.5 803.1,707.5 805.4,707.5 807.8,707.5 810.1,707.5 812.4,707.5 814.8,707.5 817.1,707.5 819.5,707.5 821.8,707.5 824.1,707.5 826.5,707.5 828.8,707.5 831.2,707.5 833.5,707.5 835.8,707.5 838.2,707.6 840.5,707.6 842.9,707.6 845.2,707.6 847.5,707.6 849.9,707.6 852.2,707.6 854.6,707.6 856.9,707.6 859.3,707.6 861.6,707.6 863.9,707.6 866.3,707.6 868.6,707.6 871,707.6 873.3,707.6 875.6,707.6 878,707.6 880.3,707.6 882.7,707.6 885,707.6" fill="none" stroke="#ff22d8" stroke-width="2.2"/>
<path d="M510.5,806.8 512.8,806.8 515.2,806.8 517.5,806.8 519.9,806.8 522.2,806.8 524.5,806.8 526.9,806.8 529.2,806.8 531.6,806.8 533.9,806.8 536.2,806.8 538.6,806.8 540.9,806.8 543.3,806.8 545.6,806.8 548,806.8 550.3,806.8 552.6,806.8 555,806.8 557.3,806.8 559.7,806.8 562,806.8 564.3,806.8 566.7,806.7 569,806.7 571.4,806.7 573.7,806.7 576,806.7 578.4,806.7 580.7,806.7 583.1,806.7 585.4,806.6 587.7,806.6 590.1,806.6 592.4,806.6 594.8,806.5 597.1,806.5 599.4,806.5 601.8,806.4 604.1,806.4 606.5,806.3 608.8,806.2 611.1,806.1 613.5,806 615.8,805.9 618.2,805.7 620.5,805.5 622.9,805.3 625.2,805 627.5,804.7 629.9,804.4 632.2,804 634.6,803.5 636.9,803 639.2,802.5 641.6,801.9 643.9,801.2 646.3,800.5 648.6,799.7 650.9,798.9 653.3,798.1 655.6,797.3 658,796.4 660.3,795.6 662.6,794.8 665,794 667.3,793.3 669.7,792.7 672,792.2 674.3,791.8 676.7,791.5 679,791.4 681.4,791.4 683.7,791.5 686,791.7 688.4,792 690.7,792.3 693.1,792.7 695.4,793.2 697.8,793.6 700.1,794 702.4,794.3 704.8,794.6 707.1,794.9 709.5,795.1 711.8,795.2 714.1,795.1 716.5,794.9 718.8,794.6 721.2,794 723.5,793.1 725.8,792 728.2,790.4 730.5,788.5 732.9,786 735.2,783 737.5,779.5 739.9,775.5 742.2,770.9 744.6,765.8 746.9,760.4 749.2,754.8 751.6,749 753.9,743.5 756.3,738.3 758.6,733.9 760.9,730.5 763.3,728.3 765.6,727.7 768,728.5 770.3,730.5 772.7,733.7 775,737.9 777.3,743 779.7,748.6 782,754.7 784.4,760.9 786.7,767 789,773 791.4,778.5 793.7,783.6 796.1,788.2 798.4,792.1 800.7,795.5 803.1,798.3 805.4,800.7 807.8,802.5 810.1,804 812.4,805.1 814.8,806 817.1,806.6 819.5,807.1 821.8,807.5 824.1,807.7 826.5,807.9 828.8,808 831.2,808.1 833.5,808.2 835.8,808.2 838.2,808.2 840.5,808.3 842.9,808.3 845.2,808.3 847.5,808.3 849.9,808.3 852.2,808.3 854.6,808.4 856.9,808.4 859.3,808.4 861.6,808.4 863.9,808.4 866.3,808.4 868.6,808.4 871,808.4 873.3,808.5 875.6,808.5 878,808.5 880.3,808.5 882.7,808.5 885,808.5" fill="none" stroke="#111" stroke-width="1.7"/>
<path d="M510.5,806.7 512.8,806.7 515.2,806.7 517.5,806.7 519.9,806.7 522.2,806.7 524.5,806.7 526.9,806.7 529.2,806.7 531.6,806.7 533.9,806.7 536.2,806.7 538.6,806.7 540.9,806.7 543.3,806.7 545.6,806.7 548,806.6 550.3,806.6 552.6,806.6 555,806.6 557.3,806.6 559.7,806.6 562,806.6 564.3,806.6 566.7,806.6 569,806.6 571.4,806.5 573.7,806.5 576,806.5 578.4,806.5 580.7,806.5 583.1,806.5 585.4,806.4 587.7,806.4 590.1,806.4 592.4,806.3 594.8,806.3 597.1,806.3 599.4,806.2 601.8,806.1 604.1,806.1 606.5,806 608.8,805.9 611.1,805.8 613.5,805.7 615.8,805.5 618.2,805.4 620.5,805.2 622.9,804.9 625.2,804.7 627.5,804.4 629.9,804 632.2,803.6 634.6,803.1 636.9,802.6 639.2,802 641.6,801.4 643.9,800.7 646.3,800 648.6,799.2 650.9,798.4 653.3,797.6 655.6,796.7 658,795.8 660.3,794.9 662.6,794.1 665,793.3 667.3,792.5 669.7,791.9 672,791.3 674.3,790.9 676.7,790.6 679,790.4 681.4,790.4 683.7,790.4 686,790.6 688.4,790.8 690.7,791.1 693.1,791.4 695.4,791.7 697.8,792.1 700.1,792.4 702.4,792.6 704.8,792.9 707.1,793.1 709.5,793.2 711.8,793.2 714.1,793.2 716.5,793.1 718.8,792.9 721.2,792.5 723.5,792 725.8,791.2 728.2,790.3 730.5,789 732.9,787.3 735.2,785.1 737.5,782.5 739.9,779.2 742.2,775.2 744.6,770.4 746.9,764.9 749.2,758.6 751.6,751.8 753.9,744.5 756.3,737.2 758.6,730.5 760.9,725.3 763.3,722.2 765.6,721.9 768,724.4 770.3,729.3 772.7,735.9 775,743.3 777.3,750.9 779.7,758.2 782,764.9 784.4,771 786.7,776.3 789,780.9 791.4,784.8 793.7,788.1 796.1,790.8 798.4,793.1 800.7,795 803.1,796.5 805.4,797.8 807.8,798.9 810.1,799.8 812.4,800.6 814.8,801.2 817.1,801.8 819.5,802.3 821.8,802.8 824.1,803.2 826.5,803.5 828.8,803.9 831.2,804.2 833.5,804.4 835.8,804.7 838.2,804.9 840.5,805.1 842.9,805.3 845.2,805.5 847.5,805.7 849.9,805.8 852.2,805.9 854.6,806.1 856.9,806.2 859.3,806.3 861.6,806.4 863.9,806.5 866.3,806.6 868.6,806.7 871,806.8 873.3,806.9 875.6,807 878,807 880.3,807.1 882.7,807.2 885,807.2" fill="none" stroke="#ee1a22" stroke-width="2.2"/>
<path d="M510.5,807.1 512.8,807.1 515.2,807.1 517.5,807.1 519.9,807.1 522.2,807.1 524.5,807.2 526.9,807.2 529.2,807.2 531.6,807.2 533.9,807.2 536.2,807.2 538.6,807.2 540.9,807.2 543.3,807.2 545.6,807.2 548,807.3 550.3,807.3 552.6,807.3 555,807.3 557.3,807.3 559.7,807.3 562,807.3 564.3,807.3 566.7,807.3 569,807.3 571.4,807.3 573.7,807.4 576,807.4 578.4,807.4 580.7,807.4 583.1,807.4 585.4,807.4 587.7,807.4 590.1,807.4 592.4,807.4 594.8,807.4 597.1,807.5 599.4,807.5 601.8,807.5 604.1,807.5 606.5,807.5 608.8,807.5 611.1,807.5 613.5,807.5 615.8,807.6 618.2,807.6 620.5,807.6 622.9,807.6 625.2,807.6 627.5,807.6 629.9,807.7 632.2,807.7 634.6,807.7 636.9,807.7 639.2,807.8 641.6,807.8 643.9,807.8 646.3,807.9 648.6,807.9 650.9,807.9 653.3,808 655.6,808 658,808.1 660.3,808.1 662.6,808.1 665,808.2 667.3,808.2 669.7,808.3 672,808.4 674.3,808.4 676.7,808.5 679,808.5 681.4,808.6 683.7,808.6 686,808.7 688.4,808.8 690.7,808.8 693.1,808.9 695.4,808.9 697.8,809 700.1,809.1 702.4,809.1 704.8,809.2 707.1,809.2 709.5,809.3 711.8,809.3 714.1,809.3 716.5,809.4 718.8,809.4 721.2,809.4 723.5,809.4 725.8,809.5 728.2,809.5 730.5,809.5 732.9,809.5 735.2,809.5 737.5,809.5 739.9,809.5 742.2,809.4 744.6,809.4 746.9,809.4 749.2,809.4 751.6,809.3 753.9,809.3 756.3,809.3 758.6,809.2 760.9,809.2 763.3,809.1 765.6,809.1 768,809.1 770.3,809 772.7,809 775,808.9 777.3,808.9 779.7,808.9 782,808.8 784.4,808.8 786.7,808.7 789,808.7 791.4,808.7 793.7,808.7 796.1,808.6 798.4,808.6 800.7,808.6 803.1,808.6 805.4,808.5 807.8,808.5 810.1,808.5 812.4,808.5 814.8,808.5 817.1,808.5 819.5,808.5 821.8,808.5 824.1,808.5 826.5,808.5 828.8,808.5 831.2,808.4 833.5,808.5 835.8,808.5 838.2,808.5 840.5,808.5 842.9,808.5 845.2,808.5 847.5,808.5 849.9,808.5 852.2,808.5 854.6,808.5 856.9,808.5 859.3,808.5 861.6,808.5 863.9,808.5 866.3,808.5 868.6,808.5 871,808.5 873.3,808.6 875.6,808.6 878,808.6 880.3,808.6 882.7,808.6 885,808.6" fill="none" stroke="#20d040" stroke-width="1.6"/>
<path d="M510.5,806.8 512.8,806.8 515.2,806.8 517.5,806.8 519.9,806.8 522.2,806.8 524.5,806.8 526.9,806.8 529.2,806.8 531.6,806.8 533.9,806.8 536.2,806.8 538.6,806.8 540.9,806.8 543.3,806.8 545.6,806.8 548,806.8 550.3,806.8 552.6,806.8 555,806.8 557.3,806.8 559.7,806.8 562,806.8 564.3,806.8 566.7,806.8 569,806.8 571.4,806.8 573.7,806.8 576,806.8 578.4,806.8 580.7,806.8 583.1,806.8 585.4,806.8 587.7,806.8 590.1,806.8 592.4,806.8 594.8,806.8 597.1,806.8 599.4,806.8 601.8,806.8 604.1,806.7 606.5,806.7 608.8,806.7 611.1,806.7 613.5,806.7 615.8,806.7 618.2,806.7 620.5,806.6 622.9,806.6 625.2,806.6 627.5,806.6 629.9,806.5 632.2,806.5 634.6,806.5 636.9,806.5 639.2,806.4 641.6,806.4 643.9,806.4 646.3,806.3 648.6,806.3 650.9,806.2 653.3,806.2 655.6,806.1 658,806.1 660.3,806 662.6,805.9 665,805.9 667.3,805.8 669.7,805.7 672,805.6 674.3,805.5 676.7,805.4 679,805.3 681.4,805.2 683.7,805 686,804.9 688.4,804.7 690.7,804.5 693.1,804.3 695.4,804.1 697.8,803.9 700.1,803.6 702.4,803.3 704.8,803 707.1,802.6 709.5,802.2 711.8,801.7 714.1,801.2 716.5,800.6 718.8,799.9 721.2,799 723.5,798 725.8,796.8 728.2,795.4 730.5,793.6 732.9,791.5 735.2,789 737.5,785.9 739.9,782.2 742.2,777.9 744.6,772.8 746.9,767 749.2,760.5 751.6,753.4 753.9,745.9 756.3,738.4 758.6,731.6 760.9,726.2 763.3,723 765.6,722.6 768,725 770.3,729.9 772.7,736.4 775,743.7 777.3,751.3 779.7,758.6 782,765.3 784.4,771.3 786.7,776.6 789,781.2 791.4,785.1 793.7,788.4 796.1,791.1 798.4,793.3 800.7,795.2 803.1,796.7 805.4,798 807.8,799.1 810.1,800 812.4,800.8 814.8,801.4 817.1,802 819.5,802.5 821.8,803 824.1,803.4 826.5,803.7 828.8,804 831.2,804.3 833.5,804.6 835.8,804.8 838.2,805.1 840.5,805.3 842.9,805.4 845.2,805.6 847.5,805.8 849.9,805.9 852.2,806.1 854.6,806.2 856.9,806.3 859.3,806.4 861.6,806.5 863.9,806.6 866.3,806.7 868.6,806.8 871,806.9 873.3,807 875.6,807 878,807.1 880.3,807.2 882.7,807.2 885,807.3" fill="none" stroke="#2a20d8" stroke-width="1.8"/>
<path d="M510.5,807 512.8,807 515.2,807 517.5,807 519.9,807 522.2,807 524.5,807 526.9,807 529.2,807 531.6,807 533.9,807 536.2,807 538.6,807 540.9,807 543.3,807.1 545.6,807.1 548,807.1 550.3,807.1 552.6,807.1 555,807.1 557.3,807.1 559.7,807.1 562,807.1 564.3,807.1 566.7,807.1 569,807.1 571.4,807.1 573.7,807.1 576,807.1 578.4,807 580.7,807 583.1,807 585.4,807 587.7,807 590.1,807 592.4,807 594.8,807 597.1,806.9 599.4,806.9 601.8,806.9 604.1,806.8 606.5,806.8 608.8,806.7 611.1,806.6 613.5,806.5 615.8,806.4 618.2,806.3 620.5,806.1 622.9,805.9 625.2,805.7 627.5,805.4 629.9,805.1 632.2,804.7 634.6,804.3 636.9,803.8 639.2,803.3 641.6,802.7 643.9,802.1 646.3,801.4 648.6,800.7 650.9,799.9 653.3,799.1 655.6,798.3 658,797.5 660.3,796.7 662.6,796 665,795.3 667.3,794.7 669.7,794.2 672,793.8 674.3,793.6 676.7,793.5 679,793.5 681.4,793.7 683.7,794.1 686,794.6 688.4,795.2 690.7,795.8 693.1,796.6 695.4,797.4 697.8,798.2 700.1,799 702.4,799.8 704.8,800.6 707.1,801.3 709.5,802 711.8,802.7 714.1,803.3 716.5,803.9 718.8,804.4 721.2,804.9 723.5,805.3 725.8,805.6 728.2,806 730.5,806.2 732.9,806.5 735.2,806.7 737.5,806.8 739.9,807 742.2,807.1 744.6,807.2 746.9,807.3 749.2,807.4 751.6,807.5 753.9,807.5 756.3,807.6 758.6,807.6 760.9,807.6 763.3,807.7 765.6,807.7 768,807.7 770.3,807.8 772.7,807.8 775,807.8 777.3,807.9 779.7,807.9 782,807.9 784.4,807.9 786.7,807.9 789,808 791.4,808 793.7,808 796.1,808 798.4,808 800.7,808.1 803.1,808.1 805.4,808.1 807.8,808.1 810.1,808.1 812.4,808.1 814.8,808.1 817.1,808.2 819.5,808.2 821.8,808.2 824.1,808.2 826.5,808.2 828.8,808.2 831.2,808.2 833.5,808.3 835.8,808.3 838.2,808.3 840.5,808.3 842.9,808.3 845.2,808.3 847.5,808.3 849.9,808.3 852.2,808.4 854.6,808.4 856.9,808.4 859.3,808.4 861.6,808.4 863.9,808.4 866.3,808.4 868.6,808.4 871,808.5 873.3,808.5 875.6,808.5 878,808.5 880.3,808.5 882.7,808.5 885,808.5" fill="none" stroke="#10e0e8" stroke-width="1.8"/>
<path d="M510.5,807.1 512.8,807.1 515.2,807.1 517.5,807.1 519.9,807.1 522.2,807.1 524.5,807.2 526.9,807.2 529.2,807.2 531.6,807.2 533.9,807.2 536.2,807.2 538.6,807.2 540.9,807.2 543.3,807.2 545.6,807.2 548,807.2 550.3,807.3 552.6,807.3 555,807.3 557.3,807.3 559.7,807.3 562,807.3 564.3,807.3 566.7,807.3 569,807.3 571.4,807.3 573.7,807.3 576,807.4 578.4,807.4 580.7,807.4 583.1,807.4 585.4,807.4 587.7,807.4 590.1,807.4 592.4,807.4 594.8,807.4 597.1,807.4 599.4,807.4 601.8,807.5 604.1,807.5 606.5,807.5 608.8,807.5 611.1,807.5 613.5,807.5 615.8,807.5 618.2,807.5 620.5,807.5 622.9,807.5 625.2,807.5 627.5,807.5 629.9,807.6 632.2,807.6 634.6,807.6 636.9,807.6 639.2,807.6 641.6,807.6 643.9,807.6 646.3,807.6 648.6,807.6 650.9,807.6 653.3,807.6 655.6,807.6 658,807.6 660.3,807.6 662.6,807.6 665,807.5 667.3,807.5 669.7,807.5 672,807.4 674.3,807.3 676.7,807.3 679,807.2 681.4,807 683.7,806.9 686,806.7 688.4,806.6 690.7,806.4 693.1,806.2 695.4,806 697.8,805.7 700.1,805.5 702.4,805.3 704.8,805.1 707.1,804.9 709.5,804.7 711.8,804.6 714.1,804.5 716.5,804.4 718.8,804.4 721.2,804.5 723.5,804.6 725.8,804.7 728.2,804.9 730.5,805.1 732.9,805.3 735.2,805.5 737.5,805.7 739.9,806 742.2,806.2 744.6,806.5 746.9,806.7 749.2,806.9 751.6,807.1 753.9,807.2 756.3,807.4 758.6,807.5 760.9,807.6 763.3,807.7 765.6,807.8 768,807.9 770.3,807.9 772.7,808 775,808 777.3,808.1 779.7,808.1 782,808.1 784.4,808.1 786.7,808.2 789,808.2 791.4,808.2 793.7,808.2 796.1,808.2 798.4,808.2 800.7,808.2 803.1,808.2 805.4,808.3 807.8,808.3 810.1,808.3 812.4,808.3 814.8,808.3 817.1,808.3 819.5,808.3 821.8,808.3 824.1,808.3 826.5,808.3 828.8,808.4 831.2,808.4 833.5,808.4 835.8,808.4 838.2,808.4 840.5,808.4 842.9,808.4 845.2,808.4 847.5,808.4 849.9,808.4 852.2,808.5 854.6,808.5 856.9,808.5 859.3,808.5 861.6,808.5 863.9,808.5 866.3,808.5 868.6,808.5 871,808.5 873.3,808.5 875.6,808.6 878,808.6 880.3,808.6 882.7,808.6 885,808.6" fill="none" stroke="#8a2ad0" stroke-width="1.8"/>
<path d="M510.5,807.1 512.8,807.1 515.2,807.1 517.5,807.1 519.9,807.1 522.2,807.1 524.5,807.2 526.9,807.2 529.2,807.2 531.6,807.2 533.9,807.2 536.2,807.2 538.6,807.2 540.9,807.2 543.3,807.2 545.6,807.2 548,807.2 550.3,807.3 552.6,807.3 555,807.3 557.3,807.3 559.7,807.3 562,807.3 564.3,807.3 566.7,807.3 569,807.3 571.4,807.3 573.7,807.4 576,807.4 578.4,807.4 580.7,807.4 583.1,807.4 585.4,807.4 587.7,807.4 590.1,807.4 592.4,807.4 594.8,807.4 597.1,807.4 599.4,807.5 601.8,807.5 604.1,807.5 606.5,807.5 608.8,807.5 611.1,807.5 613.5,807.5 615.8,807.5 618.2,807.5 620.5,807.5 622.9,807.6 625.2,807.6 627.5,807.6 629.9,807.6 632.2,807.6 634.6,807.6 636.9,807.6 639.2,807.6 641.6,807.6 643.9,807.6 646.3,807.6 648.6,807.7 650.9,807.7 653.3,807.7 655.6,807.7 658,807.7 660.3,807.7 662.6,807.7 665,807.7 667.3,807.7 669.7,807.7 672,807.7 674.3,807.8 676.7,807.8 679,807.8 681.4,807.8 683.7,807.8 686,807.8 688.4,807.8 690.7,807.8 693.1,807.8 695.4,807.8 697.8,807.9 700.1,807.9 702.4,807.9 704.8,807.9 707.1,807.9 709.5,807.9 711.8,807.9 714.1,807.9 716.5,807.9 718.8,807.9 721.2,807.9 723.5,808 725.8,808 728.2,808 730.5,808 732.9,808 735.2,808 737.5,808 739.9,808 742.2,808 744.6,808 746.9,808 749.2,808.1 751.6,808.1 753.9,808.1 756.3,808.1 758.6,808.1 760.9,808.1 763.3,808.1 765.6,808.1 768,808.1 770.3,808.1 772.7,808.1 775,808.2 777.3,808.2 779.7,808.2 782,808.2 784.4,808.2 786.7,808.2 789,808.2 791.4,808.2 793.7,808.2 796.1,808.2 798.4,808.3 800.7,808.3 803.1,808.3 805.4,808.3 807.8,808.3 810.1,808.3 812.4,808.3 814.8,808.3 817.1,808.3 819.5,808.3 821.8,808.3 824.1,808.4 826.5,808.4 828.8,808.4 831.2,808.4 833.5,808.4 835.8,808.4 838.2,808.4 840.5,808.4 842.9,808.4 845.2,808.4 847.5,808.5 849.9,808.5 852.2,808.5 854.6,808.5 856.9,808.5 859.3,808.5 861.6,808.5 863.9,808.5 866.3,808.5 868.6,808.5 871,808.5 873.3,808.6 875.6,808.6 878,808.6 880.3,808.6 882.7,808.6 885,808.6" fill="none" stroke="#ff22d8" stroke-width="2.2"/>
<path d="M510.5,902.5 512.8,902.6 515.2,902.6 517.5,902.6 519.9,902.6 522.2,902.6 524.5,902.6 526.9,902.6 529.2,902.6 531.6,902.6 533.9,902.6 536.2,902.6 538.6,902.6 540.9,902.6 543.3,902.6 545.6,902.7 548,902.7 550.3,902.7 552.6,902.7 555,902.7 557.3,902.7 559.7,902.7 562,902.7 564.3,902.7 566.7,902.7 569,902.7 571.4,902.7 573.7,902.7 576,902.7 578.4,902.7 580.7,902.7 583.1,902.7 585.4,902.7 587.7,902.6 590.1,902.6 592.4,902.6 594.8,902.6 597.1,902.6 599.4,902.6 601.8,902.6 604.1,902.5 606.5,902.5 608.8,902.4 611.1,902.4 613.5,902.3 615.8,902.3 618.2,902.2 620.5,902.1 622.9,902 625.2,901.8 627.5,901.6 629.9,901.4 632.2,901.2 634.6,900.9 636.9,900.6 639.2,900.3 641.6,899.9 643.9,899.4 646.3,898.9 648.6,898.4 650.9,897.8 653.3,897.2 655.6,896.5 658,895.8 660.3,895.1 662.6,894.4 665,893.7 667.3,892.9 669.7,892.3 672,891.6 674.3,891 676.7,890.5 679,890.1 681.4,889.8 683.7,889.6 686,889.5 688.4,889.5 690.7,889.6 693.1,889.7 695.4,890 697.8,890.2 700.1,890.5 702.4,890.9 704.8,891.2 707.1,891.5 709.5,891.8 711.8,892.1 714.1,892.4 716.5,892.6 718.8,892.7 721.2,892.7 723.5,892.6 725.8,892.3 728.2,891.8 730.5,891.1 732.9,890.1 735.2,888.7 737.5,886.9 739.9,884.7 742.2,882 744.6,878.9 746.9,875.3 749.2,871.2 751.6,866.8 753.9,862.1 756.3,857.3 758.6,852.4 760.9,847.8 763.3,843.7 765.6,840.2 768,837.8 770.3,836.5 772.7,836.5 775,837.6 777.3,839.8 779.7,842.9 782,846.8 784.4,851.3 786.7,856.2 789,861.4 791.4,866.7 793.7,871.8 796.1,876.7 798.4,881.3 800.7,885.4 803.1,889 805.4,892.2 807.8,894.8 810.1,897.1 812.4,898.8 814.8,900.3 817.1,901.4 819.5,902.3 821.8,902.9 824.1,903.4 826.5,903.8 828.8,904 831.2,904.2 833.5,904.3 835.8,904.4 838.2,904.5 840.5,904.6 842.9,904.6 845.2,904.6 847.5,904.7 849.9,904.7 852.2,904.7 854.6,904.7 856.9,904.7 859.3,904.7 861.6,904.8 863.9,904.8 866.3,904.8 868.6,904.8 871,904.8 873.3,904.8 875.6,904.9 878,904.9 880.3,904.9 882.7,904.9 885,904.9" fill="none" stroke="#111" stroke-width="1.7"/>
<path d="M510.5,902.5 512.8,902.5 515.2,902.5 517.5,902.5 519.9,902.5 522.2,902.5 524.5,902.5 526.9,902.5 529.2,902.5 531.6,902.5 533.9,902.5 536.2,902.5 538.6,902.5 540.9,902.5 543.3,902.5 545.6,902.5 548,902.5 550.3,902.5 552.6,902.5 555,902.5 557.3,902.5 559.7,902.5 562,902.5 564.3,902.5 566.7,902.5 569,902.5 571.4,902.5 573.7,902.5 576,902.5 578.4,902.5 580.7,902.5 583.1,902.5 585.4,902.5 587.7,902.5 590.1,902.5 592.4,902.4 594.8,902.4 597.1,902.4 599.4,902.4 601.8,902.3 604.1,902.3 606.5,902.3 608.8,902.2 611.1,902.2 613.5,902.1 615.8,902 618.2,901.9 620.5,901.8 622.9,901.7 625.2,901.5 627.5,901.4 629.9,901.2 632.2,900.9 634.6,900.6 636.9,900.3 639.2,899.9 641.6,899.5 643.9,899.1 646.3,898.6 648.6,898 650.9,897.4 653.3,896.8 655.6,896.1 658,895.4 660.3,894.6 662.6,893.9 665,893.1 667.3,892.4 669.7,891.7 672,891 674.3,890.4 676.7,889.9 679,889.4 681.4,889 683.7,888.8 686,888.7 688.4,888.6 690.7,888.6 693.1,888.8 695.4,888.9 697.8,889.1 700.1,889.4 702.4,889.6 704.8,889.9 707.1,890.1 709.5,890.4 711.8,890.6 714.1,890.8 716.5,890.9 718.8,891 721.2,891.1 723.5,891.1 725.8,890.9 728.2,890.7 730.5,890.3 732.9,889.7 735.2,888.8 737.5,887.6 739.9,886.1 742.2,884.1 744.6,881.7 746.9,878.6 749.2,875 751.6,870.7 753.9,865.7 756.3,860.2 758.6,854.1 760.9,847.9 763.3,841.9 765.6,836.7 768,832.9 770.3,831.3 772.7,832.1 775,835.1 777.3,840 779.7,845.9 782,852.3 784.4,858.7 786.7,864.7 789,870.2 791.4,875 793.7,879.2 796.1,882.9 798.4,885.9 800.7,888.5 803.1,890.7 805.4,892.4 807.8,893.9 810.1,895.1 812.4,896.1 814.8,897 817.1,897.7 819.5,898.3 821.8,898.9 824.1,899.3 826.5,899.7 828.8,900.1 831.2,900.4 833.5,900.7 835.8,901 838.2,901.3 840.5,901.5 842.9,901.7 845.2,901.9 847.5,902.1 849.9,902.2 852.2,902.4 854.6,902.5 856.9,902.6 859.3,902.8 861.6,902.9 863.9,903 866.3,903.1 868.6,903.2 871,903.3 873.3,903.4 875.6,903.4 878,903.5 880.3,903.6 882.7,903.6 885,903.7" fill="none" stroke="#ee1a22" stroke-width="2.2"/>
<path d="M510.5,902.8 512.8,902.8 515.2,902.8 517.5,902.8 519.9,902.9 522.2,902.9 524.5,902.9 526.9,902.9 529.2,902.9 531.6,902.9 533.9,902.9 536.2,903 538.6,903 540.9,903 543.3,903 545.6,903 548,903 550.3,903 552.6,903 555,903.1 557.3,903.1 559.7,903.1 562,903.1 564.3,903.1 566.7,903.1 569,903.1 571.4,903.2 573.7,903.2 576,903.2 578.4,903.2 580.7,903.2 583.1,903.2 585.4,903.2 587.7,903.3 590.1,903.3 592.4,903.3 594.8,903.3 597.1,903.3 599.4,903.3 601.8,903.4 604.1,903.4 606.5,903.4 608.8,903.4 611.1,903.4 613.5,903.4 615.8,903.5 618.2,903.5 620.5,903.5 622.9,903.5 625.2,903.5 627.5,903.6 629.9,903.6 632.2,903.6 634.6,903.6 636.9,903.7 639.2,903.7 641.6,903.7 643.9,903.8 646.3,903.8 648.6,903.9 650.9,903.9 653.3,903.9 655.6,904 658,904 660.3,904.1 662.6,904.1 665,904.2 667.3,904.2 669.7,904.3 672,904.4 674.3,904.4 676.7,904.5 679,904.5 681.4,904.6 683.7,904.7 686,904.7 688.4,904.8 690.7,904.9 693.1,904.9 695.4,905 697.8,905.1 700.1,905.1 702.4,905.2 704.8,905.2 707.1,905.3 709.5,905.3 711.8,905.4 714.1,905.4 716.5,905.5 718.8,905.5 721.2,905.5 723.5,905.5 725.8,905.6 728.2,905.6 730.5,905.6 732.9,905.6 735.2,905.6 737.5,905.6 739.9,905.6 742.2,905.6 744.6,905.6 746.9,905.5 749.2,905.5 751.6,905.5 753.9,905.5 756.3,905.4 758.6,905.4 760.9,905.4 763.3,905.3 765.6,905.3 768,905.2 770.3,905.2 772.7,905.2 775,905.1 777.3,905.1 779.7,905.1 782,905 784.4,905 786.7,905 789,904.9 791.4,904.9 793.7,904.9 796.1,904.9 798.4,904.8 800.7,904.8 803.1,904.8 805.4,904.8 807.8,904.8 810.1,904.8 812.4,904.8 814.8,904.8 817.1,904.7 819.5,904.7 821.8,904.7 824.1,904.7 826.5,904.7 828.8,904.7 831.2,904.7 833.5,904.8 835.8,904.8 838.2,904.8 840.5,904.8 842.9,904.8 845.2,904.8 847.5,904.8 849.9,904.8 852.2,904.8 854.6,904.8 856.9,904.8 859.3,904.9 861.6,904.9 863.9,904.9 866.3,904.9 868.6,904.9 871,904.9 873.3,904.9 875.6,904.9 878,905 880.3,905 882.7,905 885,905" fill="none" stroke="#20d040" stroke-width="1.6"/>
<path d="M510.5,902.6 512.8,902.6 515.2,902.6 517.5,902.6 519.9,902.6 522.2,902.6 524.5,902.6 526.9,902.6 529.2,902.6 531.6,902.6 533.9,902.7 536.2,902.7 538.6,902.7 540.9,902.7 543.3,902.7 545.6,902.7 548,902.7 550.3,902.7 552.6,902.7 555,902.7 557.3,902.7 559.7,902.7 562,902.7 564.3,902.7 566.7,902.7 569,902.8 571.4,902.8 573.7,902.8 576,902.8 578.4,902.8 580.7,902.8 583.1,902.8 585.4,902.8 587.7,902.8 590.1,902.8 592.4,902.8 594.8,902.8 597.1,902.8 599.4,902.8 601.8,902.8 604.1,902.8 606.5,902.8 608.8,902.8 611.1,902.8 613.5,902.8 615.8,902.8 618.2,902.7 620.5,902.7 622.9,902.7 625.2,902.7 627.5,902.7 629.9,902.7 632.2,902.7 634.6,902.7 636.9,902.7 639.2,902.6 641.6,902.6 643.9,902.6 646.3,902.6 648.6,902.6 650.9,902.5 653.3,902.5 655.6,902.5 658,902.4 660.3,902.4 662.6,902.3 665,902.3 667.3,902.3 669.7,902.2 672,902.1 674.3,902.1 676.7,902 679,901.9 681.4,901.9 683.7,901.8 686,901.7 688.4,901.6 690.7,901.5 693.1,901.3 695.4,901.2 697.8,901 700.1,900.9 702.4,900.7 704.8,900.5 707.1,900.2 709.5,900 711.8,899.7 714.1,899.4 716.5,899 718.8,898.6 721.2,898.1 723.5,897.6 725.8,896.9 728.2,896.2 730.5,895.3 732.9,894.2 735.2,892.9 737.5,891.3 739.9,889.3 742.2,887 744.6,884.2 746.9,880.8 749.2,876.9 751.6,872.3 753.9,867.1 756.3,861.4 758.6,855.2 760.9,848.8 763.3,842.7 765.6,837.4 768,833.5 770.3,831.8 772.7,832.6 775,835.6 777.3,840.4 779.7,846.3 782,852.7 784.4,859 786.7,865 789,870.4 791.4,875.3 793.7,879.5 796.1,883.1 798.4,886.2 800.7,888.7 803.1,890.9 805.4,892.6 807.8,894.1 810.1,895.3 812.4,896.3 814.8,897.2 817.1,897.9 819.5,898.5 821.8,899 824.1,899.5 826.5,899.9 828.8,900.3 831.2,900.6 833.5,900.9 835.8,901.1 838.2,901.4 840.5,901.6 842.9,901.8 845.2,902 847.5,902.2 849.9,902.3 852.2,902.5 854.6,902.6 856.9,902.7 859.3,902.9 861.6,903 863.9,903.1 866.3,903.2 868.6,903.3 871,903.4 873.3,903.4 875.6,903.5 878,903.6 880.3,903.7 882.7,903.7 885,903.8" fill="none" stroke="#2a20d8" stroke-width="1.8"/>
<path d="M510.5,902.7 512.8,902.7 515.2,902.7 517.5,902.7 519.9,902.8 522.2,902.8 524.5,902.8 526.9,902.8 529.2,902.8 531.6,902.8 533.9,902.8 536.2,902.8 538.6,902.8 540.9,902.8 543.3,902.9 545.6,902.9 548,902.9 550.3,902.9 552.6,902.9 555,902.9 557.3,902.9 559.7,902.9 562,902.9 564.3,902.9 566.7,902.9 569,902.9 571.4,902.9 573.7,902.9 576,902.9 578.4,903 580.7,903 583.1,903 585.4,903 587.7,903 590.1,903 592.4,903 594.8,903 597.1,902.9 599.4,902.9 601.8,902.9 604.1,902.9 606.5,902.9 608.8,902.9 611.1,902.8 613.5,902.8 615.8,902.7 618.2,902.6 620.5,902.6 622.9,902.4 625.2,902.3 627.5,902.2 629.9,902 632.2,901.8 634.6,901.5 636.9,901.2 639.2,900.9 641.6,900.5 643.9,900.1 646.3,899.6 648.6,899.1 650.9,898.6 653.3,898 655.6,897.3 658,896.7 660.3,896 662.6,895.4 665,894.7 667.3,894.1 669.7,893.5 672,892.9 674.3,892.5 676.7,892.1 679,891.9 681.4,891.7 683.7,891.7 686,891.9 688.4,892.1 690.7,892.5 693.1,893 695.4,893.5 697.8,894.1 700.1,894.8 702.4,895.5 704.8,896.2 707.1,896.9 709.5,897.5 711.8,898.2 714.1,898.8 716.5,899.4 718.8,900 721.2,900.5 723.5,900.9 725.8,901.3 728.2,901.7 730.5,902 732.9,902.3 735.2,902.6 737.5,902.8 739.9,903 742.2,903.1 744.6,903.3 746.9,903.4 749.2,903.5 751.6,903.6 753.9,903.6 756.3,903.7 758.6,903.8 760.9,903.8 763.3,903.9 765.6,903.9 768,903.9 770.3,904 772.7,904 775,904 777.3,904.1 779.7,904.1 782,904.1 784.4,904.2 786.7,904.2 789,904.2 791.4,904.2 793.7,904.2 796.1,904.3 798.4,904.3 800.7,904.3 803.1,904.3 805.4,904.4 807.8,904.4 810.1,904.4 812.4,904.4 814.8,904.4 817.1,904.4 819.5,904.5 821.8,904.5 824.1,904.5 826.5,904.5 828.8,904.5 831.2,904.6 833.5,904.6 835.8,904.6 838.2,904.6 840.5,904.6 842.9,904.6 845.2,904.7 847.5,904.7 849.9,904.7 852.2,904.7 854.6,904.7 856.9,904.7 859.3,904.8 861.6,904.8 863.9,904.8 866.3,904.8 868.6,904.8 871,904.8 873.3,904.9 875.6,904.9 878,904.9 880.3,904.9 882.7,904.9 885,904.9" fill="none" stroke="#10e0e8" stroke-width="1.8"/>
<path d="M510.5,902.8 512.8,902.8 515.2,902.8 517.5,902.8 519.9,902.8 522.2,902.9 524.5,902.9 526.9,902.9 529.2,902.9 531.6,902.9 533.9,902.9 536.2,902.9 538.6,903 540.9,903 543.3,903 545.6,903 548,903 550.3,903 552.6,903 555,903.1 557.3,903.1 559.7,903.1 562,903.1 564.3,903.1 566.7,903.1 569,903.1 571.4,903.1 573.7,903.2 576,903.2 578.4,903.2 580.7,903.2 583.1,903.2 585.4,903.2 587.7,903.2 590.1,903.3 592.4,903.3 594.8,903.3 597.1,903.3 599.4,903.3 601.8,903.3 604.1,903.3 606.5,903.3 608.8,903.4 611.1,903.4 613.5,903.4 615.8,903.4 618.2,903.4 620.5,903.4 622.9,903.4 625.2,903.5 627.5,903.5 629.9,903.5 632.2,903.5 634.6,903.5 636.9,903.5 639.2,903.5 641.6,903.5 643.9,903.5 646.3,903.6 648.6,903.6 650.9,903.6 653.3,903.6 655.6,903.6 658,903.6 660.3,903.6 662.6,903.6 665,903.5 667.3,903.5 669.7,903.5 672,903.4 674.3,903.4 676.7,903.3 679,903.2 681.4,903.1 683.7,902.9 686,902.8 688.4,902.6 690.7,902.4 693.1,902.2 695.4,902 697.8,901.8 700.1,901.6 702.4,901.3 704.8,901.1 707.1,900.9 709.5,900.8 711.8,900.7 714.1,900.6 716.5,900.5 718.8,900.5 721.2,900.6 723.5,900.7 725.8,900.8 728.2,901 730.5,901.2 732.9,901.4 735.2,901.6 737.5,901.9 739.9,902.1 742.2,902.4 744.6,902.6 746.9,902.8 749.2,903 751.6,903.2 753.9,903.4 756.3,903.6 758.6,903.7 760.9,903.8 763.3,903.9 765.6,904 768,904.1 770.3,904.1 772.7,904.2 775,904.2 777.3,904.3 779.7,904.3 782,904.3 784.4,904.3 786.7,904.4 789,904.4 791.4,904.4 793.7,904.4 796.1,904.4 798.4,904.5 800.7,904.5 803.1,904.5 805.4,904.5 807.8,904.5 810.1,904.5 812.4,904.6 814.8,904.6 817.1,904.6 819.5,904.6 821.8,904.6 824.1,904.6 826.5,904.6 828.8,904.7 831.2,904.7 833.5,904.7 835.8,904.7 838.2,904.7 840.5,904.7 842.9,904.7 845.2,904.8 847.5,904.8 849.9,904.8 852.2,904.8 854.6,904.8 856.9,904.8 859.3,904.8 861.6,904.9 863.9,904.9 866.3,904.9 868.6,904.9 871,904.9 873.3,904.9 875.6,904.9 878,905 880.3,905 882.7,905 885,905" fill="none" stroke="#8a2ad0" stroke-width="1.8"/>
<path d="M510.5,902.8 512.8,902.8 515.2,902.8 517.5,902.8 519.9,902.9 522.2,902.9 524.5,902.9 526.9,902.9 529.2,902.9 531.6,902.9 533.9,902.9 536.2,903 538.6,903 540.9,903 543.3,903 545.6,903 548,903 550.3,903 552.6,903 555,903.1 557.3,903.1 559.7,903.1 562,903.1 564.3,903.1 566.7,903.1 569,903.1 571.4,903.2 573.7,903.2 576,903.2 578.4,903.2 580.7,903.2 583.1,903.2 585.4,903.2 587.7,903.3 590.1,903.3 592.4,903.3 594.8,903.3 597.1,903.3 599.4,903.3 601.8,903.3 604.1,903.3 606.5,903.4 608.8,903.4 611.1,903.4 613.5,903.4 615.8,903.4 618.2,903.4 620.5,903.4 622.9,903.5 625.2,903.5 627.5,903.5 629.9,903.5 632.2,903.5 634.6,903.5 636.9,903.5 639.2,903.6 641.6,903.6 643.9,903.6 646.3,903.6 648.6,903.6 650.9,903.6 653.3,903.6 655.6,903.7 658,903.7 660.3,903.7 662.6,903.7 665,903.7 667.3,903.7 669.7,903.7 672,903.7 674.3,903.8 676.7,903.8 679,903.8 681.4,903.8 683.7,903.8 686,903.8 688.4,903.8 690.7,903.9 693.1,903.9 695.4,903.9 697.8,903.9 700.1,903.9 702.4,903.9 704.8,903.9 707.1,904 709.5,904 711.8,904 714.1,904 716.5,904 718.8,904 721.2,904 723.5,904.1 725.8,904.1 728.2,904.1 730.5,904.1 732.9,904.1 735.2,904.1 737.5,904.1 739.9,904.1 742.2,904.2 744.6,904.2 746.9,904.2 749.2,904.2 751.6,904.2 753.9,904.2 756.3,904.2 758.6,904.3 760.9,904.3 763.3,904.3 765.6,904.3 768,904.3 770.3,904.3 772.7,904.3 775,904.4 777.3,904.4 779.7,904.4 782,904.4 784.4,904.4 786.7,904.4 789,904.4 791.4,904.5 793.7,904.5 796.1,904.5 798.4,904.5 800.7,904.5 803.1,904.5 805.4,904.5 807.8,904.5 810.1,904.6 812.4,904.6 814.8,904.6 817.1,904.6 819.5,904.6 821.8,904.6 824.1,904.6 826.5,904.7 828.8,904.7 831.2,904.7 833.5,904.7 835.8,904.7 838.2,904.7 840.5,904.7 842.9,904.8 845.2,904.8 847.5,904.8 849.9,904.8 852.2,904.8 854.6,904.8 856.9,904.8 859.3,904.8 861.6,904.9 863.9,904.9 866.3,904.9 868.6,904.9 871,904.9 873.3,904.9 875.6,904.9 878,905 880.3,905 882.7,905 885,905" fill="none" stroke="#ff22d8" stroke-width="2.2"/>
</g>
<text x="521.3" y="592.3" font-size="12.8">CeO<tspan font-size="6.7" dy="5">2</tspan><tspan dy="-5">-H550</tspan></text>
<text x="519.7" y="689.8" font-size="12.8">CeO<tspan font-size="6.7" dy="5">2</tspan><tspan dy="-5">-H550-O350</tspan></text>
<text x="520.2" y="778.9" font-size="12.8">CeO<tspan font-size="6.7" dy="5">2</tspan><tspan dy="-5">-H550-O450</tspan></text>
<text x="522.3" y="877.3" font-size="12.8">CeO<tspan font-size="6.7" dy="5">2</tspan><tspan dy="-5">-H550-O550</tspan></text>
<text x="521.5" y="536.0" font-size="22" text-anchor="start" >D</text>
<line x1="675.5" y1="594.5" x2="675.5" y2="569.0" stroke="#222" stroke-width="1.0"/>
<path d="M675.5,561.0 L672.9,570.0 L678.1,570.0 Z" fill="#111"/>
<line x1="715.0" y1="596.7" x2="715.0" y2="571.7" stroke="#222" stroke-width="1.0"/>
<path d="M715.0,563.7 L712.4,572.7 L717.6,572.7 Z" fill="#111"/>
<line x1="773.0" y1="555.0" x2="783.4" y2="555.0" stroke="#222" stroke-width="1.0"/>
<path d="M791.4,555.0 L782.4,552.4 L782.4,557.6 Z" fill="#111"/>
<rect x="510.3" y="511.3" width="374.8" height="404.7" fill="none" stroke="#2b2b2b" stroke-width="1.9"/>
<line x1="510.5" y1="916.0" x2="510.5" y2="923.0" stroke="#1a1a1a" stroke-width="1.7"/>
<text x="510.5" y="939.0" font-size="14" text-anchor="middle" >536</text>
<line x1="585.4" y1="916.0" x2="585.4" y2="923.0" stroke="#1a1a1a" stroke-width="1.7"/>
<text x="585.4" y="939.0" font-size="14" text-anchor="middle" >534</text>
<line x1="660.3" y1="916.0" x2="660.3" y2="923.0" stroke="#1a1a1a" stroke-width="1.7"/>
<text x="660.3" y="939.0" font-size="14" text-anchor="middle" >532</text>
<line x1="735.2" y1="916.0" x2="735.2" y2="923.0" stroke="#1a1a1a" stroke-width="1.7"/>
<text x="735.2" y="939.0" font-size="14" text-anchor="middle" >530</text>
<line x1="810.1" y1="916.0" x2="810.1" y2="923.0" stroke="#1a1a1a" stroke-width="1.7"/>
<text x="810.1" y="939.0" font-size="14" text-anchor="middle" >528</text>
<line x1="885.0" y1="916.0" x2="885.0" y2="923.0" stroke="#1a1a1a" stroke-width="1.7"/>
<text x="885.0" y="939.0" font-size="14" text-anchor="middle" >526</text>
<text x="619.0" y="959.7" font-size="20.5" text-anchor="start" >Binding Enenrgy(eV)</text>
<text x="0" y="0" font-size="20.8" text-anchor="middle" transform="translate(497.9,716.3) rotate(-90)">Intensity(a.u)</text>
<text x="669.7" y="539.3" font-size="20">O<tspan font-size="10.5">C</tspan></text>
<text x="709.0" y="553.3" font-size="20">O<tspan font-size="10.5">V</tspan></text>
<text x="796.8" y="544.2" font-size="20">O<tspan font-size="10.5">L</tspan></text>
<g clip-path="url(#clipE)">
<path d="M41.2,1080.7 42.9,1080.7 44.6,1080.6 46.3,1080.6 48,1080.5 49.7,1080.4 51.4,1080.3 53.1,1080.1 54.8,1079.9 56.5,1079.7 58.2,1079.3 59.9,1078.8 61.6,1078 63.3,1077 65.1,1075.4 66.8,1073.3 68.5,1070.5 70.2,1067 71.9,1062.8 73.6,1058.3 75.3,1053.9 77,1050.5 78.7,1049.1 80.4,1050.2 82.1,1053.7 83.8,1058.5 85.5,1063.8 87.2,1068.8 88.9,1073.1 90.6,1076.6 92.3,1079.4 94.1,1081.4 95.8,1082.9 97.5,1084 99.2,1084.7 100.9,1085.3 102.6,1085.7 104.3,1086 106,1086.3 107.7,1086.5 109.4,1086.7 111.1,1086.9 112.8,1087 114.5,1087.1 116.2,1087.2 117.9,1087.3 119.6,1087.4 121.4,1087.5 123.1,1087.5 124.8,1087.6 126.5,1087.6 128.2,1087.6 129.9,1087.5 131.6,1087.4 133.3,1087.3 135,1087.1 136.7,1086.9 138.4,1086.5 140.1,1086.1 141.8,1085.6 143.5,1085 145.2,1084.4 146.9,1083.7 148.6,1082.9 150.4,1082.1 152.1,1081.4 153.8,1080.8 155.5,1080.3 157.2,1080.1 158.9,1080 160.6,1080.3 162.3,1080.7 164,1081.4 165.7,1082.1 167.4,1082.9 169.1,1083.7 170.8,1084.5 172.5,1085.2 174.2,1085.7 175.9,1086.1 177.6,1086.4 179.4,1086.5 181.1,1086.5 182.8,1086.4 184.5,1086.1 186.2,1085.8 187.9,1085.5 189.6,1085.1 191.3,1084.7 193,1084.4 194.7,1084 196.4,1083.7 198.1,1083.4 199.8,1082.9 201.5,1082.2 203.2,1081 204.9,1079.1 206.7,1076.4 208.4,1072.7 210.1,1068.3 211.8,1063.9 213.5,1061.1 215.2,1061.4 216.9,1064.7 218.6,1069.4 220.3,1073.7 222,1076.7 223.7,1077.7 225.4,1076.9 227.1,1074 228.8,1069.3 230.5,1063.2 232.2,1056.6 233.9,1051.1 235.7,1048.6 237.4,1050.8 239.1,1057 240.8,1065.2 242.5,1073.6 244.2,1081.1 245.9,1087.2 247.6,1091.9 249.3,1095.4 251,1098 252.7,1099.9 254.4,1101.5 256.1,1102.7 257.8,1103.7 259.5,1104.7 261.2,1105.6 262.9,1106.4 264.7,1107.1 266.4,1107.7 268.1,1108.2 269.8,1108.6 271.5,1108.8 273.2,1108.9 274.9,1108.8 276.6,1108.6 278.3,1108.3 280,1108 281.7,1107.6 283.4,1107.2 285.1,1106.8 286.8,1106.4 288.5,1106 290.2,1105.6 292,1105.1 293.7,1104.6 295.4,1104.1 297.1,1103.4 298.8,1102.6 300.5,1101.7 302.2,1100.7 303.9,1099.6 305.6,1098.4 307.3,1097.2 309,1096.1 310.7,1095 312.4,1094.2 314.1,1093.6 315.8,1093.4 317.5,1093.6 319.2,1094 321,1094.8 322.7,1095.7 324.4,1096.7 326.1,1097.7 327.8,1098.7 329.5,1099.4 331.2,1100 332.9,1100.4 334.6,1100.5 336.3,1100.5 338,1100.2 339.7,1099.7 341.4,1099.1 343.1,1098.4 344.8,1097.7 346.5,1097.1 348.2,1096.5 350,1095.9 351.7,1095.5 353.4,1095 355.1,1094.4 356.8,1093.4 358.5,1091.9 360.2,1089.6 361.9,1086.6 363.6,1082.7 365.3,1078.2 367,1073.6 368.7,1069.8 370.4,1068.1 372.1,1069.4 373.8,1073.7 375.5,1080.1 377.3,1087.1 379,1093.9 380.7,1099.8 382.4,1104.9 384.1,1108.9 385.8,1112.1 387.5,1114.5 389.2,1116.4 390.9,1117.8 392.6,1118.9 394.3,1119.8 396,1120.5 397.7,1121 399.4,1121.5 401.1,1122 402.8,1122.3 404.5,1122.7 406.3,1123 408,1123.2 409.7,1123.5 411.4,1123.7 413.1,1123.9 414.8,1124 416.5,1124.2" fill="none" stroke="#111" stroke-width="2.0" stroke-linejoin="round"/>
<path d="M41.2,1080.7 42.9,1080.7 44.6,1080.6 46.3,1080.5 48,1080.4 49.7,1080.3 51.4,1080.2 53.1,1080 54.8,1079.8 56.5,1079.4 58.2,1079 59.9,1078.3 61.6,1077.3 63.3,1075.9 65.1,1074 66.8,1071.3 68.5,1068 70.2,1064 71.9,1059.4 73.6,1054.9 75.3,1051.1 77,1049 78.7,1049.5 80.4,1052.5 82.1,1057.2 83.8,1062.5 85.5,1067.6 87.2,1072.2 88.9,1075.9 90.6,1078.8 92.3,1081 94.1,1082.6 95.8,1083.8 97.5,1084.6 99.2,1085.2 100.9,1085.6 102.6,1086 104.3,1086.2 106,1086.5 107.7,1086.7 109.4,1086.8 111.1,1087 112.8,1087.1 114.5,1087.2 116.2,1087.3 117.9,1087.4 119.6,1087.5 121.4,1087.5 123.1,1087.6 124.8,1087.6 126.5,1087.6 128.2,1087.5 129.9,1087.5 131.6,1087.4 133.3,1087.2 135,1086.9 136.7,1086.6 138.4,1086.2 140.1,1085.8 141.8,1085.2 143.5,1084.6 145.2,1083.8 146.9,1083.1 148.6,1082.3 150.4,1081.6 152.1,1080.9 153.8,1080.4 155.5,1080.1 157.2,1080 158.9,1080.2 160.6,1080.6 162.3,1081.2 164,1081.9 165.7,1082.7 167.4,1083.5 169.1,1084.3 170.8,1085 172.5,1085.6 174.2,1086 175.9,1086.3 177.6,1086.5 179.4,1086.5 181.1,1086.4 182.8,1086.2 184.5,1085.9 186.2,1085.6 187.9,1085.2 189.6,1084.8 191.3,1084.5 193,1084.1 194.7,1083.8 196.4,1083.5 198.1,1083.1 199.8,1082.5 201.5,1081.4 203.2,1079.8 204.9,1077.3 206.7,1073.8 208.4,1069.4 210.1,1064.8 211.8,1061.3 213.5,1060.7 215.2,1063.6 216.9,1068.3 218.6,1072.9 220.3,1076.3 222,1077.8 223.7,1077.5 225.4,1075.1 227.1,1070.8 228.8,1064.9 230.5,1058.2 232.2,1051.9 233.9,1048.4 235.7,1049.4 237.4,1054.9 239.1,1063.1 240.8,1071.6 242.5,1079.4 244.2,1085.8 245.9,1090.7 247.6,1094.4 249.3,1097.1 251,1099 252.7,1100.3 254.4,1101.3 256.1,1102 257.8,1102.6 259.5,1103.1 261.2,1103.5 262.9,1103.8 264.7,1104.1 266.4,1104.4 268.1,1104.6 269.8,1104.8 271.5,1104.9 273.2,1105.1 274.9,1105.2 276.6,1105.3 278.3,1105.4 280,1105.4 281.7,1105.4 283.4,1105.4 285.1,1105.4 286.8,1105.3 288.5,1105.1 290.2,1104.8 292,1104.5 293.7,1104 295.4,1103.5 297.1,1102.8 298.8,1101.9 300.5,1100.9 302.2,1099.9 303.9,1098.7 305.6,1097.5 307.3,1096.3 309,1095.3 310.7,1094.4 312.4,1093.7 314.1,1093.4 315.8,1093.4 317.5,1093.9 319.2,1094.6 321,1095.5 322.7,1096.5 324.4,1097.5 326.1,1098.5 327.8,1099.3 329.5,1099.9 331.2,1100.4 332.9,1100.6 334.6,1100.5 336.3,1100.3 338,1099.9 339.7,1099.3 341.4,1098.6 343.1,1097.9 344.8,1097.2 346.5,1096.6 348.2,1096.1 350,1095.6 351.7,1095.2 353.4,1094.6 355.1,1093.7 356.8,1092.4 358.5,1090.3 360.2,1087.5 361.9,1083.8 363.6,1079.4 365.3,1074.7 367,1070.4 368.7,1068 370.4,1068.5 372.1,1072.2 373.8,1078.3 375.5,1085.4 377.3,1092.3 379,1098.5 380.7,1103.8 382.4,1108.1 384.1,1111.4 385.8,1114 387.5,1116 389.2,1117.5 390.9,1118.7 392.6,1119.6 394.3,1120.3 396,1120.9 397.7,1121.4 399.4,1121.9 401.1,1122.2 402.8,1122.6 404.5,1122.9 406.3,1123.2 408,1123.4 409.7,1123.6 411.4,1123.8 413.1,1124 414.8,1124.2 416.5,1124.3" fill="none" stroke="#f01820" stroke-width="2.4" stroke-linejoin="round"/>
<path d="M162.3,1090.8 164,1090.9 165.7,1090.9 167.4,1090.9 169.1,1090.9 170.8,1090.8 172.5,1090.7 174.2,1090.5 175.9,1090.3 177.6,1090 179.4,1089.7 181.1,1089.4 182.8,1089.1 184.5,1088.7 186.2,1088.4 187.9,1088.1 189.6,1087.9 191.3,1087.8 193,1087.7 194.7,1087.8 196.4,1088 198.1,1088.4 199.8,1088.9 201.5,1089.4 203.2,1090 204.9,1090.7 206.7,1091.4 208.4,1092.2 210.1,1093 211.8,1093.8 213.5,1094.7 215.2,1095.5 216.9,1096.3 218.6,1096.9 220.3,1097.5 222,1098 223.7,1098.5 225.4,1098.9 227.1,1099.3" fill="none" stroke="#1c1c8c" stroke-width="2.0"/>
<path d="M174.2,1091.8 175.9,1091.8 177.6,1091.9 179.4,1091.9 181.1,1092 182.8,1092 184.5,1092 186.2,1092 187.9,1092 189.6,1091.9 191.3,1091.8 193,1091.7 194.7,1091.5 196.4,1091.2 198.1,1090.7 199.8,1089.9 201.5,1088.6 203.2,1086.7 204.9,1083.9 206.7,1080.2 208.4,1075.6 210.1,1070.8 211.8,1067.3 213.5,1066.8 215.2,1070 216.9,1075.3 218.6,1080.8 220.3,1085.7 222,1089.5 223.7,1092.3 225.4,1094.4 227.1,1096 228.8,1097.2 230.5,1098.3 232.2,1099.3 233.9,1100.3 235.7,1101.2 237.4,1102.2 239.1,1103 240.8,1103.7 242.5,1104.3 244.2,1104.8 245.9,1105.1 247.6,1105.4 249.3,1105.7 251,1105.9" fill="none" stroke="#00e8f0" stroke-width="2.0"/>
<path d="M179.4,1092.1 181.1,1092.2 182.8,1092.2 184.5,1092.3 186.2,1092.4 187.9,1092.5 189.6,1092.5 191.3,1092.6 193,1092.7 194.7,1092.8 196.4,1092.8 198.1,1092.9 199.8,1093 201.5,1093 203.2,1093 204.9,1093.1 206.7,1093.1 208.4,1093.2 210.1,1093.2 211.8,1093.3 213.5,1093.3 215.2,1093.2 216.9,1092.8 218.6,1092.1 220.3,1090.7 222,1088.7 223.7,1085.6 225.4,1081.3 227.1,1075.8 228.8,1069 230.5,1061.6 232.2,1054.9 233.9,1051 235.7,1051.8 237.4,1057.1 239.1,1065 240.8,1073.5 242.5,1081.1 244.2,1087.4 245.9,1092.3 247.6,1095.9 249.3,1098.5 251,1100.3 252.7,1101.6 254.4,1102.6 256.1,1103.3 257.8,1103.9 259.5,1104.3 261.2,1104.7 262.9,1105.1 264.7,1105.4 266.4,1105.6 268.1,1105.9 269.8,1106.1 271.5,1106.2 273.2,1106.4 274.9,1106.6 276.6,1106.7 278.3,1106.8 280,1107 281.7,1107.1 283.4,1107.2 285.1,1107.3 286.8,1107.4 288.5,1107.5 290.2,1107.6" fill="none" stroke="#8c8a10" stroke-width="2.0"/>
<path d="M280,1107.3 281.7,1107.2 283.4,1107.2 285.1,1107.1 286.8,1107 288.5,1106.8 290.2,1106.6 292,1106.2 293.7,1105.8 295.4,1105.2 297.1,1104.5 298.8,1103.7 300.5,1102.8 302.2,1101.7 303.9,1100.6 305.6,1099.5 307.3,1098.4 309,1097.5 310.7,1096.7 312.4,1096.2 314.1,1096 315.8,1096.3 317.5,1096.9 319.2,1097.9 321,1099.2 322.7,1100.6 324.4,1102.1 326.1,1103.6 327.8,1105 329.5,1106.4 331.2,1107.7 332.9,1108.8 334.6,1109.7 336.3,1110.6 338,1111.3 339.7,1111.9 341.4,1112.5 343.1,1112.9 344.8,1113.4 346.5,1113.8 348.2,1114.1 350,1114.5" fill="none" stroke="#f5e800" stroke-width="2.0"/>
<path d="M293.7,1107.8 295.4,1107.8 297.1,1107.9 298.8,1108 300.5,1108 302.2,1108.1 303.9,1108.2 305.6,1108.3 307.3,1108.4 309,1108.5 310.7,1108.7 312.4,1108.8 314.1,1108.9 315.8,1108.9 317.5,1109 319.2,1109 321,1109 322.7,1108.9 324.4,1108.7 326.1,1108.4 327.8,1108.1 329.5,1107.7 331.2,1107.1 332.9,1106.6 334.6,1105.9 336.3,1105.2 338,1104.4 339.7,1103.7 341.4,1102.9 343.1,1102.3 344.8,1101.8 346.5,1101.5 348.2,1101.5 350,1101.8 351.7,1102.4 353.4,1103.2 355.1,1104.2 356.8,1105.4 358.5,1106.7 360.2,1108.1 361.9,1109.4 363.6,1110.8 365.3,1112.2 367,1113.6 368.7,1115 370.4,1116.3 372.1,1117.6 373.8,1118.7 375.5,1119.7 377.3,1120.6 379,1121.3 380.7,1121.9 382.4,1122.4 384.1,1122.8 385.8,1123.2 387.5,1123.4 389.2,1123.7 390.9,1123.9 392.6,1124.1 394.3,1124.3 396,1124.4 397.7,1124.5 399.4,1124.7 401.1,1124.8 402.8,1124.9 404.5,1125" fill="none" stroke="#ff2ce0" stroke-width="2.0"/>
<path d="M305.6,1108.6 307.3,1108.8 309,1109 310.7,1109.1 312.4,1109.3 314.1,1109.5 315.8,1109.8 317.5,1110 319.2,1110.1 321,1110.3 322.7,1110.5 324.4,1110.7 326.1,1110.8 327.8,1110.9 329.5,1111 331.2,1111.1 332.9,1111.1 334.6,1111.2 336.3,1111.2 338,1111.2 339.7,1111.1 341.4,1111.1 343.1,1111 344.8,1110.8 346.5,1110.6 348.2,1110.2 350,1109.7 351.7,1108.9 353.4,1107.7 355.1,1106.1 356.8,1103.8 358.5,1100.8 360.2,1097 361.9,1092.3 363.6,1087 365.3,1081.3 367,1076.3 368.7,1073.1 370.4,1073 372.1,1076.2 373.8,1081.8 375.5,1088.4 377.3,1095 379,1100.9 380.7,1105.9 382.4,1110 384.1,1113.1 385.8,1115.6 387.5,1117.4 389.2,1118.8 390.9,1119.9 392.6,1120.7 394.3,1121.4 396,1121.9 397.7,1122.4 399.4,1122.8 401.1,1123.1 402.8,1123.4 404.5,1123.7 406.3,1123.9 408,1124.1 409.7,1124.3 411.4,1124.5 413.1,1124.6 414.8,1124.8 416.5,1124.9" fill="none" stroke="#2222e6" stroke-width="2.0"/>
<path d="M41.2,1081.8 42.9,1081.8 44.6,1081.9 46.3,1081.9 48,1082 49.7,1082 51.4,1082.1 53.1,1082.1 54.8,1082.2 56.5,1082.3 58.2,1082.3 59.9,1082.4 61.6,1082.5 63.3,1082.6 65.1,1082.7 66.8,1082.9 68.5,1083 70.2,1083.3 71.9,1083.5 73.6,1083.9 75.3,1084.3 77,1084.8 78.7,1085.3 80.4,1085.8 82.1,1086.2 83.8,1086.7 85.5,1087 87.2,1087.3 88.9,1087.5 90.6,1087.7 92.3,1087.8 94.1,1088 95.8,1088.1 97.5,1088.2 99.2,1088.2 100.9,1088.3 102.6,1088.4 104.3,1088.4 106,1088.5 107.7,1088.5 109.4,1088.6 111.1,1088.7 112.8,1088.7 114.5,1088.8 116.2,1088.8 117.9,1088.9 119.6,1088.9 121.4,1089 123.1,1089 124.8,1089.1 126.5,1089.1 128.2,1089.2 129.9,1089.2 131.6,1089.3 133.3,1089.3 135,1089.4 136.7,1089.4 138.4,1089.5 140.1,1089.6 141.8,1089.6 143.5,1089.7 145.2,1089.8 146.9,1089.9 148.6,1090.1 150.4,1090.2 152.1,1090.3 153.8,1090.5 155.5,1090.7 157.2,1090.8 158.9,1091 160.6,1091.2 162.3,1091.3 164,1091.5 165.7,1091.7 167.4,1091.8 169.1,1091.9 170.8,1092.1 172.5,1092.2 174.2,1092.3 175.9,1092.4 177.6,1092.5 179.4,1092.7 181.1,1092.8 182.8,1092.9 184.5,1093 186.2,1093.1 187.9,1093.2 189.6,1093.4 191.3,1093.5 193,1093.7 194.7,1093.8 196.4,1094 198.1,1094.2 199.8,1094.3 201.5,1094.5 203.2,1094.7 204.9,1095 206.7,1095.2 208.4,1095.5 210.1,1095.9 211.8,1096.3 213.5,1096.8 215.2,1097.3 216.9,1097.8 218.6,1098.2 220.3,1098.6 222,1098.9 223.7,1099.2 225.4,1099.5 227.1,1099.9 228.8,1100.3 230.5,1100.8 232.2,1101.4 233.9,1102.1 235.7,1102.8 237.4,1103.5 239.1,1104.2 240.8,1104.8 242.5,1105.3 244.2,1105.6 245.9,1105.9 247.6,1106.1 249.3,1106.3 251,1106.5 252.7,1106.6 254.4,1106.7 256.1,1106.8 257.8,1106.9 259.5,1107 261.2,1107.1 262.9,1107.2 264.7,1107.2 266.4,1107.3 268.1,1107.4 269.8,1107.4 271.5,1107.5 273.2,1107.6 274.9,1107.6 276.6,1107.7 278.3,1107.8 280,1107.8 281.7,1107.9 283.4,1107.9 285.1,1108 286.8,1108.1 288.5,1108.1 290.2,1108.2 292,1108.3 293.7,1108.4 295.4,1108.4 297.1,1108.5 298.8,1108.7 300.5,1108.8 302.2,1108.9 303.9,1109.1 305.6,1109.2 307.3,1109.4 309,1109.6 310.7,1109.8 312.4,1110.1 314.1,1110.3 315.8,1110.6 317.5,1110.8 319.2,1111.1 321,1111.3 322.7,1111.5 324.4,1111.8 326.1,1112 327.8,1112.2 329.5,1112.4 331.2,1112.6 332.9,1112.8 334.6,1113 336.3,1113.2 338,1113.4 339.7,1113.6 341.4,1113.8 343.1,1114 344.8,1114.3 346.5,1114.5 348.2,1114.8 350,1115.1 351.7,1115.4 353.4,1115.7 355.1,1116 356.8,1116.3 358.5,1116.6 360.2,1117 361.9,1117.4 363.6,1117.9 365.3,1118.4 367,1119 368.7,1119.7 370.4,1120.4 372.1,1121.1 373.8,1121.8 375.5,1122.4 377.3,1122.9 379,1123.4 380.7,1123.7 382.4,1124 384.1,1124.2 385.8,1124.4 387.5,1124.6 389.2,1124.8 390.9,1124.9 392.6,1125 394.3,1125.1 396,1125.2 397.7,1125.3 399.4,1125.4 401.1,1125.4 402.8,1125.5 404.5,1125.6 406.3,1125.6 408,1125.7 409.7,1125.8 411.4,1125.8 413.1,1125.9 414.8,1125.9 416.5,1126" fill="none" stroke="#7a1414" stroke-width="1.9"/>
<path d="M41.2,1081.8 42.9,1081.8 44.6,1081.9 46.3,1081.9 48,1081.9 49.7,1082 51.4,1082 53.1,1082.1 54.8,1082.2 56.5,1082.2 58.2,1082.3 59.9,1082.4 61.6,1082.4 63.3,1082.5 65.1,1082.7 66.8,1082.8 68.5,1083 70.2,1083.2 71.9,1083.5 73.6,1083.8 75.3,1084.2 77,1084.7 78.7,1085.2 80.4,1085.7 82.1,1086.2 83.8,1086.6 85.5,1086.9 87.2,1087.2 88.9,1087.4 90.6,1087.6 92.3,1087.7 94.1,1087.9 95.8,1087.9 97.5,1088 99.2,1088.1 100.9,1088.2 102.6,1088.2 104.3,1088.3 106,1088.3 107.7,1088.4 109.4,1088.4 111.1,1088.4 112.8,1088.5 114.5,1088.5 116.2,1088.5 117.9,1088.6 119.6,1088.6 121.4,1088.6 123.1,1088.6 124.8,1088.6 126.5,1088.6 128.2,1088.5 129.9,1088.4 131.6,1088.3 133.3,1088.1 135,1087.9 136.7,1087.6 138.4,1087.2 140.1,1086.7 141.8,1086.2 143.5,1085.5 145.2,1084.9 146.9,1084.1 148.6,1083.4 150.4,1082.7 152.1,1082 153.8,1081.6 155.5,1081.3 157.2,1081.3 158.9,1081.5 160.6,1082 162.3,1082.7 164,1083.6 165.7,1084.5 167.4,1085.5 169.1,1086.5 170.8,1087.5 172.5,1088.4 174.2,1089.2 175.9,1089.9 177.6,1090.5 179.4,1091 181.1,1091.5 182.8,1091.8 184.5,1092.1 186.2,1092.4 187.9,1092.7" fill="none" stroke="#9a2a9e" stroke-width="2.0"/>
<path d="M54.8,1080 56.5,1079.6 58.2,1079.2 59.9,1078.5 61.6,1077.5 63.3,1076.2 65.1,1074.2 66.8,1071.6 68.5,1068.3 70.2,1064.2 71.9,1059.7 73.6,1055.2 75.3,1051.3 77,1049.3 78.7,1049.8 80.4,1052.8 82.1,1057.5 83.8,1062.8 85.5,1068 87.2,1072.5 88.9,1076.3 90.6,1079.2 92.3,1081.4 94.1,1083 95.8,1084.2 97.5,1085 99.2,1085.6 100.9,1086.1" fill="none" stroke="#8b0f14" stroke-width="2.3"/>
<path d="M41.2,1162.1 42.9,1161 44.6,1160.7 46.3,1159 48,1160.2 49.7,1160 51.4,1160.1 53.1,1159.5 54.8,1159.7 56.5,1159 58.2,1157.9 59.9,1159 61.6,1158.1 63.3,1157.4 65.1,1154.2 66.8,1151.3 68.5,1147.7 70.2,1142.7 71.9,1139.6 73.6,1132.4 75.3,1127 77,1123.6 78.7,1123.2 80.4,1123.6 82.1,1126.7 83.8,1132.9 85.5,1140.3 87.2,1145.7 88.9,1150.5 90.6,1155.2 92.3,1159.4 94.1,1162.8 95.8,1162.1 97.5,1163.8 99.2,1164.6 100.9,1164 102.6,1165.7 104.3,1166 106,1168.1 107.7,1167.3 109.4,1166.4 111.1,1168.4 112.8,1167.7 114.5,1166.8 116.2,1167.8 117.9,1167.9 119.6,1167.8 121.4,1168.6 123.1,1166.8 124.8,1168.4 126.5,1169.5 128.2,1169.3 129.9,1169.5 131.6,1169.4 133.3,1169.5 135,1167.2 136.7,1168.4 138.4,1165.8 140.1,1166.3 141.8,1164.6 143.5,1166.2 145.2,1165.6 146.9,1163.4 148.6,1164 150.4,1161 152.1,1160.8 153.8,1160 155.5,1158.4 157.2,1159.2 158.9,1160.4 160.6,1158.3 162.3,1160.4 164,1160.4 165.7,1162.9 167.4,1162.9 169.1,1164.1 170.8,1165.1 172.5,1165.6 174.2,1165 175.9,1167.8 177.6,1165.9 179.4,1167.4 181.1,1167.7 182.8,1166.4 184.5,1166.9 186.2,1167.4 187.9,1166 189.6,1164.8 191.3,1162.8 193,1163.9 194.7,1163.8 196.4,1163.4 198.1,1162.7 199.8,1163.2 201.5,1161.5 203.2,1160.4 204.9,1158.8 206.7,1154.2 208.4,1150.1 210.1,1146.6 211.8,1140.2 213.5,1135.1 215.2,1136.4 216.9,1141 218.6,1147.3 220.3,1151.7 222,1154.7 223.7,1156 225.4,1156.1 227.1,1152.4 228.8,1146.2 230.5,1139.2 232.2,1131.1 233.9,1125.3 235.7,1121.3 237.4,1124.7 239.1,1132.4 240.8,1142 242.5,1150.9 244.2,1161.6 245.9,1167.2 247.6,1173.7 249.3,1177 251,1179.3 252.7,1183.1 254.4,1184.9 256.1,1186 257.8,1187.5 259.5,1187.8 261.2,1188.7 262.9,1190.1 264.7,1192.5 266.4,1192.3 268.1,1191.8 269.8,1193.1 271.5,1192.5 273.2,1192.6 274.9,1193.6 276.6,1192.3 278.3,1191.1 280,1191.4 281.7,1191.8 283.4,1191.4 285.1,1191.9 286.8,1189.9 288.5,1190.7 290.2,1190 292,1189 293.7,1189.2 295.4,1188.2 297.1,1186.3 298.8,1186.9 300.5,1184 302.2,1183.8 303.9,1182.3 305.6,1181.2 307.3,1178.8 309,1178 310.7,1176.6 312.4,1176.5 314.1,1174.4 315.8,1174.8 317.5,1174.7 319.2,1174.4 321,1178.5 322.7,1177.4 324.4,1177.6 326.1,1181.1 327.8,1180.3 329.5,1182.4 331.2,1183.5 332.9,1182.7 334.6,1183.1 336.3,1182.9 338,1182.9 339.7,1181.1 341.4,1180.7 343.1,1180.7 344.8,1180.8 346.5,1179.7 348.2,1179.8 350,1178.3 351.7,1176.8 353.4,1176.5 355.1,1174.2 356.8,1173.9 358.5,1172 360.2,1170.3 361.9,1166.9 363.6,1161.2 365.3,1155.7 367,1149.3 368.7,1145.9 370.4,1144.1 372.1,1145.8 373.8,1150 375.5,1159.8 377.3,1167.7 379,1174.8 380.7,1181.7 382.4,1187.9 384.1,1193.2 385.8,1196.9 387.5,1200.2 389.2,1202.7 390.9,1204.9 392.6,1206.1 394.3,1206.1 396,1207.3 397.7,1207.4 399.4,1207.9 401.1,1210.4 402.8,1208.9 404.5,1211.3 406.3,1209.7 408,1210.5 409.7,1211.5 411.4,1210.9 413.1,1211.4 414.8,1211.1 416.5,1211.2" fill="none" stroke="#111" stroke-width="2.0" stroke-linejoin="round"/>
<path d="M41.2,1160.7 42.9,1160.6 44.6,1160.5 46.3,1160.4 48,1160.3 49.7,1160.2 51.4,1160 53.1,1159.8 54.8,1159.5 56.5,1159.1 58.2,1158.5 59.9,1157.7 61.6,1156.5 63.3,1154.8 65.1,1152.4 66.8,1149.2 68.5,1145.1 70.2,1140.2 71.9,1134.7 73.6,1129.1 75.3,1124.4 77,1121.9 78.7,1122.5 80.4,1126.1 82.1,1131.8 83.8,1138.3 85.5,1144.5 87.2,1150 88.9,1154.5 90.6,1158.1 92.3,1160.8 94.1,1162.7 95.8,1164.1 97.5,1165.1 99.2,1165.8 100.9,1166.3 102.6,1166.8 104.3,1167.1 106,1167.4 107.7,1167.6 109.4,1167.8 111.1,1168 112.8,1168.1 114.5,1168.3 116.2,1168.4 117.9,1168.5 119.6,1168.5 121.4,1168.6 123.1,1168.6 124.8,1168.7 126.5,1168.7 128.2,1168.6 129.9,1168.5 131.6,1168.4 133.3,1168.1 135,1167.8 136.7,1167.4 138.4,1166.9 140.1,1166.3 141.8,1165.6 143.5,1164.7 145.2,1163.8 146.9,1162.8 148.6,1161.8 150.4,1160.9 152.1,1160 153.8,1159.3 155.5,1158.9 157.2,1158.8 158.9,1159 160.6,1159.5 162.3,1160.3 164,1161.2 165.7,1162.3 167.4,1163.3 169.1,1164.3 170.8,1165.2 172.5,1166 174.2,1166.6 175.9,1167 177.6,1167.2 179.4,1167.2 181.1,1167.1 182.8,1166.9 184.5,1166.5 186.2,1166.1 187.9,1165.7 189.6,1165.2 191.3,1164.8 193,1164.3 194.7,1164 196.4,1163.6 198.1,1163.1 199.8,1162.3 201.5,1161 203.2,1159 204.9,1155.9 206.7,1151.7 208.4,1146.3 210.1,1140.6 211.8,1136.3 213.5,1135.6 215.2,1139.1 216.9,1144.9 218.6,1150.5 220.3,1154.7 222,1156.7 223.7,1156.3 225.4,1153.4 227.1,1148.3 228.8,1141.3 230.5,1133.3 232.2,1125.8 233.9,1121.5 235.7,1122.7 237.4,1129.3 239.1,1139 240.8,1149.2 242.5,1158.5 244.2,1166.1 245.9,1172.1 247.6,1176.5 249.3,1179.6 251,1181.9 252.7,1183.5 254.4,1184.7 256.1,1185.5 257.8,1186.3 259.5,1186.8 261.2,1187.3 262.9,1187.7 264.7,1188 266.4,1188.3 268.1,1188.6 269.8,1188.8 271.5,1189 273.2,1189.2 274.9,1189.3 276.6,1189.4 278.3,1189.5 280,1189.6 281.7,1189.6 283.4,1189.6 285.1,1189.5 286.8,1189.4 288.5,1189.1 290.2,1188.8 292,1188.4 293.7,1187.8 295.4,1187.1 297.1,1186.3 298.8,1185.2 300.5,1184 302.2,1182.7 303.9,1181.3 305.6,1179.8 307.3,1178.3 309,1177 310.7,1175.9 312.4,1175.1 314.1,1174.7 315.8,1174.8 317.5,1175.2 319.2,1176.1 321,1177.2 322.7,1178.4 324.4,1179.7 326.1,1180.9 327.8,1181.9 329.5,1182.7 331.2,1183.2 332.9,1183.4 334.6,1183.4 336.3,1183.1 338,1182.6 339.7,1181.9 341.4,1181.1 343.1,1180.2 344.8,1179.4 346.5,1178.6 348.2,1177.9 350,1177.4 351.7,1176.8 353.4,1176.1 355.1,1175.1 356.8,1173.4 358.5,1170.9 360.2,1167.5 361.9,1163 363.6,1157.6 365.3,1151.9 367,1146.7 368.7,1143.7 370.4,1144.3 372.1,1148.8 373.8,1156.1 375.5,1164.6 377.3,1173 379,1180.5 380.7,1186.9 382.4,1192.1 384.1,1196.1 385.8,1199.3 387.5,1201.6 389.2,1203.5 390.9,1204.9 392.6,1206 394.3,1206.9 396,1207.6 397.7,1208.2 399.4,1208.7 401.1,1209.2 402.8,1209.6 404.5,1209.9 406.3,1210.3 408,1210.6 409.7,1210.8 411.4,1211.1 413.1,1211.3 414.8,1211.5 416.5,1211.7" fill="none" stroke="#f01820" stroke-width="2.4" stroke-linejoin="round"/>
<path d="M160.6,1172.5 162.3,1172.6 164,1172.7 165.7,1172.7 167.4,1172.7 169.1,1172.7 170.8,1172.6 172.5,1172.4 174.2,1172.2 175.9,1172 177.6,1171.6 179.4,1171.3 181.1,1170.9 182.8,1170.5 184.5,1170 186.2,1169.6 187.9,1169.3 189.6,1169 191.3,1168.8 193,1168.7 194.7,1168.9 196.4,1169.1 198.1,1169.5 199.8,1170.1 201.5,1170.8 203.2,1171.5 204.9,1172.3 206.7,1173.2 208.4,1174.1 210.1,1175.1 211.8,1176.1 213.5,1177.1 215.2,1178.1 216.9,1179 218.6,1179.8 220.3,1180.5 222,1181.1 223.7,1181.6 225.4,1182.1 227.1,1182.6 228.8,1183.2" fill="none" stroke="#1c1c8c" stroke-width="2.0"/>
<path d="M170.8,1173.6 172.5,1173.7 174.2,1173.8 175.9,1173.8 177.6,1173.9 179.4,1173.9 181.1,1174 182.8,1174 184.5,1174 186.2,1174 187.9,1174 189.6,1173.9 191.3,1173.8 193,1173.6 194.7,1173.4 196.4,1173 198.1,1172.4 199.8,1171.3 201.5,1169.8 203.2,1167.4 204.9,1164 206.7,1159.4 208.4,1153.8 210.1,1148 211.8,1143.6 213.5,1143 215.2,1146.9 216.9,1153.3 218.6,1160.1 220.3,1166 222,1170.6 223.7,1174.1 225.4,1176.6 227.1,1178.5 228.8,1180 230.5,1181.3 232.2,1182.5 233.9,1183.6 235.7,1184.8 237.4,1185.9 239.1,1186.8 240.8,1187.7 242.5,1188.3 244.2,1188.9 245.9,1189.3 247.6,1189.7 249.3,1190 251,1190.2 252.7,1190.4 254.4,1190.6 256.1,1190.8" fill="none" stroke="#00e8f0" stroke-width="2.0"/>
<path d="M174.2,1173.9 175.9,1174 177.6,1174.1 179.4,1174.2 181.1,1174.2 182.8,1174.3 184.5,1174.4 186.2,1174.5 187.9,1174.6 189.6,1174.7 191.3,1174.8 193,1174.9 194.7,1175 196.4,1175 198.1,1175.1 199.8,1175.2 201.5,1175.2 203.2,1175.3 204.9,1175.3 206.7,1175.3 208.4,1175.4 210.1,1175.5 211.8,1175.5 213.5,1175.5 215.2,1175.4 216.9,1174.9 218.6,1174 220.3,1172.4 222,1169.9 223.7,1166.2 225.4,1161.1 227.1,1154.4 228.8,1146.3 230.5,1137.5 232.2,1129.5 233.9,1124.8 235.7,1125.6 237.4,1131.9 239.1,1141.4 240.8,1151.5 242.5,1160.6 244.2,1168.1 245.9,1174 247.6,1178.3 249.3,1181.4 251,1183.5 252.7,1185.1 254.4,1186.2 256.1,1187.1 257.8,1187.8 259.5,1188.3 261.2,1188.8 262.9,1189.2 264.7,1189.6 266.4,1189.9 268.1,1190.1 269.8,1190.4 271.5,1190.6 273.2,1190.8 274.9,1191 276.6,1191.2 278.3,1191.3 280,1191.5 281.7,1191.6 283.4,1191.7 285.1,1191.9 286.8,1192 288.5,1192.1 290.2,1192.3 292,1192.4 293.7,1192.5 295.4,1192.6" fill="none" stroke="#8c8a10" stroke-width="2.0"/>
<path d="M276.6,1191.8 278.3,1191.8 280,1191.8 281.7,1191.8 283.4,1191.7 285.1,1191.6 286.8,1191.4 288.5,1191.2 290.2,1190.9 292,1190.5 293.7,1189.9 295.4,1189.2 297.1,1188.4 298.8,1187.4 300.5,1186.2 302.2,1185 303.9,1183.6 305.6,1182.2 307.3,1180.9 309,1179.7 310.7,1178.7 312.4,1178.1 314.1,1177.9 315.8,1178.2 317.5,1179 319.2,1180.2 321,1181.7 322.7,1183.4 324.4,1185.2 326.1,1187.1 327.8,1188.8 329.5,1190.5 331.2,1192 332.9,1193.4 334.6,1194.6 336.3,1195.6 338,1196.4 339.7,1197.2 341.4,1197.9 343.1,1198.4 344.8,1198.9 346.5,1199.4 348.2,1199.9 350,1200.3 351.7,1200.7 353.4,1201.1" fill="none" stroke="#f5e800" stroke-width="2.0"/>
<path d="M288.5,1192.3 290.2,1192.3 292,1192.4 293.7,1192.4 295.4,1192.5 297.1,1192.5 298.8,1192.6 300.5,1192.7 302.2,1192.8 303.9,1192.9 305.6,1193 307.3,1193.1 309,1193.3 310.7,1193.4 312.4,1193.5 314.1,1193.6 315.8,1193.7 317.5,1193.8 319.2,1193.8 321,1193.7 322.7,1193.6 324.4,1193.4 326.1,1193 327.8,1192.6 329.5,1192.1 331.2,1191.5 332.9,1190.8 334.6,1189.9 336.3,1189.1 338,1188.1 339.7,1187.2 341.4,1186.3 343.1,1185.6 344.8,1185 346.5,1184.6 348.2,1184.6 350,1184.9 351.7,1185.6 353.4,1186.6 355.1,1187.8 356.8,1189.2 358.5,1190.8 360.2,1192.4 361.9,1194 363.6,1195.7 365.3,1197.3 367,1199 368.7,1200.6 370.4,1202.2 372.1,1203.7 373.8,1205.1 375.5,1206.2 377.3,1207.3 379,1208.1 380.7,1208.8 382.4,1209.4 384.1,1209.9 385.8,1210.3 387.5,1210.7 389.2,1211 390.9,1211.2 392.6,1211.4 394.3,1211.6 396,1211.8 397.7,1212 399.4,1212.1 401.1,1212.3 402.8,1212.4 404.5,1212.5 406.3,1212.6 408,1212.7 409.7,1212.8" fill="none" stroke="#ff2ce0" stroke-width="2.0"/>
<path d="M300.5,1193 302.2,1193.1 303.9,1193.3 305.6,1193.4 307.3,1193.6 309,1193.8 310.7,1194 312.4,1194.2 314.1,1194.5 315.8,1194.7 317.5,1194.9 319.2,1195.2 321,1195.4 322.7,1195.6 324.4,1195.8 326.1,1195.9 327.8,1196 329.5,1196.1 331.2,1196.2 332.9,1196.3 334.6,1196.3 336.3,1196.3 338,1196.3 339.7,1196.3 341.4,1196.2 343.1,1196 344.8,1195.8 346.5,1195.5 348.2,1195.1 350,1194.4 351.7,1193.4 353.4,1192 355.1,1190 356.8,1187.3 358.5,1183.6 360.2,1179 361.9,1173.3 363.6,1166.8 365.3,1159.9 367,1153.8 368.7,1150 370.4,1149.8 372.1,1153.6 373.8,1160.3 375.5,1168.3 377.3,1176.3 379,1183.4 380.7,1189.5 382.4,1194.4 384.1,1198.2 385.8,1201.2 387.5,1203.4 389.2,1205.1 390.9,1206.4 392.6,1207.4 394.3,1208.2 396,1208.8 397.7,1209.4 399.4,1209.8 401.1,1210.2 402.8,1210.6 404.5,1210.9 406.3,1211.2 408,1211.4 409.7,1211.6 411.4,1211.8 413.1,1212 414.8,1212.2 416.5,1212.4" fill="none" stroke="#2222e6" stroke-width="2.0"/>
<path d="M41.2,1162 42.9,1162.1 44.6,1162.1 46.3,1162.2 48,1162.2 49.7,1162.3 51.4,1162.3 53.1,1162.4 54.8,1162.5 56.5,1162.5 58.2,1162.6 59.9,1162.7 61.6,1162.8 63.3,1162.9 65.1,1163.1 66.8,1163.2 68.5,1163.4 70.2,1163.7 71.9,1164 73.6,1164.5 75.3,1164.9 77,1165.5 78.7,1166.1 80.4,1166.7 82.1,1167.2 83.8,1167.7 85.5,1168.1 87.2,1168.4 88.9,1168.7 90.6,1168.9 92.3,1169.1 94.1,1169.2 95.8,1169.3 97.5,1169.4 99.2,1169.5 100.9,1169.6 102.6,1169.7 104.3,1169.8 106,1169.8 107.7,1169.9 109.4,1170 111.1,1170 112.8,1170.1 114.5,1170.1 116.2,1170.2 117.9,1170.3 119.6,1170.3 121.4,1170.4 123.1,1170.4 124.8,1170.5 126.5,1170.5 128.2,1170.6 129.9,1170.7 131.6,1170.7 133.3,1170.8 135,1170.9 136.7,1170.9 138.4,1171 140.1,1171.1 141.8,1171.2 143.5,1171.3 145.2,1171.4 146.9,1171.6 148.6,1171.7 150.4,1171.9 152.1,1172 153.8,1172.2 155.5,1172.4 157.2,1172.6 158.9,1172.8 160.6,1173.1 162.3,1173.3 164,1173.5 165.7,1173.6 167.4,1173.8 169.1,1174 170.8,1174.1 172.5,1174.3 174.2,1174.4 175.9,1174.6 177.6,1174.7 179.4,1174.8 181.1,1175 182.8,1175.1 184.5,1175.2 186.2,1175.4 187.9,1175.5 189.6,1175.7 191.3,1175.9 193,1176 194.7,1176.2 196.4,1176.4 198.1,1176.6 199.8,1176.8 201.5,1177 203.2,1177.3 204.9,1177.5 206.7,1177.8 208.4,1178.2 210.1,1178.7 211.8,1179.2 213.5,1179.7 215.2,1180.3 216.9,1180.9 218.6,1181.4 220.3,1181.8 222,1182.2 223.7,1182.5 225.4,1182.9 227.1,1183.3 228.8,1183.8 230.5,1184.4 232.2,1185.1 233.9,1185.8 235.7,1186.7 237.4,1187.5 239.1,1188.3 240.8,1189 242.5,1189.5 244.2,1189.9 245.9,1190.3 247.6,1190.5 249.3,1190.7 251,1190.9 252.7,1191.1 254.4,1191.2 256.1,1191.3 257.8,1191.4 259.5,1191.5 261.2,1191.6 262.9,1191.7 264.7,1191.8 266.4,1191.9 268.1,1192 269.8,1192 271.5,1192.1 273.2,1192.2 274.9,1192.3 276.6,1192.3 278.3,1192.4 280,1192.5 281.7,1192.5 283.4,1192.6 285.1,1192.7 286.8,1192.8 288.5,1192.8 290.2,1192.9 292,1193 293.7,1193.1 295.4,1193.2 297.1,1193.3 298.8,1193.4 300.5,1193.6 302.2,1193.7 303.9,1193.9 305.6,1194.1 307.3,1194.3 309,1194.6 310.7,1194.8 312.4,1195.1 314.1,1195.4 315.8,1195.7 317.5,1196 319.2,1196.3 321,1196.6 322.7,1196.9 324.4,1197.1 326.1,1197.4 327.8,1197.6 329.5,1197.9 331.2,1198.1 332.9,1198.3 334.6,1198.5 336.3,1198.8 338,1199 339.7,1199.2 341.4,1199.5 343.1,1199.8 344.8,1200 346.5,1200.3 348.2,1200.6 350,1201 351.7,1201.3 353.4,1201.6 355.1,1202 356.8,1202.4 358.5,1202.8 360.2,1203.2 361.9,1203.7 363.6,1204.3 365.3,1204.9 367,1205.6 368.7,1206.4 370.4,1207.2 372.1,1208 373.8,1208.8 375.5,1209.5 377.3,1210.1 379,1210.6 380.7,1211 382.4,1211.4 384.1,1211.7 385.8,1211.9 387.5,1212.1 389.2,1212.2 390.9,1212.4 392.6,1212.5 394.3,1212.6 396,1212.7 397.7,1212.8 399.4,1212.9 401.1,1213 402.8,1213.1 404.5,1213.2 406.3,1213.3 408,1213.3 409.7,1213.4 411.4,1213.5 413.1,1213.5 414.8,1213.6 416.5,1213.7" fill="none" stroke="#7a1414" stroke-width="1.9"/>
<path d="M41.2,1162 42.9,1162 44.6,1162.1 46.3,1162.1 48,1162.2 49.7,1162.2 51.4,1162.3 53.1,1162.3 54.8,1162.4 56.5,1162.5 58.2,1162.6 59.9,1162.6 61.6,1162.7 63.3,1162.9 65.1,1163 66.8,1163.2 68.5,1163.4 70.2,1163.6 71.9,1164 73.6,1164.4 75.3,1164.8 77,1165.4 78.7,1166 80.4,1166.6 82.1,1167.1 83.8,1167.6 85.5,1168 87.2,1168.3 88.9,1168.6 90.6,1168.8 92.3,1168.9 94.1,1169.1 95.8,1169.2 97.5,1169.3 99.2,1169.4 100.9,1169.4 102.6,1169.5 104.3,1169.6 106,1169.6 107.7,1169.7 109.4,1169.7 111.1,1169.8 112.8,1169.8 114.5,1169.8 116.2,1169.9 117.9,1169.9 119.6,1169.9 121.4,1169.9 123.1,1169.9 124.8,1169.9 126.5,1169.9 128.2,1169.8 129.9,1169.7 131.6,1169.5 133.3,1169.3 135,1169 136.7,1168.6 138.4,1168.1 140.1,1167.5 141.8,1166.7 143.5,1165.9 145.2,1165 146.9,1164.1 148.6,1163.1 150.4,1162.2 152.1,1161.4 153.8,1160.8 155.5,1160.4 157.2,1160.3 158.9,1160.6 160.6,1161.3 162.3,1162.2 164,1163.3 165.7,1164.5 167.4,1165.8 169.1,1167 170.8,1168.3 172.5,1169.4 174.2,1170.4 175.9,1171.3 177.6,1172.1 179.4,1172.7 181.1,1173.3 182.8,1173.8 184.5,1174.2 186.2,1174.5 187.9,1174.8 189.6,1175.1 191.3,1175.3" fill="none" stroke="#9a2a9e" stroke-width="2.0"/>
<path d="M53.1,1160 54.8,1159.8 56.5,1159.4 58.2,1158.8 59.9,1158 61.6,1156.8 63.3,1155.1 65.1,1152.7 66.8,1149.5 68.5,1145.4 70.2,1140.5 71.9,1135 73.6,1129.5 75.3,1124.8 77,1122.3 78.7,1122.8 80.4,1126.5 82.1,1132.2 83.8,1138.7 85.5,1144.9 87.2,1150.4 88.9,1155 90.6,1158.5 92.3,1161.2 94.1,1163.2 95.8,1164.6 97.5,1165.6 99.2,1166.3 100.9,1166.9 102.6,1167.3" fill="none" stroke="#8b0f14" stroke-width="2.3"/>
<path d="M41.2,1257 42.9,1257.5 44.6,1255.9 46.3,1257.5 48,1256.3 49.7,1255 51.4,1255.8 53.1,1256.9 54.8,1256.4 56.5,1254.6 58.2,1255.9 59.9,1254.6 61.6,1254.2 63.3,1252.8 65.1,1249.5 66.8,1248.5 68.5,1244.2 70.2,1242.2 71.9,1236.4 73.6,1230.4 75.3,1224.1 77,1221.1 78.7,1219.5 80.4,1219.4 82.1,1226.9 83.8,1230.8 85.5,1238.3 87.2,1241.4 88.9,1249.3 90.6,1250.5 92.3,1254.4 94.1,1258.1 95.8,1259.3 97.5,1258.2 99.2,1260.3 100.9,1262.9 102.6,1264.7 104.3,1263.9 106,1263 107.7,1264.3 109.4,1262.6 111.1,1264.4 112.8,1262.7 114.5,1264.2 116.2,1264.2 117.9,1265.3 119.6,1264.2 121.4,1265.8 123.1,1264.5 124.8,1265.5 126.5,1265.5 128.2,1262.9 129.9,1264.7 131.6,1264.6 133.3,1263.6 135,1264.3 136.7,1262.3 138.4,1263.9 140.1,1263.4 141.8,1262.5 143.5,1264 145.2,1261 146.9,1259.8 148.6,1258 150.4,1258.1 152.1,1256 153.8,1257.4 155.5,1254.9 157.2,1255.3 158.9,1257.1 160.6,1256.6 162.3,1256.2 164,1258.2 165.7,1257.7 167.4,1259.5 169.1,1259.7 170.8,1259.8 172.5,1261.9 174.2,1263.1 175.9,1262.4 177.6,1261.9 179.4,1262.7 181.1,1260.8 182.8,1262.5 184.5,1261.7 186.2,1264.4 187.9,1261.4 189.6,1260 191.3,1261.9 193,1260.5 194.7,1260.3 196.4,1260 198.1,1259.6 199.8,1258.5 201.5,1258.9 203.2,1257.1 204.9,1253.8 206.7,1250.8 208.4,1245.5 210.1,1241.4 211.8,1236.5 213.5,1233.1 215.2,1233.4 216.9,1236.7 218.6,1244.1 220.3,1247.6 222,1251.4 223.7,1252.5 225.4,1252 227.1,1248.5 228.8,1245.4 230.5,1236.8 232.2,1227.1 233.9,1221.9 235.7,1218.1 237.4,1222.9 239.1,1230.5 240.8,1238.2 242.5,1248.9 244.2,1256.6 245.9,1264.3 247.6,1271 249.3,1273 251,1275.1 252.7,1279.2 254.4,1280.7 256.1,1282.2 257.8,1283.8 259.5,1283.1 261.2,1282.8 262.9,1286.6 264.7,1286 266.4,1285.8 268.1,1286.4 269.8,1289.1 271.5,1288.4 273.2,1288.6 274.9,1289 276.6,1287.3 278.3,1286.6 280,1286.5 281.7,1285.9 283.4,1286.3 285.1,1285.3 286.8,1285.7 288.5,1284.8 290.2,1284.7 292,1284.8 293.7,1284.9 295.4,1284.3 297.1,1281.9 298.8,1281 300.5,1279 302.2,1279.1 303.9,1278.1 305.6,1274.3 307.3,1274 309,1271.3 310.7,1270.1 312.4,1269.3 314.1,1267.9 315.8,1268.9 317.5,1266.7 319.2,1268.2 321,1269.9 322.7,1270.3 324.4,1273.2 326.1,1272.8 327.8,1275.7 329.5,1275.4 331.2,1277.6 332.9,1278.9 334.6,1281 336.3,1280 338,1280.3 339.7,1278.3 341.4,1279.7 343.1,1276.7 344.8,1275.9 346.5,1274.1 348.2,1274.9 350,1275.1 351.7,1272.9 353.4,1272.6 355.1,1271.8 356.8,1270.8 358.5,1268.7 360.2,1265.4 361.9,1264.6 363.6,1256.7 365.3,1252.5 367,1248.4 368.7,1244.6 370.4,1241.4 372.1,1242.8 373.8,1248.1 375.5,1255.1 377.3,1264.4 379,1270.9 380.7,1277.3 382.4,1283.6 384.1,1288.9 385.8,1293.7 387.5,1296.9 389.2,1297 390.9,1297.6 392.6,1299 394.3,1303.5 396,1301.8 397.7,1303.3 399.4,1305.3 401.1,1303.2 402.8,1304.1 404.5,1304.1 406.3,1304 408,1306.2 409.7,1306.7 411.4,1304 413.1,1307.1 414.8,1306.1 416.5,1306.7" fill="none" stroke="#111" stroke-width="2.0" stroke-linejoin="round"/>
<path d="M41.2,1257 42.9,1256.9 44.6,1256.9 46.3,1256.8 48,1256.7 49.7,1256.5 51.4,1256.4 53.1,1256.1 54.8,1255.9 56.5,1255.5 58.2,1254.9 59.9,1254.1 61.6,1252.9 63.3,1251.3 65.1,1248.9 66.8,1245.8 68.5,1241.8 70.2,1237 71.9,1231.7 73.6,1226.2 75.3,1221.7 77,1219.2 78.7,1219.8 80.4,1223.3 82.1,1228.8 83.8,1235.1 85.5,1241.2 87.2,1246.5 88.9,1251 90.6,1254.4 92.3,1257 94.1,1258.9 95.8,1260.3 97.5,1261.2 99.2,1261.9 100.9,1262.5 102.6,1262.9 104.3,1263.2 106,1263.5 107.7,1263.7 109.4,1263.9 111.1,1264.1 112.8,1264.2 114.5,1264.3 116.2,1264.4 117.9,1264.5 119.6,1264.6 121.4,1264.7 123.1,1264.7 124.8,1264.7 126.5,1264.7 128.2,1264.7 129.9,1264.6 131.6,1264.4 133.3,1264.2 135,1263.9 136.7,1263.5 138.4,1263 140.1,1262.4 141.8,1261.7 143.5,1260.9 145.2,1260 146.9,1259 148.6,1258.1 150.4,1257.1 152.1,1256.3 153.8,1255.6 155.5,1255.2 157.2,1255.1 158.9,1255.3 160.6,1255.8 162.3,1256.5 164,1257.5 165.7,1258.5 167.4,1259.5 169.1,1260.5 170.8,1261.3 172.5,1262 174.2,1262.6 175.9,1263 177.6,1263.2 179.4,1263.2 181.1,1263.1 182.8,1262.9 184.5,1262.5 186.2,1262.1 187.9,1261.7 189.6,1261.2 191.3,1260.7 193,1260.3 194.7,1260 196.4,1259.6 198.1,1259.1 199.8,1258.3 201.5,1257 203.2,1255 204.9,1252 206.7,1247.8 208.4,1242.5 210.1,1236.8 211.8,1232.6 213.5,1231.9 215.2,1235.4 216.9,1241.1 218.6,1246.7 220.3,1250.9 222,1252.9 223.7,1252.6 225.4,1250 227.1,1245.1 228.8,1238.3 230.5,1230.6 232.2,1223.4 233.9,1219.3 235.7,1220.4 237.4,1226.8 239.1,1236.1 240.8,1246 242.5,1254.9 244.2,1262.3 245.9,1268 247.6,1272.2 249.3,1275.3 251,1277.5 252.7,1279 254.4,1280.1 256.1,1281 257.8,1281.7 259.5,1282.2 261.2,1282.7 262.9,1283.1 264.7,1283.4 266.4,1283.7 268.1,1283.9 269.8,1284.1 271.5,1284.3 273.2,1284.5 274.9,1284.6 276.6,1284.7 278.3,1284.8 280,1284.8 281.7,1284.8 283.4,1284.8 285.1,1284.7 286.8,1284.5 288.5,1284.3 290.2,1283.9 292,1283.4 293.7,1282.8 295.4,1282 297.1,1281 298.8,1279.8 300.5,1278.4 302.2,1276.9 303.9,1275.3 305.6,1273.7 307.3,1272 309,1270.6 310.7,1269.3 312.4,1268.4 314.1,1268 315.8,1268.1 317.5,1268.7 319.2,1269.7 321,1271 322.7,1272.4 324.4,1273.9 326.1,1275.3 327.8,1276.6 329.5,1277.6 331.2,1278.3 332.9,1278.8 334.6,1278.9 336.3,1278.8 338,1278.4 339.7,1277.8 341.4,1277.1 343.1,1276.3 344.8,1275.5 346.5,1274.8 348.2,1274.2 350,1273.7 351.7,1273.2 353.4,1272.5 355.1,1271.5 356.8,1269.9 358.5,1267.6 360.2,1264.3 361.9,1260 363.6,1254.8 365.3,1249.3 367,1244.3 368.7,1241.4 370.4,1242 372.1,1246.3 373.8,1253.3 375.5,1261.5 377.3,1269.5 379,1276.7 380.7,1282.8 382.4,1287.8 384.1,1291.7 385.8,1294.7 387.5,1297 389.2,1298.8 390.9,1300.1 392.6,1301.2 394.3,1302 396,1302.7 397.7,1303.3 399.4,1303.8 401.1,1304.2 402.8,1304.6 404.5,1305 406.3,1305.3 408,1305.6 409.7,1305.8 411.4,1306.1 413.1,1306.3 414.8,1306.5 416.5,1306.6" fill="none" stroke="#f01820" stroke-width="2.4" stroke-linejoin="round"/>
<path d="M160.6,1268.4 162.3,1268.5 164,1268.6 165.7,1268.6 167.4,1268.6 169.1,1268.6 170.8,1268.5 172.5,1268.3 174.2,1268.1 175.9,1267.8 177.6,1267.5 179.4,1267.2 181.1,1266.8 182.8,1266.4 184.5,1265.9 186.2,1265.5 187.9,1265.2 189.6,1264.9 191.3,1264.7 193,1264.7 194.7,1264.8 196.4,1265 198.1,1265.4 199.8,1266 201.5,1266.6 203.2,1267.4 204.9,1268.2 206.7,1269 208.4,1270 210.1,1270.9 211.8,1271.9 213.5,1272.9 215.2,1273.9 216.9,1274.8 218.6,1275.5 220.3,1276.2 222,1276.8 223.7,1277.3 225.4,1277.8 227.1,1278.3 228.8,1278.8" fill="none" stroke="#1c1c8c" stroke-width="2.0"/>
<path d="M170.8,1269.5 172.5,1269.6 174.2,1269.6 175.9,1269.7 177.6,1269.8 179.4,1269.8 181.1,1269.8 182.8,1269.9 184.5,1269.9 186.2,1269.9 187.9,1269.8 189.6,1269.8 191.3,1269.7 193,1269.5 194.7,1269.2 196.4,1268.8 198.1,1268.2 199.8,1267.2 201.5,1265.7 203.2,1263.3 204.9,1259.9 206.7,1255.4 208.4,1249.8 210.1,1244 211.8,1239.7 213.5,1239.2 215.2,1242.9 216.9,1249.3 218.6,1256 220.3,1261.8 222,1266.4 223.7,1269.9 225.4,1272.4 227.1,1274.2 228.8,1275.7 230.5,1276.9 232.2,1278.1 233.9,1279.2 235.7,1280.3 237.4,1281.3 239.1,1282.3 240.8,1283.1 242.5,1283.7 244.2,1284.3 245.9,1284.7 247.6,1285 249.3,1285.3 251,1285.5 252.7,1285.7 254.4,1285.9" fill="none" stroke="#00e8f0" stroke-width="2.0"/>
<path d="M175.9,1269.9 177.6,1270 179.4,1270 181.1,1270.1 182.8,1270.2 184.5,1270.3 186.2,1270.4 187.9,1270.5 189.6,1270.6 191.3,1270.7 193,1270.7 194.7,1270.8 196.4,1270.9 198.1,1271 199.8,1271 201.5,1271.1 203.2,1271.1 204.9,1271.2 206.7,1271.2 208.4,1271.3 210.1,1271.4 211.8,1271.4 213.5,1271.4 215.2,1271.3 216.9,1270.9 218.6,1270 220.3,1268.5 222,1266 223.7,1262.5 225.4,1257.5 227.1,1251.1 228.8,1243.3 230.5,1234.8 232.2,1227 233.9,1222.5 235.7,1223.3 237.4,1229.4 239.1,1238.5 240.8,1248.2 242.5,1257 244.2,1264.3 245.9,1269.9 247.6,1274 249.3,1277 251,1279.1 252.7,1280.6 254.4,1281.7 256.1,1282.6 257.8,1283.2 259.5,1283.7 261.2,1284.2 262.9,1284.6 264.7,1284.9 266.4,1285.2 268.1,1285.5 269.8,1285.7 271.5,1285.9 273.2,1286.1 274.9,1286.3 276.6,1286.5 278.3,1286.6 280,1286.8 281.7,1286.9 283.4,1287 285.1,1287.2 286.8,1287.3 288.5,1287.4 290.2,1287.5 292,1287.7 293.7,1287.8" fill="none" stroke="#8c8a10" stroke-width="2.0"/>
<path d="M274.9,1287 276.6,1287 278.3,1287 280,1287 281.7,1286.9 283.4,1286.8 285.1,1286.7 286.8,1286.5 288.5,1286.3 290.2,1285.9 292,1285.4 293.7,1284.8 295.4,1284 297.1,1283 298.8,1281.9 300.5,1280.6 302.2,1279.1 303.9,1277.6 305.6,1276 307.3,1274.5 309,1273.1 310.7,1272 312.4,1271.3 314.1,1271.1 315.8,1271.4 317.5,1272.2 319.2,1273.6 321,1275.3 322.7,1277.2 324.4,1279.2 326.1,1281.3 327.8,1283.3 329.5,1285.1 331.2,1286.8 332.9,1288.3 334.6,1289.6 336.3,1290.7 338,1291.7 339.7,1292.5 341.4,1293.2 343.1,1293.8 344.8,1294.3 346.5,1294.8 348.2,1295.3 350,1295.7 351.7,1296.1 353.4,1296.5 355.1,1296.9" fill="none" stroke="#f5e800" stroke-width="2.0"/>
<path d="M290.2,1287.6 292,1287.7 293.7,1287.7 295.4,1287.8 297.1,1287.9 298.8,1287.9 300.5,1288 302.2,1288.1 303.9,1288.3 305.6,1288.4 307.3,1288.5 309,1288.7 310.7,1288.8 312.4,1289 314.1,1289.1 315.8,1289.3 317.5,1289.3 319.2,1289.4 321,1289.3 322.7,1289.2 324.4,1289.1 326.1,1288.8 327.8,1288.4 329.5,1287.9 331.2,1287.3 332.9,1286.6 334.6,1285.9 336.3,1285 338,1284.2 339.7,1283.3 341.4,1282.4 343.1,1281.7 344.8,1281.1 346.5,1280.8 348.2,1280.7 350,1281 351.7,1281.7 353.4,1282.6 355.1,1283.8 356.8,1285.2 358.5,1286.7 360.2,1288.2 361.9,1289.8 363.6,1291.4 365.3,1292.9 367,1294.5 368.7,1296.1 370.4,1297.6 372.1,1299 373.8,1300.3 375.5,1301.5 377.3,1302.4 379,1303.3 380.7,1303.9 382.4,1304.5 384.1,1305 385.8,1305.4 387.5,1305.7 389.2,1306 390.9,1306.2 392.6,1306.4 394.3,1306.6 396,1306.8 397.7,1306.9 399.4,1307.1 401.1,1307.2 402.8,1307.3 404.5,1307.5 406.3,1307.6 408,1307.7" fill="none" stroke="#ff2ce0" stroke-width="2.0"/>
<path d="M300.5,1288.3 302.2,1288.4 303.9,1288.6 305.6,1288.8 307.3,1289 309,1289.2 310.7,1289.4 312.4,1289.7 314.1,1289.9 315.8,1290.2 317.5,1290.5 319.2,1290.7 321,1290.9 322.7,1291.2 324.4,1291.4 326.1,1291.5 327.8,1291.7 329.5,1291.8 331.2,1291.9 332.9,1291.9 334.6,1292 336.3,1292 338,1292 339.7,1291.9 341.4,1291.9 343.1,1291.7 344.8,1291.5 346.5,1291.3 348.2,1290.8 350,1290.2 351.7,1289.2 353.4,1287.9 355.1,1286 356.8,1283.3 358.5,1279.8 360.2,1275.3 361.9,1269.9 363.6,1263.6 365.3,1257.1 367,1251.2 368.7,1247.5 370.4,1247.3 372.1,1250.9 373.8,1257.4 375.5,1265.1 377.3,1272.7 379,1279.5 380.7,1285.3 382.4,1290.1 384.1,1293.7 385.8,1296.6 387.5,1298.7 389.2,1300.3 390.9,1301.6 392.6,1302.5 394.3,1303.3 396,1303.9 397.7,1304.4 399.4,1304.9 401.1,1305.3 402.8,1305.6 404.5,1305.9 406.3,1306.2 408,1306.4 409.7,1306.6 411.4,1306.8 413.1,1307 414.8,1307.2 416.5,1307.3" fill="none" stroke="#2222e6" stroke-width="2.0"/>
<path d="M41.2,1258.3 42.9,1258.4 44.6,1258.4 46.3,1258.5 48,1258.5 49.7,1258.6 51.4,1258.6 53.1,1258.7 54.8,1258.8 56.5,1258.8 58.2,1258.9 59.9,1259 61.6,1259.1 63.3,1259.2 65.1,1259.3 66.8,1259.5 68.5,1259.7 70.2,1260 71.9,1260.3 73.6,1260.7 75.3,1261.1 77,1261.7 78.7,1262.2 80.4,1262.8 82.1,1263.3 83.8,1263.8 85.5,1264.2 87.2,1264.5 88.9,1264.8 90.6,1265 92.3,1265.1 94.1,1265.3 95.8,1265.4 97.5,1265.5 99.2,1265.6 100.9,1265.6 102.6,1265.7 104.3,1265.8 106,1265.9 107.7,1265.9 109.4,1266 111.1,1266 112.8,1266.1 114.5,1266.2 116.2,1266.2 117.9,1266.3 119.6,1266.3 121.4,1266.4 123.1,1266.4 124.8,1266.5 126.5,1266.6 128.2,1266.6 129.9,1266.7 131.6,1266.7 133.3,1266.8 135,1266.9 136.7,1266.9 138.4,1267 140.1,1267.1 141.8,1267.2 143.5,1267.3 145.2,1267.4 146.9,1267.5 148.6,1267.7 150.4,1267.8 152.1,1268 153.8,1268.2 155.5,1268.4 157.2,1268.6 158.9,1268.8 160.6,1269 162.3,1269.2 164,1269.4 165.7,1269.5 167.4,1269.7 169.1,1269.9 170.8,1270 172.5,1270.2 174.2,1270.3 175.9,1270.4 177.6,1270.6 179.4,1270.7 181.1,1270.8 182.8,1271 184.5,1271.1 186.2,1271.2 187.9,1271.4 189.6,1271.5 191.3,1271.7 193,1271.9 194.7,1272.1 196.4,1272.2 198.1,1272.4 199.8,1272.6 201.5,1272.8 203.2,1273.1 204.9,1273.3 206.7,1273.6 208.4,1274 210.1,1274.4 211.8,1274.9 213.5,1275.5 215.2,1276.1 216.9,1276.6 218.6,1277.1 220.3,1277.5 222,1277.9 223.7,1278.2 225.4,1278.6 227.1,1279 228.8,1279.4 230.5,1280 232.2,1280.6 233.9,1281.4 235.7,1282.2 237.4,1283 239.1,1283.7 240.8,1284.4 242.5,1284.9 244.2,1285.3 245.9,1285.6 247.6,1285.9 249.3,1286.1 251,1286.2 252.7,1286.4 254.4,1286.5 256.1,1286.6 257.8,1286.7 259.5,1286.8 261.2,1286.9 262.9,1287 264.7,1287.1 266.4,1287.2 268.1,1287.2 269.8,1287.3 271.5,1287.4 273.2,1287.5 274.9,1287.5 276.6,1287.6 278.3,1287.7 280,1287.7 281.7,1287.8 283.4,1287.9 285.1,1288 286.8,1288 288.5,1288.1 290.2,1288.2 292,1288.3 293.7,1288.4 295.4,1288.5 297.1,1288.6 298.8,1288.7 300.5,1288.9 302.2,1289 303.9,1289.2 305.6,1289.4 307.3,1289.7 309,1289.9 310.7,1290.2 312.4,1290.5 314.1,1290.8 315.8,1291.1 317.5,1291.4 319.2,1291.8 321,1292.1 322.7,1292.4 324.4,1292.7 326.1,1292.9 327.8,1293.2 329.5,1293.4 331.2,1293.7 332.9,1293.9 334.6,1294.1 336.3,1294.3 338,1294.6 339.7,1294.8 341.4,1295 343.1,1295.3 344.8,1295.6 346.5,1295.9 348.2,1296.2 350,1296.5 351.7,1296.8 353.4,1297.1 355.1,1297.5 356.8,1297.8 358.5,1298.2 360.2,1298.6 361.9,1299.1 363.6,1299.6 365.3,1300.2 367,1300.9 368.7,1301.6 370.4,1302.4 372.1,1303.2 373.8,1303.9 375.5,1304.6 377.3,1305.2 379,1305.6 380.7,1306 382.4,1306.4 384.1,1306.6 385.8,1306.9 387.5,1307 389.2,1307.2 390.9,1307.3 392.6,1307.5 394.3,1307.6 396,1307.7 397.7,1307.8 399.4,1307.9 401.1,1308 402.8,1308 404.5,1308.1 406.3,1308.2 408,1308.3 409.7,1308.3 411.4,1308.4 413.1,1308.5 414.8,1308.5 416.5,1308.6" fill="none" stroke="#7a1414" stroke-width="1.9"/>
<path d="M41.2,1258.3 42.9,1258.3 44.6,1258.4 46.3,1258.4 48,1258.5 49.7,1258.5 51.4,1258.6 53.1,1258.6 54.8,1258.7 56.5,1258.8 58.2,1258.8 59.9,1258.9 61.6,1259 63.3,1259.1 65.1,1259.3 66.8,1259.4 68.5,1259.6 70.2,1259.9 71.9,1260.2 73.6,1260.6 75.3,1261 77,1261.6 78.7,1262.1 80.4,1262.7 82.1,1263.2 83.8,1263.7 85.5,1264.1 87.2,1264.4 88.9,1264.6 90.6,1264.8 92.3,1265 94.1,1265.1 95.8,1265.2 97.5,1265.3 99.2,1265.4 100.9,1265.5 102.6,1265.5 104.3,1265.6 106,1265.6 107.7,1265.7 109.4,1265.7 111.1,1265.8 112.8,1265.8 114.5,1265.9 116.2,1265.9 117.9,1265.9 119.6,1265.9 121.4,1266 123.1,1266 124.8,1265.9 126.5,1265.9 128.2,1265.8 129.9,1265.7 131.6,1265.6 133.3,1265.3 135,1265 136.7,1264.6 138.4,1264.1 140.1,1263.6 141.8,1262.8 143.5,1262.1 145.2,1261.2 146.9,1260.2 148.6,1259.3 150.4,1258.4 152.1,1257.6 153.8,1257 155.5,1256.7 157.2,1256.6 158.9,1256.9 160.6,1257.5 162.3,1258.4 164,1259.5 165.7,1260.6 167.4,1261.9 169.1,1263.1 170.8,1264.3 172.5,1265.4 174.2,1266.4 175.9,1267.3 177.6,1268 179.4,1268.6 181.1,1269.2 182.8,1269.6 184.5,1270 186.2,1270.4 187.9,1270.7 189.6,1270.9 191.3,1271.2" fill="none" stroke="#9a2a9e" stroke-width="2.0"/>
<path d="M53.1,1256.4 54.8,1256.1 56.5,1255.7 58.2,1255.2 59.9,1254.4 61.6,1253.2 63.3,1251.6 65.1,1249.2 66.8,1246.1 68.5,1242.2 70.2,1237.4 71.9,1232 73.6,1226.6 75.3,1222 77,1219.6 78.7,1220.1 80.4,1223.7 82.1,1229.2 83.8,1235.5 85.5,1241.6 87.2,1247 88.9,1251.4 90.6,1254.9 92.3,1257.5 94.1,1259.4 95.8,1260.8 97.5,1261.7 99.2,1262.5 100.9,1263 102.6,1263.4" fill="none" stroke="#8b0f14" stroke-width="2.3"/>
<path d="M41.2,1351.4 42.9,1350.6 44.6,1353.3 46.3,1350.5 48,1350.8 49.7,1352.2 51.4,1349.5 53.1,1349.7 54.8,1350.2 56.5,1349.4 58.2,1348.1 59.9,1348.5 61.6,1347.5 63.3,1347.2 65.1,1343.2 66.8,1341.7 68.5,1340.3 70.2,1336.9 71.9,1328.7 73.6,1325.6 75.3,1318.9 77,1315.1 78.7,1313.5 80.4,1315.2 82.1,1320.7 83.8,1326 85.5,1331.5 87.2,1336.8 88.9,1342.3 90.6,1346.3 92.3,1350.3 94.1,1351.3 95.8,1353.7 97.5,1354.8 99.2,1355.7 100.9,1356.7 102.6,1357.1 104.3,1358.6 106,1357.5 107.7,1359.4 109.4,1357.8 111.1,1357.8 112.8,1358.6 114.5,1358.9 116.2,1359 117.9,1360.1 119.6,1360.1 121.4,1359.5 123.1,1358.7 124.8,1359 126.5,1360.5 128.2,1359.3 129.9,1357.7 131.6,1358.2 133.3,1358.1 135,1359.6 136.7,1358 138.4,1359.9 140.1,1357.8 141.8,1356.6 143.5,1355.2 145.2,1355.8 146.9,1353.6 148.6,1352 150.4,1352.4 152.1,1350.9 153.8,1351.2 155.5,1349.4 157.2,1346.2 158.9,1349.8 160.6,1347.5 162.3,1351.5 164,1352.7 165.7,1351.4 167.4,1351.8 169.1,1352.7 170.8,1356 172.5,1355.8 174.2,1356.2 175.9,1357.1 177.6,1359.9 179.4,1358.3 181.1,1358.8 182.8,1358.7 184.5,1358.7 186.2,1358.5 187.9,1356.3 189.6,1356.4 191.3,1355.4 193,1355 194.7,1356.5 196.4,1354.5 198.1,1354.6 199.8,1353.4 201.5,1352.7 203.2,1352.6 204.9,1349.2 206.7,1346 208.4,1342.6 210.1,1337.4 211.8,1332.5 213.5,1328.7 215.2,1327.1 216.9,1333.4 218.6,1338.8 220.3,1344.4 222,1346 223.7,1350.6 225.4,1345.8 227.1,1344.4 228.8,1338.2 230.5,1330.5 232.2,1324 233.9,1316.4 235.7,1311.5 237.4,1315.2 239.1,1324.1 240.8,1335.7 242.5,1341.9 244.2,1352.1 245.9,1360.8 247.6,1365.5 249.3,1368.7 251,1370.7 252.7,1372.6 254.4,1375.4 256.1,1377.2 257.8,1376.5 259.5,1378.1 261.2,1381.1 262.9,1381.2 264.7,1381.7 266.4,1382.7 268.1,1382.8 269.8,1384.9 271.5,1385.9 273.2,1386.4 274.9,1385 276.6,1384.9 278.3,1385.3 280,1385.3 281.7,1384.6 283.4,1383.9 285.1,1381.7 286.8,1380.3 288.5,1382.3 290.2,1380.8 292,1380.3 293.7,1378.8 295.4,1377.7 297.1,1379.5 298.8,1377.5 300.5,1374.7 302.2,1374.8 303.9,1373.2 305.6,1371.8 307.3,1371.9 309,1368 310.7,1365.4 312.4,1365.6 314.1,1364.2 315.8,1365.1 317.5,1365 319.2,1365.8 321,1365.9 322.7,1368.3 324.4,1368.8 326.1,1371.3 327.8,1371.8 329.5,1372.1 331.2,1374.7 332.9,1374.1 334.6,1376.6 336.3,1375.6 338,1375.4 339.7,1374.6 341.4,1373.8 343.1,1370.7 344.8,1373.5 346.5,1370.7 348.2,1371.8 350,1369.6 351.7,1369.6 353.4,1368.9 355.1,1367.3 356.8,1367 358.5,1365.9 360.2,1362.3 361.9,1357.8 363.6,1353.9 365.3,1349.3 367,1344.6 368.7,1339.8 370.4,1337.2 372.1,1337.5 373.8,1344.6 375.5,1351.4 377.3,1359.6 379,1368.9 380.7,1375.8 382.4,1381.8 384.1,1385 385.8,1389.4 387.5,1391.2 389.2,1395.4 390.9,1396.9 392.6,1399.1 394.3,1399.5 396,1399.7 397.7,1402.9 399.4,1400.4 401.1,1400.6 402.8,1401.7 404.5,1403.3 406.3,1402.8 408,1403 409.7,1402.6 411.4,1405.4 413.1,1403.6 414.8,1403.4 416.5,1404.5" fill="none" stroke="#111" stroke-width="2.0" stroke-linejoin="round"/>
<path d="M41.2,1350.9 42.9,1350.9 44.6,1350.8 46.3,1350.7 48,1350.6 49.7,1350.5 51.4,1350.3 53.1,1350.1 54.8,1349.8 56.5,1349.5 58.2,1348.9 59.9,1348.1 61.6,1347 63.3,1345.4 65.1,1343.1 66.8,1340.1 68.5,1336.2 70.2,1331.5 71.9,1326.3 73.6,1321 75.3,1316.6 77,1314.2 78.7,1314.8 80.4,1318.3 82.1,1323.8 83.8,1329.9 85.5,1335.9 87.2,1341.2 88.9,1345.5 90.6,1348.9 92.3,1351.5 94.1,1353.3 95.8,1354.7 97.5,1355.6 99.2,1356.3 100.9,1356.8 102.6,1357.2 104.3,1357.6 106,1357.8 107.7,1358 109.4,1358.2 111.1,1358.4 112.8,1358.6 114.5,1358.7 116.2,1358.8 117.9,1358.9 119.6,1359 121.4,1359 123.1,1359.1 124.8,1359.1 126.5,1359.1 128.2,1359 129.9,1358.9 131.6,1358.8 133.3,1358.5 135,1358.2 136.7,1357.8 138.4,1357.3 140.1,1356.6 141.8,1355.9 143.5,1355 145.2,1354.1 146.9,1353.1 148.6,1352.1 150.4,1351.1 152.1,1350.2 153.8,1349.5 155.5,1349.1 157.2,1349 158.9,1349.2 160.6,1349.8 162.3,1350.6 164,1351.6 165.7,1352.7 167.4,1353.8 169.1,1354.9 170.8,1355.8 172.5,1356.6 174.2,1357.2 175.9,1357.7 177.6,1358 179.4,1358.1 181.1,1358 182.8,1357.8 184.5,1357.5 186.2,1357.1 187.9,1356.7 189.6,1356.3 191.3,1355.9 193,1355.5 194.7,1355.1 196.4,1354.7 198.1,1354.3 199.8,1353.5 201.5,1352.3 203.2,1350.4 204.9,1347.5 206.7,1343.4 208.4,1338.2 210.1,1332.8 211.8,1328.6 213.5,1328 215.2,1331.4 216.9,1337 218.6,1342.4 220.3,1346.4 222,1348.2 223.7,1347.8 225.4,1345 227.1,1339.9 228.8,1333 230.5,1325 232.2,1317.7 233.9,1313.5 235.7,1314.7 237.4,1321.3 239.1,1330.9 240.8,1341 242.5,1350.2 244.2,1357.8 245.9,1363.6 247.6,1368 249.3,1371.1 251,1373.3 252.7,1374.9 254.4,1376.1 256.1,1377 257.8,1377.7 259.5,1378.2 261.2,1378.7 262.9,1379.1 264.7,1379.5 266.4,1379.8 268.1,1380 269.8,1380.2 271.5,1380.4 273.2,1380.6 274.9,1380.7 276.6,1380.8 278.3,1380.9 280,1381 281.7,1381 283.4,1380.9 285.1,1380.8 286.8,1380.7 288.5,1380.4 290.2,1380.1 292,1379.6 293.7,1379 295.4,1378.2 297.1,1377.2 298.8,1376.1 300.5,1374.7 302.2,1373.3 303.9,1371.7 305.6,1370 307.3,1368.4 309,1367 310.7,1365.8 312.4,1364.9 314.1,1364.5 315.8,1364.6 317.5,1365.2 319.2,1366.2 321,1367.5 322.7,1368.9 324.4,1370.4 326.1,1371.8 327.8,1373 329.5,1374 331.2,1374.7 332.9,1375.1 334.6,1375.2 336.3,1375.1 338,1374.6 339.7,1374 341.4,1373.3 343.1,1372.5 344.8,1371.7 346.5,1371 348.2,1370.3 350,1369.8 351.7,1369.3 353.4,1368.6 355.1,1367.6 356.8,1366 358.5,1363.6 360.2,1360.2 361.9,1355.8 363.6,1350.5 365.3,1344.8 367,1339.7 368.7,1336.8 370.4,1337.4 372.1,1341.9 373.8,1349.2 375.5,1357.7 377.3,1366.1 379,1373.6 380.7,1380 382.4,1385.1 384.1,1389.2 385.8,1392.3 387.5,1394.7 389.2,1396.5 390.9,1397.9 392.6,1399 394.3,1399.9 396,1400.6 397.7,1401.3 399.4,1401.8 401.1,1402.3 402.8,1402.7 404.5,1403 406.3,1403.3 408,1403.6 409.7,1403.9 411.4,1404.2 413.1,1404.4 414.8,1404.6 416.5,1404.8" fill="none" stroke="#f01820" stroke-width="2.4" stroke-linejoin="round"/>
<path d="M160.6,1363.1 162.3,1363.2 164,1363.3 165.7,1363.4 167.4,1363.4 169.1,1363.4 170.8,1363.3 172.5,1363.2 174.2,1363 175.9,1362.7 177.6,1362.5 179.4,1362.1 181.1,1361.8 182.8,1361.4 184.5,1361 186.2,1360.6 187.9,1360.3 189.6,1360 191.3,1359.8 193,1359.8 194.7,1359.9 196.4,1360.2 198.1,1360.6 199.8,1361.1 201.5,1361.8 203.2,1362.5 204.9,1363.3 206.7,1364.2 208.4,1365.1 210.1,1366.1 211.8,1367.1 213.5,1368.1 215.2,1369.1 216.9,1370 218.6,1370.8 220.3,1371.5 222,1372.1 223.7,1372.6 225.4,1373.1 227.1,1373.7 228.8,1374.2" fill="none" stroke="#1c1c8c" stroke-width="2.0"/>
<path d="M170.8,1364.3 172.5,1364.4 174.2,1364.5 175.9,1364.6 177.6,1364.6 179.4,1364.7 181.1,1364.7 182.8,1364.8 184.5,1364.8 186.2,1364.8 187.9,1364.8 189.6,1364.7 191.3,1364.6 193,1364.5 194.7,1364.3 196.4,1363.9 198.1,1363.3 199.8,1362.3 201.5,1360.8 203.2,1358.6 204.9,1355.3 206.7,1350.9 208.4,1345.6 210.1,1340 211.8,1335.8 213.5,1335.3 215.2,1339 216.9,1345.3 218.6,1351.8 220.3,1357.5 222,1362 223.7,1365.4 225.4,1367.8 227.1,1369.7 228.8,1371.2 230.5,1372.4 232.2,1373.6 233.9,1374.8 235.7,1376 237.4,1377.1 239.1,1378.1 240.8,1379 242.5,1379.7 244.2,1380.2 245.9,1380.7 247.6,1381 249.3,1381.3 251,1381.6 252.7,1381.8 254.4,1382" fill="none" stroke="#00e8f0" stroke-width="2.0"/>
<path d="M175.9,1364.7 177.6,1364.8 179.4,1364.9 181.1,1365 182.8,1365.1 184.5,1365.2 186.2,1365.3 187.9,1365.4 189.6,1365.5 191.3,1365.5 193,1365.6 194.7,1365.7 196.4,1365.8 198.1,1365.9 199.8,1366 201.5,1366 203.2,1366.1 204.9,1366.1 206.7,1366.2 208.4,1366.3 210.1,1366.3 211.8,1366.4 213.5,1366.5 215.2,1366.3 216.9,1365.9 218.6,1365 220.3,1363.5 222,1361 223.7,1357.4 225.4,1352.4 227.1,1345.8 228.8,1337.8 230.5,1329.1 232.2,1321.2 233.9,1316.7 235.7,1317.5 237.4,1323.8 239.1,1333.2 240.8,1343.2 242.5,1352.3 244.2,1359.7 245.9,1365.5 247.6,1369.7 249.3,1372.8 251,1375 252.7,1376.5 254.4,1377.7 256.1,1378.5 257.8,1379.2 259.5,1379.8 261.2,1380.2 262.9,1380.6 264.7,1381 266.4,1381.3 268.1,1381.6 269.8,1381.8 271.5,1382 273.2,1382.2 274.9,1382.4 276.6,1382.6 278.3,1382.8 280,1382.9 281.7,1383.1 283.4,1383.2 285.1,1383.3 286.8,1383.5 288.5,1383.6 290.2,1383.7 292,1383.9 293.7,1384" fill="none" stroke="#8c8a10" stroke-width="2.0"/>
<path d="M274.9,1383.1 276.6,1383.1 278.3,1383.2 280,1383.1 281.7,1383.1 283.4,1383 285.1,1382.9 286.8,1382.7 288.5,1382.5 290.2,1382.1 292,1381.7 293.7,1381 295.4,1380.3 297.1,1379.3 298.8,1378.2 300.5,1376.9 302.2,1375.5 303.9,1374 305.6,1372.5 307.3,1371 309,1369.6 310.7,1368.6 312.4,1367.9 314.1,1367.7 315.8,1368 317.5,1368.9 319.2,1370.2 321,1371.9 322.7,1373.9 324.4,1375.9 326.1,1378 327.8,1379.9 329.5,1381.8 331.2,1383.5 332.9,1385 334.6,1386.3 336.3,1387.4 338,1388.4 339.7,1389.2 341.4,1390 343.1,1390.6 344.8,1391.1 346.5,1391.6 348.2,1392.1 350,1392.6 351.7,1393 353.4,1393.5 355.1,1393.9" fill="none" stroke="#f5e800" stroke-width="2.0"/>
<path d="M288.5,1383.7 290.2,1383.8 292,1383.9 293.7,1383.9 295.4,1384 297.1,1384.1 298.8,1384.2 300.5,1384.3 302.2,1384.4 303.9,1384.5 305.6,1384.6 307.3,1384.8 309,1385 310.7,1385.1 312.4,1385.3 314.1,1385.5 315.8,1385.6 317.5,1385.7 319.2,1385.8 321,1385.7 322.7,1385.6 324.4,1385.5 326.1,1385.2 327.8,1384.8 329.5,1384.3 331.2,1383.7 332.9,1383 334.6,1382.2 336.3,1381.4 338,1380.5 339.7,1379.6 341.4,1378.7 343.1,1378 344.8,1377.4 346.5,1377 348.2,1377 350,1377.4 351.7,1378.1 353.4,1379.1 355.1,1380.3 356.8,1381.8 358.5,1383.3 360.2,1385 361.9,1386.6 363.6,1388.3 365.3,1390 367,1391.7 368.7,1393.3 370.4,1395 372.1,1396.5 373.8,1397.9 375.5,1399.1 377.3,1400.2 379,1401.1 380.7,1401.8 382.4,1402.4 384.1,1402.9 385.8,1403.3 387.5,1403.7 389.2,1404 390.9,1404.2 392.6,1404.5 394.3,1404.7 396,1404.9 397.7,1405 399.4,1405.2 401.1,1405.3 402.8,1405.5 404.5,1405.6 406.3,1405.7 408,1405.8 409.7,1405.9" fill="none" stroke="#ff2ce0" stroke-width="2.0"/>
<path d="M300.5,1384.5 302.2,1384.7 303.9,1384.9 305.6,1385 307.3,1385.3 309,1385.5 310.7,1385.7 312.4,1386 314.1,1386.3 315.8,1386.6 317.5,1386.9 319.2,1387.1 321,1387.4 322.7,1387.6 324.4,1387.8 326.1,1388 327.8,1388.2 329.5,1388.3 331.2,1388.4 332.9,1388.5 334.6,1388.6 336.3,1388.6 338,1388.6 339.7,1388.6 341.4,1388.5 343.1,1388.4 344.8,1388.2 346.5,1387.9 348.2,1387.5 350,1386.8 351.7,1385.9 353.4,1384.5 355.1,1382.5 356.8,1379.8 358.5,1376.2 360.2,1371.6 361.9,1366 363.6,1359.6 365.3,1352.8 367,1346.8 368.7,1343 370.4,1342.9 372.1,1346.7 373.8,1353.4 375.5,1361.4 377.3,1369.4 379,1376.5 380.7,1382.5 382.4,1387.4 384.1,1391.3 385.8,1394.2 387.5,1396.5 389.2,1398.1 390.9,1399.4 392.6,1400.4 394.3,1401.2 396,1401.9 397.7,1402.4 399.4,1402.9 401.1,1403.3 402.8,1403.7 404.5,1404 406.3,1404.2 408,1404.5 409.7,1404.7 411.4,1404.9 413.1,1405.1 414.8,1405.3 416.5,1405.5" fill="none" stroke="#2222e6" stroke-width="2.0"/>
<path d="M41.2,1352.2 42.9,1352.3 44.6,1352.3 46.3,1352.4 48,1352.4 49.7,1352.5 51.4,1352.6 53.1,1352.6 54.8,1352.7 56.5,1352.8 58.2,1352.8 59.9,1352.9 61.6,1353 63.3,1353.2 65.1,1353.3 66.8,1353.5 68.5,1353.7 70.2,1354 71.9,1354.3 73.6,1354.7 75.3,1355.2 77,1355.8 78.7,1356.4 80.4,1356.9 82.1,1357.5 83.8,1358 85.5,1358.4 87.2,1358.7 88.9,1359 90.6,1359.2 92.3,1359.4 94.1,1359.6 95.8,1359.7 97.5,1359.8 99.2,1359.9 100.9,1360 102.6,1360 104.3,1360.1 106,1360.2 107.7,1360.3 109.4,1360.3 111.1,1360.4 112.8,1360.5 114.5,1360.5 116.2,1360.6 117.9,1360.6 119.6,1360.7 121.4,1360.8 123.1,1360.8 124.8,1360.9 126.5,1360.9 128.2,1361 129.9,1361.1 131.6,1361.1 133.3,1361.2 135,1361.3 136.7,1361.4 138.4,1361.4 140.1,1361.5 141.8,1361.6 143.5,1361.8 145.2,1361.9 146.9,1362 148.6,1362.2 150.4,1362.4 152.1,1362.5 153.8,1362.7 155.5,1363 157.2,1363.2 158.9,1363.4 160.6,1363.6 162.3,1363.9 164,1364.1 165.7,1364.3 167.4,1364.5 169.1,1364.7 170.8,1364.8 172.5,1365 174.2,1365.1 175.9,1365.3 177.6,1365.4 179.4,1365.5 181.1,1365.7 182.8,1365.8 184.5,1366 186.2,1366.1 187.9,1366.3 189.6,1366.4 191.3,1366.6 193,1366.8 194.7,1367 196.4,1367.2 198.1,1367.4 199.8,1367.6 201.5,1367.8 203.2,1368.1 204.9,1368.4 206.7,1368.7 208.4,1369 210.1,1369.5 211.8,1370 213.5,1370.6 215.2,1371.2 216.9,1371.8 218.6,1372.3 220.3,1372.7 222,1373.1 223.7,1373.5 225.4,1373.9 227.1,1374.3 228.8,1374.8 230.5,1375.4 232.2,1376.1 233.9,1376.9 235.7,1377.8 237.4,1378.7 239.1,1379.5 240.8,1380.2 242.5,1380.8 244.2,1381.2 245.9,1381.6 247.6,1381.9 249.3,1382.1 251,1382.3 252.7,1382.4 254.4,1382.6 256.1,1382.7 257.8,1382.8 259.5,1382.9 261.2,1383 262.9,1383.1 264.7,1383.2 266.4,1383.3 268.1,1383.4 269.8,1383.4 271.5,1383.5 273.2,1383.6 274.9,1383.7 276.6,1383.8 278.3,1383.8 280,1383.9 281.7,1384 283.4,1384.1 285.1,1384.1 286.8,1384.2 288.5,1384.3 290.2,1384.4 292,1384.5 293.7,1384.6 295.4,1384.7 297.1,1384.8 298.8,1385 300.5,1385.1 302.2,1385.3 303.9,1385.5 305.6,1385.7 307.3,1386 309,1386.3 310.7,1386.6 312.4,1386.9 314.1,1387.2 315.8,1387.5 317.5,1387.9 319.2,1388.2 321,1388.6 322.7,1388.9 324.4,1389.2 326.1,1389.5 327.8,1389.7 329.5,1390 331.2,1390.3 332.9,1390.5 334.6,1390.8 336.3,1391 338,1391.2 339.7,1391.5 341.4,1391.8 343.1,1392.1 344.8,1392.4 346.5,1392.7 348.2,1393 350,1393.4 351.7,1393.7 353.4,1394.1 355.1,1394.4 356.8,1394.8 358.5,1395.3 360.2,1395.7 361.9,1396.2 363.6,1396.8 365.3,1397.5 367,1398.2 368.7,1399.1 370.4,1399.9 372.1,1400.8 373.8,1401.6 375.5,1402.4 377.3,1403 379,1403.5 380.7,1404 382.4,1404.3 384.1,1404.6 385.8,1404.9 387.5,1405.1 389.2,1405.3 390.9,1405.4 392.6,1405.6 394.3,1405.7 396,1405.8 397.7,1405.9 399.4,1406 401.1,1406.1 402.8,1406.2 404.5,1406.3 406.3,1406.3 408,1406.4 409.7,1406.5 411.4,1406.6 413.1,1406.6 414.8,1406.7 416.5,1406.8" fill="none" stroke="#7a1414" stroke-width="1.9"/>
<path d="M41.2,1352.2 42.9,1352.2 44.6,1352.3 46.3,1352.3 48,1352.4 49.7,1352.4 51.4,1352.5 53.1,1352.6 54.8,1352.6 56.5,1352.7 58.2,1352.8 59.9,1352.9 61.6,1353 63.3,1353.1 65.1,1353.2 66.8,1353.4 68.5,1353.6 70.2,1353.9 71.9,1354.2 73.6,1354.6 75.3,1355.1 77,1355.7 78.7,1356.3 80.4,1356.8 82.1,1357.4 83.8,1357.9 85.5,1358.3 87.2,1358.6 88.9,1358.9 90.6,1359.1 92.3,1359.3 94.1,1359.4 95.8,1359.5 97.5,1359.6 99.2,1359.7 100.9,1359.8 102.6,1359.8 104.3,1359.9 106,1360 107.7,1360 109.4,1360.1 111.1,1360.1 112.8,1360.2 114.5,1360.2 116.2,1360.2 117.9,1360.3 119.6,1360.3 121.4,1360.3 123.1,1360.3 124.8,1360.3 126.5,1360.2 128.2,1360.2 129.9,1360.1 131.6,1359.9 133.3,1359.7 135,1359.3 136.7,1358.9 138.4,1358.4 140.1,1357.8 141.8,1357 143.5,1356.2 145.2,1355.3 146.9,1354.3 148.6,1353.3 150.4,1352.4 152.1,1351.5 153.8,1350.9 155.5,1350.5 157.2,1350.5 158.9,1350.8 160.6,1351.5 162.3,1352.4 164,1353.6 165.7,1354.8 167.4,1356.2 169.1,1357.5 170.8,1358.7 172.5,1359.9 174.2,1361 175.9,1361.9 177.6,1362.7 179.4,1363.4 181.1,1363.9 182.8,1364.4 184.5,1364.8 186.2,1365.2 187.9,1365.5 189.6,1365.8 191.3,1366.1" fill="none" stroke="#9a2a9e" stroke-width="2.0"/>
<path d="M53.1,1350.4 54.8,1350.1 56.5,1349.7 58.2,1349.2 59.9,1348.4 61.6,1347.3 63.3,1345.7 65.1,1343.4 66.8,1340.4 68.5,1336.5 70.2,1331.9 71.9,1326.6 73.6,1321.4 75.3,1316.9 77,1314.6 78.7,1315.2 80.4,1318.7 82.1,1324.1 83.8,1330.3 85.5,1336.3 87.2,1341.6 88.9,1345.9 90.6,1349.4 92.3,1351.9 94.1,1353.8 95.8,1355.2 97.5,1356.1 99.2,1356.8 100.9,1357.4 102.6,1357.8" fill="none" stroke="#8b0f14" stroke-width="2.3"/>
</g>
<line x1="78.4" y1="1040.6" x2="78.4" y2="1347.0" stroke="#333" stroke-width="1.6" stroke-dasharray="4.7,4.5"/>
<line x1="158.2" y1="1038.5" x2="158.2" y2="1371.2" stroke="#333" stroke-width="1.6" stroke-dasharray="4.7,4.5"/>
<line x1="194.1" y1="1044.8" x2="194.1" y2="1377.5" stroke="#333" stroke-width="1.6" stroke-dasharray="4.7,4.5"/>
<line x1="213.1" y1="1031.1" x2="213.1" y2="1362.8" stroke="#333" stroke-width="1.6" stroke-dasharray="4.7,4.5"/>
<line x1="234.8" y1="1025.0" x2="234.8" y2="1376.4" stroke="#333" stroke-width="1.6" stroke-dasharray="4.7,4.5"/>
<line x1="315.0" y1="1052.3" x2="315.0" y2="1421.0" stroke="#333" stroke-width="1.6" stroke-dasharray="4.7,4.5"/>
<line x1="350.2" y1="1055.5" x2="350.2" y2="1406.8" stroke="#333" stroke-width="1.6" stroke-dasharray="4.7,4.5"/>
<line x1="370.2" y1="1040.3" x2="370.2" y2="1405.7" stroke="#333" stroke-width="1.6" stroke-dasharray="4.7,4.5"/>
<text x="50.6" y="1039.8" font-size="22" text-anchor="start" >E</text>
<text x="86.3" y="1031.1" font-size="15" text-anchor="start" >U&#39;&#39;&#39;</text>
<text x="153.8" y="1033.2" font-size="15" text-anchor="start" >U&#39;&#39;</text>
<text x="185.5" y="1034.3" font-size="15" text-anchor="start" >U&#39;</text>
<text x="217.2" y="1028.0" font-size="15" text-anchor="start" >U</text>
<text x="239.0" y="1030.6" font-size="15" text-anchor="start" >V&#39;&#39;&#39;</text>
<text x="310.5" y="1050.0" font-size="15" text-anchor="start" >V&#39;&#39;</text>
<text x="341.8" y="1048.0" font-size="15" text-anchor="start" >V&#39;</text>
<text x="367.8" y="1030.6" font-size="15" text-anchor="start" >V</text>
<text x="91.7" y="1107.0" font-size="12.8">CeO<tspan font-size="6.7" dy="5">2</tspan><tspan dy="-5">-H750</tspan></text>
<text x="66.4" y="1194.9" font-size="12.8">CeO<tspan font-size="6.7" dy="5">2</tspan><tspan dy="-5">-H750-O350</tspan></text>
<text x="66.4" y="1291.2" font-size="12.8">CeO<tspan font-size="6.7" dy="5">2</tspan><tspan dy="-5">-H750-O450</tspan></text>
<text x="65.3" y="1379.8" font-size="12.8">CeO<tspan font-size="6.7" dy="5">2</tspan><tspan dy="-5">-H750-O550</tspan></text>
<rect x="41.2" y="1011.1" width="375.2" height="410.7" fill="none" stroke="#2b2b2b" stroke-width="1.9"/>
<line x1="49.7" y1="1421.8" x2="49.7" y2="1428.8" stroke="#1a1a1a" stroke-width="1.7"/>
<text x="49.7" y="1444.8" font-size="14" text-anchor="middle" >920</text>
<line x1="92.3" y1="1421.8" x2="92.3" y2="1428.8" stroke="#1a1a1a" stroke-width="1.7"/>
<text x="92.3" y="1444.8" font-size="14" text-anchor="middle" >915</text>
<line x1="135.0" y1="1421.8" x2="135.0" y2="1428.8" stroke="#1a1a1a" stroke-width="1.7"/>
<text x="135.0" y="1444.8" font-size="14" text-anchor="middle" >910</text>
<line x1="177.6" y1="1421.8" x2="177.6" y2="1428.8" stroke="#1a1a1a" stroke-width="1.7"/>
<text x="177.6" y="1444.8" font-size="14" text-anchor="middle" >905</text>
<line x1="220.3" y1="1421.8" x2="220.3" y2="1428.8" stroke="#1a1a1a" stroke-width="1.7"/>
<text x="220.3" y="1444.8" font-size="14" text-anchor="middle" >900</text>
<line x1="262.9" y1="1421.8" x2="262.9" y2="1428.8" stroke="#1a1a1a" stroke-width="1.7"/>
<text x="262.9" y="1444.8" font-size="14" text-anchor="middle" >895</text>
<line x1="305.6" y1="1421.8" x2="305.6" y2="1428.8" stroke="#1a1a1a" stroke-width="1.7"/>
<text x="305.6" y="1444.8" font-size="14" text-anchor="middle" >890</text>
<line x1="348.2" y1="1421.8" x2="348.2" y2="1428.8" stroke="#1a1a1a" stroke-width="1.7"/>
<text x="348.2" y="1444.8" font-size="14" text-anchor="middle" >885</text>
<line x1="390.9" y1="1421.8" x2="390.9" y2="1428.8" stroke="#1a1a1a" stroke-width="1.7"/>
<text x="390.9" y="1444.8" font-size="14" text-anchor="middle" >880</text>
<line x1="71.0" y1="1421.8" x2="71.0" y2="1425.8" stroke="#1a1a1a" stroke-width="1.5"/>
<line x1="113.7" y1="1421.8" x2="113.7" y2="1425.8" stroke="#1a1a1a" stroke-width="1.5"/>
<line x1="156.3" y1="1421.8" x2="156.3" y2="1425.8" stroke="#1a1a1a" stroke-width="1.5"/>
<line x1="199.0" y1="1421.8" x2="199.0" y2="1425.8" stroke="#1a1a1a" stroke-width="1.5"/>
<line x1="241.6" y1="1421.8" x2="241.6" y2="1425.8" stroke="#1a1a1a" stroke-width="1.5"/>
<line x1="284.3" y1="1421.8" x2="284.3" y2="1425.8" stroke="#1a1a1a" stroke-width="1.5"/>
<line x1="326.9" y1="1421.8" x2="326.9" y2="1425.8" stroke="#1a1a1a" stroke-width="1.5"/>
<line x1="369.6" y1="1421.8" x2="369.6" y2="1425.8" stroke="#1a1a1a" stroke-width="1.5"/>
<line x1="412.2" y1="1421.8" x2="412.2" y2="1425.8" stroke="#1a1a1a" stroke-width="1.5"/>
<text x="152.5" y="1465.2" font-size="20.5" text-anchor="start" >Binding Enenrgy(eV)</text>
<text x="0" y="0" font-size="21.4" text-anchor="middle" transform="translate(26.1,1214.4) rotate(-90)">Intensity(a.u)</text>
<g clip-path="url(#clipF)">
<path d="M510.5,1107.8 512.8,1107.8 515.2,1107.8 517.5,1107.8 519.9,1107.8 522.2,1107.8 524.5,1107.8 526.9,1107.8 529.2,1107.8 531.6,1107.8 533.9,1107.8 536.2,1107.8 538.6,1107.8 540.9,1107.8 543.3,1107.8 545.6,1107.8 548,1107.8 550.3,1107.8 552.6,1107.8 555,1107.8 557.3,1107.8 559.7,1107.8 562,1107.8 564.3,1107.8 566.7,1107.8 569,1107.8 571.4,1107.8 573.7,1107.8 576,1107.8 578.4,1107.8 580.7,1107.8 583.1,1107.8 585.4,1107.8 587.7,1107.7 590.1,1107.7 592.4,1107.7 594.8,1107.7 597.1,1107.7 599.4,1107.7 601.8,1107.6 604.1,1107.6 606.5,1107.5 608.8,1107.5 611.1,1107.4 613.5,1107.4 615.8,1107.3 618.2,1107.2 620.5,1107.1 622.9,1106.9 625.2,1106.8 627.5,1106.6 629.9,1106.4 632.2,1106.2 634.6,1105.9 636.9,1105.6 639.2,1105.3 641.6,1105 643.9,1104.6 646.3,1104.2 648.6,1103.8 650.9,1103.4 653.3,1103 655.6,1102.5 658,1102.1 660.3,1101.7 662.6,1101.3 665,1100.9 667.3,1100.6 669.7,1100.3 672,1100.1 674.3,1099.9 676.7,1099.8 679,1099.8 681.4,1099.8 683.7,1099.8 686,1099.9 688.4,1099.9 690.7,1100 693.1,1100.1 695.4,1100.2 697.8,1100.2 700.1,1100.3 702.4,1100.3 704.8,1100.2 707.1,1100.1 709.5,1100 711.8,1099.8 714.1,1099.5 716.5,1099.2 718.8,1098.7 721.2,1098 723.5,1097.2 725.8,1096.1 728.2,1094.8 730.5,1093.2 732.9,1091.2 735.2,1088.9 737.5,1086.1 739.9,1083.1 742.2,1079.6 744.6,1075.9 746.9,1072 749.2,1068 751.6,1064 753.9,1060.3 756.3,1056.9 758.6,1054.3 760.9,1052.4 763.3,1051.6 765.6,1051.9 768,1053 770.3,1055 772.7,1057.8 775,1061.2 777.3,1065.1 779.7,1069.3 782,1073.7 784.4,1078.1 786.7,1082.4 789,1086.4 791.4,1090.2 793.7,1093.6 796.1,1096.5 798.4,1099.1 800.7,1101.2 803.1,1103 805.4,1104.4 807.8,1105.6 810.1,1106.5 812.4,1107.1 814.8,1107.7 817.1,1108 819.5,1108.3 821.8,1108.5 824.1,1108.7 826.5,1108.8 828.8,1108.8 831.2,1108.9 833.5,1108.9 835.8,1108.9 838.2,1109 840.5,1109 842.9,1109 845.2,1109 847.5,1109 849.9,1109 852.2,1109 854.6,1109 856.9,1109 859.3,1109.1 861.6,1109.1 863.9,1109.1 866.3,1109.1 868.6,1109.1 871,1109.1 873.3,1109.1 875.6,1109.1 878,1109.1 880.3,1109.1 882.7,1109.1 885,1109.2" fill="none" stroke="#111" stroke-width="1.7"/>
<path d="M510.5,1107.7 512.8,1107.7 515.2,1107.7 517.5,1107.7 519.9,1107.7 522.2,1107.7 524.5,1107.7 526.9,1107.7 529.2,1107.7 531.6,1107.7 533.9,1107.7 536.2,1107.7 538.6,1107.7 540.9,1107.7 543.3,1107.7 545.6,1107.7 548,1107.7 550.3,1107.7 552.6,1107.7 555,1107.7 557.3,1107.7 559.7,1107.7 562,1107.7 564.3,1107.7 566.7,1107.7 569,1107.7 571.4,1107.7 573.7,1107.7 576,1107.7 578.4,1107.6 580.7,1107.6 583.1,1107.6 585.4,1107.6 587.7,1107.6 590.1,1107.6 592.4,1107.6 594.8,1107.5 597.1,1107.5 599.4,1107.5 601.8,1107.4 604.1,1107.4 606.5,1107.3 608.8,1107.3 611.1,1107.2 613.5,1107.2 615.8,1107.1 618.2,1107 620.5,1106.8 622.9,1106.7 625.2,1106.5 627.5,1106.3 629.9,1106.1 632.2,1105.9 634.6,1105.6 636.9,1105.3 639.2,1105 641.6,1104.7 643.9,1104.3 646.3,1103.9 648.6,1103.4 650.9,1103 653.3,1102.6 655.6,1102.1 658,1101.7 660.3,1101.2 662.6,1100.8 665,1100.4 667.3,1100.1 669.7,1099.7 672,1099.5 674.3,1099.3 676.7,1099.2 679,1099.1 681.4,1099 683.7,1099 686,1099 688.4,1099.1 690.7,1099.1 693.1,1099.1 695.4,1099.1 697.8,1099.1 700.1,1099.1 702.4,1099 704.8,1098.9 707.1,1098.8 709.5,1098.6 711.8,1098.4 714.1,1098.2 716.5,1097.9 718.8,1097.5 721.2,1097.1 723.5,1096.6 725.8,1095.9 728.2,1095 730.5,1093.9 732.9,1092.5 735.2,1090.8 737.5,1088.6 739.9,1086 742.2,1082.8 744.6,1079.2 746.9,1075 749.2,1070.3 751.6,1065.2 753.9,1060 756.3,1055.1 758.6,1051 760.9,1048.2 763.3,1047.3 765.6,1048.4 768,1051.3 770.3,1055.7 772.7,1060.8 775,1066.2 777.3,1071.5 779.7,1076.5 782,1081 784.4,1084.9 786.7,1088.4 789,1091.3 791.4,1093.8 793.7,1095.9 796.1,1097.6 798.4,1099.1 800.7,1100.2 803.1,1101.2 805.4,1102 807.8,1102.7 810.1,1103.3 812.4,1103.8 814.8,1104.2 817.1,1104.6 819.5,1105 821.8,1105.3 824.1,1105.5 826.5,1105.8 828.8,1106 831.2,1106.2 833.5,1106.4 835.8,1106.5 838.2,1106.7 840.5,1106.8 842.9,1106.9 845.2,1107.1 847.5,1107.2 849.9,1107.3 852.2,1107.4 854.6,1107.5 856.9,1107.6 859.3,1107.6 861.6,1107.7 863.9,1107.8 866.3,1107.8 868.6,1107.9 871,1108 873.3,1108 875.6,1108.1 878,1108.1 880.3,1108.2 882.7,1108.2 885,1108.3" fill="none" stroke="#ee1a22" stroke-width="2.2"/>
<path d="M510.5,1108 512.8,1108 515.2,1108 517.5,1108 519.9,1108 522.2,1108 524.5,1108 526.9,1108.1 529.2,1108.1 531.6,1108.1 533.9,1108.1 536.2,1108.1 538.6,1108.1 540.9,1108.1 543.3,1108.1 545.6,1108.1 548,1108.1 550.3,1108.1 552.6,1108.1 555,1108.1 557.3,1108.2 559.7,1108.2 562,1108.2 564.3,1108.2 566.7,1108.2 569,1108.2 571.4,1108.2 573.7,1108.2 576,1108.2 578.4,1108.2 580.7,1108.2 583.1,1108.2 585.4,1108.2 587.7,1108.3 590.1,1108.3 592.4,1108.3 594.8,1108.3 597.1,1108.3 599.4,1108.3 601.8,1108.3 604.1,1108.3 606.5,1108.3 608.8,1108.3 611.1,1108.4 613.5,1108.4 615.8,1108.4 618.2,1108.4 620.5,1108.4 622.9,1108.4 625.2,1108.4 627.5,1108.5 629.9,1108.5 632.2,1108.5 634.6,1108.5 636.9,1108.5 639.2,1108.6 641.6,1108.6 643.9,1108.6 646.3,1108.7 648.6,1108.7 650.9,1108.7 653.3,1108.8 655.6,1108.8 658,1108.8 660.3,1108.9 662.6,1108.9 665,1109 667.3,1109 669.7,1109.1 672,1109.1 674.3,1109.2 676.7,1109.2 679,1109.3 681.4,1109.3 683.7,1109.4 686,1109.5 688.4,1109.5 690.7,1109.6 693.1,1109.6 695.4,1109.7 697.8,1109.8 700.1,1109.8 702.4,1109.9 704.8,1109.9 707.1,1110 709.5,1110 711.8,1110 714.1,1110.1 716.5,1110.1 718.8,1110.1 721.2,1110.2 723.5,1110.2 725.8,1110.2 728.2,1110.2 730.5,1110.2 732.9,1110.2 735.2,1110.2 737.5,1110.2 739.9,1110.2 742.2,1110.2 744.6,1110.1 746.9,1110.1 749.2,1110.1 751.6,1110 753.9,1110 756.3,1110 758.6,1109.9 760.9,1109.9 763.3,1109.8 765.6,1109.8 768,1109.8 770.3,1109.7 772.7,1109.7 775,1109.6 777.3,1109.6 779.7,1109.5 782,1109.5 784.4,1109.5 786.7,1109.4 789,1109.4 791.4,1109.4 793.7,1109.3 796.1,1109.3 798.4,1109.3 800.7,1109.2 803.1,1109.2 805.4,1109.2 807.8,1109.2 810.1,1109.2 812.4,1109.2 814.8,1109.1 817.1,1109.1 819.5,1109.1 821.8,1109.1 824.1,1109.1 826.5,1109.1 828.8,1109.1 831.2,1109.1 833.5,1109.1 835.8,1109.1 838.2,1109.1 840.5,1109.1 842.9,1109.1 845.2,1109.1 847.5,1109.1 849.9,1109.1 852.2,1109.1 854.6,1109.1 856.9,1109.1 859.3,1109.1 861.6,1109.1 863.9,1109.1 866.3,1109.1 868.6,1109.2 871,1109.2 873.3,1109.2 875.6,1109.2 878,1109.2 880.3,1109.2 882.7,1109.2 885,1109.2" fill="none" stroke="#20d040" stroke-width="1.6"/>
<path d="M510.5,1107.8 512.8,1107.8 515.2,1107.8 517.5,1107.8 519.9,1107.8 522.2,1107.8 524.5,1107.8 526.9,1107.8 529.2,1107.8 531.6,1107.8 533.9,1107.8 536.2,1107.8 538.6,1107.8 540.9,1107.8 543.3,1107.8 545.6,1107.8 548,1107.8 550.3,1107.8 552.6,1107.8 555,1107.8 557.3,1107.8 559.7,1107.8 562,1107.8 564.3,1107.8 566.7,1107.8 569,1107.8 571.4,1107.8 573.7,1107.8 576,1107.8 578.4,1107.8 580.7,1107.8 583.1,1107.8 585.4,1107.8 587.7,1107.8 590.1,1107.8 592.4,1107.8 594.8,1107.8 597.1,1107.8 599.4,1107.8 601.8,1107.8 604.1,1107.8 606.5,1107.8 608.8,1107.8 611.1,1107.7 613.5,1107.7 615.8,1107.7 618.2,1107.7 620.5,1107.7 622.9,1107.7 625.2,1107.7 627.5,1107.7 629.9,1107.6 632.2,1107.6 634.6,1107.6 636.9,1107.6 639.2,1107.5 641.6,1107.5 643.9,1107.5 646.3,1107.5 648.6,1107.4 650.9,1107.4 653.3,1107.4 655.6,1107.3 658,1107.3 660.3,1107.2 662.6,1107.2 665,1107.1 667.3,1107.1 669.7,1107 672,1106.9 674.3,1106.9 676.7,1106.8 679,1106.7 681.4,1106.6 683.7,1106.5 686,1106.4 688.4,1106.3 690.7,1106.1 693.1,1106 695.4,1105.8 697.8,1105.6 700.1,1105.4 702.4,1105.2 704.8,1105 707.1,1104.7 709.5,1104.4 711.8,1104 714.1,1103.6 716.5,1103.1 718.8,1102.6 721.2,1101.9 723.5,1101.1 725.8,1100.1 728.2,1099 730.5,1097.6 732.9,1095.9 735.2,1093.8 737.5,1091.4 739.9,1088.5 742.2,1085 744.6,1081.1 746.9,1076.7 749.2,1071.7 751.6,1066.5 753.9,1061.1 756.3,1056 758.6,1051.8 760.9,1048.9 763.3,1047.9 765.6,1048.9 768,1051.8 770.3,1056 772.7,1061.1 775,1066.5 777.3,1071.8 779.7,1076.7 782,1081.2 784.4,1085.1 786.7,1088.6 789,1091.5 791.4,1094 793.7,1096.1 796.1,1097.8 798.4,1099.2 800.7,1100.4 803.1,1101.3 805.4,1102.2 807.8,1102.8 810.1,1103.4 812.4,1103.9 814.8,1104.3 817.1,1104.7 819.5,1105.1 821.8,1105.3 824.1,1105.6 826.5,1105.8 828.8,1106.1 831.2,1106.3 833.5,1106.4 835.8,1106.6 838.2,1106.8 840.5,1106.9 842.9,1107 845.2,1107.1 847.5,1107.2 849.9,1107.3 852.2,1107.4 854.6,1107.5 856.9,1107.6 859.3,1107.7 861.6,1107.8 863.9,1107.8 866.3,1107.9 868.6,1108 871,1108 873.3,1108.1 875.6,1108.1 878,1108.2 880.3,1108.2 882.7,1108.3 885,1108.3" fill="none" stroke="#2a20d8" stroke-width="1.8"/>
<path d="M510.5,1107.9 512.8,1107.9 515.2,1108 517.5,1108 519.9,1108 522.2,1108 524.5,1108 526.9,1108 529.2,1108 531.6,1108 533.9,1108 536.2,1108 538.6,1108 540.9,1108 543.3,1108 545.6,1108 548,1108 550.3,1108 552.6,1108 555,1108 557.3,1108 559.7,1108 562,1108 564.3,1108 566.7,1108 569,1108 571.4,1108 573.7,1108 576,1108 578.4,1108 580.7,1108 583.1,1108 585.4,1108 587.7,1108 590.1,1108 592.4,1108 594.8,1108 597.1,1108 599.4,1108 601.8,1108 604.1,1107.9 606.5,1107.9 608.8,1107.9 611.1,1107.8 613.5,1107.8 615.8,1107.7 618.2,1107.6 620.5,1107.5 622.9,1107.4 625.2,1107.3 627.5,1107.1 629.9,1106.9 632.2,1106.7 634.6,1106.5 636.9,1106.2 639.2,1105.9 641.6,1105.6 643.9,1105.2 646.3,1104.9 648.6,1104.5 650.9,1104.1 653.3,1103.7 655.6,1103.3 658,1102.9 660.3,1102.6 662.6,1102.2 665,1101.9 667.3,1101.7 669.7,1101.5 672,1101.4 674.3,1101.4 676.7,1101.4 679,1101.5 681.4,1101.7 683.7,1102 686,1102.3 688.4,1102.6 690.7,1103 693.1,1103.4 695.4,1103.8 697.8,1104.2 700.1,1104.6 702.4,1105 704.8,1105.4 707.1,1105.7 709.5,1106.1 711.8,1106.4 714.1,1106.7 716.5,1106.9 718.8,1107.2 721.2,1107.4 723.5,1107.5 725.8,1107.7 728.2,1107.8 730.5,1108 732.9,1108.1 735.2,1108.1 737.5,1108.2 739.9,1108.3 742.2,1108.3 744.6,1108.4 746.9,1108.4 749.2,1108.5 751.6,1108.5 753.9,1108.5 756.3,1108.5 758.6,1108.6 760.9,1108.6 763.3,1108.6 765.6,1108.6 768,1108.6 770.3,1108.7 772.7,1108.7 775,1108.7 777.3,1108.7 779.7,1108.7 782,1108.7 784.4,1108.7 786.7,1108.8 789,1108.8 791.4,1108.8 793.7,1108.8 796.1,1108.8 798.4,1108.8 800.7,1108.8 803.1,1108.8 805.4,1108.9 807.8,1108.9 810.1,1108.9 812.4,1108.9 814.8,1108.9 817.1,1108.9 819.5,1108.9 821.8,1108.9 824.1,1108.9 826.5,1108.9 828.8,1109 831.2,1109 833.5,1109 835.8,1109 838.2,1109 840.5,1109 842.9,1109 845.2,1109 847.5,1109 849.9,1109 852.2,1109 854.6,1109.1 856.9,1109.1 859.3,1109.1 861.6,1109.1 863.9,1109.1 866.3,1109.1 868.6,1109.1 871,1109.1 873.3,1109.1 875.6,1109.1 878,1109.1 880.3,1109.1 882.7,1109.2 885,1109.2" fill="none" stroke="#10e0e8" stroke-width="1.8"/>
<path d="M510.5,1108 512.8,1108 515.2,1108 517.5,1108 519.9,1108 522.2,1108 524.5,1108 526.9,1108 529.2,1108.1 531.6,1108.1 533.9,1108.1 536.2,1108.1 538.6,1108.1 540.9,1108.1 543.3,1108.1 545.6,1108.1 548,1108.1 550.3,1108.1 552.6,1108.1 555,1108.1 557.3,1108.1 559.7,1108.1 562,1108.2 564.3,1108.2 566.7,1108.2 569,1108.2 571.4,1108.2 573.7,1108.2 576,1108.2 578.4,1108.2 580.7,1108.2 583.1,1108.2 585.4,1108.2 587.7,1108.2 590.1,1108.2 592.4,1108.2 594.8,1108.3 597.1,1108.3 599.4,1108.3 601.8,1108.3 604.1,1108.3 606.5,1108.3 608.8,1108.3 611.1,1108.3 613.5,1108.3 615.8,1108.3 618.2,1108.3 620.5,1108.3 622.9,1108.3 625.2,1108.3 627.5,1108.4 629.9,1108.4 632.2,1108.4 634.6,1108.4 636.9,1108.4 639.2,1108.4 641.6,1108.4 643.9,1108.4 646.3,1108.4 648.6,1108.4 650.9,1108.4 653.3,1108.4 655.6,1108.4 658,1108.4 660.3,1108.4 662.6,1108.3 665,1108.3 667.3,1108.3 669.7,1108.2 672,1108.2 674.3,1108.1 676.7,1108 679,1107.9 681.4,1107.8 683.7,1107.7 686,1107.5 688.4,1107.3 690.7,1107.1 693.1,1106.9 695.4,1106.7 697.8,1106.5 700.1,1106.3 702.4,1106 704.8,1105.8 707.1,1105.6 709.5,1105.5 711.8,1105.3 714.1,1105.2 716.5,1105.2 718.8,1105.2 721.2,1105.2 723.5,1105.3 725.8,1105.4 728.2,1105.6 730.5,1105.8 732.9,1106 735.2,1106.2 737.5,1106.5 739.9,1106.7 742.2,1106.9 744.6,1107.2 746.9,1107.4 749.2,1107.6 751.6,1107.8 753.9,1108 756.3,1108.1 758.6,1108.2 760.9,1108.3 763.3,1108.4 765.6,1108.5 768,1108.6 770.3,1108.6 772.7,1108.7 775,1108.7 777.3,1108.8 779.7,1108.8 782,1108.8 784.4,1108.8 786.7,1108.8 789,1108.8 791.4,1108.9 793.7,1108.9 796.1,1108.9 798.4,1108.9 800.7,1108.9 803.1,1108.9 805.4,1108.9 807.8,1108.9 810.1,1108.9 812.4,1108.9 814.8,1109 817.1,1109 819.5,1109 821.8,1109 824.1,1109 826.5,1109 828.8,1109 831.2,1109 833.5,1109 835.8,1109 838.2,1109 840.5,1109 842.9,1109.1 845.2,1109.1 847.5,1109.1 849.9,1109.1 852.2,1109.1 854.6,1109.1 856.9,1109.1 859.3,1109.1 861.6,1109.1 863.9,1109.1 866.3,1109.1 868.6,1109.1 871,1109.1 873.3,1109.2 875.6,1109.2 878,1109.2 880.3,1109.2 882.7,1109.2 885,1109.2" fill="none" stroke="#8a2ad0" stroke-width="1.8"/>
<path d="M510.5,1108 512.8,1108 515.2,1108 517.5,1108 519.9,1108 522.2,1108 524.5,1108 526.9,1108.1 529.2,1108.1 531.6,1108.1 533.9,1108.1 536.2,1108.1 538.6,1108.1 540.9,1108.1 543.3,1108.1 545.6,1108.1 548,1108.1 550.3,1108.1 552.6,1108.1 555,1108.1 557.3,1108.2 559.7,1108.2 562,1108.2 564.3,1108.2 566.7,1108.2 569,1108.2 571.4,1108.2 573.7,1108.2 576,1108.2 578.4,1108.2 580.7,1108.2 583.1,1108.2 585.4,1108.2 587.7,1108.2 590.1,1108.3 592.4,1108.3 594.8,1108.3 597.1,1108.3 599.4,1108.3 601.8,1108.3 604.1,1108.3 606.5,1108.3 608.8,1108.3 611.1,1108.3 613.5,1108.3 615.8,1108.3 618.2,1108.3 620.5,1108.4 622.9,1108.4 625.2,1108.4 627.5,1108.4 629.9,1108.4 632.2,1108.4 634.6,1108.4 636.9,1108.4 639.2,1108.4 641.6,1108.4 643.9,1108.4 646.3,1108.4 648.6,1108.4 650.9,1108.5 653.3,1108.5 655.6,1108.5 658,1108.5 660.3,1108.5 662.6,1108.5 665,1108.5 667.3,1108.5 669.7,1108.5 672,1108.5 674.3,1108.5 676.7,1108.5 679,1108.5 681.4,1108.5 683.7,1108.6 686,1108.6 688.4,1108.6 690.7,1108.6 693.1,1108.6 695.4,1108.6 697.8,1108.6 700.1,1108.6 702.4,1108.6 704.8,1108.6 707.1,1108.6 709.5,1108.6 711.8,1108.6 714.1,1108.7 716.5,1108.7 718.8,1108.7 721.2,1108.7 723.5,1108.7 725.8,1108.7 728.2,1108.7 730.5,1108.7 732.9,1108.7 735.2,1108.7 737.5,1108.7 739.9,1108.7 742.2,1108.7 744.6,1108.8 746.9,1108.8 749.2,1108.8 751.6,1108.8 753.9,1108.8 756.3,1108.8 758.6,1108.8 760.9,1108.8 763.3,1108.8 765.6,1108.8 768,1108.8 770.3,1108.8 772.7,1108.8 775,1108.8 777.3,1108.9 779.7,1108.9 782,1108.9 784.4,1108.9 786.7,1108.9 789,1108.9 791.4,1108.9 793.7,1108.9 796.1,1108.9 798.4,1108.9 800.7,1108.9 803.1,1108.9 805.4,1108.9 807.8,1109 810.1,1109 812.4,1109 814.8,1109 817.1,1109 819.5,1109 821.8,1109 824.1,1109 826.5,1109 828.8,1109 831.2,1109 833.5,1109 835.8,1109 838.2,1109 840.5,1109.1 842.9,1109.1 845.2,1109.1 847.5,1109.1 849.9,1109.1 852.2,1109.1 854.6,1109.1 856.9,1109.1 859.3,1109.1 861.6,1109.1 863.9,1109.1 866.3,1109.1 868.6,1109.1 871,1109.2 873.3,1109.2 875.6,1109.2 878,1109.2 880.3,1109.2 882.7,1109.2 885,1109.2" fill="none" stroke="#ff22d8" stroke-width="2.2"/>
<path d="M510.5,1204.7 512.8,1204.7 515.2,1204.7 517.5,1204.7 519.9,1204.7 522.2,1204.7 524.5,1204.8 526.9,1204.8 529.2,1204.8 531.6,1204.8 533.9,1204.8 536.2,1204.8 538.6,1204.8 540.9,1204.8 543.3,1204.8 545.6,1204.8 548,1204.8 550.3,1204.8 552.6,1204.8 555,1204.8 557.3,1204.8 559.7,1204.8 562,1204.8 564.3,1204.8 566.7,1204.8 569,1204.8 571.4,1204.8 573.7,1204.8 576,1204.8 578.4,1204.7 580.7,1204.7 583.1,1204.7 585.4,1204.7 587.7,1204.7 590.1,1204.7 592.4,1204.7 594.8,1204.7 597.1,1204.7 599.4,1204.7 601.8,1204.6 604.1,1204.6 606.5,1204.6 608.8,1204.6 611.1,1204.5 613.5,1204.5 615.8,1204.5 618.2,1204.4 620.5,1204.3 622.9,1204.3 625.2,1204.2 627.5,1204.1 629.9,1204 632.2,1203.9 634.6,1203.7 636.9,1203.5 639.2,1203.3 641.6,1203.1 643.9,1202.8 646.3,1202.5 648.6,1202.1 650.9,1201.7 653.3,1201.2 655.6,1200.7 658,1200.2 660.3,1199.6 662.6,1199 665,1198.3 667.3,1197.6 669.7,1196.9 672,1196.1 674.3,1195.4 676.7,1194.6 679,1193.9 681.4,1193.2 683.7,1192.5 686,1192 688.4,1191.5 690.7,1191.1 693.1,1190.8 695.4,1190.6 697.8,1190.4 700.1,1190.4 702.4,1190.4 704.8,1190.5 707.1,1190.6 709.5,1190.6 711.8,1190.7 714.1,1190.7 716.5,1190.6 718.8,1190.4 721.2,1190 723.5,1189.3 725.8,1188.4 728.2,1187 730.5,1185.3 732.9,1183.1 735.2,1180.3 737.5,1177 739.9,1173.1 742.2,1168.6 744.6,1163.6 746.9,1158.2 749.2,1152.5 751.6,1146.7 753.9,1141 756.3,1135.6 758.6,1130.8 760.9,1127.1 763.3,1124.5 765.6,1123.5 768,1124 770.3,1125.7 772.7,1128.7 775,1132.8 777.3,1137.8 779.7,1143.5 782,1149.6 784.4,1156 786.7,1162.3 789,1168.5 791.4,1174.3 793.7,1179.7 796.1,1184.5 798.4,1188.7 800.7,1192.4 803.1,1195.4 805.4,1197.9 807.8,1200 810.1,1201.6 812.4,1202.8 814.8,1203.8 817.1,1204.5 819.5,1205.1 821.8,1205.4 824.1,1205.7 826.5,1205.9 828.8,1206.1 831.2,1206.2 833.5,1206.2 835.8,1206.3 838.2,1206.3 840.5,1206.3 842.9,1206.4 845.2,1206.4 847.5,1206.4 849.9,1206.4 852.2,1206.4 854.6,1206.5 856.9,1206.5 859.3,1206.5 861.6,1206.5 863.9,1206.5 866.3,1206.5 868.6,1206.5 871,1206.5 873.3,1206.6 875.6,1206.6 878,1206.6 880.3,1206.6 882.7,1206.6 885,1206.6" fill="none" stroke="#111" stroke-width="1.7"/>
<path d="M510.5,1204.6 512.8,1204.6 515.2,1204.6 517.5,1204.6 519.9,1204.6 522.2,1204.6 524.5,1204.6 526.9,1204.6 529.2,1204.6 531.6,1204.6 533.9,1204.6 536.2,1204.6 538.6,1204.6 540.9,1204.6 543.3,1204.6 545.6,1204.6 548,1204.6 550.3,1204.6 552.6,1204.6 555,1204.6 557.3,1204.6 559.7,1204.6 562,1204.6 564.3,1204.6 566.7,1204.6 569,1204.6 571.4,1204.6 573.7,1204.6 576,1204.6 578.4,1204.5 580.7,1204.5 583.1,1204.5 585.4,1204.5 587.7,1204.5 590.1,1204.5 592.4,1204.5 594.8,1204.4 597.1,1204.4 599.4,1204.4 601.8,1204.4 604.1,1204.3 606.5,1204.3 608.8,1204.3 611.1,1204.2 613.5,1204.2 615.8,1204.1 618.2,1204.1 620.5,1204 622.9,1203.9 625.2,1203.8 627.5,1203.7 629.9,1203.6 632.2,1203.5 634.6,1203.3 636.9,1203.1 639.2,1202.9 641.6,1202.6 643.9,1202.3 646.3,1202 648.6,1201.6 650.9,1201.2 653.3,1200.7 655.6,1200.1 658,1199.6 660.3,1199 662.6,1198.3 665,1197.6 667.3,1196.8 669.7,1196.1 672,1195.3 674.3,1194.5 676.7,1193.7 679,1192.9 681.4,1192.2 683.7,1191.5 686,1190.8 688.4,1190.3 690.7,1189.8 693.1,1189.4 695.4,1189.1 697.8,1188.9 700.1,1188.8 702.4,1188.7 704.8,1188.7 707.1,1188.7 709.5,1188.7 711.8,1188.7 714.1,1188.7 716.5,1188.7 718.8,1188.6 721.2,1188.4 723.5,1188 725.8,1187.5 728.2,1186.7 730.5,1185.6 732.9,1184.2 735.2,1182.2 737.5,1179.8 739.9,1176.7 742.2,1172.9 744.6,1168.3 746.9,1162.9 749.2,1156.7 751.6,1149.9 753.9,1142.5 756.3,1135 758.6,1128 760.9,1122.1 763.3,1118.4 765.6,1117.3 768,1119.2 770.3,1123.7 772.7,1130 775,1137.5 777.3,1145.3 779.7,1153 782,1160.1 784.4,1166.5 786.7,1172.2 789,1177.1 791.4,1181.3 793.7,1184.8 796.1,1187.7 798.4,1190.2 800.7,1192.2 803.1,1193.9 805.4,1195.3 807.8,1196.4 810.1,1197.4 812.4,1198.2 814.8,1199 817.1,1199.6 819.5,1200.1 821.8,1200.6 824.1,1201 826.5,1201.4 828.8,1201.8 831.2,1202.1 833.5,1202.4 835.8,1202.6 838.2,1202.9 840.5,1203.1 842.9,1203.3 845.2,1203.5 847.5,1203.6 849.9,1203.8 852.2,1203.9 854.6,1204.1 856.9,1204.2 859.3,1204.3 861.6,1204.4 863.9,1204.5 866.3,1204.6 868.6,1204.7 871,1204.8 873.3,1204.9 875.6,1205 878,1205.1 880.3,1205.1 882.7,1205.2 885,1205.3" fill="none" stroke="#ee1a22" stroke-width="2.2"/>
<path d="M510.5,1205 512.8,1205 515.2,1205 517.5,1205 519.9,1205 522.2,1205.1 524.5,1205.1 526.9,1205.1 529.2,1205.1 531.6,1205.1 533.9,1205.1 536.2,1205.1 538.6,1205.1 540.9,1205.1 543.3,1205.1 545.6,1205.2 548,1205.2 550.3,1205.2 552.6,1205.2 555,1205.2 557.3,1205.2 559.7,1205.2 562,1205.2 564.3,1205.2 566.7,1205.3 569,1205.3 571.4,1205.3 573.7,1205.3 576,1205.3 578.4,1205.3 580.7,1205.3 583.1,1205.3 585.4,1205.3 587.7,1205.4 590.1,1205.4 592.4,1205.4 594.8,1205.4 597.1,1205.4 599.4,1205.4 601.8,1205.4 604.1,1205.4 606.5,1205.5 608.8,1205.5 611.1,1205.5 613.5,1205.5 615.8,1205.5 618.2,1205.5 620.5,1205.6 622.9,1205.6 625.2,1205.6 627.5,1205.6 629.9,1205.6 632.2,1205.7 634.6,1205.7 636.9,1205.7 639.2,1205.7 641.6,1205.8 643.9,1205.8 646.3,1205.8 648.6,1205.9 650.9,1205.9 653.3,1205.9 655.6,1206 658,1206 660.3,1206.1 662.6,1206.1 665,1206.2 667.3,1206.2 669.7,1206.3 672,1206.3 674.3,1206.4 676.7,1206.5 679,1206.5 681.4,1206.6 683.7,1206.6 686,1206.7 688.4,1206.8 690.7,1206.8 693.1,1206.9 695.4,1206.9 697.8,1207 700.1,1207.1 702.4,1207.1 704.8,1207.2 707.1,1207.2 709.5,1207.3 711.8,1207.3 714.1,1207.3 716.5,1207.4 718.8,1207.4 721.2,1207.4 723.5,1207.5 725.8,1207.5 728.2,1207.5 730.5,1207.5 732.9,1207.5 735.2,1207.5 737.5,1207.5 739.9,1207.5 742.2,1207.5 744.6,1207.4 746.9,1207.4 749.2,1207.4 751.6,1207.4 753.9,1207.3 756.3,1207.3 758.6,1207.3 760.9,1207.2 763.3,1207.2 765.6,1207.1 768,1207.1 770.3,1207.1 772.7,1207 775,1207 777.3,1206.9 779.7,1206.9 782,1206.9 784.4,1206.8 786.7,1206.8 789,1206.8 791.4,1206.7 793.7,1206.7 796.1,1206.7 798.4,1206.7 800.7,1206.6 803.1,1206.6 805.4,1206.6 807.8,1206.6 810.1,1206.6 812.4,1206.6 814.8,1206.5 817.1,1206.5 819.5,1206.5 821.8,1206.5 824.1,1206.5 826.5,1206.5 828.8,1206.5 831.2,1206.5 833.5,1206.5 835.8,1206.5 838.2,1206.5 840.5,1206.5 842.9,1206.5 845.2,1206.5 847.5,1206.6 849.9,1206.6 852.2,1206.6 854.6,1206.6 856.9,1206.6 859.3,1206.6 861.6,1206.6 863.9,1206.6 866.3,1206.6 868.6,1206.6 871,1206.6 873.3,1206.6 875.6,1206.7 878,1206.7 880.3,1206.7 882.7,1206.7 885,1206.7" fill="none" stroke="#20d040" stroke-width="1.6"/>
<path d="M510.5,1204.7 512.8,1204.7 515.2,1204.7 517.5,1204.7 519.9,1204.7 522.2,1204.7 524.5,1204.7 526.9,1204.7 529.2,1204.7 531.6,1204.7 533.9,1204.7 536.2,1204.7 538.6,1204.7 540.9,1204.8 543.3,1204.8 545.6,1204.8 548,1204.8 550.3,1204.8 552.6,1204.8 555,1204.8 557.3,1204.8 559.7,1204.8 562,1204.8 564.3,1204.8 566.7,1204.8 569,1204.8 571.4,1204.8 573.7,1204.8 576,1204.8 578.4,1204.8 580.7,1204.7 583.1,1204.7 585.4,1204.7 587.7,1204.7 590.1,1204.7 592.4,1204.7 594.8,1204.7 597.1,1204.7 599.4,1204.7 601.8,1204.7 604.1,1204.7 606.5,1204.7 608.8,1204.7 611.1,1204.6 613.5,1204.6 615.8,1204.6 618.2,1204.6 620.5,1204.6 622.9,1204.6 625.2,1204.5 627.5,1204.5 629.9,1204.5 632.2,1204.5 634.6,1204.4 636.9,1204.4 639.2,1204.4 641.6,1204.3 643.9,1204.3 646.3,1204.3 648.6,1204.2 650.9,1204.2 653.3,1204.1 655.6,1204.1 658,1204 660.3,1204 662.6,1203.9 665,1203.8 667.3,1203.7 669.7,1203.7 672,1203.6 674.3,1203.5 676.7,1203.4 679,1203.2 681.4,1203.1 683.7,1203 686,1202.8 688.4,1202.7 690.7,1202.5 693.1,1202.3 695.4,1202.1 697.8,1201.8 700.1,1201.6 702.4,1201.3 704.8,1200.9 707.1,1200.6 709.5,1200.2 711.8,1199.7 714.1,1199.2 716.5,1198.6 718.8,1197.9 721.2,1197 723.5,1196.1 725.8,1194.9 728.2,1193.5 730.5,1191.8 732.9,1189.7 735.2,1187.2 737.5,1184.2 739.9,1180.5 742.2,1176.3 744.6,1171.3 746.9,1165.5 749.2,1159 751.6,1151.8 753.9,1144.2 756.3,1136.4 758.6,1129.2 760.9,1123.2 763.3,1119.3 765.6,1118.1 768,1119.9 770.3,1124.3 772.7,1130.6 775,1138 777.3,1145.8 779.7,1153.4 782,1160.4 784.4,1166.8 786.7,1172.5 789,1177.4 791.4,1181.5 793.7,1185.1 796.1,1188 798.4,1190.4 800.7,1192.4 803.1,1194.1 805.4,1195.5 807.8,1196.6 810.1,1197.6 812.4,1198.4 814.8,1199.1 817.1,1199.8 819.5,1200.3 821.8,1200.8 824.1,1201.2 826.5,1201.6 828.8,1201.9 831.2,1202.2 833.5,1202.5 835.8,1202.7 838.2,1203 840.5,1203.2 842.9,1203.4 845.2,1203.6 847.5,1203.7 849.9,1203.9 852.2,1204 854.6,1204.2 856.9,1204.3 859.3,1204.4 861.6,1204.5 863.9,1204.6 866.3,1204.7 868.6,1204.8 871,1204.9 873.3,1205 875.6,1205.1 878,1205.2 880.3,1205.2 882.7,1205.3 885,1205.4" fill="none" stroke="#2a20d8" stroke-width="1.8"/>
<path d="M510.5,1204.9 512.8,1204.9 515.2,1204.9 517.5,1204.9 519.9,1205 522.2,1205 524.5,1205 526.9,1205 529.2,1205 531.6,1205 533.9,1205 536.2,1205 538.6,1205 540.9,1205 543.3,1205 545.6,1205 548,1205 550.3,1205.1 552.6,1205.1 555,1205.1 557.3,1205.1 559.7,1205.1 562,1205.1 564.3,1205.1 566.7,1205.1 569,1205.1 571.4,1205.1 573.7,1205.1 576,1205.1 578.4,1205.1 580.7,1205.1 583.1,1205.1 585.4,1205.1 587.7,1205.1 590.1,1205.1 592.4,1205.1 594.8,1205.1 597.1,1205.1 599.4,1205.1 601.8,1205.1 604.1,1205.1 606.5,1205.1 608.8,1205.1 611.1,1205.1 613.5,1205 615.8,1205 618.2,1205 620.5,1204.9 622.9,1204.9 625.2,1204.8 627.5,1204.8 629.9,1204.7 632.2,1204.6 634.6,1204.4 636.9,1204.3 639.2,1204.1 641.6,1203.9 643.9,1203.6 646.3,1203.4 648.6,1203 650.9,1202.7 653.3,1202.3 655.6,1201.8 658,1201.3 660.3,1200.8 662.6,1200.2 665,1199.6 667.3,1199 669.7,1198.4 672,1197.8 674.3,1197.2 676.7,1196.6 679,1196.1 681.4,1195.6 683.7,1195.2 686,1194.9 688.4,1194.7 690.7,1194.6 693.1,1194.6 695.4,1194.8 697.8,1195 700.1,1195.4 702.4,1195.9 704.8,1196.4 707.1,1197 709.5,1197.6 711.8,1198.3 714.1,1198.9 716.5,1199.5 718.8,1200.2 721.2,1200.8 723.5,1201.3 725.8,1201.9 728.2,1202.4 730.5,1202.8 732.9,1203.2 735.2,1203.6 737.5,1203.9 739.9,1204.2 742.2,1204.5 744.6,1204.7 746.9,1204.9 749.2,1205 751.6,1205.2 753.9,1205.3 756.3,1205.4 758.6,1205.5 760.9,1205.6 763.3,1205.6 765.6,1205.7 768,1205.7 770.3,1205.8 772.7,1205.8 775,1205.8 777.3,1205.9 779.7,1205.9 782,1205.9 784.4,1206 786.7,1206 789,1206 791.4,1206 793.7,1206 796.1,1206.1 798.4,1206.1 800.7,1206.1 803.1,1206.1 805.4,1206.1 807.8,1206.2 810.1,1206.2 812.4,1206.2 814.8,1206.2 817.1,1206.2 819.5,1206.2 821.8,1206.3 824.1,1206.3 826.5,1206.3 828.8,1206.3 831.2,1206.3 833.5,1206.3 835.8,1206.4 838.2,1206.4 840.5,1206.4 842.9,1206.4 845.2,1206.4 847.5,1206.4 849.9,1206.4 852.2,1206.5 854.6,1206.5 856.9,1206.5 859.3,1206.5 861.6,1206.5 863.9,1206.5 866.3,1206.5 868.6,1206.5 871,1206.6 873.3,1206.6 875.6,1206.6 878,1206.6 880.3,1206.6 882.7,1206.6 885,1206.6" fill="none" stroke="#10e0e8" stroke-width="1.8"/>
<path d="M510.5,1205 512.8,1205 515.2,1205 517.5,1205 519.9,1205 522.2,1205 524.5,1205.1 526.9,1205.1 529.2,1205.1 531.6,1205.1 533.9,1205.1 536.2,1205.1 538.6,1205.1 540.9,1205.1 543.3,1205.1 545.6,1205.2 548,1205.2 550.3,1205.2 552.6,1205.2 555,1205.2 557.3,1205.2 559.7,1205.2 562,1205.2 564.3,1205.2 566.7,1205.2 569,1205.3 571.4,1205.3 573.7,1205.3 576,1205.3 578.4,1205.3 580.7,1205.3 583.1,1205.3 585.4,1205.3 587.7,1205.3 590.1,1205.3 592.4,1205.4 594.8,1205.4 597.1,1205.4 599.4,1205.4 601.8,1205.4 604.1,1205.4 606.5,1205.4 608.8,1205.4 611.1,1205.4 613.5,1205.4 615.8,1205.5 618.2,1205.5 620.5,1205.5 622.9,1205.5 625.2,1205.5 627.5,1205.5 629.9,1205.5 632.2,1205.5 634.6,1205.5 636.9,1205.5 639.2,1205.6 641.6,1205.6 643.9,1205.6 646.3,1205.6 648.6,1205.6 650.9,1205.6 653.3,1205.6 655.6,1205.6 658,1205.6 660.3,1205.6 662.6,1205.6 665,1205.5 667.3,1205.5 669.7,1205.5 672,1205.4 674.3,1205.3 676.7,1205.3 679,1205.2 681.4,1205 683.7,1204.9 686,1204.7 688.4,1204.6 690.7,1204.4 693.1,1204.2 695.4,1204 697.8,1203.7 700.1,1203.5 702.4,1203.3 704.8,1203.1 707.1,1202.9 709.5,1202.7 711.8,1202.6 714.1,1202.5 716.5,1202.4 718.8,1202.4 721.2,1202.5 723.5,1202.6 725.8,1202.7 728.2,1202.9 730.5,1203.1 732.9,1203.3 735.2,1203.5 737.5,1203.8 739.9,1204 742.2,1204.3 744.6,1204.5 746.9,1204.7 749.2,1204.9 751.6,1205.1 753.9,1205.3 756.3,1205.4 758.6,1205.6 760.9,1205.7 763.3,1205.8 765.6,1205.9 768,1205.9 770.3,1206 772.7,1206 775,1206.1 777.3,1206.1 779.7,1206.1 782,1206.2 784.4,1206.2 786.7,1206.2 789,1206.2 791.4,1206.2 793.7,1206.2 796.1,1206.3 798.4,1206.3 800.7,1206.3 803.1,1206.3 805.4,1206.3 807.8,1206.3 810.1,1206.3 812.4,1206.3 814.8,1206.4 817.1,1206.4 819.5,1206.4 821.8,1206.4 824.1,1206.4 826.5,1206.4 828.8,1206.4 831.2,1206.4 833.5,1206.5 835.8,1206.5 838.2,1206.5 840.5,1206.5 842.9,1206.5 845.2,1206.5 847.5,1206.5 849.9,1206.5 852.2,1206.5 854.6,1206.6 856.9,1206.6 859.3,1206.6 861.6,1206.6 863.9,1206.6 866.3,1206.6 868.6,1206.6 871,1206.6 873.3,1206.6 875.6,1206.6 878,1206.7 880.3,1206.7 882.7,1206.7 885,1206.7" fill="none" stroke="#8a2ad0" stroke-width="1.8"/>
<path d="M510.5,1205 512.8,1205 515.2,1205 517.5,1205 519.9,1205 522.2,1205.1 524.5,1205.1 526.9,1205.1 529.2,1205.1 531.6,1205.1 533.9,1205.1 536.2,1205.1 538.6,1205.1 540.9,1205.1 543.3,1205.1 545.6,1205.2 548,1205.2 550.3,1205.2 552.6,1205.2 555,1205.2 557.3,1205.2 559.7,1205.2 562,1205.2 564.3,1205.2 566.7,1205.3 569,1205.3 571.4,1205.3 573.7,1205.3 576,1205.3 578.4,1205.3 580.7,1205.3 583.1,1205.3 585.4,1205.3 587.7,1205.4 590.1,1205.4 592.4,1205.4 594.8,1205.4 597.1,1205.4 599.4,1205.4 601.8,1205.4 604.1,1205.4 606.5,1205.4 608.8,1205.4 611.1,1205.5 613.5,1205.5 615.8,1205.5 618.2,1205.5 620.5,1205.5 622.9,1205.5 625.2,1205.5 627.5,1205.5 629.9,1205.5 632.2,1205.6 634.6,1205.6 636.9,1205.6 639.2,1205.6 641.6,1205.6 643.9,1205.6 646.3,1205.6 648.6,1205.6 650.9,1205.6 653.3,1205.6 655.6,1205.7 658,1205.7 660.3,1205.7 662.6,1205.7 665,1205.7 667.3,1205.7 669.7,1205.7 672,1205.7 674.3,1205.7 676.7,1205.8 679,1205.8 681.4,1205.8 683.7,1205.8 686,1205.8 688.4,1205.8 690.7,1205.8 693.1,1205.8 695.4,1205.8 697.8,1205.8 700.1,1205.9 702.4,1205.9 704.8,1205.9 707.1,1205.9 709.5,1205.9 711.8,1205.9 714.1,1205.9 716.5,1205.9 718.8,1205.9 721.2,1206 723.5,1206 725.8,1206 728.2,1206 730.5,1206 732.9,1206 735.2,1206 737.5,1206 739.9,1206 742.2,1206.1 744.6,1206.1 746.9,1206.1 749.2,1206.1 751.6,1206.1 753.9,1206.1 756.3,1206.1 758.6,1206.1 760.9,1206.1 763.3,1206.1 765.6,1206.2 768,1206.2 770.3,1206.2 772.7,1206.2 775,1206.2 777.3,1206.2 779.7,1206.2 782,1206.2 784.4,1206.2 786.7,1206.3 789,1206.3 791.4,1206.3 793.7,1206.3 796.1,1206.3 798.4,1206.3 800.7,1206.3 803.1,1206.3 805.4,1206.3 807.8,1206.3 810.1,1206.4 812.4,1206.4 814.8,1206.4 817.1,1206.4 819.5,1206.4 821.8,1206.4 824.1,1206.4 826.5,1206.4 828.8,1206.4 831.2,1206.5 833.5,1206.5 835.8,1206.5 838.2,1206.5 840.5,1206.5 842.9,1206.5 845.2,1206.5 847.5,1206.5 849.9,1206.5 852.2,1206.6 854.6,1206.6 856.9,1206.6 859.3,1206.6 861.6,1206.6 863.9,1206.6 866.3,1206.6 868.6,1206.6 871,1206.6 873.3,1206.6 875.6,1206.7 878,1206.7 880.3,1206.7 882.7,1206.7 885,1206.7" fill="none" stroke="#ff22d8" stroke-width="2.2"/>
<path d="M510.5,1306.1 512.8,1306.1 515.2,1306.2 517.5,1306.2 519.9,1306.2 522.2,1306.2 524.5,1306.2 526.9,1306.2 529.2,1306.2 531.6,1306.2 533.9,1306.2 536.2,1306.2 538.6,1306.2 540.9,1306.2 543.3,1306.2 545.6,1306.2 548,1306.3 550.3,1306.3 552.6,1306.3 555,1306.3 557.3,1306.3 559.7,1306.3 562,1306.3 564.3,1306.3 566.7,1306.3 569,1306.3 571.4,1306.3 573.7,1306.3 576,1306.3 578.4,1306.3 580.7,1306.3 583.1,1306.3 585.4,1306.3 587.7,1306.3 590.1,1306.3 592.4,1306.2 594.8,1306.2 597.1,1306.2 599.4,1306.2 601.8,1306.2 604.1,1306.2 606.5,1306.2 608.8,1306.1 611.1,1306.1 613.5,1306.1 615.8,1306 618.2,1306 620.5,1305.9 622.9,1305.8 625.2,1305.8 627.5,1305.6 629.9,1305.5 632.2,1305.4 634.6,1305.2 636.9,1305 639.2,1304.8 641.6,1304.6 643.9,1304.3 646.3,1304 648.6,1303.6 650.9,1303.2 653.3,1302.8 655.6,1302.4 658,1301.9 660.3,1301.4 662.6,1300.8 665,1300.3 667.3,1299.7 669.7,1299.1 672,1298.6 674.3,1298 676.7,1297.5 679,1297 681.4,1296.6 683.7,1296.2 686,1295.9 688.4,1295.7 690.7,1295.5 693.1,1295.4 695.4,1295.3 697.8,1295.3 700.1,1295.3 702.4,1295.3 704.8,1295.3 707.1,1295.3 709.5,1295.2 711.8,1295.1 714.1,1294.9 716.5,1294.6 718.8,1294.1 721.2,1293.4 723.5,1292.4 725.8,1291.1 728.2,1289.5 730.5,1287.4 732.9,1284.8 735.2,1281.7 737.5,1278 739.9,1273.8 742.2,1269.1 744.6,1264 746.9,1258.4 749.2,1252.7 751.6,1247 753.9,1241.4 756.3,1236.3 758.6,1232.1 760.9,1228.9 763.3,1227 765.6,1226.7 768,1227.8 770.3,1230.1 772.7,1233.6 775,1238.1 777.3,1243.3 779.7,1249.1 782,1255.3 784.4,1261.6 786.7,1267.8 789,1273.7 791.4,1279.2 793.7,1284.3 796.1,1288.7 798.4,1292.6 800.7,1295.9 803.1,1298.7 805.4,1300.9 807.8,1302.7 810.1,1304.1 812.4,1305.2 814.8,1306.1 817.1,1306.7 819.5,1307.1 821.8,1307.5 824.1,1307.7 826.5,1307.9 828.8,1308 831.2,1308.1 833.5,1308.1 835.8,1308.2 838.2,1308.2 840.5,1308.2 842.9,1308.3 845.2,1308.3 847.5,1308.3 849.9,1308.3 852.2,1308.3 854.6,1308.3 856.9,1308.4 859.3,1308.4 861.6,1308.4 863.9,1308.4 866.3,1308.4 868.6,1308.4 871,1308.5 873.3,1308.5 875.6,1308.5 878,1308.5 880.3,1308.5 882.7,1308.5 885,1308.5" fill="none" stroke="#111" stroke-width="1.7"/>
<path d="M510.5,1306 512.8,1306 515.2,1306 517.5,1306.1 519.9,1306.1 522.2,1306.1 524.5,1306.1 526.9,1306.1 529.2,1306.1 531.6,1306.1 533.9,1306.1 536.2,1306.1 538.6,1306.1 540.9,1306.1 543.3,1306.1 545.6,1306.1 548,1306.1 550.3,1306.1 552.6,1306.1 555,1306.1 557.3,1306.1 559.7,1306.1 562,1306.1 564.3,1306.1 566.7,1306.1 569,1306.1 571.4,1306.1 573.7,1306.1 576,1306.1 578.4,1306.1 580.7,1306.1 583.1,1306.1 585.4,1306 587.7,1306 590.1,1306 592.4,1306 594.8,1306 597.1,1306 599.4,1306 601.8,1305.9 604.1,1305.9 606.5,1305.9 608.8,1305.8 611.1,1305.8 613.5,1305.8 615.8,1305.7 618.2,1305.6 620.5,1305.6 622.9,1305.5 625.2,1305.4 627.5,1305.3 629.9,1305.1 632.2,1305 634.6,1304.8 636.9,1304.6 639.2,1304.4 641.6,1304.1 643.9,1303.8 646.3,1303.5 648.6,1303.1 650.9,1302.7 653.3,1302.2 655.6,1301.8 658,1301.2 660.3,1300.7 662.6,1300.1 665,1299.5 667.3,1298.9 669.7,1298.3 672,1297.7 674.3,1297.2 676.7,1296.6 679,1296.1 681.4,1295.6 683.7,1295.2 686,1294.8 688.4,1294.5 690.7,1294.2 693.1,1294 695.4,1293.9 697.8,1293.8 700.1,1293.7 702.4,1293.6 704.8,1293.5 707.1,1293.4 709.5,1293.3 711.8,1293.1 714.1,1293 716.5,1292.7 718.8,1292.4 721.2,1291.9 723.5,1291.3 725.8,1290.5 728.2,1289.4 730.5,1288 732.9,1286.3 735.2,1284 737.5,1281.2 739.9,1277.7 742.2,1273.5 744.6,1268.6 746.9,1262.9 749.2,1256.4 751.6,1249.4 753.9,1242 756.3,1234.7 758.6,1228.2 760.9,1223.3 763.3,1220.8 765.6,1221.1 768,1224.2 770.3,1229.6 772.7,1236.5 775,1244.1 777.3,1251.7 779.7,1259 782,1265.7 784.4,1271.7 786.7,1276.9 789,1281.4 791.4,1285.2 793.7,1288.4 796.1,1291.1 798.4,1293.3 800.7,1295.1 803.1,1296.6 805.4,1297.9 807.8,1298.9 810.1,1299.8 812.4,1300.6 814.8,1301.2 817.1,1301.8 819.5,1302.3 821.8,1302.7 824.1,1303.1 826.5,1303.5 828.8,1303.8 831.2,1304.1 833.5,1304.4 835.8,1304.6 838.2,1304.9 840.5,1305.1 842.9,1305.3 845.2,1305.5 847.5,1305.6 849.9,1305.8 852.2,1305.9 854.6,1306.1 856.9,1306.2 859.3,1306.3 861.6,1306.4 863.9,1306.5 866.3,1306.6 868.6,1306.7 871,1306.8 873.3,1306.9 875.6,1307 878,1307 880.3,1307.1 882.7,1307.2 885,1307.2" fill="none" stroke="#ee1a22" stroke-width="2.2"/>
<path d="M510.5,1306.4 512.8,1306.4 515.2,1306.4 517.5,1306.4 519.9,1306.5 522.2,1306.5 524.5,1306.5 526.9,1306.5 529.2,1306.5 531.6,1306.5 533.9,1306.5 536.2,1306.6 538.6,1306.6 540.9,1306.6 543.3,1306.6 545.6,1306.6 548,1306.6 550.3,1306.6 552.6,1306.6 555,1306.7 557.3,1306.7 559.7,1306.7 562,1306.7 564.3,1306.7 566.7,1306.7 569,1306.7 571.4,1306.8 573.7,1306.8 576,1306.8 578.4,1306.8 580.7,1306.8 583.1,1306.8 585.4,1306.8 587.7,1306.9 590.1,1306.9 592.4,1306.9 594.8,1306.9 597.1,1306.9 599.4,1306.9 601.8,1307 604.1,1307 606.5,1307 608.8,1307 611.1,1307 613.5,1307 615.8,1307.1 618.2,1307.1 620.5,1307.1 622.9,1307.1 625.2,1307.1 627.5,1307.2 629.9,1307.2 632.2,1307.2 634.6,1307.2 636.9,1307.3 639.2,1307.3 641.6,1307.3 643.9,1307.4 646.3,1307.4 648.6,1307.5 650.9,1307.5 653.3,1307.5 655.6,1307.6 658,1307.6 660.3,1307.7 662.6,1307.7 665,1307.8 667.3,1307.8 669.7,1307.9 672,1308 674.3,1308 676.7,1308.1 679,1308.1 681.4,1308.2 683.7,1308.3 686,1308.3 688.4,1308.4 690.7,1308.5 693.1,1308.5 695.4,1308.6 697.8,1308.7 700.1,1308.7 702.4,1308.8 704.8,1308.8 707.1,1308.9 709.5,1308.9 711.8,1309 714.1,1309 716.5,1309.1 718.8,1309.1 721.2,1309.1 723.5,1309.1 725.8,1309.2 728.2,1309.2 730.5,1309.2 732.9,1309.2 735.2,1309.2 737.5,1309.2 739.9,1309.2 742.2,1309.2 744.6,1309.2 746.9,1309.1 749.2,1309.1 751.6,1309.1 753.9,1309.1 756.3,1309 758.6,1309 760.9,1309 763.3,1308.9 765.6,1308.9 768,1308.8 770.3,1308.8 772.7,1308.8 775,1308.7 777.3,1308.7 779.7,1308.7 782,1308.6 784.4,1308.6 786.7,1308.6 789,1308.5 791.4,1308.5 793.7,1308.5 796.1,1308.5 798.4,1308.4 800.7,1308.4 803.1,1308.4 805.4,1308.4 807.8,1308.4 810.1,1308.4 812.4,1308.4 814.8,1308.4 817.1,1308.3 819.5,1308.3 821.8,1308.3 824.1,1308.3 826.5,1308.3 828.8,1308.3 831.2,1308.3 833.5,1308.4 835.8,1308.4 838.2,1308.4 840.5,1308.4 842.9,1308.4 845.2,1308.4 847.5,1308.4 849.9,1308.4 852.2,1308.4 854.6,1308.4 856.9,1308.4 859.3,1308.5 861.6,1308.5 863.9,1308.5 866.3,1308.5 868.6,1308.5 871,1308.5 873.3,1308.5 875.6,1308.5 878,1308.6 880.3,1308.6 882.7,1308.6 885,1308.6" fill="none" stroke="#20d040" stroke-width="1.6"/>
<path d="M510.5,1306.1 512.8,1306.1 515.2,1306.1 517.5,1306.1 519.9,1306.1 522.2,1306.1 524.5,1306.1 526.9,1306.2 529.2,1306.2 531.6,1306.2 533.9,1306.2 536.2,1306.2 538.6,1306.2 540.9,1306.2 543.3,1306.2 545.6,1306.2 548,1306.2 550.3,1306.2 552.6,1306.2 555,1306.2 557.3,1306.2 559.7,1306.2 562,1306.2 564.3,1306.2 566.7,1306.2 569,1306.2 571.4,1306.2 573.7,1306.2 576,1306.2 578.4,1306.2 580.7,1306.2 583.1,1306.2 585.4,1306.2 587.7,1306.2 590.1,1306.2 592.4,1306.2 594.8,1306.2 597.1,1306.2 599.4,1306.2 601.8,1306.2 604.1,1306.2 606.5,1306.2 608.8,1306.2 611.1,1306.2 613.5,1306.2 615.8,1306.2 618.2,1306.1 620.5,1306.1 622.9,1306.1 625.2,1306.1 627.5,1306.1 629.9,1306.1 632.2,1306 634.6,1306 636.9,1306 639.2,1305.9 641.6,1305.9 643.9,1305.9 646.3,1305.8 648.6,1305.8 650.9,1305.8 653.3,1305.7 655.6,1305.7 658,1305.6 660.3,1305.5 662.6,1305.5 665,1305.4 667.3,1305.3 669.7,1305.3 672,1305.2 674.3,1305.1 676.7,1305 679,1304.8 681.4,1304.7 683.7,1304.6 686,1304.4 688.4,1304.3 690.7,1304.1 693.1,1303.9 695.4,1303.7 697.8,1303.4 700.1,1303.1 702.4,1302.8 704.8,1302.5 707.1,1302.1 709.5,1301.7 711.8,1301.2 714.1,1300.7 716.5,1300 718.8,1299.3 721.2,1298.4 723.5,1297.4 725.8,1296.1 728.2,1294.6 730.5,1292.8 732.9,1290.5 735.2,1287.9 737.5,1284.6 739.9,1280.8 742.2,1276.2 744.6,1271 746.9,1264.9 749.2,1258.2 751.6,1250.9 753.9,1243.3 756.3,1235.8 758.6,1229.2 760.9,1224.2 763.3,1221.5 765.6,1221.7 768,1224.8 770.3,1230.1 772.7,1236.9 775,1244.4 777.3,1252.1 779.7,1259.3 782,1266 784.4,1271.9 786.7,1277.1 789,1281.6 791.4,1285.4 793.7,1288.6 796.1,1291.2 798.4,1293.4 800.7,1295.3 803.1,1296.8 805.4,1298 807.8,1299.1 810.1,1299.9 812.4,1300.7 814.8,1301.4 817.1,1301.9 819.5,1302.4 821.8,1302.9 824.1,1303.3 826.5,1303.6 828.8,1303.9 831.2,1304.2 833.5,1304.5 835.8,1304.7 838.2,1305 840.5,1305.2 842.9,1305.4 845.2,1305.5 847.5,1305.7 849.9,1305.9 852.2,1306 854.6,1306.1 856.9,1306.3 859.3,1306.4 861.6,1306.5 863.9,1306.6 866.3,1306.7 868.6,1306.8 871,1306.9 873.3,1306.9 875.6,1307 878,1307.1 880.3,1307.2 882.7,1307.2 885,1307.3" fill="none" stroke="#2a20d8" stroke-width="1.8"/>
<path d="M510.5,1306.3 512.8,1306.3 515.2,1306.4 517.5,1306.4 519.9,1306.4 522.2,1306.4 524.5,1306.4 526.9,1306.4 529.2,1306.4 531.6,1306.4 533.9,1306.5 536.2,1306.5 538.6,1306.5 540.9,1306.5 543.3,1306.5 545.6,1306.5 548,1306.5 550.3,1306.5 552.6,1306.5 555,1306.5 557.3,1306.6 559.7,1306.6 562,1306.6 564.3,1306.6 566.7,1306.6 569,1306.6 571.4,1306.6 573.7,1306.6 576,1306.6 578.4,1306.6 580.7,1306.6 583.1,1306.6 585.4,1306.7 587.7,1306.7 590.1,1306.7 592.4,1306.7 594.8,1306.7 597.1,1306.7 599.4,1306.7 601.8,1306.7 604.1,1306.7 606.5,1306.7 608.8,1306.6 611.1,1306.6 613.5,1306.6 615.8,1306.6 618.2,1306.6 620.5,1306.5 622.9,1306.5 625.2,1306.4 627.5,1306.3 629.9,1306.2 632.2,1306.1 634.6,1306 636.9,1305.8 639.2,1305.6 641.6,1305.4 643.9,1305.1 646.3,1304.9 648.6,1304.5 650.9,1304.2 653.3,1303.8 655.6,1303.4 658,1303 660.3,1302.6 662.6,1302.1 665,1301.6 667.3,1301.2 669.7,1300.7 672,1300.3 674.3,1299.9 676.7,1299.5 679,1299.2 681.4,1299 683.7,1298.9 686,1298.9 688.4,1298.9 690.7,1299.1 693.1,1299.3 695.4,1299.6 697.8,1300 700.1,1300.4 702.4,1300.9 704.8,1301.3 707.1,1301.8 709.5,1302.3 711.8,1302.8 714.1,1303.3 716.5,1303.8 718.8,1304.2 721.2,1304.6 723.5,1305 725.8,1305.3 728.2,1305.6 730.5,1305.9 732.9,1306.1 735.2,1306.4 737.5,1306.6 739.9,1306.7 742.2,1306.9 744.6,1307 746.9,1307.1 749.2,1307.2 751.6,1307.3 753.9,1307.3 756.3,1307.4 758.6,1307.5 760.9,1307.5 763.3,1307.6 765.6,1307.6 768,1307.6 770.3,1307.7 772.7,1307.7 775,1307.7 777.3,1307.7 779.7,1307.8 782,1307.8 784.4,1307.8 786.7,1307.8 789,1307.9 791.4,1307.9 793.7,1307.9 796.1,1307.9 798.4,1307.9 800.7,1308 803.1,1308 805.4,1308 807.8,1308 810.1,1308 812.4,1308.1 814.8,1308.1 817.1,1308.1 819.5,1308.1 821.8,1308.1 824.1,1308.1 826.5,1308.2 828.8,1308.2 831.2,1308.2 833.5,1308.2 835.8,1308.2 838.2,1308.2 840.5,1308.3 842.9,1308.3 845.2,1308.3 847.5,1308.3 849.9,1308.3 852.2,1308.3 854.6,1308.4 856.9,1308.4 859.3,1308.4 861.6,1308.4 863.9,1308.4 866.3,1308.4 868.6,1308.4 871,1308.5 873.3,1308.5 875.6,1308.5 878,1308.5 880.3,1308.5 882.7,1308.5 885,1308.5" fill="none" stroke="#10e0e8" stroke-width="1.8"/>
<path d="M510.5,1306.4 512.8,1306.4 515.2,1306.4 517.5,1306.4 519.9,1306.4 522.2,1306.5 524.5,1306.5 526.9,1306.5 529.2,1306.5 531.6,1306.5 533.9,1306.5 536.2,1306.5 538.6,1306.6 540.9,1306.6 543.3,1306.6 545.6,1306.6 548,1306.6 550.3,1306.6 552.6,1306.6 555,1306.7 557.3,1306.7 559.7,1306.7 562,1306.7 564.3,1306.7 566.7,1306.7 569,1306.7 571.4,1306.7 573.7,1306.8 576,1306.8 578.4,1306.8 580.7,1306.8 583.1,1306.8 585.4,1306.8 587.7,1306.8 590.1,1306.9 592.4,1306.9 594.8,1306.9 597.1,1306.9 599.4,1306.9 601.8,1306.9 604.1,1306.9 606.5,1306.9 608.8,1307 611.1,1307 613.5,1307 615.8,1307 618.2,1307 620.5,1307 622.9,1307 625.2,1307.1 627.5,1307.1 629.9,1307.1 632.2,1307.1 634.6,1307.1 636.9,1307.1 639.2,1307.1 641.6,1307.1 643.9,1307.1 646.3,1307.2 648.6,1307.2 650.9,1307.2 653.3,1307.2 655.6,1307.2 658,1307.2 660.3,1307.2 662.6,1307.2 665,1307.1 667.3,1307.1 669.7,1307.1 672,1307 674.3,1307 676.7,1306.9 679,1306.8 681.4,1306.7 683.7,1306.5 686,1306.4 688.4,1306.2 690.7,1306 693.1,1305.8 695.4,1305.6 697.8,1305.4 700.1,1305.2 702.4,1304.9 704.8,1304.7 707.1,1304.5 709.5,1304.4 711.8,1304.3 714.1,1304.2 716.5,1304.1 718.8,1304.1 721.2,1304.2 723.5,1304.3 725.8,1304.4 728.2,1304.6 730.5,1304.8 732.9,1305 735.2,1305.2 737.5,1305.5 739.9,1305.7 742.2,1306 744.6,1306.2 746.9,1306.4 749.2,1306.6 751.6,1306.8 753.9,1307 756.3,1307.2 758.6,1307.3 760.9,1307.4 763.3,1307.5 765.6,1307.6 768,1307.7 770.3,1307.7 772.7,1307.8 775,1307.8 777.3,1307.9 779.7,1307.9 782,1307.9 784.4,1307.9 786.7,1308 789,1308 791.4,1308 793.7,1308 796.1,1308 798.4,1308.1 800.7,1308.1 803.1,1308.1 805.4,1308.1 807.8,1308.1 810.1,1308.1 812.4,1308.2 814.8,1308.2 817.1,1308.2 819.5,1308.2 821.8,1308.2 824.1,1308.2 826.5,1308.2 828.8,1308.3 831.2,1308.3 833.5,1308.3 835.8,1308.3 838.2,1308.3 840.5,1308.3 842.9,1308.3 845.2,1308.4 847.5,1308.4 849.9,1308.4 852.2,1308.4 854.6,1308.4 856.9,1308.4 859.3,1308.4 861.6,1308.5 863.9,1308.5 866.3,1308.5 868.6,1308.5 871,1308.5 873.3,1308.5 875.6,1308.5 878,1308.6 880.3,1308.6 882.7,1308.6 885,1308.6" fill="none" stroke="#8a2ad0" stroke-width="1.8"/>
<path d="M510.5,1306.4 512.8,1306.4 515.2,1306.4 517.5,1306.4 519.9,1306.5 522.2,1306.5 524.5,1306.5 526.9,1306.5 529.2,1306.5 531.6,1306.5 533.9,1306.5 536.2,1306.6 538.6,1306.6 540.9,1306.6 543.3,1306.6 545.6,1306.6 548,1306.6 550.3,1306.6 552.6,1306.6 555,1306.7 557.3,1306.7 559.7,1306.7 562,1306.7 564.3,1306.7 566.7,1306.7 569,1306.7 571.4,1306.8 573.7,1306.8 576,1306.8 578.4,1306.8 580.7,1306.8 583.1,1306.8 585.4,1306.8 587.7,1306.9 590.1,1306.9 592.4,1306.9 594.8,1306.9 597.1,1306.9 599.4,1306.9 601.8,1306.9 604.1,1307 606.5,1307 608.8,1307 611.1,1307 613.5,1307 615.8,1307 618.2,1307 620.5,1307 622.9,1307.1 625.2,1307.1 627.5,1307.1 629.9,1307.1 632.2,1307.1 634.6,1307.1 636.9,1307.1 639.2,1307.2 641.6,1307.2 643.9,1307.2 646.3,1307.2 648.6,1307.2 650.9,1307.2 653.3,1307.2 655.6,1307.3 658,1307.3 660.3,1307.3 662.6,1307.3 665,1307.3 667.3,1307.3 669.7,1307.3 672,1307.3 674.3,1307.4 676.7,1307.4 679,1307.4 681.4,1307.4 683.7,1307.4 686,1307.4 688.4,1307.4 690.7,1307.5 693.1,1307.5 695.4,1307.5 697.8,1307.5 700.1,1307.5 702.4,1307.5 704.8,1307.5 707.1,1307.6 709.5,1307.6 711.8,1307.6 714.1,1307.6 716.5,1307.6 718.8,1307.6 721.2,1307.6 723.5,1307.7 725.8,1307.7 728.2,1307.7 730.5,1307.7 732.9,1307.7 735.2,1307.7 737.5,1307.7 739.9,1307.7 742.2,1307.8 744.6,1307.8 746.9,1307.8 749.2,1307.8 751.6,1307.8 753.9,1307.8 756.3,1307.8 758.6,1307.9 760.9,1307.9 763.3,1307.9 765.6,1307.9 768,1307.9 770.3,1307.9 772.7,1307.9 775,1308 777.3,1308 779.7,1308 782,1308 784.4,1308 786.7,1308 789,1308 791.4,1308 793.7,1308.1 796.1,1308.1 798.4,1308.1 800.7,1308.1 803.1,1308.1 805.4,1308.1 807.8,1308.1 810.1,1308.2 812.4,1308.2 814.8,1308.2 817.1,1308.2 819.5,1308.2 821.8,1308.2 824.1,1308.2 826.5,1308.3 828.8,1308.3 831.2,1308.3 833.5,1308.3 835.8,1308.3 838.2,1308.3 840.5,1308.3 842.9,1308.4 845.2,1308.4 847.5,1308.4 849.9,1308.4 852.2,1308.4 854.6,1308.4 856.9,1308.4 859.3,1308.4 861.6,1308.5 863.9,1308.5 866.3,1308.5 868.6,1308.5 871,1308.5 873.3,1308.5 875.6,1308.5 878,1308.6 880.3,1308.6 882.7,1308.6 885,1308.6" fill="none" stroke="#ff22d8" stroke-width="2.2"/>
<path d="M510.5,1404.7 512.8,1404.7 515.2,1404.7 517.5,1404.7 519.9,1404.7 522.2,1404.8 524.5,1404.8 526.9,1404.8 529.2,1404.8 531.6,1404.8 533.9,1404.8 536.2,1404.8 538.6,1404.8 540.9,1404.8 543.3,1404.8 545.6,1404.8 548,1404.8 550.3,1404.8 552.6,1404.8 555,1404.8 557.3,1404.8 559.7,1404.8 562,1404.8 564.3,1404.8 566.7,1404.8 569,1404.8 571.4,1404.8 573.7,1404.8 576,1404.8 578.4,1404.8 580.7,1404.8 583.1,1404.8 585.4,1404.8 587.7,1404.8 590.1,1404.8 592.4,1404.8 594.8,1404.7 597.1,1404.7 599.4,1404.7 601.8,1404.7 604.1,1404.6 606.5,1404.6 608.8,1404.6 611.1,1404.5 613.5,1404.4 615.8,1404.4 618.2,1404.3 620.5,1404.1 622.9,1404 625.2,1403.9 627.5,1403.7 629.9,1403.5 632.2,1403.2 634.6,1403 636.9,1402.6 639.2,1402.3 641.6,1401.9 643.9,1401.5 646.3,1401 648.6,1400.5 650.9,1400 653.3,1399.5 655.6,1398.9 658,1398.3 660.3,1397.7 662.6,1397.1 665,1396.5 667.3,1396 669.7,1395.5 672,1395.1 674.3,1394.7 676.7,1394.4 679,1394.1 681.4,1394 683.7,1393.9 686,1393.9 688.4,1393.9 690.7,1394 693.1,1394.1 695.4,1394.2 697.8,1394.3 700.1,1394.5 702.4,1394.5 704.8,1394.6 707.1,1394.5 709.5,1394.4 711.8,1394.2 714.1,1393.9 716.5,1393.4 718.8,1392.7 721.2,1391.8 723.5,1390.6 725.8,1389 728.2,1387 730.5,1384.5 732.9,1381.6 735.2,1378 737.5,1373.9 739.9,1369.3 742.2,1364.1 744.6,1358.5 746.9,1352.6 749.2,1346.6 751.6,1340.7 753.9,1335.1 756.3,1330.1 758.6,1326.1 760.9,1323.3 763.3,1322.1 765.6,1322.4 768,1324.1 770.3,1327 772.7,1331.1 775,1336.1 777.3,1341.9 779.7,1348.1 782,1354.6 784.4,1361.1 786.7,1367.5 789,1373.5 791.4,1379 793.7,1384 796.1,1388.4 798.4,1392.1 800.7,1395.3 803.1,1398 805.4,1400.1 807.8,1401.8 810.1,1403.1 812.4,1404.1 814.8,1404.9 817.1,1405.4 819.5,1405.8 821.8,1406.1 824.1,1406.3 826.5,1406.5 828.8,1406.6 831.2,1406.7 833.5,1406.7 835.8,1406.8 838.2,1406.8 840.5,1406.8 842.9,1406.8 845.2,1406.9 847.5,1406.9 849.9,1406.9 852.2,1406.9 854.6,1406.9 856.9,1407 859.3,1407 861.6,1407 863.9,1407 866.3,1407 868.6,1407 871,1407 873.3,1407.1 875.6,1407.1 878,1407.1 880.3,1407.1 882.7,1407.1 885,1407.1" fill="none" stroke="#111" stroke-width="1.7"/>
<path d="M510.5,1404.6 512.8,1404.6 515.2,1404.6 517.5,1404.6 519.9,1404.6 522.2,1404.6 524.5,1404.6 526.9,1404.6 529.2,1404.6 531.6,1404.6 533.9,1404.6 536.2,1404.7 538.6,1404.7 540.9,1404.7 543.3,1404.7 545.6,1404.7 548,1404.7 550.3,1404.7 552.6,1404.7 555,1404.7 557.3,1404.7 559.7,1404.6 562,1404.6 564.3,1404.6 566.7,1404.6 569,1404.6 571.4,1404.6 573.7,1404.6 576,1404.6 578.4,1404.6 580.7,1404.6 583.1,1404.6 585.4,1404.6 587.7,1404.5 590.1,1404.5 592.4,1404.5 594.8,1404.5 597.1,1404.5 599.4,1404.4 601.8,1404.4 604.1,1404.4 606.5,1404.3 608.8,1404.2 611.1,1404.2 613.5,1404.1 615.8,1404 618.2,1403.9 620.5,1403.8 622.9,1403.6 625.2,1403.5 627.5,1403.3 629.9,1403.1 632.2,1402.8 634.6,1402.5 636.9,1402.2 639.2,1401.8 641.6,1401.4 643.9,1401 646.3,1400.5 648.6,1400 650.9,1399.4 653.3,1398.9 655.6,1398.3 658,1397.6 660.3,1397 662.6,1396.4 665,1395.8 667.3,1395.2 669.7,1394.7 672,1394.2 674.3,1393.7 676.7,1393.4 679,1393.1 681.4,1392.9 683.7,1392.7 686,1392.7 688.4,1392.6 690.7,1392.6 693.1,1392.6 695.4,1392.7 697.8,1392.7 700.1,1392.7 702.4,1392.7 704.8,1392.6 707.1,1392.5 709.5,1392.4 711.8,1392.2 714.1,1391.9 716.5,1391.5 718.8,1391.1 721.2,1390.4 723.5,1389.6 725.8,1388.6 728.2,1387.3 730.5,1385.6 732.9,1383.5 735.2,1380.8 737.5,1377.5 739.9,1373.6 742.2,1368.8 744.6,1363.3 746.9,1357 749.2,1350 751.6,1342.4 753.9,1334.7 756.3,1327.4 758.6,1321.2 760.9,1317.1 763.3,1315.7 765.6,1317.3 768,1321.6 770.3,1328 772.7,1335.6 775,1343.6 777.3,1351.4 779.7,1358.7 782,1365.4 784.4,1371.3 786.7,1376.3 789,1380.7 791.4,1384.4 793.7,1387.5 796.1,1390 798.4,1392.1 800.7,1393.9 803.1,1395.3 805.4,1396.5 807.8,1397.5 810.1,1398.4 812.4,1399.2 814.8,1399.8 817.1,1400.4 819.5,1400.9 821.8,1401.3 824.1,1401.7 826.5,1402.1 828.8,1402.4 831.2,1402.7 833.5,1403 835.8,1403.2 838.2,1403.4 840.5,1403.6 842.9,1403.8 845.2,1404 847.5,1404.2 849.9,1404.3 852.2,1404.5 854.6,1404.6 856.9,1404.7 859.3,1404.9 861.6,1405 863.9,1405.1 866.3,1405.2 868.6,1405.3 871,1405.4 873.3,1405.4 875.6,1405.5 878,1405.6 880.3,1405.7 882.7,1405.7 885,1405.8" fill="none" stroke="#ee1a22" stroke-width="2.2"/>
<path d="M510.5,1405 512.8,1405 515.2,1405 517.5,1405 519.9,1405.1 522.2,1405.1 524.5,1405.1 526.9,1405.1 529.2,1405.1 531.6,1405.1 533.9,1405.1 536.2,1405.2 538.6,1405.2 540.9,1405.2 543.3,1405.2 545.6,1405.2 548,1405.2 550.3,1405.2 552.6,1405.2 555,1405.3 557.3,1405.3 559.7,1405.3 562,1405.3 564.3,1405.3 566.7,1405.3 569,1405.3 571.4,1405.4 573.7,1405.4 576,1405.4 578.4,1405.4 580.7,1405.4 583.1,1405.4 585.4,1405.4 587.7,1405.5 590.1,1405.5 592.4,1405.5 594.8,1405.5 597.1,1405.5 599.4,1405.5 601.8,1405.6 604.1,1405.6 606.5,1405.6 608.8,1405.6 611.1,1405.6 613.5,1405.6 615.8,1405.7 618.2,1405.7 620.5,1405.7 622.9,1405.7 625.2,1405.7 627.5,1405.8 629.9,1405.8 632.2,1405.8 634.6,1405.8 636.9,1405.9 639.2,1405.9 641.6,1405.9 643.9,1406 646.3,1406 648.6,1406.1 650.9,1406.1 653.3,1406.1 655.6,1406.2 658,1406.2 660.3,1406.3 662.6,1406.3 665,1406.4 667.3,1406.4 669.7,1406.5 672,1406.6 674.3,1406.6 676.7,1406.7 679,1406.7 681.4,1406.8 683.7,1406.9 686,1406.9 688.4,1407 690.7,1407.1 693.1,1407.1 695.4,1407.2 697.8,1407.3 700.1,1407.3 702.4,1407.4 704.8,1407.4 707.1,1407.5 709.5,1407.5 711.8,1407.6 714.1,1407.6 716.5,1407.7 718.8,1407.7 721.2,1407.7 723.5,1407.7 725.8,1407.8 728.2,1407.8 730.5,1407.8 732.9,1407.8 735.2,1407.8 737.5,1407.8 739.9,1407.8 742.2,1407.8 744.6,1407.8 746.9,1407.7 749.2,1407.7 751.6,1407.7 753.9,1407.7 756.3,1407.6 758.6,1407.6 760.9,1407.6 763.3,1407.5 765.6,1407.5 768,1407.4 770.3,1407.4 772.7,1407.4 775,1407.3 777.3,1407.3 779.7,1407.3 782,1407.2 784.4,1407.2 786.7,1407.2 789,1407.1 791.4,1407.1 793.7,1407.1 796.1,1407.1 798.4,1407 800.7,1407 803.1,1407 805.4,1407 807.8,1407 810.1,1407 812.4,1407 814.8,1407 817.1,1406.9 819.5,1406.9 821.8,1406.9 824.1,1406.9 826.5,1406.9 828.8,1406.9 831.2,1406.9 833.5,1407 835.8,1407 838.2,1407 840.5,1407 842.9,1407 845.2,1407 847.5,1407 849.9,1407 852.2,1407 854.6,1407 856.9,1407 859.3,1407.1 861.6,1407.1 863.9,1407.1 866.3,1407.1 868.6,1407.1 871,1407.1 873.3,1407.1 875.6,1407.1 878,1407.2 880.3,1407.2 882.7,1407.2 885,1407.2" fill="none" stroke="#20d040" stroke-width="1.6"/>
<path d="M510.5,1404.7 512.8,1404.7 515.2,1404.7 517.5,1404.7 519.9,1404.7 522.2,1404.7 524.5,1404.7 526.9,1404.7 529.2,1404.7 531.6,1404.8 533.9,1404.8 536.2,1404.8 538.6,1404.8 540.9,1404.8 543.3,1404.8 545.6,1404.8 548,1404.8 550.3,1404.8 552.6,1404.8 555,1404.8 557.3,1404.8 559.7,1404.8 562,1404.8 564.3,1404.8 566.7,1404.8 569,1404.8 571.4,1404.8 573.7,1404.8 576,1404.8 578.4,1404.8 580.7,1404.8 583.1,1404.8 585.4,1404.8 587.7,1404.8 590.1,1404.8 592.4,1404.8 594.8,1404.8 597.1,1404.8 599.4,1404.8 601.8,1404.8 604.1,1404.8 606.5,1404.8 608.8,1404.7 611.1,1404.7 613.5,1404.7 615.8,1404.7 618.2,1404.7 620.5,1404.7 622.9,1404.7 625.2,1404.6 627.5,1404.6 629.9,1404.6 632.2,1404.6 634.6,1404.5 636.9,1404.5 639.2,1404.5 641.6,1404.4 643.9,1404.4 646.3,1404.4 648.6,1404.3 650.9,1404.3 653.3,1404.2 655.6,1404.2 658,1404.1 660.3,1404 662.6,1404 665,1403.9 667.3,1403.8 669.7,1403.7 672,1403.6 674.3,1403.5 676.7,1403.4 679,1403.3 681.4,1403.1 683.7,1403 686,1402.8 688.4,1402.7 690.7,1402.5 693.1,1402.2 695.4,1402 697.8,1401.7 700.1,1401.4 702.4,1401.1 704.8,1400.7 707.1,1400.3 709.5,1399.9 711.8,1399.3 714.1,1398.7 716.5,1398 718.8,1397.2 721.2,1396.2 723.5,1395 725.8,1393.6 728.2,1391.9 730.5,1389.8 732.9,1387.3 735.2,1384.3 737.5,1380.7 739.9,1376.4 742.2,1371.3 744.6,1365.5 746.9,1358.9 749.2,1351.6 751.6,1343.9 753.9,1335.9 756.3,1328.5 758.6,1322.1 760.9,1317.9 763.3,1316.4 765.6,1317.9 768,1322.1 770.3,1328.5 772.7,1336 775,1343.9 777.3,1351.7 779.7,1359 782,1365.6 784.4,1371.5 786.7,1376.6 789,1380.9 791.4,1384.6 793.7,1387.7 796.1,1390.2 798.4,1392.3 800.7,1394 803.1,1395.5 805.4,1396.7 807.8,1397.7 810.1,1398.6 812.4,1399.3 814.8,1399.9 817.1,1400.5 819.5,1401 821.8,1401.4 824.1,1401.8 826.5,1402.2 828.8,1402.5 831.2,1402.8 833.5,1403.1 835.8,1403.3 838.2,1403.5 840.5,1403.7 842.9,1403.9 845.2,1404.1 847.5,1404.3 849.9,1404.4 852.2,1404.6 854.6,1404.7 856.9,1404.8 859.3,1404.9 861.6,1405 863.9,1405.2 866.3,1405.3 868.6,1405.3 871,1405.4 873.3,1405.5 875.6,1405.6 878,1405.7 880.3,1405.7 882.7,1405.8 885,1405.9" fill="none" stroke="#2a20d8" stroke-width="1.8"/>
<path d="M510.5,1404.9 512.8,1404.9 515.2,1404.9 517.5,1405 519.9,1405 522.2,1405 524.5,1405 526.9,1405 529.2,1405 531.6,1405 533.9,1405 536.2,1405 538.6,1405.1 540.9,1405.1 543.3,1405.1 545.6,1405.1 548,1405.1 550.3,1405.1 552.6,1405.1 555,1405.1 557.3,1405.1 559.7,1405.1 562,1405.1 564.3,1405.2 566.7,1405.2 569,1405.2 571.4,1405.2 573.7,1405.2 576,1405.2 578.4,1405.2 580.7,1405.2 583.1,1405.2 585.4,1405.2 587.7,1405.2 590.1,1405.2 592.4,1405.2 594.8,1405.2 597.1,1405.2 599.4,1405.2 601.8,1405.2 604.1,1405.1 606.5,1405.1 608.8,1405.1 611.1,1405.1 613.5,1405 615.8,1404.9 618.2,1404.9 620.5,1404.8 622.9,1404.7 625.2,1404.5 627.5,1404.4 629.9,1404.2 632.2,1404 634.6,1403.7 636.9,1403.5 639.2,1403.1 641.6,1402.8 643.9,1402.4 646.3,1402 648.6,1401.5 650.9,1401 653.3,1400.5 655.6,1400 658,1399.5 660.3,1399 662.6,1398.5 665,1398 667.3,1397.5 669.7,1397.2 672,1396.8 674.3,1396.6 676.7,1396.5 679,1396.4 681.4,1396.5 683.7,1396.7 686,1396.9 688.4,1397.3 690.7,1397.7 693.1,1398.1 695.4,1398.7 697.8,1399.2 700.1,1399.7 702.4,1400.3 704.8,1400.8 707.1,1401.4 709.5,1401.9 711.8,1402.4 714.1,1402.8 716.5,1403.2 718.8,1403.6 721.2,1403.9 723.5,1404.3 725.8,1404.5 728.2,1404.8 730.5,1405 732.9,1405.2 735.2,1405.3 737.5,1405.5 739.9,1405.6 742.2,1405.7 744.6,1405.8 746.9,1405.9 749.2,1405.9 751.6,1406 753.9,1406 756.3,1406.1 758.6,1406.1 760.9,1406.2 763.3,1406.2 765.6,1406.2 768,1406.2 770.3,1406.3 772.7,1406.3 775,1406.3 777.3,1406.3 779.7,1406.4 782,1406.4 784.4,1406.4 786.7,1406.4 789,1406.5 791.4,1406.5 793.7,1406.5 796.1,1406.5 798.4,1406.5 800.7,1406.6 803.1,1406.6 805.4,1406.6 807.8,1406.6 810.1,1406.6 812.4,1406.7 814.8,1406.7 817.1,1406.7 819.5,1406.7 821.8,1406.7 824.1,1406.7 826.5,1406.8 828.8,1406.8 831.2,1406.8 833.5,1406.8 835.8,1406.8 838.2,1406.8 840.5,1406.9 842.9,1406.9 845.2,1406.9 847.5,1406.9 849.9,1406.9 852.2,1406.9 854.6,1406.9 856.9,1407 859.3,1407 861.6,1407 863.9,1407 866.3,1407 868.6,1407 871,1407.1 873.3,1407.1 875.6,1407.1 878,1407.1 880.3,1407.1 882.7,1407.1 885,1407.1" fill="none" stroke="#10e0e8" stroke-width="1.8"/>
<path d="M510.5,1405 512.8,1405 515.2,1405 517.5,1405 519.9,1405 522.2,1405.1 524.5,1405.1 526.9,1405.1 529.2,1405.1 531.6,1405.1 533.9,1405.1 536.2,1405.1 538.6,1405.2 540.9,1405.2 543.3,1405.2 545.6,1405.2 548,1405.2 550.3,1405.2 552.6,1405.2 555,1405.3 557.3,1405.3 559.7,1405.3 562,1405.3 564.3,1405.3 566.7,1405.3 569,1405.3 571.4,1405.3 573.7,1405.4 576,1405.4 578.4,1405.4 580.7,1405.4 583.1,1405.4 585.4,1405.4 587.7,1405.4 590.1,1405.5 592.4,1405.5 594.8,1405.5 597.1,1405.5 599.4,1405.5 601.8,1405.5 604.1,1405.5 606.5,1405.5 608.8,1405.6 611.1,1405.6 613.5,1405.6 615.8,1405.6 618.2,1405.6 620.5,1405.6 622.9,1405.6 625.2,1405.7 627.5,1405.7 629.9,1405.7 632.2,1405.7 634.6,1405.7 636.9,1405.7 639.2,1405.7 641.6,1405.7 643.9,1405.7 646.3,1405.8 648.6,1405.8 650.9,1405.8 653.3,1405.8 655.6,1405.8 658,1405.8 660.3,1405.8 662.6,1405.8 665,1405.7 667.3,1405.7 669.7,1405.7 672,1405.6 674.3,1405.6 676.7,1405.5 679,1405.4 681.4,1405.3 683.7,1405.1 686,1405 688.4,1404.8 690.7,1404.6 693.1,1404.4 695.4,1404.2 697.8,1404 700.1,1403.8 702.4,1403.5 704.8,1403.3 707.1,1403.1 709.5,1403 711.8,1402.9 714.1,1402.8 716.5,1402.7 718.8,1402.7 721.2,1402.8 723.5,1402.9 725.8,1403 728.2,1403.2 730.5,1403.4 732.9,1403.6 735.2,1403.8 737.5,1404.1 739.9,1404.3 742.2,1404.6 744.6,1404.8 746.9,1405 749.2,1405.2 751.6,1405.4 753.9,1405.6 756.3,1405.8 758.6,1405.9 760.9,1406 763.3,1406.1 765.6,1406.2 768,1406.3 770.3,1406.3 772.7,1406.4 775,1406.4 777.3,1406.5 779.7,1406.5 782,1406.5 784.4,1406.5 786.7,1406.6 789,1406.6 791.4,1406.6 793.7,1406.6 796.1,1406.6 798.4,1406.7 800.7,1406.7 803.1,1406.7 805.4,1406.7 807.8,1406.7 810.1,1406.7 812.4,1406.8 814.8,1406.8 817.1,1406.8 819.5,1406.8 821.8,1406.8 824.1,1406.8 826.5,1406.8 828.8,1406.9 831.2,1406.9 833.5,1406.9 835.8,1406.9 838.2,1406.9 840.5,1406.9 842.9,1406.9 845.2,1407 847.5,1407 849.9,1407 852.2,1407 854.6,1407 856.9,1407 859.3,1407 861.6,1407.1 863.9,1407.1 866.3,1407.1 868.6,1407.1 871,1407.1 873.3,1407.1 875.6,1407.1 878,1407.2 880.3,1407.2 882.7,1407.2 885,1407.2" fill="none" stroke="#8a2ad0" stroke-width="1.8"/>
<path d="M510.5,1405 512.8,1405 515.2,1405 517.5,1405 519.9,1405.1 522.2,1405.1 524.5,1405.1 526.9,1405.1 529.2,1405.1 531.6,1405.1 533.9,1405.1 536.2,1405.2 538.6,1405.2 540.9,1405.2 543.3,1405.2 545.6,1405.2 548,1405.2 550.3,1405.2 552.6,1405.2 555,1405.3 557.3,1405.3 559.7,1405.3 562,1405.3 564.3,1405.3 566.7,1405.3 569,1405.3 571.4,1405.4 573.7,1405.4 576,1405.4 578.4,1405.4 580.7,1405.4 583.1,1405.4 585.4,1405.4 587.7,1405.5 590.1,1405.5 592.4,1405.5 594.8,1405.5 597.1,1405.5 599.4,1405.5 601.8,1405.5 604.1,1405.5 606.5,1405.6 608.8,1405.6 611.1,1405.6 613.5,1405.6 615.8,1405.6 618.2,1405.6 620.5,1405.6 622.9,1405.7 625.2,1405.7 627.5,1405.7 629.9,1405.7 632.2,1405.7 634.6,1405.7 636.9,1405.7 639.2,1405.8 641.6,1405.8 643.9,1405.8 646.3,1405.8 648.6,1405.8 650.9,1405.8 653.3,1405.8 655.6,1405.9 658,1405.9 660.3,1405.9 662.6,1405.9 665,1405.9 667.3,1405.9 669.7,1405.9 672,1405.9 674.3,1406 676.7,1406 679,1406 681.4,1406 683.7,1406 686,1406 688.4,1406 690.7,1406.1 693.1,1406.1 695.4,1406.1 697.8,1406.1 700.1,1406.1 702.4,1406.1 704.8,1406.1 707.1,1406.2 709.5,1406.2 711.8,1406.2 714.1,1406.2 716.5,1406.2 718.8,1406.2 721.2,1406.2 723.5,1406.3 725.8,1406.3 728.2,1406.3 730.5,1406.3 732.9,1406.3 735.2,1406.3 737.5,1406.3 739.9,1406.3 742.2,1406.4 744.6,1406.4 746.9,1406.4 749.2,1406.4 751.6,1406.4 753.9,1406.4 756.3,1406.4 758.6,1406.5 760.9,1406.5 763.3,1406.5 765.6,1406.5 768,1406.5 770.3,1406.5 772.7,1406.5 775,1406.6 777.3,1406.6 779.7,1406.6 782,1406.6 784.4,1406.6 786.7,1406.6 789,1406.6 791.4,1406.7 793.7,1406.7 796.1,1406.7 798.4,1406.7 800.7,1406.7 803.1,1406.7 805.4,1406.7 807.8,1406.7 810.1,1406.8 812.4,1406.8 814.8,1406.8 817.1,1406.8 819.5,1406.8 821.8,1406.8 824.1,1406.8 826.5,1406.9 828.8,1406.9 831.2,1406.9 833.5,1406.9 835.8,1406.9 838.2,1406.9 840.5,1406.9 842.9,1407 845.2,1407 847.5,1407 849.9,1407 852.2,1407 854.6,1407 856.9,1407 859.3,1407 861.6,1407.1 863.9,1407.1 866.3,1407.1 868.6,1407.1 871,1407.1 873.3,1407.1 875.6,1407.1 878,1407.2 880.3,1407.2 882.7,1407.2 885,1407.2" fill="none" stroke="#ff22d8" stroke-width="2.2"/>
</g>
<text x="526.7" y="1093.4" font-size="12.8">CeO<tspan font-size="6.7" dy="5">2</tspan><tspan dy="-5">-750</tspan></text>
<text x="527.8" y="1189.8" font-size="12.8">CeO<tspan font-size="6.7" dy="5">2</tspan><tspan dy="-5">-H750-O350</tspan></text>
<text x="528.4" y="1289.1" font-size="12.8">CeO<tspan font-size="6.7" dy="5">2</tspan><tspan dy="-5">-H750-O450</tspan></text>
<text x="530.6" y="1386.6" font-size="12.8">CeO<tspan font-size="6.7" dy="5">2</tspan><tspan dy="-5">-H750-O550</tspan></text>
<text x="523.0" y="1040.3" font-size="22" text-anchor="start" >F</text>
<line x1="675.5" y1="1093.4" x2="675.5" y2="1068.3" stroke="#222" stroke-width="1.0"/>
<path d="M675.5,1060.3 L672.9,1069.3 L678.1,1069.3 Z" fill="#111"/>
<line x1="715.0" y1="1103.2" x2="715.0" y2="1080.8" stroke="#222" stroke-width="1.0"/>
<path d="M715.0,1072.8 L712.4,1081.8 L717.6,1081.8 Z" fill="#111"/>
<line x1="773.0" y1="1040.3" x2="783.4" y2="1040.3" stroke="#222" stroke-width="1.0"/>
<path d="M791.4,1040.3 L782.4,1037.7 L782.4,1042.9 Z" fill="#111"/>
<rect x="510.3" y="1012.5" width="374.7" height="407.3" fill="none" stroke="#2b2b2b" stroke-width="1.9"/>
<line x1="510.5" y1="1419.8" x2="510.5" y2="1426.8" stroke="#1a1a1a" stroke-width="1.7"/>
<text x="510.5" y="1442.3" font-size="14" text-anchor="middle" >536</text>
<line x1="585.4" y1="1419.8" x2="585.4" y2="1426.8" stroke="#1a1a1a" stroke-width="1.7"/>
<text x="585.4" y="1442.3" font-size="14" text-anchor="middle" >534</text>
<line x1="660.3" y1="1419.8" x2="660.3" y2="1426.8" stroke="#1a1a1a" stroke-width="1.7"/>
<text x="660.3" y="1442.3" font-size="14" text-anchor="middle" >532</text>
<line x1="735.2" y1="1419.8" x2="735.2" y2="1426.8" stroke="#1a1a1a" stroke-width="1.7"/>
<text x="735.2" y="1442.3" font-size="14" text-anchor="middle" >530</text>
<line x1="810.1" y1="1419.8" x2="810.1" y2="1426.8" stroke="#1a1a1a" stroke-width="1.7"/>
<text x="810.1" y="1442.3" font-size="14" text-anchor="middle" >528</text>
<line x1="885.0" y1="1419.8" x2="885.0" y2="1426.8" stroke="#1a1a1a" stroke-width="1.7"/>
<text x="885.0" y="1442.3" font-size="14" text-anchor="middle" >526</text>
<text x="619.8" y="1465.7" font-size="20.5" text-anchor="start" >Binding Enenrgy(eV)</text>
<text x="0" y="0" font-size="20.8" text-anchor="middle" transform="translate(496.1,1216.9) rotate(-90)">Intensity(a.u)</text>
<text x="669.7" y="1040.3" font-size="20">O<tspan font-size="10.5">C</tspan></text>
<text x="709.1" y="1054.4" font-size="20">O<tspan font-size="10.5">V</tspan></text>
<text x="796.8" y="1045.8" font-size="20">O<tspan font-size="10.5">L</tspan></text>
</svg></body></html>
